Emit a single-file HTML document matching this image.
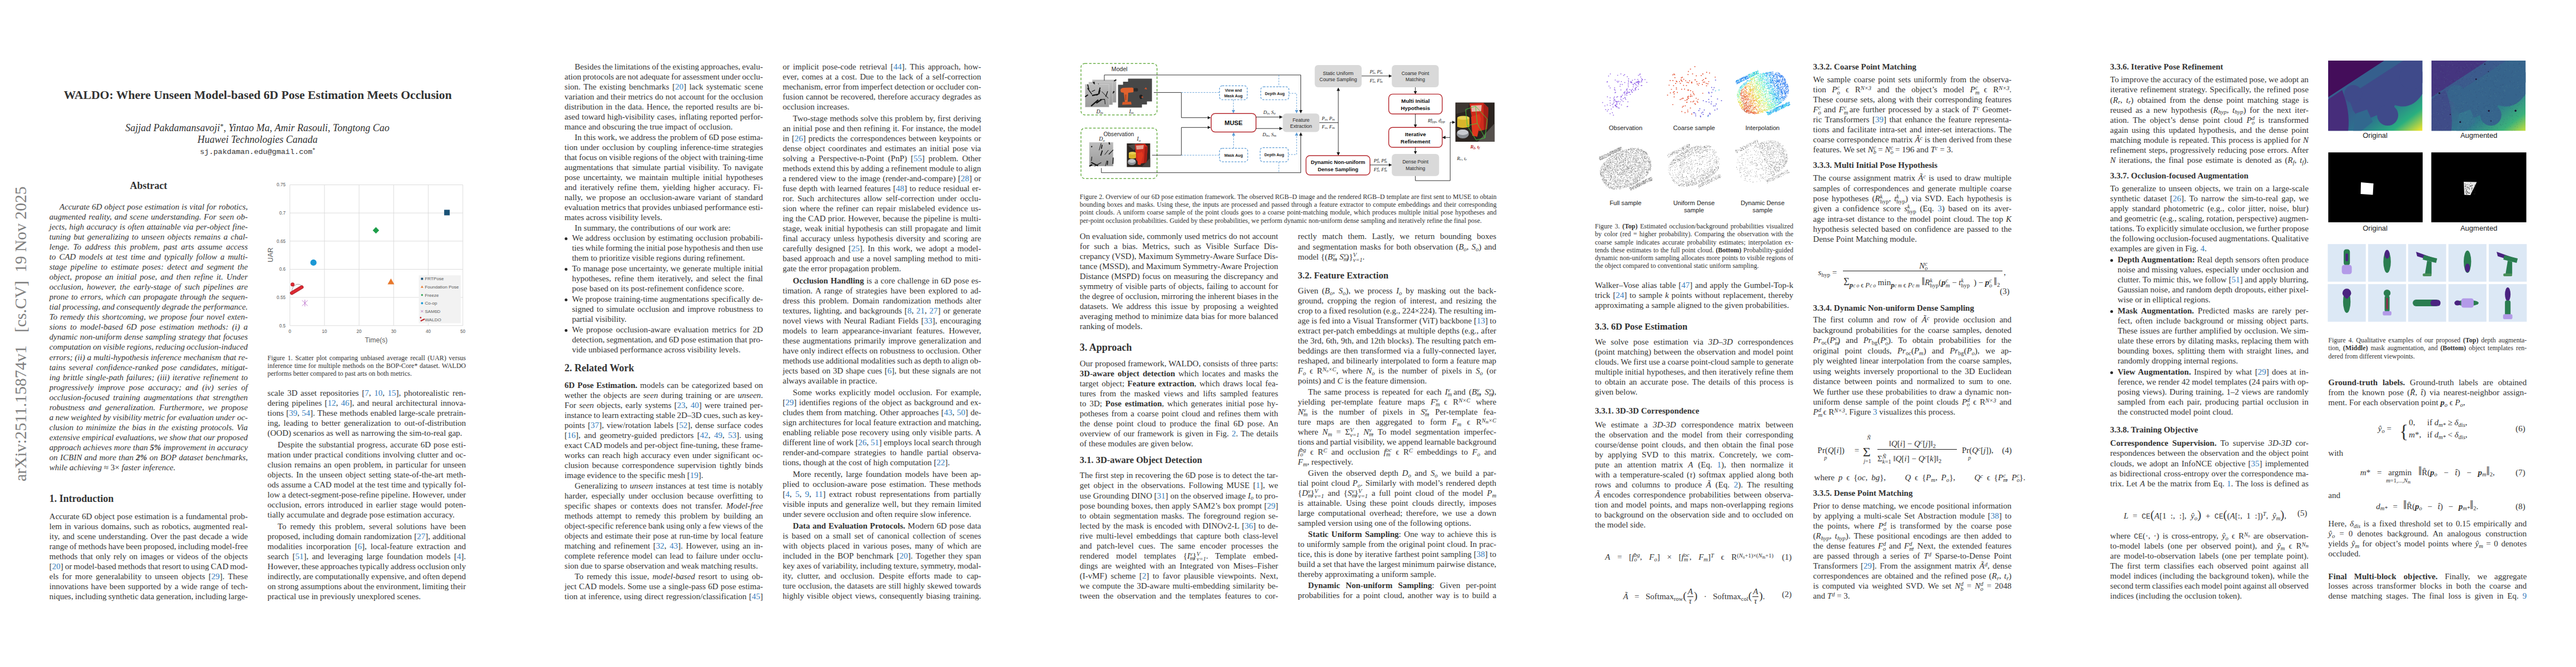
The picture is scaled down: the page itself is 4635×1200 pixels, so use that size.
<!DOCTYPE html><html><head><meta charset="utf-8"><style>
*{margin:0;padding:0}
html,body{width:4635px;height:1200px;overflow:hidden;background:#fff}
body{position:relative;font-family:"Liberation Serif",serif;color:#111}
.l{position:absolute;white-space:nowrap;line-height:1;color:#333;margin-top:1.5px}
.ct{color:#367dbd}
.m{font-style:italic}
.m r, r{font-style:normal}
.sb{font-size:70%;position:relative;top:0.28em;line-height:0}
.sp{font-size:70%;position:relative;top:-0.42em;line-height:0}
.st{position:relative;line-height:0;font-size:70%}
.st .su{position:relative;top:-0.48em}
.st .sl{position:absolute;left:0;top:0.41em;line-height:1}
.st .sua{position:absolute;left:0;top:-0.42em;line-height:1}
.st .slr{position:relative;top:0.357em}
.frac{display:inline-block;vertical-align:-0.52em;text-align:center;line-height:1.05;margin:-2em 1px}
.num{display:block;border-bottom:1px solid #1a1a1a;padding:0 1px}
.den{display:block}
.bul{position:absolute;width:5px;height:5px;border-radius:50%;background:#2a2a2a}
</style></head><body><div class="l " style="left:114.80px;top:159.63px;font-size:21.70px;"><b>WALDO: Where Unseen Model-based 6D Pose Estimation Meets Occlusion</b></div>
<div class="l " style="left:225.40px;top:219.93px;font-size:18.00px;"><i>Sajjad Pakdamansavoji</i><span class=sp>*</span>, <i>Yintao Ma</i>, <i>Amir Rasouli</i>, <i>Tongtong Cao</i></div>
<div class="l " style="left:355.20px;top:240.43px;font-size:18.00px;"><i>Huawei Technologies Canada</i></div>
<div class="l " style="left:359.70px;top:264.69px;font-size:13.50px;color:#333;"><span style="font-family:'Liberation Mono',monospace">sj.pakdaman.edu@gmail.com</span><span class=sp>*</span></div>
<div class="l " style="left:88.80px;width:357.00px;text-align:center;top:323.93px;font-size:18.00px;"><b>Abstract</b></div>
<div class="l " style="left:107.10px;top:363.44px;font-size:15.00px;word-spacing:0.380px;font-style:italic;">Accurate 6D object pose estimation is vital for robotics,</div>
<div class="l " style="left:88.80px;top:381.48px;font-size:15.00px;word-spacing:1.147px;font-style:italic;">augmented reality, and scene understanding. For seen ob-</div>
<div class="l " style="left:88.80px;top:399.51px;font-size:15.00px;word-spacing:0.768px;font-style:italic;">jects, high accuracy is often attainable via per-object fine-</div>
<div class="l " style="left:88.80px;top:417.55px;font-size:15.00px;word-spacing:1.574px;font-style:italic;">tuning but generalizing to unseen objects remains a chal-</div>
<div class="l " style="left:88.80px;top:435.59px;font-size:15.00px;word-spacing:2.957px;font-style:italic;">lenge. To address this problem, past arts assume access</div>
<div class="l " style="left:88.80px;top:453.63px;font-size:15.00px;word-spacing:2.203px;font-style:italic;">to CAD models at test time and typically follow a multi-</div>
<div class="l " style="left:88.80px;top:471.67px;font-size:15.00px;word-spacing:2.656px;font-style:italic;">stage pipeline to estimate poses: detect and segment the</div>
<div class="l " style="left:88.80px;top:489.71px;font-size:15.00px;word-spacing:2.201px;font-style:italic;">object, propose an initial pose, and then refine it. Under</div>
<div class="l " style="left:88.80px;top:507.75px;font-size:15.00px;word-spacing:2.578px;font-style:italic;">occlusion, however, the early-stage of such pipelines are</div>
<div class="l " style="left:88.80px;top:525.78px;font-size:15.00px;word-spacing:1.209px;font-style:italic;">prone to errors, which can propagate through the sequen-</div>
<div class="l " style="left:88.80px;top:543.82px;font-size:15.00px;word-spacing:-0.396px;font-style:italic;">tial processing, and consequently degrade the performance.</div>
<div class="l " style="left:88.80px;top:561.86px;font-size:15.00px;word-spacing:1.244px;font-style:italic;">To remedy this shortcoming, we propose four novel exten-</div>
<div class="l " style="left:88.80px;top:579.90px;font-size:15.00px;word-spacing:2.857px;font-style:italic;">sions to model-based 6D pose estimation methods: (i) a</div>
<div class="l " style="left:88.80px;top:597.94px;font-size:15.00px;word-spacing:0.617px;font-style:italic;">dynamic non-uniform dense sampling strategy that focuses</div>
<div class="l " style="left:88.80px;top:615.98px;font-size:15.00px;word-spacing:-0.366px;font-style:italic;">computation on visible regions, reducing occlusion-induced</div>
<div class="l " style="left:88.80px;top:634.01px;font-size:15.00px;word-spacing:0.116px;font-style:italic;">errors; (ii) a multi-hypothesis inference mechanism that re-</div>
<div class="l " style="left:88.80px;top:652.05px;font-size:15.00px;word-spacing:2.081px;font-style:italic;">tains several confidence-ranked pose candidates, mitigat-</div>
<div class="l " style="left:88.80px;top:670.09px;font-size:15.00px;word-spacing:1.346px;font-style:italic;">ing brittle single-path failures; (iii) iterative refinement to</div>
<div class="l " style="left:88.80px;top:688.13px;font-size:15.00px;word-spacing:3.571px;font-style:italic;">progressively improve pose accuracy; and (iv) series of</div>
<div class="l " style="left:88.80px;top:706.17px;font-size:15.00px;word-spacing:2.730px;font-style:italic;">occlusion-focused training augmentations that strengthen</div>
<div class="l " style="left:88.80px;top:724.21px;font-size:15.00px;word-spacing:3.319px;font-style:italic;">robustness and generalization. Furthermore, we propose</div>
<div class="l " style="left:88.80px;top:742.25px;font-size:15.00px;word-spacing:-0.188px;font-style:italic;">a new weighted by visibility metric for evaluation under oc-</div>
<div class="l " style="left:88.80px;top:760.28px;font-size:15.00px;word-spacing:1.615px;font-style:italic;">clusion to minimize the bias in the existing protocols. Via</div>
<div class="l " style="left:88.80px;top:778.32px;font-size:15.00px;word-spacing:-0.223px;font-style:italic;">extensive empirical evaluations, we show that our proposed</div>
<div class="l " style="left:88.80px;top:796.36px;font-size:15.00px;word-spacing:0.121px;font-style:italic;">approach achieves more than <b>5%</b> improvement in accuracy</div>
<div class="l " style="left:88.80px;top:814.40px;font-size:15.00px;word-spacing:0.688px;font-style:italic;">on ICBIN and more than <b>2%</b> on BOP dataset benchmarks,</div>
<div class="l " style="left:88.80px;top:832.44px;font-size:15.00px;font-style:italic;">while achieving <r>≈ 3×</r> faster inference.</div>
<div class="l " style="left:88.80px;top:886.52px;font-size:18.00px;"><b>1. Introduction</b></div>
<div class="l " style="left:88.80px;top:920.44px;font-size:15.00px;word-spacing:0.473px;">Accurate 6D object pose estimation is a fundamental prob-</div>
<div class="l " style="left:88.80px;top:938.44px;font-size:15.00px;word-spacing:1.094px;">lem in various domains, such as robotics, augmented real-</div>
<div class="l " style="left:88.80px;top:956.44px;font-size:15.00px;word-spacing:1.224px;">ity, and scene understanding. Over the past decade a wide</div>
<div class="l " style="left:88.80px;top:974.44px;font-size:15.00px;word-spacing:-0.531px;">range of methods have been proposed, including model-free</div>
<div class="l " style="left:88.80px;top:992.44px;font-size:15.00px;word-spacing:1.373px;">methods that only rely on images or videos of the objects</div>
<div class="l " style="left:88.80px;top:1010.44px;font-size:15.00px;word-spacing:-0.653px;">[<span class=ct>20</span>] or model-based methods that resort to using CAD mod-</div>
<div class="l " style="left:88.80px;top:1028.44px;font-size:15.00px;word-spacing:2.432px;">els for more generalability to unseen objects [<span class=ct>29</span>]. These</div>
<div class="l " style="left:88.80px;top:1046.44px;font-size:15.00px;word-spacing:1.207px;">innovations have been supported by a wide range of tech-</div>
<div class="l " style="left:88.80px;top:1064.44px;font-size:15.00px;word-spacing:-0.440px;">niques, including synthetic data generation, including large-</div>
<div class="l " style="left:481.30px;top:636.45px;font-size:12.00px;word-spacing:1.752px;">Figure 1. Scatter plot comparing unbiased average recall (UAR) versus</div>
<div class="l " style="left:481.30px;top:650.50px;font-size:12.00px;word-spacing:0.736px;">inference time for multiple methods on the BOP-Core* dataset. WALDO</div>
<div class="l " style="left:481.30px;top:664.55px;font-size:12.00px;">performs better compared to past arts on both metrics.</div>
<div class="l " style="left:481.30px;top:698.44px;font-size:15.00px;word-spacing:1.875px;">scale 3D asset repositories [<span class=ct>7</span>, <span class=ct>10</span>, <span class=ct>15</span>], photorealistic ren-</div>
<div class="l " style="left:481.30px;top:716.44px;font-size:15.00px;word-spacing:1.551px;">dering pipelines [<span class=ct>12</span>, <span class=ct>46</span>], and neural architectural innova-</div>
<div class="l " style="left:481.30px;top:734.44px;font-size:15.00px;word-spacing:0.679px;">tions [<span class=ct>39</span>, <span class=ct>54</span>]. These methods enabled large-scale pretrain-</div>
<div class="l " style="left:481.30px;top:752.44px;font-size:15.00px;word-spacing:2.362px;">ing, leading to better generalization to out-of-distribution</div>
<div class="l " style="left:481.30px;top:770.44px;font-size:15.00px;">(OOD) scenarios as well as narrowing the sim-to-real gap.</div>
<div class="l " style="left:499.60px;top:791.44px;font-size:15.00px;word-spacing:1.138px;">Despite the substantial progress, accurate 6D pose esti-</div>
<div class="l " style="left:481.30px;top:809.44px;font-size:15.00px;word-spacing:0.596px;">mation under practical conditions involving clutter and oc-</div>
<div class="l " style="left:481.30px;top:827.44px;font-size:15.00px;word-spacing:1.355px;">clusion remains an open problem, in particular for unseen</div>
<div class="l " style="left:481.30px;top:845.44px;font-size:15.00px;word-spacing:1.612px;">objects. In the unseen object setting state-of-the-art meth-</div>
<div class="l " style="left:481.30px;top:863.44px;font-size:15.00px;word-spacing:0.226px;">ods assume a CAD model at the test time and typically fol-</div>
<div class="l " style="left:481.30px;top:881.44px;font-size:15.00px;word-spacing:0.297px;">low a detect-segment-pose-refine pipeline. However, under</div>
<div class="l " style="left:481.30px;top:899.44px;font-size:15.00px;word-spacing:1.967px;">occlusion, errors introduced in earlier stage would poten-</div>
<div class="l " style="left:481.30px;top:917.44px;font-size:15.00px;">tially accumulate and degrade pose estimation accuracy.</div>
<div class="l " style="left:499.60px;top:938.44px;font-size:15.00px;word-spacing:3.308px;">To remedy this problem, several solutions have been</div>
<div class="l " style="left:481.30px;top:956.44px;font-size:15.00px;word-spacing:0.497px;">proposed, including domain randomization [<span class=ct>27</span>], additional</div>
<div class="l " style="left:481.30px;top:974.44px;font-size:15.00px;word-spacing:3.259px;">modalities incorporation [<span class=ct>6</span>], local-feature extraction and</div>
<div class="l " style="left:481.30px;top:992.44px;font-size:15.00px;word-spacing:2.779px;">search [<span class=ct>51</span>], and leveraging large foundation models [<span class=ct>4</span>].</div>
<div class="l " style="left:481.30px;top:1010.44px;font-size:15.00px;word-spacing:-0.591px;">However, these approaches typically address occlusion only</div>
<div class="l " style="left:481.30px;top:1028.44px;font-size:15.00px;word-spacing:-0.180px;">indirectly, are computationally expensive, and often depend</div>
<div class="l " style="left:481.30px;top:1046.44px;font-size:15.00px;word-spacing:-0.306px;">on strong assumptions about the environment, limiting their</div>
<div class="l " style="left:481.30px;top:1064.44px;font-size:15.00px;">practical use in previously unexplored scenes.</div>
<div style="position:absolute;left:48.4px;top:866.4px;transform-origin:0 0;transform:rotate(-90deg);white-space:nowrap;font-family:'Liberation Serif',serif;font-size:29.6px;line-height:1;color:#808080"><span style="position:relative;top:-24.79px">arXiv:2511.15874v1</span></div>
<div style="position:absolute;left:48.4px;top:597.6px;transform-origin:0 0;transform:rotate(-90deg);white-space:nowrap;font-family:'Liberation Serif',serif;font-size:29.6px;line-height:1;color:#808080"><span style="position:relative;top:-24.79px">[cs.CV]</span></div>
<div style="position:absolute;left:48.4px;top:489.5px;transform-origin:0 0;transform:rotate(-90deg);white-space:nowrap;font-family:'Liberation Serif',serif;font-size:29.6px;line-height:1;color:#808080"><span style="position:relative;top:-24.79px">19 Nov 2025</span></div>
<div class="l " style="left:1034.10px;top:111.44px;font-size:15.00px;word-spacing:-0.532px;">Besides the limitations of the existing approaches, evalu-</div>
<div class="l " style="left:1015.80px;top:129.44px;font-size:15.00px;word-spacing:-0.672px;">ation protocols are not adequate for assessment under occlu-</div>
<div class="l " style="left:1015.80px;top:147.44px;font-size:15.00px;word-spacing:1.766px;">sion. The existing benchmarks [<span class=ct>20</span>] lack systematic scene</div>
<div class="l " style="left:1015.80px;top:165.44px;font-size:15.00px;word-spacing:0.280px;">variation and their metrics do not account for the occlusion</div>
<div class="l " style="left:1015.80px;top:183.44px;font-size:15.00px;word-spacing:1.207px;">distribution in the data. Hence, the reported results are bi-</div>
<div class="l " style="left:1015.80px;top:201.44px;font-size:15.00px;word-spacing:0.609px;">ased toward high-visibility cases, inflating reported perfor-</div>
<div class="l " style="left:1015.80px;top:219.44px;font-size:15.00px;">mance and obscuring the true impact of occlusion.</div>
<div class="l " style="left:1034.10px;top:238.27px;font-size:15.00px;word-spacing:-0.082px;">In this work, we address the problem of 6D pose estima-</div>
<div class="l " style="left:1015.80px;top:256.27px;font-size:15.00px;word-spacing:1.323px;">tion under occlusion by coupling inference-time strategies</div>
<div class="l " style="left:1015.80px;top:274.27px;font-size:15.00px;word-spacing:-0.372px;">that focus on visible regions of the object with training-time</div>
<div class="l " style="left:1015.80px;top:292.27px;font-size:15.00px;word-spacing:2.185px;">augmentations that simulate partial visibility. To navigate</div>
<div class="l " style="left:1015.80px;top:310.27px;font-size:15.00px;word-spacing:2.521px;">pose uncertainty, we maintain multiple initial hypotheses</div>
<div class="l " style="left:1015.80px;top:328.27px;font-size:15.00px;word-spacing:2.645px;">and iteratively refine them, yielding higher accuracy. Fi-</div>
<div class="l " style="left:1015.80px;top:346.27px;font-size:15.00px;word-spacing:2.228px;">nally, we propose an occlusion-aware variant of standard</div>
<div class="l " style="left:1015.80px;top:364.27px;font-size:15.00px;word-spacing:-0.203px;">evaluation metrics that provides unbiased performance esti-</div>
<div class="l " style="left:1015.80px;top:382.27px;font-size:15.00px;">mates across visibility levels.</div>
<div class="l " style="left:1034.10px;top:401.10px;font-size:15.00px;">In summary, the contributions of our work are:</div>
<div class=bul style="left:1016.2px;top:427.0px"></div>
<div class="l " style="left:1029.20px;top:419.94px;font-size:15.00px;word-spacing:0.814px;">We address occlusion by estimating occlusion probabili-</div>
<div class="l " style="left:1029.20px;top:437.94px;font-size:15.00px;word-spacing:-0.567px;">ties while forming the initial pose hypothesis and then use</div>
<div class="l " style="left:1029.20px;top:455.94px;font-size:15.00px;">them to prioritize visible regions during refinement.</div>
<div class=bul style="left:1016.2px;top:481.8px"></div>
<div class="l " style="left:1029.20px;top:474.77px;font-size:15.00px;word-spacing:0.581px;">To manage pose uncertainty, we generate multiple initial</div>
<div class="l " style="left:1029.20px;top:492.77px;font-size:15.00px;word-spacing:2.396px;">hypotheses, refine them iteratively, and select the final</div>
<div class="l " style="left:1029.20px;top:510.77px;font-size:15.00px;">pose based on its post-refinement confidence score.</div>
<div class=bul style="left:1016.2px;top:536.7px"></div>
<div class="l " style="left:1029.20px;top:529.60px;font-size:15.00px;word-spacing:0.733px;">We propose training-time augmentations specifically de-</div>
<div class="l " style="left:1029.20px;top:547.60px;font-size:15.00px;word-spacing:1.650px;">signed to simulate occlusion and improve robustness to</div>
<div class="l " style="left:1029.20px;top:565.60px;font-size:15.00px;">partial visibility.</div>
<div class=bul style="left:1016.2px;top:591.5px"></div>
<div class="l " style="left:1029.20px;top:584.44px;font-size:15.00px;word-spacing:2.209px;">We propose occlusion-aware evaluation metrics for 2D</div>
<div class="l " style="left:1029.20px;top:602.44px;font-size:15.00px;word-spacing:-0.367px;">detection, segmentation, and 6D pose estimation that pro-</div>
<div class="l " style="left:1029.20px;top:620.44px;font-size:15.00px;">vide unbiased performance across visibility levels.</div>
<div class="l " style="left:1015.80px;top:651.72px;font-size:18.00px;"><b>2. Related Work</b></div>
<div class="l " style="left:1015.80px;top:684.24px;font-size:15.00px;word-spacing:1.146px;"><b>6D Pose Estimation.</b> models can be categorized based on</div>
<div class="l " style="left:1015.80px;top:702.24px;font-size:15.00px;word-spacing:1.625px;">wether the objects are <i>seen</i> during training or are <i>unseen</i>.</div>
<div class="l " style="left:1015.80px;top:720.24px;font-size:15.00px;word-spacing:1.516px;">For <i>seen</i> objects, early systems [<span class=ct>23</span>, <span class=ct>40</span>] were trained per-</div>
<div class="l " style="left:1015.80px;top:738.24px;font-size:15.00px;word-spacing:-0.413px;">instance to learn extracting stable 2D–3D cues, such as key-</div>
<div class="l " style="left:1015.80px;top:756.24px;font-size:15.00px;word-spacing:1.429px;">points [<span class=ct>37</span>], view/rotation labels [<span class=ct>52</span>], dense surface codes</div>
<div class="l " style="left:1015.80px;top:774.24px;font-size:15.00px;word-spacing:2.737px;">[<span class=ct>16</span>], and geometry-guided predictors [<span class=ct>42</span>, <span class=ct>49</span>, <span class=ct>53</span>]. using</div>
<div class="l " style="left:1015.80px;top:792.24px;font-size:15.00px;word-spacing:0.107px;">exact CAD models and per-object fine-tuning, these frame-</div>
<div class="l " style="left:1015.80px;top:810.24px;font-size:15.00px;word-spacing:1.520px;">works can reach high accuracy even under significant oc-</div>
<div class="l " style="left:1015.80px;top:828.24px;font-size:15.00px;word-spacing:2.497px;">clusion because correspondence supervision tightly binds</div>
<div class="l " style="left:1015.80px;top:846.24px;font-size:15.00px;">image evidence to the specific mesh [<span class=ct>19</span>].</div>
<div class="l " style="left:1034.10px;top:865.34px;font-size:15.00px;word-spacing:1.201px;">Generalizing to <i>unseen</i> instances at test time is notably</div>
<div class="l " style="left:1015.80px;top:883.34px;font-size:15.00px;word-spacing:3.161px;">harder, especially under occlusion because overfitting to</div>
<div class="l " style="left:1015.80px;top:901.34px;font-size:15.00px;word-spacing:2.877px;">specific shapes or contexts does not transfer. <i>Model-free</i></div>
<div class="l " style="left:1015.80px;top:919.34px;font-size:15.00px;word-spacing:2.965px;">methods attempt to remedy this problem by building an</div>
<div class="l " style="left:1015.80px;top:937.34px;font-size:15.00px;word-spacing:-0.457px;">object-specific reference bank using only a few views of the</div>
<div class="l " style="left:1015.80px;top:955.34px;font-size:15.00px;word-spacing:0.653px;">objects and estimate their pose at run-time by local feature</div>
<div class="l " style="left:1015.80px;top:973.34px;font-size:15.00px;word-spacing:1.951px;">matching and refinement [<span class=ct>32</span>, <span class=ct>43</span>]. However, using an in-</div>
<div class="l " style="left:1015.80px;top:991.34px;font-size:15.00px;word-spacing:1.314px;">complete reference model can lead to failure under occlu-</div>
<div class="l " style="left:1015.80px;top:1009.34px;font-size:15.00px;">sion due to sparse observation and weak matching results.</div>
<div class="l " style="left:1034.10px;top:1028.44px;font-size:15.00px;word-spacing:2.212px;">To remedy this issue, <i>model-based</i> resort to using ob-</div>
<div class="l " style="left:1015.80px;top:1046.44px;font-size:15.00px;word-spacing:0.599px;">ject CAD models. Some use a single-pass 6D pose estima-</div>
<div class="l " style="left:1015.80px;top:1064.44px;font-size:15.00px;word-spacing:0.698px;">tion at inference, using direct regression/classification [<span class=ct>45</span>]</div>
<div class="l " style="left:1408.30px;top:111.64px;font-size:15.00px;word-spacing:2.304px;">or implicit pose-code retrieval [<span class=ct>44</span>]. This approach, how-</div>
<div class="l " style="left:1408.30px;top:129.64px;font-size:15.00px;word-spacing:1.500px;">ever, comes at a cost. Due to the lack of a self-correction</div>
<div class="l " style="left:1408.30px;top:147.64px;font-size:15.00px;word-spacing:-0.406px;">mechanism, error from imperfect detection or occluder con-</div>
<div class="l " style="left:1408.30px;top:165.64px;font-size:15.00px;word-spacing:0.431px;">fusion cannot be recovered, therefore accuracy degrades as</div>
<div class="l " style="left:1408.30px;top:183.64px;font-size:15.00px;">occlusion increases.</div>
<div class="l " style="left:1426.60px;top:204.90px;font-size:15.00px;word-spacing:0.587px;">Two-stage methods solve this problem by, first deriving</div>
<div class="l " style="left:1408.30px;top:222.90px;font-size:15.00px;word-spacing:0.625px;">an initial pose and then refining it. For instance, the model</div>
<div class="l " style="left:1408.30px;top:240.90px;font-size:15.00px;word-spacing:1.074px;">in [<span class=ct>26</span>] predicts the correspondences between keypoints or</div>
<div class="l " style="left:1408.30px;top:258.90px;font-size:15.00px;word-spacing:1.824px;">dense object coordinates and estimates an initial pose via</div>
<div class="l " style="left:1408.30px;top:276.90px;font-size:15.00px;word-spacing:3.049px;">solving a Perspective-n-Point (PnP) [<span class=ct>55</span>] problem. Other</div>
<div class="l " style="left:1408.30px;top:294.90px;font-size:15.00px;word-spacing:-0.372px;">methods extend this by adding a refinement module to align</div>
<div class="l " style="left:1408.30px;top:312.90px;font-size:15.00px;word-spacing:0.412px;">a rendered view to the image (render-and-compare) [<span class=ct>28</span>] or</div>
<div class="l " style="left:1408.30px;top:330.90px;font-size:15.00px;word-spacing:0.688px;">fuse depth with learned features [<span class=ct>48</span>] to reduce residual er-</div>
<div class="l " style="left:1408.30px;top:348.90px;font-size:15.00px;word-spacing:2.508px;">ror. Such architectures allow self-correction under occlu-</div>
<div class="l " style="left:1408.30px;top:366.90px;font-size:15.00px;word-spacing:1.832px;">sion where the refiner can repair mislabeled evidence us-</div>
<div class="l " style="left:1408.30px;top:384.90px;font-size:15.00px;word-spacing:0.344px;">ing the CAD prior. However, because the pipeline is multi-</div>
<div class="l " style="left:1408.30px;top:402.90px;font-size:15.00px;word-spacing:1.145px;">stage, weak initial hypothesis can still propagate and limit</div>
<div class="l " style="left:1408.30px;top:420.90px;font-size:15.00px;word-spacing:1.670px;">final accuracy unless hypothesis diversity and scoring are</div>
<div class="l " style="left:1408.30px;top:438.90px;font-size:15.00px;word-spacing:2.130px;">carefully designed [<span class=ct>25</span>]. In this work, we adopt a model-</div>
<div class="l " style="left:1408.30px;top:456.90px;font-size:15.00px;word-spacing:1.295px;">based approach and use a novel sampling method to miti-</div>
<div class="l " style="left:1408.30px;top:474.90px;font-size:15.00px;">gate the error propagation problem.</div>
<div class="l " style="left:1426.60px;top:496.16px;font-size:15.00px;word-spacing:0.737px;"><b>Occlusion Handling</b> is a core challenge in 6D pose es-</div>
<div class="l " style="left:1408.30px;top:514.16px;font-size:15.00px;word-spacing:1.993px;">timation. A range of strategies have been explored to ad-</div>
<div class="l " style="left:1408.30px;top:532.16px;font-size:15.00px;word-spacing:2.635px;">dress this problem. Domain randomization methods alter</div>
<div class="l " style="left:1408.30px;top:550.16px;font-size:15.00px;word-spacing:1.092px;">textures, lighting, and backgrounds [<span class=ct>8</span>, <span class=ct>21</span>, <span class=ct>27</span>] or generate</div>
<div class="l " style="left:1408.30px;top:568.16px;font-size:15.00px;word-spacing:1.248px;">novel views with Neural Radiant Fields [<span class=ct>33</span>], encouraging</div>
<div class="l " style="left:1408.30px;top:586.16px;font-size:15.00px;word-spacing:3.634px;">models to learn appearance-invariant features. However,</div>
<div class="l " style="left:1408.30px;top:604.16px;font-size:15.00px;word-spacing:1.506px;">these augmentations primarily improve generalization and</div>
<div class="l " style="left:1408.30px;top:622.16px;font-size:15.00px;word-spacing:0.139px;">have only indirect effects on robustness to occlusion. Other</div>
<div class="l " style="left:1408.30px;top:640.16px;font-size:15.00px;word-spacing:-0.559px;">methods use additional modalities such as depth to align ob-</div>
<div class="l " style="left:1408.30px;top:658.16px;font-size:15.00px;word-spacing:0.871px;">jects based on 3D shape cues [<span class=ct>6</span>], but these signals are not</div>
<div class="l " style="left:1408.30px;top:676.16px;font-size:15.00px;">always available in practice.</div>
<div class="l " style="left:1426.60px;top:697.42px;font-size:15.00px;word-spacing:2.429px;">Some works explicitly model occlusion. For example,</div>
<div class="l " style="left:1408.30px;top:715.42px;font-size:15.00px;word-spacing:0.743px;">[<span class=ct>29</span>] identifies regions of the object as background and ex-</div>
<div class="l " style="left:1408.30px;top:733.42px;font-size:15.00px;word-spacing:0.680px;">cludes them from matching. Other approaches [<span class=ct>43</span>, <span class=ct>50</span>] de-</div>
<div class="l " style="left:1408.30px;top:751.42px;font-size:15.00px;word-spacing:-0.049px;">sign architectures for local feature extraction and matching,</div>
<div class="l " style="left:1408.30px;top:769.42px;font-size:15.00px;word-spacing:1.041px;">enabling reliable pose recovery using only visible parts. A</div>
<div class="l " style="left:1408.30px;top:787.42px;font-size:15.00px;word-spacing:-0.293px;">different line of work [<span class=ct>26</span>, <span class=ct>51</span>] employs local search through</div>
<div class="l " style="left:1408.30px;top:805.42px;font-size:15.00px;word-spacing:3.741px;">render-and-compare strategies to handle partial observa-</div>
<div class="l " style="left:1408.30px;top:823.42px;font-size:15.00px;">tions, though at the cost of high computation [<span class=ct>22</span>].</div>
<div class="l " style="left:1426.60px;top:844.68px;font-size:15.00px;word-spacing:2.151px;">More recently, large foundation models have been ap-</div>
<div class="l " style="left:1408.30px;top:862.68px;font-size:15.00px;word-spacing:2.406px;">plied to occlusion-aware pose estimation. These methods</div>
<div class="l " style="left:1408.30px;top:880.68px;font-size:15.00px;word-spacing:2.568px;">[<span class=ct>4</span>, <span class=ct>5</span>, <span class=ct>9</span>, <span class=ct>11</span>] extract robust representations from partially</div>
<div class="l " style="left:1408.30px;top:898.68px;font-size:15.00px;word-spacing:1.043px;">visible inputs and generalize well, but they remain limited</div>
<div class="l " style="left:1408.30px;top:916.68px;font-size:15.00px;">under severe occlusion and often require slow inference.</div>
<div class="l " style="left:1426.60px;top:937.94px;font-size:15.00px;word-spacing:0.805px;"><b>Data and Evaluation Protocols.</b> Modern 6D pose data</div>
<div class="l " style="left:1408.30px;top:955.94px;font-size:15.00px;word-spacing:2.377px;">is based on a small set of canonical collection of scenes</div>
<div class="l " style="left:1408.30px;top:973.94px;font-size:15.00px;word-spacing:2.361px;">with objects placed in various poses, many of which are</div>
<div class="l " style="left:1408.30px;top:991.94px;font-size:15.00px;word-spacing:1.900px;">included in the BOP benchmark [<span class=ct>20</span>]. Together they span</div>
<div class="l " style="left:1408.30px;top:1009.94px;font-size:15.00px;word-spacing:-0.257px;">key axes of variability, including texture, symmetry, modal-</div>
<div class="l " style="left:1408.30px;top:1027.94px;font-size:15.00px;word-spacing:3.670px;">ity, clutter, and occlusion. Despite efforts made to cap-</div>
<div class="l " style="left:1408.30px;top:1045.94px;font-size:15.00px;word-spacing:0.625px;">ture occlusion, the datasets are still highly skewed towards</div>
<div class="l " style="left:1408.30px;top:1063.94px;font-size:15.00px;word-spacing:1.315px;">highly visible object views, consequently biasing training.</div>
<div class="l " style="left:1942.80px;top:346.45px;font-size:12.00px;word-spacing:0.072px;">Figure 2. Overview of our 6D pose estimation framework. The observed RGB–D image and the rendered RGB–D template are first sent to MUSE to obtain</div>
<div class="l " style="left:1942.80px;top:360.72px;font-size:12.00px;word-spacing:0.786px;">bounding boxes and masks. Using these, the inputs are processed and passed through a feature extractor to compute embeddings and their corresponding</div>
<div class="l " style="left:1942.80px;top:374.98px;font-size:12.00px;word-spacing:0.946px;">point clouds. A uniform coarse sample of the point clouds goes to a coarse point-matching module, which produces multiple initial pose hypotheses and</div>
<div class="l " style="left:1942.80px;top:389.25px;font-size:12.00px;">per-point occlusion probabilities. Guided by these probabilities, we perform dynamic non-uniform dense sampling and iteratively refine the final pose.</div>
<div class="l " style="left:1942.80px;top:416.44px;font-size:15.00px;word-spacing:0.207px;">On evaluation side, commonly used metrics do not account</div>
<div class="l " style="left:1942.80px;top:434.44px;font-size:15.00px;word-spacing:4.481px;">for such a bias. Metrics, such as Visible Surface Dis-</div>
<div class="l " style="left:1942.80px;top:452.44px;font-size:15.00px;word-spacing:0.028px;">crepancy (VSD), Maximum Symmetry-Aware Surface Dis-</div>
<div class="l " style="left:1942.80px;top:470.44px;font-size:15.00px;word-spacing:0.022px;">tance (MSSD), and Maximum Symmetry-Aware Projection</div>
<div class="l " style="left:1942.80px;top:488.44px;font-size:15.00px;word-spacing:0.833px;">Distance (MSPD) focus on measuring the discrepancy and</div>
<div class="l " style="left:1942.80px;top:506.44px;font-size:15.00px;word-spacing:0.878px;">symmetry of visible parts of objects, failing to account for</div>
<div class="l " style="left:1942.80px;top:524.44px;font-size:15.00px;word-spacing:-0.043px;">the degree of occlusion, mirroring the inherent biases in the</div>
<div class="l " style="left:1942.80px;top:542.44px;font-size:15.00px;word-spacing:2.891px;">datasets. We address this issue by proposing a weighted</div>
<div class="l " style="left:1942.80px;top:560.44px;font-size:15.00px;word-spacing:0.475px;">averaging method to minimize data bias for more balanced</div>
<div class="l " style="left:1942.80px;top:578.44px;font-size:15.00px;">ranking of models.</div>
<div class="l " style="left:1942.80px;top:614.22px;font-size:18.00px;"><b>3. Approach</b></div>
<div class="l " style="left:1942.80px;top:645.54px;font-size:15.00px;word-spacing:0.277px;">Our proposed framework, WALDO, consists of three parts:</div>
<div class="l " style="left:1942.80px;top:663.58px;font-size:15.00px;word-spacing:2.183px;"><b>3D-aware object detection</b> which locates and masks the</div>
<div class="l " style="left:1942.80px;top:681.61px;font-size:15.00px;word-spacing:1.810px;">target object; <b>Feature extraction</b>, which draws local fea-</div>
<div class="l " style="left:1942.80px;top:699.65px;font-size:15.00px;word-spacing:3.387px;">tures from the masked views and lifts sampled features</div>
<div class="l " style="left:1942.80px;top:717.69px;font-size:15.00px;word-spacing:2.184px;">to 3D; <b>Pose estimation</b>, which generates initial pose hy-</div>
<div class="l " style="left:1942.80px;top:735.73px;font-size:15.00px;word-spacing:1.575px;">potheses from a coarse point cloud and refines them with</div>
<div class="l " style="left:1942.80px;top:753.76px;font-size:15.00px;word-spacing:2.998px;">the dense point cloud to produce the final 6D pose. An</div>
<div class="l " style="left:1942.80px;top:771.80px;font-size:15.00px;word-spacing:1.317px;">overview of our framework is given in Fig. <span class=ct>2</span>. The details</div>
<div class="l " style="left:1942.80px;top:789.84px;font-size:15.00px;">of these modules are given below.</div>
<div class="l " style="left:1942.80px;top:818.58px;font-size:16.50px;"><b>3.1. 3D-aware Object Detection</b></div>
<div class="l " style="left:1942.80px;top:846.84px;font-size:15.00px;word-spacing:0.340px;">The first step in recovering the 6D pose is to detect the tar-</div>
<div class="l " style="left:1942.80px;top:864.93px;font-size:15.00px;word-spacing:2.545px;">get object in the observations. Following MUSE [<span class=ct>1</span>], we</div>
<div class="l " style="left:1942.80px;top:883.02px;font-size:15.00px;word-spacing:0.097px;">use Grounding DINO [<span class=ct>31</span>] on the observed image <span class=m>I<span class=sb>o</span></span> to pro-</div>
<div class="l " style="left:1942.80px;top:901.11px;font-size:15.00px;word-spacing:0.512px;">pose bounding boxes, then apply SAM2’s box prompt [<span class=ct>29</span>]</div>
<div class="l " style="left:1942.80px;top:919.20px;font-size:15.00px;word-spacing:2.121px;">to obtain segmentation masks. The foreground region se-</div>
<div class="l " style="left:1942.80px;top:937.30px;font-size:15.00px;word-spacing:1.014px;">lected by the mask is encoded with DINOv2-L [<span class=ct>36</span>] to de-</div>
<div class="l " style="left:1942.80px;top:955.39px;font-size:15.00px;word-spacing:2.711px;">rive multi-level embeddings that capture both class-level</div>
<div class="l " style="left:1942.80px;top:973.48px;font-size:15.00px;word-spacing:4.987px;">and patch-level cues. The same encoder processes the</div>
<div class="l " style="left:1942.80px;top:991.57px;font-size:15.00px;word-spacing:9.134px;">rendered model templates <span class=m><r>{</r>I<span class=st><span class=su>v</span><span class=sl>m</span></span><r>}</r><span class=st><span class=sua>V</span><span class=slr>v=1</span></span></span><r>.</r> Template embed-</div>
<div class="l " style="left:1942.80px;top:1009.66px;font-size:15.00px;word-spacing:2.855px;">dings are weighted with an Integrated von Mises–Fisher</div>
<div class="l " style="left:1942.80px;top:1027.75px;font-size:15.00px;word-spacing:2.734px;">(I-vMF) scheme [<span class=ct>2</span>] to favor plausible viewpoints. Next,</div>
<div class="l " style="left:1942.80px;top:1045.85px;font-size:15.00px;word-spacing:1.323px;">we compute the 3D-aware multi-embedding similarity be-</div>
<div class="l " style="left:1942.80px;top:1063.94px;font-size:15.00px;word-spacing:2.803px;">tween the observation and the templates features to cor-</div>
<div class="l " style="left:2335.30px;top:416.94px;font-size:15.00px;word-spacing:5.853px;">rectly match them. Lastly, we return bounding boxes</div>
<div class="l " style="left:2335.30px;top:435.19px;font-size:15.00px;word-spacing:1.393px;">and segmentation masks for both observation (<span class=m>B<span class=sb>o</span><r>, </r>S<span class=sb>o</span></span>) and</div>
<div class="l " style="left:2335.30px;top:453.44px;font-size:15.00px;">model <span class=m><r>{(</r>B<span class=st><span class=su>v</span><span class=sl>m</span></span><r>, </r>S<span class=st><span class=su>v</span><span class=sl>m</span></span><r>)}</r><span class=st><span class=sua>V</span><span class=slr>v=1</span></span></span>.</div>
<div class="l " style="left:2335.30px;top:486.18px;font-size:16.50px;"><b>3.2. Feature Extraction</b></div>
<div class="l " style="left:2335.30px;top:514.44px;font-size:15.00px;word-spacing:2.880px;">Given (<span class=m>B<span class=sb>o</span><r>, </r>S<span class=sb>o</span></span>), we process <span class=m>I<span class=sb>o</span></span> by masking out the back-</div>
<div class="l " style="left:2335.30px;top:532.44px;font-size:15.00px;word-spacing:2.865px;">ground, cropping the region of interest, and resizing the</div>
<div class="l " style="left:2335.30px;top:550.44px;font-size:15.00px;word-spacing:-0.170px;">crop to a fixed resolution (e.g., 224×224). The resulting im-</div>
<div class="l " style="left:2335.30px;top:568.44px;font-size:15.00px;word-spacing:-0.002px;">age is fed into a Visual Transformer (ViT) backbone [<span class=ct>13</span>] to</div>
<div class="l " style="left:2335.30px;top:586.44px;font-size:15.00px;word-spacing:0.467px;">extract per-patch embeddings at multiple depths (e.g., after</div>
<div class="l " style="left:2335.30px;top:604.44px;font-size:15.00px;word-spacing:0.402px;">the 3rd, 6th, 9th, and 12th blocks). The resulting patch em-</div>
<div class="l " style="left:2335.30px;top:622.44px;font-size:15.00px;word-spacing:1.105px;">beddings are then transformed via a fully-connected layer,</div>
<div class="l " style="left:2335.30px;top:640.44px;font-size:15.00px;word-spacing:0.527px;">reshaped, and bilinearly interpolated to form a feature map</div>
<div class="l " style="left:2335.30px;top:658.44px;font-size:15.00px;word-spacing:3.052px;"><span class=m>F<span class=sb>o</span></span> <r>ϵ</r> <r>R</r><span class=m><span class=sp>N<span class=sb>o</span>×C</span></span>, where <span class=m>N<span class=sb>o</span></span> is the number of pixels in <span class=m>S<span class=sb>o</span></span> (or</div>
<div class="l " style="left:2335.30px;top:676.44px;font-size:15.00px;">points) and <span class=m>C</span> is the feature dimension.</div>
<div class="l " style="left:2353.60px;top:696.56px;font-size:15.00px;word-spacing:2.147px;">The same process is repeated for each <span class=m>I<span class=st><span class=su>v</span><span class=sl>m</span></span></span> and (<span class=m>B<span class=st><span class=su>v</span><span class=sl>m</span></span><r>, </r>S<span class=st><span class=su>v</span><span class=sl>m</span></span></span>),</div>
<div class="l " style="left:2335.30px;top:714.56px;font-size:15.00px;word-spacing:6.444px;">yielding per-template feature maps <span class=m>F<span class=st><span class=su>v</span><span class=sl>m</span></span></span> <r>ϵ</r> <r>R</r><span class=m><span class=sp>N×C</span></span> where</div>
<div class="l " style="left:2335.30px;top:732.56px;font-size:15.00px;word-spacing:6.538px;"><span class=m>N<span class=st><span class=su>v</span><span class=sl>m</span></span></span> is the number of pixels in <span class=m>S<span class=st><span class=su>v</span><span class=sl>m</span></span></span>. Per-template fea-</div>
<div class="l " style="left:2335.30px;top:750.56px;font-size:15.00px;word-spacing:6.469px;">ture maps are then aggregated to form <span class=m>F<span class=sb>m</span></span> <r>ϵ</r> <r>R</r><span class=m><span class=sp>N<span class=sb>m</span>×C</span></span></div>
<div class="l " style="left:2335.30px;top:768.56px;font-size:15.00px;word-spacing:3.621px;">where <span class=m>N<span class=sb>m</span></span> <r>=</r> <r>Σ</r><span class=m><span class=st><span class=sua>V</span><span class=slr>v=1</span></span></span> <span class=m>N<span class=st><span class=su>v</span><span class=sl>m</span></span></span>. To model segmentation imperfec-</div>
<div class="l " style="left:2335.30px;top:786.56px;font-size:15.00px;word-spacing:-0.156px;">tions and partial visibility, we append learnable background</div>
<div class="l " style="left:2335.30px;top:804.56px;font-size:15.00px;word-spacing:3.760px;"><span class=m>f<span class=st><span class=su>bg</span><span class=sl>o</span></span></span> <r>ϵ</r> <r>R</r><span class=m><span class=sp>C</span></span> and occlusion <span class=m>f<span class=st><span class=su>oc</span><span class=sl>m</span></span></span> <r>ϵ</r> <r>R</r><span class=m><span class=sp>C</span></span> embeddings to <span class=m>F<span class=sb>o</span></span> and</div>
<div class="l " style="left:2335.30px;top:822.56px;font-size:15.00px;"><span class=m>F<span class=sb>m</span></span>, respectively.</div>
<div class="l " style="left:2353.60px;top:842.69px;font-size:15.00px;word-spacing:2.937px;">Given the observed depth <span class=m>D<span class=sb>o</span></span> and <span class=m>S<span class=sb>o</span></span> we build a par-</div>
<div class="l " style="left:2335.30px;top:860.69px;font-size:15.00px;word-spacing:1.213px;">tial point cloud <span class=m>P<span class=sb>o</span></span>. Similarly with model’s rendered depth</div>
<div class="l " style="left:2335.30px;top:878.69px;font-size:15.00px;word-spacing:3.059px;"><r>{</r><span class=m>D<span class=st><span class=su>v</span><span class=sl>m</span></span></span><r>}</r><span class=m><span class=st><span class=sua>V</span><span class=slr>v=1</span></span></span> and <r>{</r><span class=m>S<span class=st><span class=su>v</span><span class=sl>m</span></span></span><r>}</r><span class=m><span class=st><span class=sua>V</span><span class=slr>v=1</span></span></span> a full point cloud of the model <span class=m>P<span class=sb>m</span></span></div>
<div class="l " style="left:2335.30px;top:896.69px;font-size:15.00px;word-spacing:3.469px;">is attainable. Using these point clouds directly, imposes</div>
<div class="l " style="left:2335.30px;top:914.69px;font-size:15.00px;word-spacing:2.962px;">large computational overhead; therefore, we use a down</div>
<div class="l " style="left:2335.30px;top:932.69px;font-size:15.00px;">sampled version using one of the following options.</div>
<div class="l " style="left:2353.60px;top:952.81px;font-size:15.00px;word-spacing:1.611px;"><b>Static Uniform Sampling</b>: One way to achieve this is</div>
<div class="l " style="left:2335.30px;top:970.81px;font-size:15.00px;word-spacing:0.417px;">to uniformly sample from the original point cloud. In prac-</div>
<div class="l " style="left:2335.30px;top:988.81px;font-size:15.00px;word-spacing:0.164px;">tice, this is done by iterative farthest point sampling [<span class=ct>38</span>] to</div>
<div class="l " style="left:2335.30px;top:1006.81px;font-size:15.00px;word-spacing:-0.201px;">build a set that have the largest minimum pairwise distance,</div>
<div class="l " style="left:2335.30px;top:1024.81px;font-size:15.00px;">thereby approximating a uniform sample.</div>
<div class="l " style="left:2353.60px;top:1044.94px;font-size:15.00px;word-spacing:6.413px;"><b>Dynamic Non-uniform Sampling</b>: Given per-point</div>
<div class="l " style="left:2335.30px;top:1062.94px;font-size:15.00px;word-spacing:2.331px;">probabilities for a point cloud, another way is to build a</div>
<div class="l " style="left:2869.80px;top:399.45px;font-size:12.00px;word-spacing:1.411px;">Figure 3. <b>(Top)</b> Estimated occlusion/background probabilities visualized</div>
<div class="l " style="left:2869.80px;top:413.73px;font-size:12.00px;word-spacing:1.331px;">by color (red = higher probability). Comparing the observation with the</div>
<div class="l " style="left:2869.80px;top:428.01px;font-size:12.00px;word-spacing:1.636px;">coarse sample indicates accurate probability estimates; interpolation ex-</div>
<div class="l " style="left:2869.80px;top:442.29px;font-size:12.00px;word-spacing:0.486px;">tends these estimates to the full point cloud. <b>(Bottom)</b> Probability-guided</div>
<div class="l " style="left:2869.80px;top:456.57px;font-size:12.00px;word-spacing:0.155px;">dynamic non-uniform sampling allocates more points to visible regions of</div>
<div class="l " style="left:2869.80px;top:470.85px;font-size:12.00px;">the object compared to conventional static uniform sampling.</div>
<div class="l " style="left:2869.80px;top:504.94px;font-size:15.00px;word-spacing:1.078px;">Walker–Vose alias table [<span class=ct>47</span>] and apply the Gumbel-Top-k</div>
<div class="l " style="left:2869.80px;top:522.94px;font-size:15.00px;word-spacing:1.145px;">trick [<span class=ct>24</span>] to sample <span class=m>k</span> points without replacement, thereby</div>
<div class="l " style="left:2869.80px;top:540.94px;font-size:15.00px;">approximating a sample aligned to the given probabilities.</div>
<div class="l " style="left:2869.80px;top:578.08px;font-size:16.50px;"><b>3.3. 6D Pose Estimation</b></div>
<div class="l " style="left:2869.80px;top:606.64px;font-size:15.00px;word-spacing:5.128px;">We solve pose estimation via <i>3D–3D</i> correspondences</div>
<div class="l " style="left:2869.80px;top:624.64px;font-size:15.00px;word-spacing:0.833px;">(point matching) between the observation and model point</div>
<div class="l " style="left:2869.80px;top:642.64px;font-size:15.00px;word-spacing:-0.248px;">clouds. We first use a coarse point-cloud sample to generate</div>
<div class="l " style="left:2869.80px;top:660.64px;font-size:15.00px;word-spacing:0.299px;">multiple initial hypotheses, and then iteratively refine them</div>
<div class="l " style="left:2869.80px;top:678.64px;font-size:15.00px;word-spacing:2.361px;">to obtain an accurate pose. The details of this process is</div>
<div class="l " style="left:2869.80px;top:696.64px;font-size:15.00px;">given below.</div>
<div class="l " style="left:2869.80px;top:730.34px;font-size:15.00px;"><b>3.3.1. 3D-3D Correspondence</b></div>
<div class="l " style="left:2869.80px;top:755.44px;font-size:15.00px;word-spacing:5.552px;">We estimate a <i>3D-3D</i> correspondence matrix between</div>
<div class="l " style="left:2869.80px;top:773.44px;font-size:15.00px;word-spacing:3.214px;">the observation and the model from their corresponding</div>
<div class="l " style="left:2869.80px;top:791.44px;font-size:15.00px;word-spacing:2.188px;">course/dense point clouds, and then obtain the final pose</div>
<div class="l " style="left:2869.80px;top:809.44px;font-size:15.00px;word-spacing:4.545px;">by applying SVD to this matrix. Concretely, we com-</div>
<div class="l " style="left:2869.80px;top:827.44px;font-size:15.00px;word-spacing:5.182px;">pute an attention matrix <span class=m>A</span> (Eq. <span class=ct>1</span>), then normalize it</div>
<div class="l " style="left:2869.80px;top:845.44px;font-size:15.00px;word-spacing:2.212px;">with a temperature-scaled (<span class=m>τ</span>) softmax applied along both</div>
<div class="l " style="left:2869.80px;top:863.44px;font-size:15.00px;word-spacing:3.913px;">rows and columns to produce <span class=m>Ã</span> (Eq. <span class=ct>2</span>). The resulting</div>
<div class="l " style="left:2869.80px;top:881.44px;font-size:15.00px;word-spacing:2.009px;"><span class=m>Ã</span> encodes correspondence probabilities between observa-</div>
<div class="l " style="left:2869.80px;top:899.44px;font-size:15.00px;word-spacing:1.603px;">tion and model points, and maps non-overlapping regions</div>
<div class="l " style="left:2869.80px;top:917.44px;font-size:15.00px;word-spacing:1.203px;">to background on the observation side and to occluded on</div>
<div class="l " style="left:2869.80px;top:935.44px;font-size:15.00px;">the model side.</div>
<div class="l " style="left:2888.00px;top:993.44px;font-size:15.00px;word-spacing:8.980px;"><span class=m>A</span> <r>= [</r><span class=m>f<span class=st><span class=su>bg</span><span class=sl>o</span></span></span><r>, </r><span class=m>F<span class=sb>o</span></span><r>] × [</r><span class=m>f<span class=st><span class=su>oc</span><span class=sl>m</span></span></span><r>, </r><span class=m>F<span class=sb>m</span></span><r>]</r><span class=m><span class=sp>T</span></span> <r>ϵ R</r><span class=sp>(<i>N</i><span class=sb>o</span>+1)×(<i>N</i><span class=sb>m</span>+1)</span></div>
<div class="l " style="left:3206.30px;top:993.44px;font-size:15.00px;">(1)</div>
<div class="l " style="left:2920.60px;top:1060.44px;font-size:15.00px;word-spacing:7.609px;"><span class=m>Ã</span> = Softmax<span class=sb>row</span><span style="font-size:130%">(</span><span class=frac><span class=num><i>A</i></span><span class=den><i>τ</i></span></span><span style="font-size:130%">)</span> · Softmax<span class=sb>col</span><span style="font-size:130%">(</span><span class=frac><span class=num><i>A</i></span><span class=den><i>τ</i></span></span><span style="font-size:130%">)</span>.</div>
<div class="l " style="left:3206.30px;top:1060.44px;font-size:15.00px;">(2)</div>
<div class="l " style="left:3262.30px;top:111.64px;font-size:15.00px;"><b>3.3.2. Coarse Point Matching</b></div>
<div class="l " style="left:3262.30px;top:134.94px;font-size:15.00px;word-spacing:1.766px;">We sample coarse point sets uniformly from the observa-</div>
<div class="l " style="left:3262.30px;top:152.87px;font-size:15.00px;word-spacing:6.973px;">tion <span class=m>P<span class=st><span class=su>c</span><span class=sl>o</span></span></span> <r>ϵ R</r><span class=m><span class=sp>N×3</span></span> and the object’s model <span class=m>P<span class=st><span class=su>c</span><span class=sl>m</span></span></span> <r>ϵ R</r><span class=m><span class=sp>N×3</span></span>.</div>
<div class="l " style="left:3262.30px;top:170.79px;font-size:15.00px;word-spacing:1.252px;">These course sets, along with their corresponding features</div>
<div class="l " style="left:3262.30px;top:188.72px;font-size:15.00px;word-spacing:1.604px;"><span class=m>F<span class=st><span class=su>c</span><span class=sl>o</span></span></span> and <span class=m>F<span class=st><span class=su>c</span><span class=sl>m</span></span></span> are further processed by a stack of <span class=m>T<span class=sp>c</span></span> Geomet-</div>
<div class="l " style="left:3262.30px;top:206.65px;font-size:15.00px;word-spacing:1.674px;">ric Transformers [<span class=ct>39</span>] that enhance the feature representa-</div>
<div class="l " style="left:3262.30px;top:224.58px;font-size:15.00px;word-spacing:1.576px;">tions and facilitate intra-set and inter-set interactions. The</div>
<div class="l " style="left:3262.30px;top:242.51px;font-size:15.00px;word-spacing:0.098px;">coarse correspondence matrix <span class=m>Ã<span class=sp>c</span></span> is then derived from these</div>
<div class="l " style="left:3262.30px;top:260.44px;font-size:15.00px;">features. We set <span class=m>N<span class=st><span class=su>c</span><span class=sl>b</span></span></span> <r>=</r> <span class=m>N<span class=st><span class=su>c</span><span class=sl>o</span></span></span> <r>= 196</r> and <span class=m>T<span class=sp>c</span></span> <r>= 3.</r></div>
<div class="l " style="left:3262.30px;top:288.54px;font-size:15.00px;"><b>3.3.3. Multi Initial Pose Hypothesis</b></div>
<div class="l " style="left:3262.30px;top:311.84px;font-size:15.00px;word-spacing:1.236px;">The course assignment matrix <span class=m>Ã<span class=sp>c</span></span> is used to draw multiple</div>
<div class="l " style="left:3262.30px;top:330.15px;font-size:15.00px;word-spacing:2.161px;">samples of correspondences and generate multiple coarse</div>
<div class="l " style="left:3262.30px;top:348.47px;font-size:15.00px;word-spacing:2.252px;">pose hypotheses (<span class=m>R<span class=st><span class=sua>k</span><span class=slr><r>hyp</r></span></span><r>, </r>t<span class=st><span class=sua>k</span><span class=slr><r>hyp</r></span></span></span>) via SVD. Each hypothesis is</div>
<div class="l " style="left:3262.30px;top:366.79px;font-size:15.00px;word-spacing:2.872px;">given a confidence score <span class=m>s<span class=st><span class=sua>k</span><span class=slr><r>hyp</r></span></span></span> (Eq. <span class=ct>3</span>) based on its aver-</div>
<div class="l " style="left:3262.30px;top:385.10px;font-size:15.00px;word-spacing:1.277px;">age intra-set distance to the model point cloud. The top <span class=m>K</span></div>
<div class="l " style="left:3262.30px;top:403.42px;font-size:15.00px;word-spacing:1.410px;">hypothesis selected based on confidence are passed to the</div>
<div class="l " style="left:3262.30px;top:421.74px;font-size:15.00px;">Dense Point Matching module.</div>
<div class="l " style="left:3262.30px;top:545.44px;font-size:15.00px;"><b>3.3.4. Dynamic Non-uniform Dense Sampling</b></div>
<div class="l " style="left:3262.30px;top:566.94px;font-size:15.00px;word-spacing:3.830px;">The first column and row of <span class=m>Ã<span class=sp>c</span></span> provide occlusion and</div>
<div class="l " style="left:3262.30px;top:585.38px;font-size:15.00px;word-spacing:2.503px;">background probabilities for the coarse samples, denoted</div>
<div class="l " style="left:3262.30px;top:603.83px;font-size:15.00px;word-spacing:6.225px;"><span class=m>Pr<span class=sb><r>oc</r></span></span><r>(</r><span class=m>P<span class=st><span class=su>c</span><span class=sl>m</span></span></span><r>)</r> and <span class=m>Pr<span class=sb><r>bg</r></span></span><r>(</r><span class=m>P<span class=st><span class=su>c</span><span class=sl>o</span></span></span><r>)</r>. To obtain probabilities for the</div>
<div class="l " style="left:3262.30px;top:622.27px;font-size:15.00px;word-spacing:6.665px;">original point clouds, <span class=m>Pr<span class=sb><r>oc</r></span></span><r>(</r><span class=m>P<span class=sb>m</span></span><r>)</r> and <span class=m>Pr<span class=sb><r>bg</r></span></span><r>(</r><span class=m>P<span class=sb>o</span></span><r>)</r>, we ap-</div>
<div class="l " style="left:3262.30px;top:640.72px;font-size:15.00px;word-spacing:1.134px;">ply weighted linear interpolation from the coarse samples,</div>
<div class="l " style="left:3262.30px;top:659.16px;font-size:15.00px;word-spacing:2.020px;">using weights inversely proportional to the 3D Euclidean</div>
<div class="l " style="left:3262.30px;top:677.60px;font-size:15.00px;word-spacing:3.541px;">distance between points and normalized to sum to one.</div>
<div class="l " style="left:3262.30px;top:696.05px;font-size:15.00px;word-spacing:1.062px;">We further use these probabilities to draw a dynamic non-</div>
<div class="l " style="left:3262.30px;top:714.49px;font-size:15.00px;word-spacing:2.219px;">uniform dense sample of the point clouds <span class=m>P<span class=st><span class=su>d</span><span class=sl>o</span></span></span> <r>ϵ R</r><span class=m><span class=sp>N×3</span></span> and</div>
<div class="l " style="left:3262.30px;top:732.94px;font-size:15.00px;"><span class=m>P<span class=st><span class=su>d</span><span class=sl>m</span></span></span> <r>ϵ R</r><span class=m><span class=sp>N×3</span></span>. Figure <span class=ct>3</span> visualizes this process.</div>
<div class="l " style="left:3262.30px;top:878.64px;font-size:15.00px;"><b>3.3.5. Dense Point Matching</b></div>
<div class="l " style="left:3262.30px;top:901.84px;font-size:15.00px;word-spacing:0.772px;">Prior to dense matching, we encode positional information</div>
<div class="l " style="left:3262.30px;top:919.85px;font-size:15.00px;word-spacing:2.027px;">by applying a multi-scale Set Abstraction module [<span class=ct>38</span>] to</div>
<div class="l " style="left:3262.30px;top:937.86px;font-size:15.00px;word-spacing:3.536px;">the points, where <span class=m>P<span class=st><span class=su>d</span><span class=sl>o</span></span></span> is transformed by the coarse pose</div>
<div class="l " style="left:3262.30px;top:955.87px;font-size:15.00px;word-spacing:2.332px;">(<span class=m>R<span class=sb>hyp</span><r>, </r>t<span class=sb>hyp</span></span>). These positional encodings are then added to</div>
<div class="l " style="left:3262.30px;top:973.88px;font-size:15.00px;word-spacing:1.799px;">the dense features <span class=m>F<span class=st><span class=su>d</span><span class=sl>o</span></span></span> and <span class=m>F<span class=st><span class=su>d</span><span class=sl>m</span></span></span>. Next, the extended features</div>
<div class="l " style="left:3262.30px;top:991.89px;font-size:15.00px;word-spacing:3.039px;">are passed through a series of <span class=m>T<span class=sp>d</span></span> Sparse-to-Dense Point</div>
<div class="l " style="left:3262.30px;top:1009.90px;font-size:15.00px;word-spacing:1.701px;">Transformers [<span class=ct>29</span>]. From the assignment matrix <span class=m>Ã<span class=sp>d</span></span>, dense</div>
<div class="l " style="left:3262.30px;top:1027.92px;font-size:15.00px;word-spacing:1.480px;">correspondences are obtained and the refined pose (<span class=m>R<span class=sb>r</span><r>, </r>t<span class=sb>r</span></span>)</div>
<div class="l " style="left:3262.30px;top:1045.93px;font-size:15.00px;word-spacing:2.368px;">is computed via weighted SVD. We set <span class=m>N<span class=st><span class=su>d</span><span class=sl>b</span></span></span> <r>=</r> <span class=m>N<span class=st><span class=su>d</span><span class=sl>o</span></span></span> <r>= 2048</r></div>
<div class="l " style="left:3262.30px;top:1063.94px;font-size:15.00px;">and <span class=m>T<span class=sp>d</span></span> <r>= 3.</r></div>
<div class="l" style="left:3271.3px;top:481.7px;font-size:15px"><span class=m>s</span><span class=sb>hyp</span> =</div>
<div class="l" style="left:3453.3px;top:469.4px;font-size:15px"><span class=m>N</span><span class=st><span class=su><i>c</i></span><span class=sl><i>o</i></span></span></div>
<div style="position:absolute;left:3316.3px;top:487.0px;width:287px;height:1px;background:#1a1a1a"></div>
<div class="l " style="left:3317.30px;top:494.84px;font-size:15.00px;word-spacing:-0.255px;"><span style="font-size:120%">Σ</span><span class=sb style="font-size:85%"><b><i>p</i></b><span style="font-size:75%"><i>c o</i></span> ϵ <i>P</i><span style="font-size:75%"><i>c o</i></span></span> min<span class=sb style="font-size:85%"><b><i>p</i></b><span style="font-size:75%"><i>c m</i></span> ϵ <i>P</i><span style="font-size:75%"><i>c m</i></span></span> <span style="font-size:140%">‖</span><i>R</i><span class=st><span class=sua><i>k</i></span><span class=slr>hyp</span></span>(<b><i>p</i></b><span class=st><span class=su><i>c</i></span><span class=sl><i>m</i></span></span>&nbsp; − <i>t</i><span class=st><span class=sua><i>k</i></span><span class=slr>hyp</span></span>&nbsp; ) − <b><i>p</i></b><span class=st><span class=su><i>c</i></span><span class=sl><i>o</i></span></span>&nbsp;<span style="font-size:140%">‖</span><span class=sb>2</span></div>
<div class="l" style="left:3605.3px;top:481.7px;font-size:15px">,</div>
<div class="l " style="left:3598.30px;top:515.44px;font-size:15.00px;">(3)</div>
<div class="l" style="left:3270.3px;top:801.7px;font-size:15px">Pr(<i>Q</i>[<i>i</i>])</div>
<div class="l" style="left:3282.3px;top:817.6px;font-size:10px"><i>p</i></div>
<div class="l" style="left:3336.8px;top:801.7px;font-size:15px">=</div>
<div class="l" style="left:3351.8px;top:799.9px;font-size:24px">Σ</div>
<div class="l" style="left:3359.3px;top:781.6px;font-size:10px"><i>Ñ</i></div>
<div class="l" style="left:3353.3px;top:823.6px;font-size:10px"><i>j</i>=1</div>
<div class="l" style="left:3398.7px;top:789.4px;font-size:15px">‖<i>Q</i>[<i>i</i>] − <i>Q</i><span class=sp><i>c</i></span>[<i>j</i>]‖<span class=sb>2</span></div>
<div style="position:absolute;left:3378.1px;top:807.5px;width:142.5px;height:1px;background:#1a1a1a"></div>
<div class="l" style="left:3378.1px;top:816.7px;font-size:15px">Σ<span class=st><span class=sua><i>Ñ</i></span><span class=slr><i>k</i>=1</span></span> ‖<i>Q</i>[<i>i</i>] − <i>Q</i><span class=sp><i>c</i></span>[<i>k</i>]‖<span class=sb>2</span></div>
<div class="l" style="left:3529.9px;top:801.7px;font-size:15px">Pr(<i>Q</i><span class=sp><i>c</i></span>[<i>j</i>]),</div>
<div class="l" style="left:3541.3px;top:817.6px;font-size:10px"><i>p</i></div>
<div class="l " style="left:3602.30px;top:801.74px;font-size:15.00px;">(4)</div>
<div class="l " style="left:3264.30px;top:850.44px;font-size:15.00px;word-spacing:3.124px;">where <span class=m>p</span> <r>ϵ {</r><span class=m>oc, bg</span><r>},</r>&nbsp;&nbsp;&nbsp;&nbsp; <span class=m>Q</span> <r>ϵ {</r><span class=m>P<span class=sb>m</span><r>, </r>P<span class=sb>o</span></span><r>},</r>&nbsp;&nbsp;&nbsp;&nbsp; <span class=m>Q<span class=sp>c</span></span> <r>ϵ {</r><span class=m>P<span class=st><span class=su>c</span><span class=sl>m</span></span><r>, </r>P<span class=st><span class=su>c</span><span class=sl>o</span></span></span><r>}.</r></div>
<div class="l " style="left:3796.80px;top:111.64px;font-size:15.00px;"><b>3.3.6. Iterative Pose Refinement</b></div>
<div class="l " style="left:3796.80px;top:134.94px;font-size:15.00px;word-spacing:-0.223px;">To improve the accuracy of the estimated pose, we adopt an</div>
<div class="l " style="left:3796.80px;top:152.97px;font-size:15.00px;word-spacing:1.237px;">iterative refinement strategy. Specifically, the refined pose</div>
<div class="l " style="left:3796.80px;top:171.01px;font-size:15.00px;word-spacing:3.023px;">(<span class=m>R<span class=sb>r</span><r>, </r>t<span class=sb>r</span></span>) obtained from the dense point matching stage is</div>
<div class="l " style="left:3796.80px;top:189.05px;font-size:15.00px;word-spacing:2.827px;">reused as a new hypothesis (<span class=m>R<span class=sb>hyp</span><r>, </r>t<span class=sb>hyp</span></span>) for the next iter-</div>
<div class="l " style="left:3796.80px;top:207.09px;font-size:15.00px;word-spacing:3.541px;">ation. The object’s dense point cloud <span class=m>P<span class=st><span class=su>d</span><span class=sl>o</span></span></span> is transformed</div>
<div class="l " style="left:3796.80px;top:225.12px;font-size:15.00px;word-spacing:2.496px;">again using this updated hypothesis, and the dense point</div>
<div class="l " style="left:3796.80px;top:243.16px;font-size:15.00px;word-spacing:0.538px;">matching module is repeated. This process is applied for <span class=m>N</span></div>
<div class="l " style="left:3796.80px;top:261.20px;font-size:15.00px;word-spacing:0.906px;">refinement steps, progressively reducing pose errors. After</div>
<div class="l " style="left:3796.80px;top:279.24px;font-size:15.00px;word-spacing:1.995px;"><span class=m>N</span> iterations, the final pose estimate is denoted as (<span class=m>R<span class=sb>f</span><r>, </r>t<span class=sb>f</span></span>).</div>
<div class="l " style="left:3796.80px;top:307.34px;font-size:15.00px;"><b>3.3.7. Occlusion-focused Augmentation</b></div>
<div class="l " style="left:3796.80px;top:330.64px;font-size:15.00px;word-spacing:1.682px;">To generalize to unseen objects, we train on a large-scale</div>
<div class="l " style="left:3796.80px;top:348.64px;font-size:15.00px;word-spacing:2.199px;">synthetic dataset [<span class=ct>26</span>]. To narrow the sim-to-real gap, we</div>
<div class="l " style="left:3796.80px;top:366.64px;font-size:15.00px;word-spacing:2.408px;">apply standard photometric (e.g., color jitter, noise, blur)</div>
<div class="l " style="left:3796.80px;top:384.64px;font-size:15.00px;word-spacing:0.008px;">and geometric (e.g., scaling, rotation, perspective) augmen-</div>
<div class="l " style="left:3796.80px;top:402.64px;font-size:15.00px;word-spacing:-0.408px;">tations. To explicitly simulate occlusion, we further propose</div>
<div class="l " style="left:3796.80px;top:420.64px;font-size:15.00px;word-spacing:-0.418px;">the following occlusion-focused augmentations. Qualitative</div>
<div class="l " style="left:3796.80px;top:438.64px;font-size:15.00px;">examples are given in Fig. <span class=ct>4</span>.</div>
<div class=bul style="left:3797.2px;top:465.8px"></div>
<div class="l " style="left:3810.20px;top:458.74px;font-size:15.00px;word-spacing:0.329px;"><b>Depth Augmentation:</b> Real depth sensors often produce</div>
<div class="l " style="left:3810.20px;top:476.74px;font-size:15.00px;word-spacing:0.287px;">noise and missing values, especially under occlusion and</div>
<div class="l " style="left:3810.20px;top:494.74px;font-size:15.00px;word-spacing:0.089px;">clutter. To mimic this, we follow [<span class=ct>51</span>] and apply blurring,</div>
<div class="l " style="left:3810.20px;top:512.74px;font-size:15.00px;word-spacing:0.108px;">Gaussian noise, and random depth dropouts, either pixel-</div>
<div class="l " style="left:3810.20px;top:530.74px;font-size:15.00px;">wise or in elliptical regions.</div>
<div class=bul style="left:3797.2px;top:557.9px"></div>
<div class="l " style="left:3810.20px;top:550.84px;font-size:15.00px;word-spacing:3.230px;"><b>Mask Augmentation.</b> Predicted masks are rarely per-</div>
<div class="l " style="left:3810.20px;top:568.84px;font-size:15.00px;word-spacing:2.371px;">fect, often include background or missing object parts.</div>
<div class="l " style="left:3810.20px;top:586.84px;font-size:15.00px;word-spacing:0.386px;">These issues are further amplified by occlusion. We sim-</div>
<div class="l " style="left:3810.20px;top:604.84px;font-size:15.00px;word-spacing:0.513px;">ulate these errors by dilating masks, replacing them with</div>
<div class="l " style="left:3810.20px;top:622.84px;font-size:15.00px;word-spacing:2.481px;">bounding boxes, splitting them with straight lines, and</div>
<div class="l " style="left:3810.20px;top:640.84px;font-size:15.00px;">randomly dropping internal regions.</div>
<div class=bul style="left:3797.2px;top:668.0px"></div>
<div class="l " style="left:3810.20px;top:660.94px;font-size:15.00px;word-spacing:1.721px;"><b>View Augmentation.</b> Inspired by what [<span class=ct>29</span>] does at in-</div>
<div class="l " style="left:3810.20px;top:678.94px;font-size:15.00px;word-spacing:0.042px;">ference, we render 42 model templates (24 pairs with op-</div>
<div class="l " style="left:3810.20px;top:696.94px;font-size:15.00px;word-spacing:1.057px;">posing views). During training, 1–2 views are randomly</div>
<div class="l " style="left:3810.20px;top:714.94px;font-size:15.00px;word-spacing:2.280px;">sampled from each pair, producing partial occlusion in</div>
<div class="l " style="left:3810.20px;top:732.94px;font-size:15.00px;">the constructed model point cloud.</div>
<div class="l " style="left:3796.80px;top:764.84px;font-size:15.00px;"><b>3.3.8. Training Objective</b></div>
<div class="l " style="left:3796.80px;top:788.64px;font-size:15.00px;word-spacing:3.278px;"><b>Correspondence Supervision.</b> To supervise <i>3D-3D</i> cor-</div>
<div class="l " style="left:3796.80px;top:806.91px;font-size:15.00px;word-spacing:0.598px;">respondences between the observation and the object point</div>
<div class="l " style="left:3796.80px;top:825.19px;font-size:15.00px;word-spacing:1.368px;">clouds, we adopt an InfoNCE objective [<span class=ct>35</span>] implemented</div>
<div class="l " style="left:3796.80px;top:843.46px;font-size:15.00px;word-spacing:0.357px;">as bidirectional cross-entropy over the correspondence ma-</div>
<div class="l " style="left:3796.80px;top:861.74px;font-size:15.00px;word-spacing:0.627px;">trix. Let <span class=m>A</span> be the matrix from Eq. <span class=ct>1</span>. The loss is defined as</div>
<div class="l " style="left:3821.30px;top:914.24px;font-size:15.00px;word-spacing:3.918px;"><span class=m>L</span> <r>= <span style="font-family:'Liberation Mono';font-size:88%">CE</span><span style="font-size:140%">(</span></r><span class=m>A</span><r>[1 :, :], </r><span class=m>ŷ<span class=sb>o</span></span><r><span style="font-size:140%">)</span> + <span style="font-family:'Liberation Mono';font-size:88%">CE</span><span style="font-size:140%">(</span>(</r><span class=m>A</span><r>[:, 1 :])</r><span class=m><span class=sp>T</span></span><r>, </r><span class=m>ŷ<span class=sb>m</span></span><r><span style="font-size:140%">)</span>,</r></div>
<div class="l " style="left:4133.80px;top:914.24px;font-size:15.00px;">(5)</div>
<div class="l " style="left:3796.80px;top:955.44px;font-size:15.00px;word-spacing:2.292px;">where <span style="font-family:'Liberation Mono';font-size:88%">CE</span>(·, ·) is cross-entropy, <span class=m>ŷ<span class=sb>o</span></span> <r>ϵ R</r><span class=m><span class=sp>N<span class=sb>o</span></span></span> are observation-</div>
<div class="l " style="left:3796.80px;top:973.52px;font-size:15.00px;word-spacing:3.359px;">to-model labels (one per observed point), and <span class=m>ŷ<span class=sb>m</span></span> <r>ϵ R</r><span class=m><span class=sp>N<span class=sb>m</span></span></span></div>
<div class="l " style="left:3796.80px;top:991.60px;font-size:15.00px;word-spacing:2.505px;">are model-to-observation labels (one per template point).</div>
<div class="l " style="left:3796.80px;top:1009.69px;font-size:15.00px;word-spacing:3.389px;">The first term classifies each observed point against all</div>
<div class="l " style="left:3796.80px;top:1027.77px;font-size:15.00px;word-spacing:0.893px;">model indices (including the background token), while the</div>
<div class="l " style="left:3796.80px;top:1045.85px;font-size:15.00px;word-spacing:-0.570px;">second term classifies each model point against all observed</div>
<div class="l " style="left:3796.80px;top:1063.94px;font-size:15.00px;">indices (including the occlusion token).</div>
<div class="l " style="left:4189.30px;top:604.25px;font-size:12.00px;word-spacing:1.795px;">Figure 4. Qualitative examples of our proposed <b>(Top)</b> depth augmenta-</div>
<div class="l " style="left:4189.30px;top:618.90px;font-size:12.00px;word-spacing:1.883px;">tion, <b>(Middle)</b> mask augmentation, and <b>(Bottom)</b> object templates ren-</div>
<div class="l " style="left:4189.30px;top:633.55px;font-size:12.00px;">dered from different viewpoints.</div>
<div class="l " style="left:4189.30px;top:679.14px;font-size:15.00px;word-spacing:4.959px;"><b>Ground-truth labels.</b> Ground-truth labels are obtained</div>
<div class="l " style="left:4189.30px;top:697.29px;font-size:15.00px;word-spacing:2.811px;">from the known pose (<span class=m>R̂<r>, </r>t̂</span>) via nearest-neighbor assign-</div>
<div class="l " style="left:4189.30px;top:715.44px;font-size:15.00px;">ment. For each observation point <b><i>p</i></b><span class=m><span class=sb>o</span></span> <r>ϵ</r> <span class=m>P<span class=sb>o</span></span>,</div>
<div class="l " style="left:4278.80px;top:762.44px;font-size:15.00px;"><span class=m>ŷ<span class=sb>o</span></span> <r>=</r></div>
<div class="l " style="left:4317.30px;top:773.44px;font-size:15.00px;"><span style="font-size:220%;line-height:0">{</span></div>
<div class="l " style="left:4334.30px;top:751.14px;font-size:15.00px;"><r>0,</r></div>
<div class="l " style="left:4367.30px;top:751.14px;font-size:15.00px;">if <span class=m>d<span class=sb>m*</span></span> <r>≥</r> <span class=m>δ<span class=sb>dis</span></span><r>,</r></div>
<div class="l " style="left:4334.30px;top:773.44px;font-size:15.00px;"><span class=m>m</span><r>*,</r></div>
<div class="l " style="left:4367.30px;top:773.44px;font-size:15.00px;">if <span class=m>d<span class=sb>m*</span></span> <r>&lt;</r> <span class=m>δ<span class=sb>dis</span></span><r>,</r></div>
<div class="l " style="left:4526.30px;top:762.44px;font-size:15.00px;">(6)</div>
<div class="l " style="left:4189.30px;top:806.44px;font-size:15.00px;">with</div>
<div class="l " style="left:4246.80px;top:841.04px;font-size:15.00px;word-spacing:8.016px;"><span class=m>m</span><r>* = </r><span style="display:inline-block;position:relative"><r>argmin</r><span style="position:absolute;left:-4px;top:17px;font-size:70%;white-space:nowrap"><i>m</i>=1,...,<i>N</i><span class=sb><i>m</i></span></span></span> <span style="font-size:150%;line-height:0">‖</span><r>R̂(</r><b><i>p</i></b><span class=m><span class=sb>o</span></span> <r>−</r> <span class=m>t̂</span><r>) −</r> <b><i>p</i></b><span class=m><span class=sb>m</span></span><span style="font-size:150%;line-height:0">‖</span><span class=sb>2</span><r>,</r></div>
<div class="l " style="left:4526.30px;top:841.04px;font-size:15.00px;">(7)</div>
<div class="l " style="left:4189.30px;top:882.24px;font-size:15.00px;">and</div>
<div class="l " style="left:4275.30px;top:902.04px;font-size:15.00px;word-spacing:6.138px;"><span class=m>d<span class=sb>m*</span></span> <r>=</r> <span style="font-size:150%;line-height:0">‖</span><r>R̂(</r><b><i>p</i></b><span class=m><span class=sb>o</span></span> <r>−</r> <span class=m>t̂</span><r>) −</r> <b><i>p</i></b><span class=m><span class=sb>m*</span></span><span style="font-size:150%;line-height:0">‖</span><span class=sb>2</span><r>.</r></div>
<div class="l " style="left:4526.30px;top:902.04px;font-size:15.00px;">(8)</div>
<div class="l " style="left:4189.30px;top:933.44px;font-size:15.00px;word-spacing:1.948px;">Here, <span class=m>δ<span class=sb>dis</span></span> is a fixed threshold set to 0.15 empirically and</div>
<div class="l " style="left:4189.30px;top:951.57px;font-size:15.00px;word-spacing:4.286px;"><span class=m>ŷ<span class=sb>o</span></span> <r>= 0</r> denotes background. An analogous construction</div>
<div class="l " style="left:4189.30px;top:969.70px;font-size:15.00px;word-spacing:1.836px;">yields <span class=m>ŷ<span class=sb>m</span></span> for object’s model points where <span class=m>ŷ<span class=sb>m</span></span> <r>= 0</r> denotes</div>
<div class="l " style="left:4189.30px;top:987.84px;font-size:15.00px;">occluded.</div>
<div class="l " style="left:4189.30px;top:1028.14px;font-size:15.00px;word-spacing:9.356px;"><b>Final Multi-block objective.</b> Finally, we aggregate</div>
<div class="l " style="left:4189.30px;top:1045.94px;font-size:15.00px;word-spacing:3.490px;">losses across transformer blocks in both the coarse and</div>
<div class="l " style="left:4189.30px;top:1063.74px;font-size:15.00px;word-spacing:3.233px;">dense matching stages. The final loss is given in Eq. <span class=ct>9</span></div>
<div style="position:absolute;left:0px;top:0;width:927px;height:700px"><svg style="position:absolute;left:0;top:0" width="927" height="700" viewBox="0 0 927 700" font-family="Liberation Sans, sans-serif"><line x1="521.6" y1="332.5" x2="521.6" y2="585.8" stroke="#d9d9d9" stroke-width="0.9"/><line x1="583.8" y1="332.5" x2="583.8" y2="585.8" stroke="#d9d9d9" stroke-width="0.9"/><line x1="646.1" y1="332.5" x2="646.1" y2="585.8" stroke="#d9d9d9" stroke-width="0.9"/><line x1="708.3" y1="332.5" x2="708.3" y2="585.8" stroke="#d9d9d9" stroke-width="0.9"/><line x1="770.6" y1="332.5" x2="770.6" y2="585.8" stroke="#d9d9d9" stroke-width="0.9"/><line x1="832.8" y1="332.5" x2="832.8" y2="585.8" stroke="#d9d9d9" stroke-width="0.9"/><line x1="521.6" y1="585.8" x2="832.8" y2="585.8" stroke="#d9d9d9" stroke-width="0.9"/><text x="513.8" y="588.7" font-size="8.2" fill="#595959" text-anchor="end">0.5</text><line x1="521.6" y1="535.1" x2="832.8" y2="535.1" stroke="#d9d9d9" stroke-width="0.9"/><text x="513.8" y="538.0" font-size="8.2" fill="#595959" text-anchor="end">0.55</text><line x1="521.6" y1="484.5" x2="832.8" y2="484.5" stroke="#d9d9d9" stroke-width="0.9"/><text x="513.8" y="487.4" font-size="8.2" fill="#595959" text-anchor="end">0.6</text><line x1="521.6" y1="433.8" x2="832.8" y2="433.8" stroke="#d9d9d9" stroke-width="0.9"/><text x="513.8" y="436.7" font-size="8.2" fill="#595959" text-anchor="end">0.65</text><line x1="521.6" y1="383.2" x2="832.8" y2="383.2" stroke="#d9d9d9" stroke-width="0.9"/><text x="513.8" y="386.1" font-size="8.2" fill="#595959" text-anchor="end">0.7</text><line x1="521.6" y1="332.5" x2="832.8" y2="332.5" stroke="#d9d9d9" stroke-width="0.9"/><text x="513.8" y="335.4" font-size="8.2" fill="#595959" text-anchor="end">0.75</text><text x="521.6" y="598.9" font-size="8.2" fill="#595959" text-anchor="middle">0</text><text x="583.8" y="598.9" font-size="8.2" fill="#595959" text-anchor="middle">10</text><text x="646.1" y="598.9" font-size="8.2" fill="#595959" text-anchor="middle">20</text><text x="708.3" y="598.9" font-size="8.2" fill="#595959" text-anchor="middle">30</text><text x="770.6" y="598.9" font-size="8.2" fill="#595959" text-anchor="middle">40</text><text x="832.8" y="598.9" font-size="8.2" fill="#595959" text-anchor="middle">50</text><text x="677" y="616" font-size="12.2" fill="#595959" text-anchor="middle">Time(s)</text><text transform="translate(491.3,458.6) rotate(-90)" font-size="12.6" fill="#595959" text-anchor="middle">UAR</text><rect x="799.2" y="377.4" width="10" height="10" fill="#1a5276"/><path d="M676.4 408.6 L682.2 414.4 L676.4 420.2 L670.6 414.4 Z" fill="#1e9e4a"/><circle cx="564" cy="472.4" r="5.6" fill="#1b98d5"/><path d="M703.4 501 L709.4 511.5 L697.4 511.5 Z" fill="#e8782c"/><g stroke="#b35cc4" stroke-width="0.8"><line x1="543.6" y1="540.3" x2="553.6" y2="550.3"/><line x1="543.6" y1="550.3" x2="553.6" y2="540.3"/><line x1="548.6" y1="539.3" x2="548.6" y2="551.3"/></g><path d="M524.8 525.5 Q525.5 514.5 534 511.6 Q540.5 510.5 543.2 515.2 Z" fill="#fff" stroke="#666" stroke-width="0.6"/><line x1="525" y1="527.2" x2="543" y2="516.6" stroke="#9c1b22" stroke-width="6.4" stroke-linecap="round"/><line x1="525" y1="527.2" x2="543" y2="516.6" stroke="#dc2a33" stroke-width="4.9" stroke-linecap="round"/><circle cx="526.4" cy="511.9" r="3.3" fill="#dc2a33" stroke="#9c1b22" stroke-width="0.5"/><rect x="753.6" y="495.3" width="75.5" height="86.3" fill="#f2f2f2"/><text x="764.4" y="504.3" font-size="8.1" fill="#595959">FRTPose</text><text x="764.4" y="519.0" font-size="8.1" fill="#595959">Foundation Pose</text><text x="764.4" y="533.6" font-size="8.1" fill="#595959">Freeze</text><text x="764.4" y="548.3" font-size="8.1" fill="#595959">Co-op</text><text x="764.4" y="563.0" font-size="8.1" fill="#595959">SAM6D</text><text x="764.4" y="577.5" font-size="8.1" fill="#595959">WALDO</text><rect x="757.5" y="499.7" width="3.8" height="3.8" fill="#1a5276"/><path d="M759.4 513.8 l2.4 4 l-4.8 0 Z" fill="#e8782c"/><path d="M759.4 528.7 l2 2 l-2 2 l-2 -2 Z" fill="#1e9e4a"/><circle cx="759.4" cy="545.5" r="1.9" fill="#1b98d5"/><g stroke="#a349a4" stroke-width="0.7"><line x1="757.4" y1="558.0" x2="761.4" y2="562.0"/><line x1="757.4" y1="562.0" x2="761.4" y2="558.0"/></g><path d="M756.4 576.5 l7 -3.5 l1 2 l-7 3.5 Z" fill="#c0282d"/><circle cx="756.9" cy="571.5" r="1.4" fill="#c0282d"/></svg></div>
<div style="position:absolute;left:1854px;top:0;width:927px;height:340px"><svg style="position:absolute;left:0;top:0" width="927" height="340" viewBox="0 0 927 340" font-family="Liberation Sans, sans-serif"><defs><marker id="ah" markerWidth="6" markerHeight="6" refX="5" refY="3" orient="auto" markerUnits="userSpaceOnUse"><path d="M0 0 L6 3 L0 6 Z" fill="#1a1a1a"/></marker><marker id="ahb" markerWidth="6" markerHeight="6" refX="5" refY="3" orient="auto" markerUnits="userSpaceOnUse"><path d="M0 0 L6 3 L0 6 Z" fill="#5b9bd5"/></marker><linearGradient id="dg" x1="0" y1="0" x2="0" y2="1"><stop offset="0" stop-color="#bdbdbd"/><stop offset="1" stop-color="#9a9a9a"/></linearGradient></defs><rect x="91.0" y="114.2" width="136.8" height="92.6" rx="7.0" fill="none" stroke="#6cb04a" stroke-width="1.5" stroke-dasharray="4.5 3"/><text x="160.3" y="127.5" font-size="10.6" font-weight="normal" fill="#262626" text-anchor="middle" font-style="normal">Model</text><rect x="111.5" y="143.4" width="43.0" height="41.0" fill="url(#dg)" stroke="#ddd" stroke-width="0.5"/><path d="M131.9 170.4 L136.2 161.6" stroke="#111" stroke-width="0.8"/><path d="M127.6 154.6 L135.6 159.3" stroke="#111" stroke-width="1.8"/><path d="M135.5 170.5 L126.4 169.0" stroke="#111" stroke-width="1.1"/><path d="M150.5 145.8 L154.5 143.4" stroke="#111" stroke-width="1.9"/><path d="M126.0 160.0 L134.8 148.1" stroke="#111" stroke-width="0.9"/><path d="M150.8 164.3 L140.3 176.2" stroke="#111" stroke-width="2.3"/><path d="M116.3 160.8 L111.5 156.1" stroke="#111" stroke-width="1.8"/><path d="M118.5 172.0 L111.5 163.9" stroke="#111" stroke-width="2.1"/><path d="M128.7 160.6 L131.2 160.0" stroke="#111" stroke-width="1.4"/><path d="M112.8 173.2 L124.9 184.4" stroke="#111" stroke-width="1.9"/><path d="M126.8 158.3 L131.7 162.6" stroke="#111" stroke-width="1.0"/><path d="M121.6 158.3 L121.9 165.9" stroke="#111" stroke-width="1.6"/><path d="M112.7 177.1 L111.5 177.6" stroke="#111" stroke-width="1.2"/><path d="M129.9 159.3 L136.9 149.5" stroke="#111" stroke-width="1.7"/><rect x="105.0" y="147.6" width="43.0" height="41.0" fill="url(#dg)" stroke="#ddd" stroke-width="0.5"/><path d="M124.5 170.6 L135.4 169.7" stroke="#111" stroke-width="1.6"/><path d="M130.3 155.2 L130.6 158.4" stroke="#111" stroke-width="2.1"/><path d="M109.0 160.0 L105.0 167.7" stroke="#111" stroke-width="1.9"/><path d="M106.8 187.9 L118.8 188.6" stroke="#111" stroke-width="1.8"/><path d="M111.8 148.2 L112.5 147.6" stroke="#111" stroke-width="1.1"/><path d="M115.4 148.8 L114.5 147.6" stroke="#111" stroke-width="2.1"/><path d="M127.3 173.9 L127.3 177.8" stroke="#111" stroke-width="1.5"/><path d="M117.0 188.5 L129.7 188.6" stroke="#111" stroke-width="1.9"/><path d="M118.6 157.0 L113.1 147.6" stroke="#111" stroke-width="2.0"/><path d="M122.2 182.3 L119.3 188.6" stroke="#111" stroke-width="2.2"/><path d="M105.0 156.2 L115.6 155.5" stroke="#111" stroke-width="2.4"/><path d="M122.1 150.6 L125.4 157.4" stroke="#111" stroke-width="1.2"/><path d="M108.7 161.2 L120.7 167.6" stroke="#111" stroke-width="1.0"/><path d="M115.6 151.7 L105.0 159.0" stroke="#111" stroke-width="1.1"/><rect x="98.5" y="151.8" width="43.0" height="41.0" fill="url(#dg)" stroke="#ddd" stroke-width="0.5"/><path d="M123.1 169.4 L125.1 162.2" stroke="#111" stroke-width="2.1"/><path d="M133.9 178.6 L125.1 179.1" stroke="#111" stroke-width="1.3"/><path d="M109.2 190.9 L122.1 179.7" stroke="#111" stroke-width="2.2"/><path d="M124.4 167.4 L118.9 171.7" stroke="#111" stroke-width="1.5"/><path d="M128.0 178.9 L118.5 185.5" stroke="#111" stroke-width="2.4"/><path d="M140.2 176.9 L128.4 164.7" stroke="#111" stroke-width="1.0"/><path d="M139.0 164.2 L135.5 174.0" stroke="#111" stroke-width="1.3"/><path d="M122.1 169.7 L110.9 171.8" stroke="#111" stroke-width="2.2"/><path d="M105.2 161.0 L103.0 151.8" stroke="#111" stroke-width="1.6"/><path d="M133.7 178.8 L134.5 187.5" stroke="#111" stroke-width="1.0"/><path d="M122.9 167.1 L125.5 157.6" stroke="#111" stroke-width="2.0"/><path d="M102.7 158.6 L110.6 169.6" stroke="#111" stroke-width="1.5"/><path d="M116.3 161.9 L110.5 164.7" stroke="#111" stroke-width="1.1"/><path d="M103.6 170.5 L98.5 174.1" stroke="#111" stroke-width="2.1"/><rect x="175.7" y="141.5" width="43.0" height="41.0" fill="#474747"/><rect x="166.7" y="147.0" width="43.0" height="41.0" fill="#474747"/><rect x="157.7" y="152.5" width="43.0" height="41.0" fill="#474747"/><path d="M162 162 Q163 158 168 158 L183 157.5 Q186 158 186 162 L185 166 L176 167 L175 183 L170 184 L168 167 L163 166 Z" fill="#e0622e"/><rect x="185.5" y="158.5" width="8" height="6" rx="2" fill="#2a2a2a"/><path d="M166 183.5 L181 183 L182 188 L165 188.5 Z" fill="#d95a28"/><rect x="170" y="170" width="3" height="10" fill="#b94a22"/><path d="M205 160 l3 -3 l2 4 z" fill="#d9552a"/><path d="M196 172 q4 -4 6 1 l-2 5 q-4 1 -4 -6 z" fill="#1e1e1e"/><path d="M199 175 l3 -2 l1 3 z" fill="#d9552a"/><text x="124.7" y="203.5" font-size="10.0" font-weight="normal" fill="#222" text-anchor="middle" font-style="italic" font-family="Liberation Serif">D<tspan font-size="7" dy="1.5">m</tspan></text><text x="181.7" y="203.5" font-size="10.0" font-weight="normal" fill="#222" text-anchor="middle" font-style="italic" font-family="Liberation Serif">I<tspan font-size="7" dy="1.5">m</tspan></text><rect x="91.0" y="230.5" width="136.8" height="90.7" rx="7.0" fill="none" stroke="#6cb04a" stroke-width="1.5" stroke-dasharray="4.5 3"/><text x="159.0" y="244.6" font-size="10.2" font-weight="normal" fill="#262626" text-anchor="middle" font-style="normal">Observation</text><rect x="106.0" y="256.0" width="43.0" height="43.0" fill="url(#dg)" stroke="#ddd" stroke-width="0.5"/><path d="M140.4 270.0 L133.7 278.3" stroke="#111" stroke-width="1.0"/><path d="M126.5 280.0 L129.4 270.8" stroke="#111" stroke-width="1.8"/><path d="M127.5 292.6 L115.4 299.0" stroke="#111" stroke-width="1.1"/><path d="M141.0 277.8 L149.0 269.6" stroke="#111" stroke-width="1.3"/><path d="M109.7 289.5 L110.6 281.9" stroke="#111" stroke-width="1.1"/><path d="M109.5 264.6 L111.0 263.0" stroke="#111" stroke-width="1.9"/><path d="M109.3 292.1 L121.7 298.3" stroke="#111" stroke-width="2.0"/><path d="M142.5 260.1 L141.5 256.0" stroke="#111" stroke-width="2.1"/><path d="M129.1 260.6 L127.7 267.7" stroke="#111" stroke-width="1.7"/><path d="M111.2 296.3 L106.0 299.0" stroke="#111" stroke-width="2.4"/><path d="M138.3 296.7 L139.1 289.4" stroke="#111" stroke-width="1.6"/><path d="M137.7 289.0 L134.8 299.0" stroke="#111" stroke-width="0.9"/><path d="M127.3 257.7 L123.7 270.3" stroke="#111" stroke-width="1.0"/><path d="M148.4 294.9 L149.0 283.5" stroke="#111" stroke-width="1.6"/><rect x="173.5" y="258" width="42" height="42.5" fill="#2d2622"/><path d="M200 300.5 L215.5 284 L215.5 300.5 Z" fill="#4a4542"/><path d="M176 262 L190 258 L196 262 L186 270 Z" fill="#4d4945"/><path d="M188 259.5 L206 258.5 L211 264 L209 292 L197 295 L190 287 Z" fill="#cf2c1e"/><path d="M190 262 L204 261 L203 268 L191 269 Z" fill="#e9d7c8" opacity="0.7"/><path d="M206 264 L211 264 L209 292 L204 294 Z" fill="#9e1f17"/><path d="M177 276 Q183 272 190 275 L190 284 Q183 287 177 284 Z" fill="#d8b42a"/><ellipse cx="183.5" cy="275.5" rx="6.5" ry="2.4" fill="#e8cf52"/><ellipse cx="182.5" cy="291.5" rx="7.5" ry="5.5" fill="#8f9297"/><ellipse cx="182.5" cy="289.5" rx="6.5" ry="3.5" fill="#c4c6cb"/><path d="M192 276 L201 273 L203 279 L198 297 L193 296 Z" fill="#e2371f"/><text x="128.5" y="253.3" font-size="10.0" font-weight="normal" fill="#222" text-anchor="middle" font-style="italic" font-family="Liberation Serif">D<tspan font-size="7" dy="1.5">o</tspan></text><text x="195.0" y="253.3" font-size="10.0" font-weight="normal" fill="#222" text-anchor="middle" font-style="italic" font-family="Liberation Serif">I<tspan font-size="7" dy="1.5">o</tspan></text><path d="M133 145 L133 134.9 L486.5 134.9 L486.5 203" fill="none" stroke="#1a1a1a" stroke-width="0.9" marker-end="url(#ah)"/><path d="M127.7 302.4 L127.7 310.7 L486.5 310.7 L486.5 239" fill="none" stroke="#1a1a1a" stroke-width="0.9" marker-end="url(#ah)"/><path d="M222 166.4 L271.7 166.4 L271.7 211.7 L323.5 211.7" fill="none" stroke="#1a1a1a" stroke-width="0.9" marker-end="url(#ah)"/><path d="M219 279.2 L271.7 279.2 L271.7 229.3 L323.5 229.3" fill="none" stroke="#1a1a1a" stroke-width="0.9" marker-end="url(#ah)"/><path d="M271.7 166.4 L340.3 166.4" fill="none" stroke="#5b9bd5" stroke-width="0.9" stroke-dasharray="3 2"/><path d="M271.7 279.2 L340.3 279.2" fill="none" stroke="#5b9bd5" stroke-width="0.9" stroke-dasharray="3 2"/><rect x="340.3" y="154.4" width="49.9" height="25.1" rx="5.0" fill="#fff" stroke="#5b9bd5" stroke-width="1.2" stroke-dasharray="3.5 2.2"/><text x="365.3" y="165.0" font-size="7.1" font-weight="bold" fill="#222" text-anchor="middle" font-style="normal">View and</text><text x="365.3" y="174.6" font-size="7.1" font-weight="bold" fill="#222" text-anchor="middle" font-style="normal">Mask Aug</text><rect x="414.5" y="156.2" width="50.6" height="23.3" rx="5.0" fill="#fff" stroke="#5b9bd5" stroke-width="1.2" stroke-dasharray="3.5 2.2"/><text x="439.8" y="170.6" font-size="7.1" font-weight="bold" fill="#222" text-anchor="middle" font-style="normal">Depth Aug</text><rect x="340.3" y="266.8" width="50.7" height="24.4" rx="5.0" fill="#fff" stroke="#5b9bd5" stroke-width="1.2" stroke-dasharray="3.5 2.2"/><text x="365.6" y="281.6" font-size="7.1" font-weight="bold" fill="#222" text-anchor="middle" font-style="normal">Mask Aug</text><rect x="413.4" y="265.7" width="50.6" height="25.5" rx="5.0" fill="#fff" stroke="#5b9bd5" stroke-width="1.2" stroke-dasharray="3.5 2.2"/><text x="438.7" y="281.0" font-size="7.1" font-weight="bold" fill="#222" text-anchor="middle" font-style="normal">Depth Aug</text><path d="M365.3 179.5 L365.3 203" fill="none" stroke="#5b9bd5" stroke-width="0.9" stroke-dasharray="3 2" marker-end="url(#ahb)"/><path d="M365.6 266.8 L365.6 239" fill="none" stroke="#5b9bd5" stroke-width="0.9" stroke-dasharray="3 2" marker-end="url(#ahb)"/><path d="M447 134.9 L447 156.2" fill="none" stroke="#5b9bd5" stroke-width="0.9" stroke-dasharray="3 2"/><path d="M465.1 168 L479 168 L479 203" fill="none" stroke="#5b9bd5" stroke-width="0.9" stroke-dasharray="3 2" marker-end="url(#ahb)"/><path d="M447 291.2 L447 310.7" fill="none" stroke="#5b9bd5" stroke-width="0.9" stroke-dasharray="3 2"/><path d="M464 278 L479 278 L479 239" fill="none" stroke="#5b9bd5" stroke-width="0.9" stroke-dasharray="3 2" marker-end="url(#ahb)"/><rect x="325.3" y="204.2" width="80.6" height="33.4" rx="7.0" fill="#fff" stroke="#b5272d" stroke-width="1.5"/><text x="365.6" y="225.3" font-size="11.3" font-weight="bold" fill="#111" text-anchor="middle" font-style="normal">MUSE</text><path d="M405.9 210.6 L453 210.6" fill="none" stroke="#1a1a1a" stroke-width="0.9" marker-end="url(#ah)"/><path d="M405.9 231.2 L453 231.2" fill="none" stroke="#1a1a1a" stroke-width="0.9" marker-end="url(#ah)"/><text x="430.0" y="204.5" font-size="9.0" font-weight="normal" fill="#222" text-anchor="middle" font-style="italic" font-family="Liberation Serif">D<tspan font-size="6.5" dy="1">o</tspan><tspan dy="-1">, S</tspan><tspan font-size="6.5" dy="1">o</tspan></text><text x="430.0" y="244.5" font-size="9.0" font-weight="normal" fill="#222" text-anchor="middle" font-style="italic" font-family="Liberation Serif">D<tspan font-size="6.5" dy="1">m</tspan><tspan dy="-1">, S</tspan><tspan font-size="6.5" dy="1">m</tspan></text><rect x="454.2" y="204.2" width="65.7" height="33.4" rx="6.0" fill="#d9d9d9" stroke="none" stroke-width="0.0"/><text x="487.0" y="219.0" font-size="8.9" font-weight="normal" fill="#262626" text-anchor="middle" font-style="normal">Feature</text><text x="487.0" y="230.2" font-size="8.9" font-weight="normal" fill="#262626" text-anchor="middle" font-style="normal">Extraction</text><path d="M519.9 220.7 L554 220.7" fill="none" stroke="#1a1a1a" stroke-width="0.9"/><text x="536.0" y="215.5" font-size="9.0" font-weight="normal" fill="#222" text-anchor="middle" font-style="italic" font-family="Liberation Serif">P<tspan font-size="6.5" dy="1">o</tspan><tspan dy="-1">, P</tspan><tspan font-size="6.5" dy="1">m</tspan></text><text x="536.0" y="230.5" font-size="9.0" font-weight="normal" fill="#222" text-anchor="middle" font-style="italic" font-family="Liberation Serif">F<tspan font-size="6.5" dy="1">o</tspan><tspan dy="-1">, F</tspan><tspan font-size="6.5" dy="1">m</tspan></text><path d="M554 220.7 L554 158.5" fill="none" stroke="#1a1a1a" stroke-width="0.9" marker-end="url(#ah)"/><path d="M554 220.7 L554 279" fill="none" stroke="#1a1a1a" stroke-width="0.9" marker-end="url(#ah)"/><rect x="511.6" y="116.9" width="84.4" height="40.1" rx="6.0" fill="#d9d9d9" stroke="none" stroke-width="0.0"/><text x="553.8" y="134.6" font-size="8.8" font-weight="normal" fill="#262626" text-anchor="middle" font-style="normal">Static Uniform</text><text x="553.8" y="146.2" font-size="8.8" font-weight="normal" fill="#262626" text-anchor="middle" font-style="normal">Course Sampling</text><path d="M596 136.7 L649.5 136.7" fill="none" stroke="#1a1a1a" stroke-width="0.9" marker-end="url(#ah)"/><text x="622.0" y="131.5" font-size="9.0" font-weight="normal" fill="#222" text-anchor="middle" font-style="italic" font-family="Liberation Serif">P<tspan font-size="6.5" dy="-3">c</tspan><tspan font-size="6.5" dx="-3" dy="4">o</tspan><tspan dy="-1">, P</tspan><tspan font-size="6.5" dy="-3">c</tspan><tspan font-size="6.5" dx="-3" dy="4">m</tspan></text><text x="622.0" y="147.5" font-size="9.0" font-weight="normal" fill="#222" text-anchor="middle" font-style="italic" font-family="Liberation Serif">F<tspan font-size="6.5" dy="-3">c</tspan><tspan font-size="6.5" dx="-3" dy="4">o</tspan><tspan dy="-1">, F</tspan><tspan font-size="6.5" dy="-3">c</tspan><tspan font-size="6.5" dx="-3" dy="4">m</tspan></text><rect x="650.3" y="116.9" width="84.4" height="40.1" rx="6.0" fill="#d9d9d9" stroke="none" stroke-width="0.0"/><text x="692.5" y="134.6" font-size="8.6" font-weight="normal" fill="#262626" text-anchor="middle" font-style="normal">Coarse Point</text><text x="692.5" y="146.2" font-size="8.6" font-weight="normal" fill="#262626" text-anchor="middle" font-style="normal">Matching</text><path d="M692.7 157 L692.7 168.8" fill="none" stroke="#1a1a1a" stroke-width="0.9" marker-end="url(#ah)"/><rect x="644.7" y="169.4" width="96.3" height="35.6" rx="7.0" fill="#fff" stroke="#b5272d" stroke-width="1.4"/><text x="692.8" y="184.8" font-size="9.8" font-weight="bold" fill="#111" text-anchor="middle" font-style="normal">Multi Initial</text><text x="692.8" y="198.0" font-size="9.8" font-weight="bold" fill="#111" text-anchor="middle" font-style="normal">Hypothesis</text><path d="M692.7 205 L692.7 228.7" fill="none" stroke="#1a1a1a" stroke-width="0.9" marker-end="url(#ah)"/><text x="715.0" y="219.5" font-size="9.0" font-weight="normal" fill="#222" text-anchor="start" font-style="italic" font-family="Liberation Serif">R<tspan font-size="6.5" dy="-3">k</tspan><tspan font-size="6.5" dx="-3" dy="4">hyp</tspan><tspan dy="-1">, t</tspan><tspan font-size="6.5" dy="-3">k</tspan><tspan font-size="6.5" dx="-3" dy="4">hyp</tspan></text><rect x="644.7" y="229.3" width="96.3" height="35.7" rx="7.0" fill="#fff" stroke="#b5272d" stroke-width="1.4"/><text x="692.8" y="244.8" font-size="9.8" font-weight="bold" fill="#111" text-anchor="middle" font-style="normal">Iterative</text><text x="692.8" y="258.0" font-size="9.8" font-weight="bold" fill="#111" text-anchor="middle" font-style="normal">Refinement</text><path d="M692.7 265 L692.7 276.5" fill="none" stroke="#1a1a1a" stroke-width="0.9" marker-end="url(#ah)"/><rect x="650.3" y="277.0" width="85.1" height="39.7" rx="6.0" fill="#d9d9d9" stroke="none" stroke-width="0.0"/><text x="692.8" y="294.4" font-size="8.6" font-weight="normal" fill="#262626" text-anchor="middle" font-style="normal">Dense Point</text><text x="692.8" y="306.0" font-size="8.6" font-weight="normal" fill="#262626" text-anchor="middle" font-style="normal">Matching</text><rect x="495.9" y="280.0" width="115.1" height="34.8" rx="7.0" fill="#fff" stroke="#b5272d" stroke-width="1.4"/><text x="553.5" y="295.3" font-size="9.4" font-weight="bold" fill="#111" text-anchor="middle" font-style="normal">Dynamic Non-uniform</text><text x="553.5" y="308.4" font-size="9.4" font-weight="bold" fill="#111" text-anchor="middle" font-style="normal">Dense Sampling</text><path d="M611 296.8 L649.5 296.8" fill="none" stroke="#1a1a1a" stroke-width="0.9" marker-end="url(#ah)"/><text x="629.7" y="291.5" font-size="9.0" font-weight="normal" fill="#222" text-anchor="middle" font-style="italic" font-family="Liberation Serif">P<tspan font-size="6.5" dy="-3">d</tspan><tspan font-size="6.5" dx="-3" dy="4">o</tspan><tspan dy="-1">, P</tspan><tspan font-size="6.5" dy="-3">d</tspan><tspan font-size="6.5" dx="-3" dy="4">m</tspan></text><text x="629.7" y="307.5" font-size="9.0" font-weight="normal" fill="#222" text-anchor="middle" font-style="italic" font-family="Liberation Serif">F<tspan font-size="6.5" dy="-3">d</tspan><tspan font-size="6.5" dx="-3" dy="4">o</tspan><tspan dy="-1">, F</tspan><tspan font-size="6.5" dy="-3">d</tspan><tspan font-size="6.5" dx="-3" dy="4">m</tspan></text><path d="M692.7 316.7 L692.7 325 L755.3 325 L755.3 220 L763.5 220" fill="none" stroke="#1a1a1a" stroke-width="0.9" marker-end="url(#ah)"/><path d="M755.3 247.3 L741.8 247.3" fill="none" stroke="#1a1a1a" stroke-width="0.9" marker-end="url(#ah)"/><text x="767.6" y="288.0" font-size="9.0" font-weight="normal" fill="#222" text-anchor="start" font-style="italic" font-family="Liberation Serif">R<tspan font-size="6.5" dy="1">r</tspan><tspan dy="-1">, t</tspan><tspan font-size="6.5" dy="1">r</tspan></text><rect x="764.7" y="184.5" width="70.5" height="70.5" fill="#2b2420"/><path d="M805 255 L835.2 222 L835.2 255 Z" fill="#55504c"/><path d="M766 186 L790 185 L786 200 L766 205 Z" fill="#3c3631"/><path d="M790 186 L815 185 L824 194 L822 232 L808 236 L796 224 Z" fill="#cf2a1c"/><path d="M793 190 L812 189 L811 200 L794 201 Z" fill="#efe3d6" opacity="0.75"/><path d="M815 185 L824 194 L822 232 L816 234 Z" fill="#a01f17"/><path d="M768 213 Q777 208 790 212 L790 228 Q777 232 768 228 Z" fill="#d9b52b"/><ellipse cx="779" cy="212" rx="11" ry="3.5" fill="#ead255"/><ellipse cx="778" cy="241" rx="11" ry="8" fill="#8d9095"/><ellipse cx="778" cy="238" rx="10" ry="5" fill="#c9cbd0"/><path d="M793 210 L808 205 L811 214 L804 246 L795 244 Z" fill="#e0361e"/><path d="M783 197 L801 191 L822 214 L818 248 L802 252 L786 226 Z M801 191 L804 222 L786 226 M804 222 L818 248" fill="none" stroke="#3ed23e" stroke-width="0.9"/><text x="800.0" y="266.5" font-size="9.0" font-weight="bold" fill="#b5272d" text-anchor="middle" font-style="italic" font-family="Liberation Serif">R<tspan font-size="6" dy="1.5">f</tspan><tspan dy="-1.5">, t</tspan><tspan font-size="6" dy="1.5">f</tspan></text></svg></div>
<div style="position:absolute;left:2781px;top:0;width:927px;height:400px"><svg style="position:absolute;left:0;top:0" width="927" height="400" viewBox="0 0 927 400" font-family="Liberation Sans, sans-serif"><path d="M141.4 308.4h0.8v0.8h-0.8zM141.1 304.9h0.8v0.8h-0.8zM117.4 316.6h0.8v0.8h-0.8zM157.3 267.6h0.8v0.8h-0.8zM117.8 337.6h0.8v0.8h-0.8zM187.4 292.9h0.8v0.8h-0.8zM139.1 301.0h0.8v0.8h-0.8zM149.3 310.3h0.8v0.8h-0.8zM178.4 301.1h0.8v0.8h-0.8zM163.6 286.4h0.8v0.8h-0.8zM146.9 334.0h0.8v0.8h-0.8zM177.7 284.5h0.8v0.8h-0.8zM123.2 282.6h0.8v0.8h-0.8zM142.5 336.6h0.8v0.8h-0.8zM114.8 338.1h0.8v0.8h-0.8zM153.2 272.3h0.8v0.8h-0.8zM164.0 279.3h0.8v0.8h-0.8zM116.4 308.7h0.8v0.8h-0.8zM144.7 274.2h0.8v0.8h-0.8zM112.8 300.8h0.8v0.8h-0.8zM148.8 291.5h0.8v0.8h-0.8zM182.2 283.3h0.8v0.8h-0.8zM166.0 269.7h0.8v0.8h-0.8zM187.2 304.6h0.8v0.8h-0.8zM124.2 329.5h0.8v0.8h-0.8zM179.0 293.3h0.8v0.8h-0.8zM154.4 280.6h0.8v0.8h-0.8zM150.4 269.1h0.8v0.8h-0.8zM158.6 320.9h0.8v0.8h-0.8zM143.0 331.2h0.8v0.8h-0.8zM162.4 307.6h0.8v0.8h-0.8zM173.7 321.5h0.8v0.8h-0.8zM154.8 296.4h0.8v0.8h-0.8zM109.1 323.0h0.8v0.8h-0.8zM184.3 300.3h0.8v0.8h-0.8zM180.2 314.9h0.8v0.8h-0.8zM170.6 318.5h0.8v0.8h-0.8zM144.9 323.1h0.8v0.8h-0.8zM153.4 307.2h0.8v0.8h-0.8zM182.3 300.6h0.8v0.8h-0.8zM165.9 298.1h0.8v0.8h-0.8zM160.5 294.7h0.8v0.8h-0.8zM172.6 271.7h0.8v0.8h-0.8zM127.1 339.9h0.8v0.8h-0.8zM149.8 327.9h0.8v0.8h-0.8zM149.4 278.8h0.8v0.8h-0.8zM181.2 314.4h0.8v0.8h-0.8zM136.3 312.5h0.8v0.8h-0.8zM112.9 317.7h0.8v0.8h-0.8zM179.2 300.9h0.8v0.8h-0.8zM115.7 293.1h0.8v0.8h-0.8zM116.8 295.7h0.8v0.8h-0.8zM154.3 297.5h0.8v0.8h-0.8zM163.4 298.5h0.8v0.8h-0.8zM109.0 329.0h0.8v0.8h-0.8zM159.1 306.6h0.8v0.8h-0.8zM187.7 294.9h0.8v0.8h-0.8zM120.2 303.4h0.8v0.8h-0.8zM148.7 308.8h0.8v0.8h-0.8zM142.9 324.2h0.8v0.8h-0.8zM152.3 272.6h0.8v0.8h-0.8zM165.8 321.5h0.8v0.8h-0.8zM160.2 322.0h0.8v0.8h-0.8zM180.4 282.7h0.8v0.8h-0.8zM125.0 327.9h0.8v0.8h-0.8zM185.2 285.6h0.8v0.8h-0.8zM140.0 334.0h0.8v0.8h-0.8zM119.4 285.1h0.8v0.8h-0.8zM155.5 316.4h0.8v0.8h-0.8zM115.2 338.1h0.8v0.8h-0.8zM114.5 318.3h0.8v0.8h-0.8zM177.8 300.0h0.8v0.8h-0.8zM155.7 329.2h0.8v0.8h-0.8zM167.0 301.6h0.8v0.8h-0.8zM174.6 292.4h0.8v0.8h-0.8zM143.4 327.8h0.8v0.8h-0.8zM128.9 335.1h0.8v0.8h-0.8zM146.9 301.7h0.8v0.8h-0.8zM142.4 296.6h0.8v0.8h-0.8zM148.9 299.9h0.8v0.8h-0.8zM108.1 323.0h0.8v0.8h-0.8zM147.0 323.9h0.8v0.8h-0.8zM110.3 299.8h0.8v0.8h-0.8zM124.7 301.9h0.8v0.8h-0.8zM144.6 298.1h0.8v0.8h-0.8zM122.4 322.7h0.8v0.8h-0.8zM156.1 322.0h0.8v0.8h-0.8zM166.6 273.0h0.8v0.8h-0.8zM181.3 313.5h0.8v0.8h-0.8zM105.6 302.9h0.8v0.8h-0.8zM112.2 289.6h0.8v0.8h-0.8zM123.6 325.7h0.8v0.8h-0.8zM151.5 317.6h0.8v0.8h-0.8zM148.6 301.7h0.8v0.8h-0.8zM148.0 319.8h0.8v0.8h-0.8zM141.4 305.2h0.8v0.8h-0.8zM138.8 270.8h0.8v0.8h-0.8zM164.1 270.6h0.8v0.8h-0.8zM185.5 304.3h0.8v0.8h-0.8zM177.9 295.7h0.8v0.8h-0.8zM152.4 299.2h0.8v0.8h-0.8zM162.9 276.6h0.8v0.8h-0.8zM172.2 309.0h0.8v0.8h-0.8zM146.9 329.7h0.8v0.8h-0.8zM167.7 310.4h0.8v0.8h-0.8zM135.4 316.9h0.8v0.8h-0.8zM133.5 339.6h0.8v0.8h-0.8zM134.5 318.8h0.8v0.8h-0.8zM143.5 295.3h0.8v0.8h-0.8zM161.4 308.8h0.8v0.8h-0.8zM123.0 281.1h0.8v0.8h-0.8zM179.5 289.3h0.8v0.8h-0.8zM185.2 287.8h0.8v0.8h-0.8zM132.2 285.1h0.8v0.8h-0.8zM140.9 273.0h0.8v0.8h-0.8zM137.8 307.8h0.8v0.8h-0.8zM126.5 296.1h0.8v0.8h-0.8zM142.9 288.0h0.8v0.8h-0.8zM121.8 331.7h0.8v0.8h-0.8zM137.2 304.6h0.8v0.8h-0.8zM122.8 314.8h0.8v0.8h-0.8zM161.8 292.1h0.8v0.8h-0.8zM106.7 322.9h0.8v0.8h-0.8zM143.6 315.0h0.8v0.8h-0.8zM126.0 317.5h0.8v0.8h-0.8zM168.2 293.4h0.8v0.8h-0.8zM188.6 298.0h0.8v0.8h-0.8zM171.3 298.6h0.8v0.8h-0.8zM129.6 323.0h0.8v0.8h-0.8zM155.3 306.9h0.8v0.8h-0.8zM110.6 301.2h0.8v0.8h-0.8zM122.3 308.1h0.8v0.8h-0.8zM113.7 330.1h0.8v0.8h-0.8zM151.4 290.3h0.8v0.8h-0.8zM115.0 305.8h0.8v0.8h-0.8zM120.2 336.4h0.8v0.8h-0.8zM158.6 275.5h0.8v0.8h-0.8zM131.9 330.7h0.8v0.8h-0.8zM130.4 312.9h0.8v0.8h-0.8zM177.4 281.6h0.8v0.8h-0.8zM148.8 299.5h0.8v0.8h-0.8zM133.5 324.0h0.8v0.8h-0.8zM115.5 291.3h0.8v0.8h-0.8zM163.4 298.4h0.8v0.8h-0.8zM147.0 323.0h0.8v0.8h-0.8zM125.6 304.7h0.8v0.8h-0.8zM170.2 272.4h0.8v0.8h-0.8zM128.6 300.6h0.8v0.8h-0.8zM125.8 290.0h0.8v0.8h-0.8zM170.1 293.2h0.8v0.8h-0.8zM140.1 281.8h0.8v0.8h-0.8zM146.4 304.9h0.8v0.8h-0.8zM187.5 292.6h0.8v0.8h-0.8zM108.2 323.5h0.8v0.8h-0.8zM145.2 277.0h0.8v0.8h-0.8zM166.9 293.4h0.8v0.8h-0.8zM130.3 298.0h0.8v0.8h-0.8zM158.2 295.6h0.8v0.8h-0.8zM168.3 306.0h0.8v0.8h-0.8zM145.3 325.5h0.8v0.8h-0.8zM182.2 306.2h0.8v0.8h-0.8zM156.3 298.6h0.8v0.8h-0.8zM167.2 286.1h0.8v0.8h-0.8zM120.6 331.4h0.8v0.8h-0.8zM131.7 294.1h0.8v0.8h-0.8zM101.2 310.0h0.8v0.8h-0.8zM105.6 318.5h0.8v0.8h-0.8zM101.9 300.8h0.8v0.8h-0.8zM127.5 326.3h0.8v0.8h-0.8zM123.2 331.2h0.8v0.8h-0.8zM156.7 319.3h0.8v0.8h-0.8zM134.3 335.1h0.8v0.8h-0.8zM131.8 312.2h0.8v0.8h-0.8zM134.8 309.3h0.8v0.8h-0.8zM137.9 296.7h0.8v0.8h-0.8zM175.5 288.8h0.8v0.8h-0.8zM137.0 281.5h0.8v0.8h-0.8zM141.2 302.0h0.8v0.8h-0.8zM161.1 320.1h0.8v0.8h-0.8zM166.0 286.4h0.8v0.8h-0.8zM118.3 338.5h0.8v0.8h-0.8zM166.7 278.6h0.8v0.8h-0.8zM102.5 309.1h0.8v0.8h-0.8zM158.1 286.1h0.8v0.8h-0.8zM107.5 313.0h0.8v0.8h-0.8zM127.0 303.4h0.8v0.8h-0.8zM114.8 295.7h0.8v0.8h-0.8zM141.7 335.6h0.8v0.8h-0.8zM158.1 284.1h0.8v0.8h-0.8zM114.4 329.8h0.8v0.8h-0.8zM114.0 310.5h0.8v0.8h-0.8zM104.3 295.4h0.8v0.8h-0.8zM137.9 306.7h0.8v0.8h-0.8zM175.3 310.6h0.8v0.8h-0.8zM141.0 318.6h0.8v0.8h-0.8zM172.8 300.4h0.8v0.8h-0.8zM98.3 312.9h0.8v0.8h-0.8zM145.6 274.1h0.8v0.8h-0.8zM152.6 319.2h0.8v0.8h-0.8zM143.7 278.8h0.8v0.8h-0.8zM179.3 289.3h0.8v0.8h-0.8zM133.9 282.3h0.8v0.8h-0.8zM185.4 284.0h0.8v0.8h-0.8zM163.8 271.8h0.8v0.8h-0.8zM124.3 317.9h0.8v0.8h-0.8zM141.3 334.7h0.8v0.8h-0.8zM130.2 282.8h0.8v0.8h-0.8zM149.2 304.7h0.8v0.8h-0.8zM135.3 336.2h0.8v0.8h-0.8zM165.4 277.5h0.8v0.8h-0.8zM123.9 317.8h0.8v0.8h-0.8zM151.9 285.4h0.8v0.8h-0.8zM160.6 286.5h0.8v0.8h-0.8zM138.9 288.6h0.8v0.8h-0.8zM148.4 275.5h0.8v0.8h-0.8zM151.4 297.2h0.8v0.8h-0.8zM159.5 308.8h0.8v0.8h-0.8zM164.7 291.9h0.8v0.8h-0.8zM182.3 309.6h0.8v0.8h-0.8zM140.0 309.5h0.8v0.8h-0.8zM146.7 303.4h0.8v0.8h-0.8zM174.0 316.8h0.8v0.8h-0.8zM159.1 313.5h0.8v0.8h-0.8zM139.4 305.3h0.8v0.8h-0.8zM111.3 332.6h0.8v0.8h-0.8zM116.3 302.5h0.8v0.8h-0.8zM109.4 288.9h0.8v0.8h-0.8zM187.9 293.5h0.8v0.8h-0.8zM166.5 296.8h0.8v0.8h-0.8zM118.0 336.3h0.8v0.8h-0.8zM159.5 327.5h0.8v0.8h-0.8zM116.5 301.9h0.8v0.8h-0.8zM167.6 284.2h0.8v0.8h-0.8zM138.4 273.3h0.8v0.8h-0.8zM172.2 275.6h0.8v0.8h-0.8zM127.4 334.9h0.8v0.8h-0.8zM132.3 285.2h0.8v0.8h-0.8zM146.4 279.8h0.8v0.8h-0.8zM157.7 283.0h0.8v0.8h-0.8zM172.6 320.2h0.8v0.8h-0.8zM100.5 304.3h0.8v0.8h-0.8zM126.0 323.3h0.8v0.8h-0.8zM137.5 317.5h0.8v0.8h-0.8zM143.9 283.7h0.8v0.8h-0.8zM144.2 273.7h0.8v0.8h-0.8zM139.5 307.1h0.8v0.8h-0.8zM108.1 327.3h0.8v0.8h-0.8zM103.3 319.9h0.8v0.8h-0.8zM146.0 332.5h0.8v0.8h-0.8zM118.3 319.3h0.8v0.8h-0.8zM136.3 317.9h0.8v0.8h-0.8zM145.4 302.6h0.8v0.8h-0.8zM160.0 296.6h0.8v0.8h-0.8zM145.6 283.3h0.8v0.8h-0.8zM174.9 308.4h0.8v0.8h-0.8zM158.0 311.4h0.8v0.8h-0.8zM166.5 269.3h0.8v0.8h-0.8zM102.9 322.5h0.8v0.8h-0.8zM132.3 291.7h0.8v0.8h-0.8zM150.8 302.7h0.8v0.8h-0.8zM111.8 293.3h0.8v0.8h-0.8zM99.9 311.0h0.8v0.8h-0.8zM139.4 288.4h0.8v0.8h-0.8zM117.9 338.3h0.8v0.8h-0.8zM113.6 293.4h0.8v0.8h-0.8zM150.2 318.5h0.8v0.8h-0.8zM112.5 315.0h0.8v0.8h-0.8zM97.6 306.9h0.8v0.8h-0.8zM141.0 286.0h0.8v0.8h-0.8zM176.6 277.5h0.8v0.8h-0.8zM187.6 289.7h0.8v0.8h-0.8zM135.9 320.6h0.8v0.8h-0.8zM162.2 321.6h0.8v0.8h-0.8zM144.3 327.1h0.8v0.8h-0.8zM159.7 275.1h0.8v0.8h-0.8zM110.8 298.7h0.8v0.8h-0.8zM126.1 307.8h0.8v0.8h-0.8zM122.0 283.2h0.8v0.8h-0.8zM110.3 302.3h0.8v0.8h-0.8zM185.6 298.1h0.8v0.8h-0.8zM122.4 288.7h0.8v0.8h-0.8zM139.3 324.0h0.8v0.8h-0.8zM171.3 277.3h0.8v0.8h-0.8zM133.0 276.6h0.8v0.8h-0.8zM125.8 306.3h0.8v0.8h-0.8zM112.7 302.4h0.8v0.8h-0.8zM132.6 300.3h0.8v0.8h-0.8zM114.8 302.2h0.8v0.8h-0.8zM107.2 330.0h0.8v0.8h-0.8zM131.5 321.1h0.8v0.8h-0.8zM125.0 325.5h0.8v0.8h-0.8zM129.1 297.9h0.8v0.8h-0.8zM115.7 292.3h0.8v0.8h-0.8zM132.4 284.8h0.8v0.8h-0.8zM110.4 290.2h0.8v0.8h-0.8zM127.5 286.1h0.8v0.8h-0.8zM162.3 297.8h0.8v0.8h-0.8zM100.4 316.2h0.8v0.8h-0.8zM145.8 308.1h0.8v0.8h-0.8zM141.8 331.8h0.8v0.8h-0.8zM144.4 310.9h0.8v0.8h-0.8zM134.3 313.0h0.8v0.8h-0.8zM170.3 299.2h0.8v0.8h-0.8zM182.3 311.4h0.8v0.8h-0.8zM113.2 318.3h0.8v0.8h-0.8zM145.3 336.2h0.8v0.8h-0.8zM110.2 299.9h0.8v0.8h-0.8zM147.4 311.9h0.8v0.8h-0.8zM156.0 301.4h0.8v0.8h-0.8zM178.8 274.2h0.8v0.8h-0.8zM171.3 276.4h0.8v0.8h-0.8zM165.5 305.8h0.8v0.8h-0.8zM161.8 270.1h0.8v0.8h-0.8zM144.8 307.1h0.8v0.8h-0.8zM132.6 326.1h0.8v0.8h-0.8zM114.6 299.3h0.8v0.8h-0.8zM147.3 320.7h0.8v0.8h-0.8zM125.4 337.9h0.8v0.8h-0.8zM99.2 307.1h0.8v0.8h-0.8zM165.9 284.7h0.8v0.8h-0.8zM128.8 325.6h0.8v0.8h-0.8zM137.0 324.7h0.8v0.8h-0.8zM173.5 293.5h0.8v0.8h-0.8zM164.7 301.6h0.8v0.8h-0.8zM158.9 269.1h0.8v0.8h-0.8zM105.0 327.8h0.8v0.8h-0.8zM157.4 290.7h0.8v0.8h-0.8zM147.1 332.2h0.8v0.8h-0.8zM111.5 333.7h0.8v0.8h-0.8zM99.1 309.4h0.8v0.8h-0.8zM116.2 282.7h0.8v0.8h-0.8zM138.8 296.4h0.8v0.8h-0.8zM137.9 314.2h0.8v0.8h-0.8zM181.4 277.0h0.8v0.8h-0.8zM105.4 293.6h0.8v0.8h-0.8zM115.5 282.5h0.8v0.8h-0.8zM120.2 313.1h0.8v0.8h-0.8zM111.0 287.0h0.8v0.8h-0.8zM116.5 315.0h0.8v0.8h-0.8zM128.8 336.3h0.8v0.8h-0.8zM145.1 324.2h0.8v0.8h-0.8zM107.8 324.0h0.8v0.8h-0.8zM148.0 285.1h0.8v0.8h-0.8zM148.3 324.6h0.8v0.8h-0.8zM105.2 294.6h0.8v0.8h-0.8zM138.9 323.4h0.8v0.8h-0.8zM131.4 274.2h0.8v0.8h-0.8zM154.7 319.8h0.8v0.8h-0.8zM160.9 287.6h0.8v0.8h-0.8zM179.0 305.0h0.8v0.8h-0.8zM142.7 284.1h0.8v0.8h-0.8zM137.1 317.4h0.8v0.8h-0.8zM136.2 316.5h0.8v0.8h-0.8zM136.4 335.4h0.8v0.8h-0.8zM104.8 310.1h0.8v0.8h-0.8zM126.1 328.8h0.8v0.8h-0.8zM109.4 309.0h0.8v0.8h-0.8zM102.3 323.2h0.8v0.8h-0.8zM129.7 312.4h0.8v0.8h-0.8zM129.4 337.0h0.8v0.8h-0.8zM154.4 270.0h0.8v0.8h-0.8zM150.8 332.5h0.8v0.8h-0.8zM129.6 322.5h0.8v0.8h-0.8zM119.9 292.0h0.8v0.8h-0.8zM151.8 290.5h0.8v0.8h-0.8zM122.7 321.5h0.8v0.8h-0.8zM177.5 295.8h0.8v0.8h-0.8zM138.8 278.0h0.8v0.8h-0.8zM158.6 292.5h0.8v0.8h-0.8zM154.3 303.1h0.8v0.8h-0.8zM107.7 329.5h0.8v0.8h-0.8zM154.3 304.6h0.8v0.8h-0.8zM113.5 315.4h0.8v0.8h-0.8zM158.7 282.5h0.8v0.8h-0.8zM182.5 277.3h0.8v0.8h-0.8zM135.6 288.0h0.8v0.8h-0.8zM168.6 322.1h0.8v0.8h-0.8zM169.3 291.5h0.8v0.8h-0.8zM154.8 280.0h0.8v0.8h-0.8zM140.9 307.0h0.8v0.8h-0.8zM111.9 302.7h0.8v0.8h-0.8zM109.2 323.6h0.8v0.8h-0.8zM135.8 288.5h0.8v0.8h-0.8zM181.4 304.1h0.8v0.8h-0.8zM186.4 303.5h0.8v0.8h-0.8zM140.9 330.3h0.8v0.8h-0.8zM102.6 300.3h0.8v0.8h-0.8zM176.6 295.5h0.8v0.8h-0.8zM122.6 322.4h0.8v0.8h-0.8zM154.6 276.2h0.8v0.8h-0.8zM124.4 277.9h0.8v0.8h-0.8zM117.7 329.4h0.8v0.8h-0.8zM101.7 296.0h0.8v0.8h-0.8zM159.9 285.3h0.8v0.8h-0.8zM126.2 286.4h0.8v0.8h-0.8zM146.3 324.5h0.8v0.8h-0.8zM140.3 305.1h0.8v0.8h-0.8zM144.5 287.4h0.8v0.8h-0.8zM135.6 332.2h0.8v0.8h-0.8zM152.1 329.8h0.8v0.8h-0.8zM167.2 298.9h0.8v0.8h-0.8zM151.5 331.6h0.8v0.8h-0.8zM126.1 285.4h0.8v0.8h-0.8zM120.6 308.6h0.8v0.8h-0.8zM180.7 310.1h0.8v0.8h-0.8zM136.5 278.0h0.8v0.8h-0.8zM105.2 312.0h0.8v0.8h-0.8zM167.4 303.6h0.8v0.8h-0.8zM107.1 330.2h0.8v0.8h-0.8zM131.1 306.6h0.8v0.8h-0.8zM161.2 302.1h0.8v0.8h-0.8zM144.1 326.2h0.8v0.8h-0.8zM106.1 318.5h0.8v0.8h-0.8zM149.2 280.4h0.8v0.8h-0.8zM119.7 325.2h0.8v0.8h-0.8zM157.4 278.9h0.8v0.8h-0.8zM127.7 276.4h0.8v0.8h-0.8zM99.4 313.9h0.8v0.8h-0.8zM135.8 279.2h0.8v0.8h-0.8zM139.1 290.6h0.8v0.8h-0.8zM118.6 311.8h0.8v0.8h-0.8zM163.8 268.8h0.8v0.8h-0.8zM143.3 296.6h0.8v0.8h-0.8zM122.8 278.3h0.8v0.8h-0.8zM177.3 303.5h0.8v0.8h-0.8zM105.3 307.5h0.8v0.8h-0.8zM129.0 309.4h0.8v0.8h-0.8zM149.6 300.3h0.8v0.8h-0.8zM129.3 295.8h0.8v0.8h-0.8zM119.7 305.3h0.8v0.8h-0.8zM137.9 295.8h0.8v0.8h-0.8zM127.1 279.1h0.8v0.8h-0.8zM107.5 322.5h0.8v0.8h-0.8zM127.8 297.5h0.8v0.8h-0.8zM127.9 328.4h0.8v0.8h-0.8zM99.6 317.7h0.8v0.8h-0.8zM104.7 328.5h0.8v0.8h-0.8zM135.2 314.1h0.8v0.8h-0.8zM130.0 317.4h0.8v0.8h-0.8zM128.1 310.4h0.8v0.8h-0.8zM152.8 266.9h0.8v0.8h-0.8zM116.4 299.9h0.8v0.8h-0.8zM147.5 326.8h0.8v0.8h-0.8zM124.2 299.5h0.8v0.8h-0.8zM153.5 266.2h0.8v0.8h-0.8zM160.1 325.5h0.8v0.8h-0.8zM161.6 288.6h0.8v0.8h-0.8zM115.7 336.6h0.8v0.8h-0.8zM161.7 285.7h0.8v0.8h-0.8zM127.8 283.6h0.8v0.8h-0.8zM151.7 268.7h0.8v0.8h-0.8zM176.7 298.9h0.8v0.8h-0.8zM140.4 336.9h0.8v0.8h-0.8zM171.5 269.1h0.8v0.8h-0.8zM134.6 298.7h0.8v0.8h-0.8zM179.9 285.1h0.8v0.8h-0.8zM155.0 273.9h0.8v0.8h-0.8zM133.6 314.4h0.8v0.8h-0.8zM136.4 311.8h0.8v0.8h-0.8zM134.1 313.6h0.8v0.8h-0.8zM179.7 273.4h0.8v0.8h-0.8zM114.6 300.1h0.8v0.8h-0.8zM167.9 282.7h0.8v0.8h-0.8zM141.4 312.5h0.8v0.8h-0.8zM154.2 269.7h0.8v0.8h-0.8zM162.5 298.8h0.8v0.8h-0.8zM120.0 289.7h0.8v0.8h-0.8zM168.5 296.9h0.8v0.8h-0.8zM185.0 296.6h0.8v0.8h-0.8zM188.1 297.2h0.8v0.8h-0.8zM112.6 291.9h0.8v0.8h-0.8zM184.1 308.7h0.8v0.8h-0.8zM154.0 314.7h0.8v0.8h-0.8zM169.0 320.6h0.8v0.8h-0.8zM111.1 287.1h0.8v0.8h-0.8zM136.2 297.5h0.8v0.8h-0.8zM181.5 285.2h0.8v0.8h-0.8zM123.5 293.8h0.8v0.8h-0.8zM145.2 271.9h0.8v0.8h-0.8zM163.2 327.9h0.8v0.8h-0.8zM181.8 304.9h0.8v0.8h-0.8zM142.0 293.5h0.8v0.8h-0.8zM123.9 327.2h0.8v0.8h-0.8zM130.9 279.3h0.8v0.8h-0.8zM161.8 327.9h0.8v0.8h-0.8zM107.3 306.4h0.8v0.8h-0.8zM173.1 320.0h0.8v0.8h-0.8zM102.9 322.0h0.8v0.8h-0.8zM162.7 301.9h0.8v0.8h-0.8zM158.2 328.7h0.8v0.8h-0.8zM160.3 296.4h0.8v0.8h-0.8zM115.4 337.6h0.8v0.8h-0.8zM169.4 284.0h0.8v0.8h-0.8zM117.3 281.3h0.8v0.8h-0.8zM126.1 317.7h0.8v0.8h-0.8zM134.7 319.8h0.8v0.8h-0.8zM107.3 303.1h0.8v0.8h-0.8zM150.2 282.9h0.8v0.8h-0.8zM115.6 302.5h0.8v0.8h-0.8zM167.8 303.8h0.8v0.8h-0.8zM135.5 277.1h0.8v0.8h-0.8zM114.3 297.2h0.8v0.8h-0.8zM181.7 275.5h0.8v0.8h-0.8zM124.1 286.6h0.8v0.8h-0.8zM163.2 282.1h0.8v0.8h-0.8zM127.7 295.7h0.8v0.8h-0.8zM163.6 291.7h0.8v0.8h-0.8zM102.6 322.8h0.8v0.8h-0.8zM105.4 300.6h0.8v0.8h-0.8zM174.4 319.9h0.8v0.8h-0.8zM117.9 328.2h0.8v0.8h-0.8zM175.5 319.6h0.8v0.8h-0.8zM147.2 304.2h0.8v0.8h-0.8zM166.7 293.8h0.8v0.8h-0.8zM100.7 304.1h0.8v0.8h-0.8zM134.9 325.8h0.8v0.8h-0.8zM134.7 283.3h0.8v0.8h-0.8zM143.9 288.4h0.8v0.8h-0.8zM182.7 281.4h0.8v0.8h-0.8zM122.9 281.2h0.8v0.8h-0.8zM169.1 290.7h0.8v0.8h-0.8zM114.5 284.6h0.8v0.8h-0.8zM150.2 290.6h0.8v0.8h-0.8zM149.2 287.4h0.8v0.8h-0.8zM178.5 292.0h0.8v0.8h-0.8zM146.1 299.1h0.8v0.8h-0.8zM171.4 270.7h0.8v0.8h-0.8zM184.3 310.6h0.8v0.8h-0.8zM158.0 330.6h0.8v0.8h-0.8zM141.3 279.8h0.8v0.8h-0.8zM114.3 288.6h0.8v0.8h-0.8zM132.5 312.7h0.8v0.8h-0.8zM180.0 286.5h0.8v0.8h-0.8zM101.5 323.2h0.8v0.8h-0.8zM153.8 307.6h0.8v0.8h-0.8zM109.0 319.6h0.8v0.8h-0.8zM168.8 324.3h0.8v0.8h-0.8zM127.4 281.4h0.8v0.8h-0.8zM130.5 332.8h0.8v0.8h-0.8zM134.2 336.2h0.8v0.8h-0.8zM139.1 309.2h0.8v0.8h-0.8zM172.8 289.2h0.8v0.8h-0.8zM110.2 299.0h0.8v0.8h-0.8zM184.3 296.6h0.8v0.8h-0.8zM170.3 312.2h0.8v0.8h-0.8zM125.2 334.4h0.8v0.8h-0.8zM133.8 337.6h0.8v0.8h-0.8zM140.4 293.5h0.8v0.8h-0.8zM164.6 322.2h0.8v0.8h-0.8zM143.9 272.0h0.8v0.8h-0.8zM167.4 309.9h0.8v0.8h-0.8zM143.8 276.4h0.8v0.8h-0.8zM174.5 308.5h0.8v0.8h-0.8zM162.0 325.7h0.8v0.8h-0.8zM139.9 296.7h0.8v0.8h-0.8zM161.3 275.3h0.8v0.8h-0.8zM172.5 303.0h0.8v0.8h-0.8zM161.5 307.7h0.8v0.8h-0.8zM141.4 334.5h0.8v0.8h-0.8zM138.7 337.6h0.8v0.8h-0.8zM123.5 297.1h0.8v0.8h-0.8zM129.8 276.7h0.8v0.8h-0.8zM146.1 300.0h0.8v0.8h-0.8zM114.2 295.9h0.8v0.8h-0.8zM101.9 313.0h0.8v0.8h-0.8zM185.7 292.7h0.8v0.8h-0.8zM128.5 291.6h0.8v0.8h-0.8zM143.3 316.4h0.8v0.8h-0.8zM152.4 308.9h0.8v0.8h-0.8zM170.9 272.2h0.8v0.8h-0.8zM186.7 284.3h0.8v0.8h-0.8zM154.0 266.6h0.8v0.8h-0.8zM141.8 287.8h0.8v0.8h-0.8zM158.0 283.3h0.8v0.8h-0.8zM162.0 308.8h0.8v0.8h-0.8zM127.1 283.1h0.8v0.8h-0.8zM129.7 323.6h0.8v0.8h-0.8zM110.2 313.9h0.8v0.8h-0.8zM161.8 287.4h0.8v0.8h-0.8zM128.1 276.2h0.8v0.8h-0.8zM145.1 308.6h0.8v0.8h-0.8zM119.5 294.9h0.8v0.8h-0.8zM142.1 297.5h0.8v0.8h-0.8zM169.8 273.2h0.8v0.8h-0.8zM160.0 291.5h0.8v0.8h-0.8zM137.1 302.9h0.8v0.8h-0.8zM151.8 292.8h0.8v0.8h-0.8zM165.6 289.3h0.8v0.8h-0.8zM174.7 284.9h0.8v0.8h-0.8zM165.2 285.6h0.8v0.8h-0.8zM158.5 281.4h0.8v0.8h-0.8zM186.2 293.6h0.8v0.8h-0.8zM167.8 294.2h0.8v0.8h-0.8zM145.6 282.3h0.8v0.8h-0.8zM159.8 318.1h0.8v0.8h-0.8zM137.1 312.7h0.8v0.8h-0.8zM172.8 306.5h0.8v0.8h-0.8zM128.5 325.0h0.8v0.8h-0.8zM161.1 329.3h0.8v0.8h-0.8zM162.7 281.4h0.8v0.8h-0.8zM175.6 271.6h0.8v0.8h-0.8zM165.4 320.5h0.8v0.8h-0.8zM134.5 329.3h0.8v0.8h-0.8zM116.7 323.6h0.8v0.8h-0.8zM160.0 330.1h0.8v0.8h-0.8zM178.1 276.0h0.8v0.8h-0.8zM102.3 308.9h0.8v0.8h-0.8zM169.0 314.1h0.8v0.8h-0.8zM120.7 304.1h0.8v0.8h-0.8zM100.0 315.2h0.8v0.8h-0.8zM108.8 306.5h0.8v0.8h-0.8zM173.5 270.9h0.8v0.8h-0.8zM166.6 306.2h0.8v0.8h-0.8zM168.0 271.3h0.8v0.8h-0.8zM126.4 307.3h0.8v0.8h-0.8zM152.8 306.4h0.8v0.8h-0.8zM112.7 298.3h0.8v0.8h-0.8zM128.7 306.0h0.8v0.8h-0.8zM183.1 313.5h0.8v0.8h-0.8zM112.0 308.1h0.8v0.8h-0.8zM130.4 336.7h0.8v0.8h-0.8zM149.7 268.0h0.8v0.8h-0.8zM101.1 313.2h0.8v0.8h-0.8zM163.4 307.4h0.8v0.8h-0.8zM135.2 292.2h0.8v0.8h-0.8zM120.7 338.8h0.8v0.8h-0.8zM139.6 291.7h0.8v0.8h-0.8zM168.7 299.7h0.8v0.8h-0.8zM160.1 295.2h0.8v0.8h-0.8zM134.6 307.7h0.8v0.8h-0.8zM147.2 303.7h0.8v0.8h-0.8zM113.9 284.2h0.8v0.8h-0.8zM184.4 307.3h0.8v0.8h-0.8zM166.8 309.3h0.8v0.8h-0.8zM136.6 310.2h0.8v0.8h-0.8zM147.9 302.1h0.8v0.8h-0.8zM174.9 289.2h0.8v0.8h-0.8zM161.3 325.8h0.8v0.8h-0.8zM168.6 297.6h0.8v0.8h-0.8zM115.1 314.3h0.8v0.8h-0.8zM150.7 279.6h0.8v0.8h-0.8zM142.9 291.8h0.8v0.8h-0.8zM141.5 269.8h0.8v0.8h-0.8zM161.3 282.7h0.8v0.8h-0.8zM137.7 277.6h0.8v0.8h-0.8zM132.4 330.8h0.8v0.8h-0.8zM153.3 266.9h0.8v0.8h-0.8zM154.3 330.5h0.8v0.8h-0.8zM158.4 304.1h0.8v0.8h-0.8zM106.9 325.3h0.8v0.8h-0.8zM164.3 275.5h0.8v0.8h-0.8zM117.0 315.6h0.8v0.8h-0.8zM115.6 300.9h0.8v0.8h-0.8zM146.5 270.9h0.8v0.8h-0.8zM115.7 301.6h0.8v0.8h-0.8zM161.7 303.4h0.8v0.8h-0.8zM139.9 296.6h0.8v0.8h-0.8zM181.1 275.8h0.8v0.8h-0.8zM116.6 322.7h0.8v0.8h-0.8zM116.8 316.1h0.8v0.8h-0.8zM116.6 313.8h0.8v0.8h-0.8zM160.8 312.3h0.8v0.8h-0.8zM150.1 268.1h0.8v0.8h-0.8zM104.6 297.9h0.8v0.8h-0.8zM175.9 294.7h0.8v0.8h-0.8zM116.7 318.6h0.8v0.8h-0.8zM116.0 321.3h0.8v0.8h-0.8zM145.0 280.6h0.8v0.8h-0.8zM148.2 293.2h0.8v0.8h-0.8zM139.7 319.8h0.8v0.8h-0.8zM119.8 299.9h0.8v0.8h-0.8zM173.4 302.9h0.8v0.8h-0.8zM114.2 309.7h0.8v0.8h-0.8zM155.5 269.8h0.8v0.8h-0.8zM174.3 314.3h0.8v0.8h-0.8zM165.5 325.1h0.8v0.8h-0.8zM161.2 322.3h0.8v0.8h-0.8zM176.9 298.1h0.8v0.8h-0.8zM111.0 312.0h0.8v0.8h-0.8zM148.6 285.0h0.8v0.8h-0.8zM144.3 280.9h0.8v0.8h-0.8zM120.0 305.0h0.8v0.8h-0.8zM123.0 297.1h0.8v0.8h-0.8zM143.3 272.3h0.8v0.8h-0.8zM120.6 312.9h0.8v0.8h-0.8zM132.0 295.7h0.8v0.8h-0.8zM134.7 324.6h0.8v0.8h-0.8zM149.8 275.4h0.8v0.8h-0.8zM127.7 288.3h0.8v0.8h-0.8zM154.8 310.1h0.8v0.8h-0.8zM103.4 319.6h0.8v0.8h-0.8zM160.7 298.2h0.8v0.8h-0.8zM122.2 285.9h0.8v0.8h-0.8zM161.6 317.5h0.8v0.8h-0.8zM116.4 328.4h0.8v0.8h-0.8zM177.8 290.4h0.8v0.8h-0.8zM179.5 298.4h0.8v0.8h-0.8zM133.4 327.5h0.8v0.8h-0.8zM127.5 276.1h0.8v0.8h-0.8zM126.6 318.5h0.8v0.8h-0.8zM157.9 309.1h0.8v0.8h-0.8zM162.7 278.9h0.8v0.8h-0.8zM152.7 320.3h0.8v0.8h-0.8zM179.0 284.9h0.8v0.8h-0.8zM138.1 295.6h0.8v0.8h-0.8zM102.6 315.8h0.8v0.8h-0.8zM140.2 312.0h0.8v0.8h-0.8zM133.4 293.5h0.8v0.8h-0.8zM168.7 270.6h0.8v0.8h-0.8zM123.9 340.4h0.8v0.8h-0.8zM111.8 330.9h0.8v0.8h-0.8zM176.1 275.7h0.8v0.8h-0.8zM155.8 295.1h0.8v0.8h-0.8zM151.7 297.1h0.8v0.8h-0.8zM171.0 269.2h0.8v0.8h-0.8zM185.1 291.5h0.8v0.8h-0.8zM174.0 317.1h0.8v0.8h-0.8zM105.0 322.0h0.8v0.8h-0.8zM160.3 327.0h0.8v0.8h-0.8zM124.0 316.3h0.8v0.8h-0.8zM122.5 330.6h0.8v0.8h-0.8zM127.8 305.1h0.8v0.8h-0.8zM100.4 300.5h0.8v0.8h-0.8zM147.5 311.5h0.8v0.8h-0.8zM123.7 289.7h0.8v0.8h-0.8zM142.4 277.3h0.8v0.8h-0.8zM155.2 305.5h0.8v0.8h-0.8zM163.5 320.3h0.8v0.8h-0.8zM140.0 315.4h0.8v0.8h-0.8zM132.5 298.9h0.8v0.8h-0.8zM127.2 300.5h0.8v0.8h-0.8zM174.1 300.9h0.8v0.8h-0.8zM117.1 287.5h0.8v0.8h-0.8zM174.0 274.4h0.8v0.8h-0.8zM101.4 298.0h0.8v0.8h-0.8zM171.7 279.1h0.8v0.8h-0.8zM112.7 303.1h0.8v0.8h-0.8zM164.0 314.8h0.8v0.8h-0.8zM107.1 293.7h0.8v0.8h-0.8zM142.6 310.6h0.8v0.8h-0.8zM102.2 317.5h0.8v0.8h-0.8zM179.9 275.6h0.8v0.8h-0.8zM158.4 266.8h0.8v0.8h-0.8zM126.7 286.9h0.8v0.8h-0.8zM161.5 322.7h0.8v0.8h-0.8zM169.7 300.9h0.8v0.8h-0.8zM143.9 296.8h0.8v0.8h-0.8zM167.1 305.2h0.8v0.8h-0.8zM126.0 307.3h0.8v0.8h-0.8zM143.1 287.7h0.8v0.8h-0.8zM139.2 329.8h0.8v0.8h-0.8zM102.9 326.1h0.8v0.8h-0.8zM131.6 328.0h0.8v0.8h-0.8zM155.5 291.2h0.8v0.8h-0.8zM119.1 317.3h0.8v0.8h-0.8zM123.7 330.9h0.8v0.8h-0.8zM172.7 268.3h0.8v0.8h-0.8zM107.9 301.2h0.8v0.8h-0.8zM124.1 294.1h0.8v0.8h-0.8zM170.1 309.9h0.8v0.8h-0.8zM139.3 302.9h0.8v0.8h-0.8zM145.2 315.5h0.8v0.8h-0.8zM102.2 315.1h0.8v0.8h-0.8zM149.8 331.5h0.8v0.8h-0.8zM98.9 311.6h0.8v0.8h-0.8zM117.7 289.8h0.8v0.8h-0.8zM158.8 276.6h0.8v0.8h-0.8zM156.8 267.1h0.8v0.8h-0.8zM135.7 326.0h0.8v0.8h-0.8zM125.8 308.3h0.8v0.8h-0.8zM181.8 314.5h0.8v0.8h-0.8zM125.5 307.7h0.8v0.8h-0.8zM150.9 278.5h0.8v0.8h-0.8zM119.9 299.8h0.8v0.8h-0.8zM183.9 290.4h0.8v0.8h-0.8zM100.4 305.9h0.8v0.8h-0.8zM103.3 316.3h0.8v0.8h-0.8zM107.8 332.8h0.8v0.8h-0.8zM100.2 309.6h0.8v0.8h-0.8zM128.8 276.1h0.8v0.8h-0.8zM130.4 305.5h0.8v0.8h-0.8zM169.5 294.6h0.8v0.8h-0.8zM137.6 323.9h0.8v0.8h-0.8zM177.9 310.4h0.8v0.8h-0.8zM167.8 303.8h0.8v0.8h-0.8zM148.8 306.2h0.8v0.8h-0.8zM168.4 299.4h0.8v0.8h-0.8zM138.2 296.8h0.8v0.8h-0.8zM165.0 292.0h0.8v0.8h-0.8zM127.0 327.7h0.8v0.8h-0.8zM147.5 273.5h0.8v0.8h-0.8zM135.5 305.1h0.8v0.8h-0.8zM164.2 324.4h0.8v0.8h-0.8zM187.4 305.3h0.8v0.8h-0.8zM121.0 311.1h0.8v0.8h-0.8zM148.6 290.0h0.8v0.8h-0.8zM101.1 303.0h0.8v0.8h-0.8zM114.4 298.9h0.8v0.8h-0.8zM161.4 292.6h0.8v0.8h-0.8zM150.4 311.3h0.8v0.8h-0.8zM145.8 276.9h0.8v0.8h-0.8zM111.8 299.0h0.8v0.8h-0.8zM182.4 309.1h0.8v0.8h-0.8zM137.6 275.7h0.8v0.8h-0.8zM113.1 334.2h0.8v0.8h-0.8zM144.2 315.3h0.8v0.8h-0.8zM156.5 287.5h0.8v0.8h-0.8zM171.1 311.3h0.8v0.8h-0.8zM117.5 312.2h0.8v0.8h-0.8zM117.9 309.5h0.8v0.8h-0.8zM177.9 294.2h0.8v0.8h-0.8zM149.4 290.0h0.8v0.8h-0.8zM170.6 319.3h0.8v0.8h-0.8zM161.4 316.4h0.8v0.8h-0.8zM126.9 276.7h0.8v0.8h-0.8zM165.6 318.3h0.8v0.8h-0.8zM175.3 296.7h0.8v0.8h-0.8zM161.5 319.5h0.8v0.8h-0.8zM184.3 280.8h0.8v0.8h-0.8zM121.5 279.1h0.8v0.8h-0.8zM128.6 294.3h0.8v0.8h-0.8zM104.3 308.3h0.8v0.8h-0.8zM114.7 324.0h0.8v0.8h-0.8zM164.9 281.4h0.8v0.8h-0.8zM171.5 274.8h0.8v0.8h-0.8zM139.3 288.5h0.8v0.8h-0.8zM178.0 305.7h0.8v0.8h-0.8zM162.0 320.2h0.8v0.8h-0.8zM174.2 312.5h0.8v0.8h-0.8zM157.6 272.0h0.8v0.8h-0.8zM183.7 284.4h0.8v0.8h-0.8zM181.3 276.7h0.8v0.8h-0.8zM130.1 317.2h0.8v0.8h-0.8zM169.0 319.6h0.8v0.8h-0.8zM185.4 305.5h0.8v0.8h-0.8zM126.1 278.0h0.8v0.8h-0.8zM105.5 323.3h0.8v0.8h-0.8zM148.2 273.6h0.8v0.8h-0.8zM156.1 284.9h0.8v0.8h-0.8zM148.1 294.8h0.8v0.8h-0.8zM118.9 299.9h0.8v0.8h-0.8zM138.6 324.8h0.8v0.8h-0.8zM190.0 298.6h0.8v0.8h-0.8zM108.8 327.9h0.8v0.8h-0.8zM176.7 272.6h0.8v0.8h-0.8zM141.0 298.6h0.8v0.8h-0.8zM176.8 273.8h0.8v0.8h-0.8zM153.5 279.3h0.8v0.8h-0.8zM134.8 275.5h0.8v0.8h-0.8zM113.7 285.0h0.8v0.8h-0.8zM119.8 284.9h0.8v0.8h-0.8zM116.9 311.3h0.8v0.8h-0.8zM145.9 273.3h0.8v0.8h-0.8zM104.6 317.8h0.8v0.8h-0.8zM149.4 302.9h0.8v0.8h-0.8zM187.1 295.9h0.8v0.8h-0.8zM136.9 277.2h0.8v0.8h-0.8zM124.2 280.5h0.8v0.8h-0.8zM173.0 281.1h0.8v0.8h-0.8zM122.2 329.5h0.8v0.8h-0.8zM172.4 296.7h0.8v0.8h-0.8zM115.4 323.4h0.8v0.8h-0.8zM117.3 290.5h0.8v0.8h-0.8zM167.8 313.3h0.8v0.8h-0.8zM188.0 305.4h0.8v0.8h-0.8zM161.8 274.1h0.8v0.8h-0.8zM113.6 336.4h0.8v0.8h-0.8zM148.2 326.9h0.8v0.8h-0.8zM176.2 314.5h0.8v0.8h-0.8zM171.3 321.9h0.8v0.8h-0.8zM128.9 280.4h0.8v0.8h-0.8zM177.4 303.8h0.8v0.8h-0.8zM170.2 295.2h0.8v0.8h-0.8zM127.3 285.2h0.8v0.8h-0.8zM163.3 319.6h0.8v0.8h-0.8zM108.8 304.0h0.8v0.8h-0.8zM155.1 308.0h0.8v0.8h-0.8zM147.6 325.6h0.8v0.8h-0.8zM146.2 295.4h0.8v0.8h-0.8zM165.6 267.9h0.8v0.8h-0.8zM143.2 285.3h0.8v0.8h-0.8zM185.5 300.4h0.8v0.8h-0.8zM147.0 286.5h0.8v0.8h-0.8zM133.6 334.2h0.8v0.8h-0.8zM172.7 278.1h0.8v0.8h-0.8zM144.0 285.6h0.8v0.8h-0.8zM157.3 271.1h0.8v0.8h-0.8zM120.8 304.4h0.8v0.8h-0.8zM180.9 308.8h0.8v0.8h-0.8zM164.7 323.8h0.8v0.8h-0.8zM145.9 289.5h0.8v0.8h-0.8zM142.7 285.6h0.8v0.8h-0.8zM100.1 314.6h0.8v0.8h-0.8zM174.4 291.5h0.8v0.8h-0.8zM154.2 301.7h0.8v0.8h-0.8zM110.3 314.9h0.8v0.8h-0.8zM175.9 272.8h0.8v0.8h-0.8zM156.7 267.3h0.8v0.8h-0.8zM158.7 302.9h0.8v0.8h-0.8zM165.9 298.4h0.8v0.8h-0.8zM155.0 301.1h0.8v0.8h-0.8zM122.3 304.3h0.8v0.8h-0.8zM157.2 331.7h0.8v0.8h-0.8zM157.6 311.9h0.8v0.8h-0.8zM166.0 287.8h0.8v0.8h-0.8zM156.3 306.5h0.8v0.8h-0.8zM164.3 307.6h0.8v0.8h-0.8zM183.0 282.7h0.8v0.8h-0.8zM167.7 268.5h0.8v0.8h-0.8zM116.4 317.5h0.8v0.8h-0.8zM176.9 283.3h0.8v0.8h-0.8zM131.0 285.3h0.8v0.8h-0.8zM146.3 299.8h0.8v0.8h-0.8zM171.3 296.8h0.8v0.8h-0.8zM185.0 290.1h0.8v0.8h-0.8zM107.5 301.5h0.8v0.8h-0.8zM153.2 296.6h0.8v0.8h-0.8zM162.3 275.4h0.8v0.8h-0.8zM160.1 290.7h0.8v0.8h-0.8zM173.4 284.3h0.8v0.8h-0.8zM151.0 301.1h0.8v0.8h-0.8zM161.5 326.5h0.8v0.8h-0.8zM116.2 316.0h0.8v0.8h-0.8zM127.9 310.0h0.8v0.8h-0.8zM166.2 317.4h0.8v0.8h-0.8zM117.5 316.1h0.8v0.8h-0.8zM126.0 325.0h0.8v0.8h-0.8zM152.6 294.8h0.8v0.8h-0.8zM170.4 314.2h0.8v0.8h-0.8zM143.0 288.0h0.8v0.8h-0.8zM146.9 323.9h0.8v0.8h-0.8zM147.3 320.4h0.8v0.8h-0.8zM124.8 285.5h0.8v0.8h-0.8zM184.7 296.6h0.8v0.8h-0.8zM141.9 293.7h0.8v0.8h-0.8zM156.6 279.3h0.8v0.8h-0.8zM125.2 318.9h0.8v0.8h-0.8zM157.3 291.2h0.8v0.8h-0.8zM137.1 278.1h0.8v0.8h-0.8zM117.3 301.5h0.8v0.8h-0.8zM119.1 280.3h0.8v0.8h-0.8zM144.9 270.1h0.8v0.8h-0.8zM99.8 305.3h0.8v0.8h-0.8zM159.0 276.8h0.8v0.8h-0.8zM172.1 296.7h0.8v0.8h-0.8zM118.1 317.2h0.8v0.8h-0.8zM144.2 312.5h0.8v0.8h-0.8zM153.6 291.9h0.8v0.8h-0.8zM157.1 323.6h0.8v0.8h-0.8zM179.1 305.3h0.8v0.8h-0.8zM150.4 281.9h0.8v0.8h-0.8zM151.0 307.2h0.8v0.8h-0.8zM116.3 302.3h0.8v0.8h-0.8zM171.4 276.8h0.8v0.8h-0.8zM137.4 301.1h0.8v0.8h-0.8zM172.9 308.0h0.8v0.8h-0.8zM138.0 302.0h0.8v0.8h-0.8zM137.2 329.6h0.8v0.8h-0.8zM149.2 301.8h0.8v0.8h-0.8zM154.3 330.0h0.8v0.8h-0.8zM138.9 336.5h0.8v0.8h-0.8zM132.9 279.4h0.8v0.8h-0.8zM108.7 325.7h0.8v0.8h-0.8zM159.6 289.7h0.8v0.8h-0.8zM164.5 297.8h0.8v0.8h-0.8zM110.9 304.1h0.8v0.8h-0.8zM164.9 325.2h0.8v0.8h-0.8zM132.8 287.4h0.8v0.8h-0.8zM164.5 318.2h0.8v0.8h-0.8zM122.3 311.3h0.8v0.8h-0.8zM152.6 315.7h0.8v0.8h-0.8zM180.9 292.8h0.8v0.8h-0.8zM136.8 334.7h0.8v0.8h-0.8zM165.9 274.1h0.8v0.8h-0.8zM150.3 277.0h0.8v0.8h-0.8zM111.5 310.5h0.8v0.8h-0.8zM124.0 283.7h0.8v0.8h-0.8zM137.3 321.2h0.8v0.8h-0.8zM170.7 314.2h0.8v0.8h-0.8zM177.8 280.4h0.8v0.8h-0.8zM103.6 312.8h0.8v0.8h-0.8zM153.5 268.1h0.8v0.8h-0.8zM152.0 323.3h0.8v0.8h-0.8zM151.3 293.2h0.8v0.8h-0.8zM133.1 291.9h0.8v0.8h-0.8zM178.3 275.6h0.8v0.8h-0.8zM151.5 311.4h0.8v0.8h-0.8zM103.5 310.4h0.8v0.8h-0.8zM148.7 314.2h0.8v0.8h-0.8zM168.1 291.7h0.8v0.8h-0.8zM120.0 280.9h0.8v0.8h-0.8zM154.0 314.6h0.8v0.8h-0.8zM132.8 285.0h0.8v0.8h-0.8zM115.6 289.1h0.8v0.8h-0.8zM136.1 291.5h0.8v0.8h-0.8zM139.7 290.1h0.8v0.8h-0.8zM177.1 290.1h0.8v0.8h-0.8zM141.5 312.0h0.8v0.8h-0.8zM152.4 287.7h0.8v0.8h-0.8zM118.8 314.3h0.8v0.8h-0.8zM152.8 274.9h0.8v0.8h-0.8zM188.7 289.1h0.8v0.8h-0.8zM131.4 301.6h0.8v0.8h-0.8zM102.8 320.6h0.8v0.8h-0.8zM155.1 314.1h0.8v0.8h-0.8zM169.3 321.2h0.8v0.8h-0.8zM143.3 304.0h0.8v0.8h-0.8zM108.2 298.7h0.8v0.8h-0.8zM132.3 275.8h0.8v0.8h-0.8zM109.0 330.1h0.8v0.8h-0.8zM135.4 339.2h0.8v0.8h-0.8zM152.0 329.4h0.8v0.8h-0.8zM147.8 318.6h0.8v0.8h-0.8zM115.6 286.0h0.8v0.8h-0.8zM155.4 274.3h0.8v0.8h-0.8zM102.3 316.9h0.8v0.8h-0.8zM181.9 309.0h0.8v0.8h-0.8zM111.1 306.0h0.8v0.8h-0.8zM137.8 276.4h0.8v0.8h-0.8zM165.7 316.0h0.8v0.8h-0.8zM157.3 330.4h0.8v0.8h-0.8zM143.1 313.1h0.8v0.8h-0.8zM117.7 282.1h0.8v0.8h-0.8zM166.7 324.6h0.8v0.8h-0.8zM120.9 304.3h0.8v0.8h-0.8zM175.2 305.9h0.8v0.8h-0.8zM155.9 266.1h0.8v0.8h-0.8zM135.0 292.8h0.8v0.8h-0.8zM127.2 279.1h0.8v0.8h-0.8zM155.7 304.7h0.8v0.8h-0.8zM109.1 324.1h0.8v0.8h-0.8zM138.7 296.0h0.8v0.8h-0.8zM152.3 283.0h0.8v0.8h-0.8zM158.4 312.8h0.8v0.8h-0.8zM157.9 325.5h0.8v0.8h-0.8zM113.7 328.3h0.8v0.8h-0.8zM188.0 303.4h0.8v0.8h-0.8zM181.1 276.5h0.8v0.8h-0.8zM152.9 331.9h0.8v0.8h-0.8zM174.6 276.6h0.8v0.8h-0.8zM116.8 336.5h0.8v0.8h-0.8zM167.5 292.1h0.8v0.8h-0.8zM132.2 293.6h0.8v0.8h-0.8zM112.8 336.4h0.8v0.8h-0.8zM122.7 319.9h0.8v0.8h-0.8zM156.8 287.6h0.8v0.8h-0.8zM133.2 297.7h0.8v0.8h-0.8zM145.6 280.6h0.8v0.8h-0.8zM103.1 323.7h0.8v0.8h-0.8zM113.4 318.3h0.8v0.8h-0.8zM121.8 319.5h0.8v0.8h-0.8zM148.5 268.9h0.8v0.8h-0.8zM143.4 274.4h0.8v0.8h-0.8zM152.9 331.4h0.8v0.8h-0.8zM117.9 318.9h0.8v0.8h-0.8zM105.8 301.4h0.8v0.8h-0.8zM170.5 316.3h0.8v0.8h-0.8zM165.9 271.9h0.8v0.8h-0.8zM155.5 305.6h0.8v0.8h-0.8zM139.2 275.8h0.8v0.8h-0.8zM186.7 291.1h0.8v0.8h-0.8zM130.1 299.8h0.8v0.8h-0.8zM100.0 305.9h0.8v0.8h-0.8zM152.2 320.4h0.8v0.8h-0.8zM172.9 308.7h0.8v0.8h-0.8zM126.2 284.0h0.8v0.8h-0.8zM122.7 313.0h0.8v0.8h-0.8zM163.5 322.5h0.8v0.8h-0.8zM166.8 309.0h0.8v0.8h-0.8zM181.9 291.3h0.8v0.8h-0.8zM149.0 302.9h0.8v0.8h-0.8zM118.3 293.3h0.8v0.8h-0.8zM133.8 323.0h0.8v0.8h-0.8zM151.0 292.1h0.8v0.8h-0.8zM130.4 281.9h0.8v0.8h-0.8zM156.8 304.8h0.8v0.8h-0.8zM144.4 303.2h0.8v0.8h-0.8zM173.5 284.0h0.8v0.8h-0.8zM166.5 313.7h0.8v0.8h-0.8zM99.5 303.9h0.8v0.8h-0.8zM120.2 313.4h0.8v0.8h-0.8zM165.0 298.9h0.8v0.8h-0.8zM177.4 271.9h0.8v0.8h-0.8zM159.5 280.8h0.8v0.8h-0.8zM186.2 303.2h0.8v0.8h-0.8zM112.9 326.9h0.8v0.8h-0.8zM188.7 297.3h0.8v0.8h-0.8zM100.9 300.5h0.8v0.8h-0.8zM114.0 330.6h0.8v0.8h-0.8zM112.3 319.2h0.8v0.8h-0.8zM133.0 310.7h0.8v0.8h-0.8zM173.6 305.4h0.8v0.8h-0.8zM112.3 328.2h0.8v0.8h-0.8zM105.4 299.4h0.8v0.8h-0.8zM170.0 294.9h0.8v0.8h-0.8zM104.0 309.0h0.8v0.8h-0.8zM168.7 323.2h0.8v0.8h-0.8zM149.8 290.5h0.8v0.8h-0.8zM155.3 305.5h0.8v0.8h-0.8zM127.0 281.7h0.8v0.8h-0.8zM126.0 325.7h0.8v0.8h-0.8zM105.7 304.9h0.8v0.8h-0.8zM113.9 336.8h0.8v0.8h-0.8zM140.8 307.6h0.8v0.8h-0.8zM175.4 276.0h0.8v0.8h-0.8zM125.8 328.6h0.8v0.8h-0.8zM110.8 297.0h0.8v0.8h-0.8zM170.5 285.7h0.8v0.8h-0.8zM121.7 292.2h0.8v0.8h-0.8zM97.6 306.7h0.8v0.8h-0.8zM126.1 335.3h0.8v0.8h-0.8zM166.4 266.0h0.8v0.8h-0.8zM128.2 311.1h0.8v0.8h-0.8zM182.1 310.1h0.8v0.8h-0.8zM99.2 312.9h0.8v0.8h-0.8zM122.7 339.8h0.8v0.8h-0.8zM119.4 291.7h0.8v0.8h-0.8zM168.5 307.9h0.8v0.8h-0.8zM147.2 300.4h0.8v0.8h-0.8zM140.5 271.8h0.8v0.8h-0.8zM175.1 273.5h0.8v0.8h-0.8zM146.8 300.7h0.8v0.8h-0.8zM135.0 311.3h0.8v0.8h-0.8zM149.6 335.1h0.8v0.8h-0.8zM153.3 268.5h0.8v0.8h-0.8zM138.5 282.3h0.8v0.8h-0.8zM165.9 266.0h0.8v0.8h-0.8zM178.6 275.9h0.8v0.8h-0.8zM164.3 297.8h0.8v0.8h-0.8zM136.8 328.9h0.8v0.8h-0.8zM173.5 303.8h0.8v0.8h-0.8zM168.4 305.8h0.8v0.8h-0.8zM185.8 292.1h0.8v0.8h-0.8zM150.7 317.7h0.8v0.8h-0.8zM152.5 269.7h0.8v0.8h-0.8zM131.9 280.7h0.8v0.8h-0.8zM142.4 292.1h0.8v0.8h-0.8zM110.9 332.3h0.8v0.8h-0.8zM143.5 303.6h0.8v0.8h-0.8zM129.2 330.9h0.8v0.8h-0.8zM154.5 269.1h0.8v0.8h-0.8zM157.6 285.2h0.8v0.8h-0.8zM130.0 314.0h0.8v0.8h-0.8zM127.9 277.8h0.8v0.8h-0.8zM111.2 327.6h0.8v0.8h-0.8zM169.3 297.1h0.8v0.8h-0.8zM166.8 275.4h0.8v0.8h-0.8zM159.3 304.7h0.8v0.8h-0.8zM159.3 306.6h0.8v0.8h-0.8zM107.8 292.0h0.8v0.8h-0.8zM177.9 284.2h0.8v0.8h-0.8zM112.9 307.6h0.8v0.8h-0.8zM132.7 324.7h0.8v0.8h-0.8zM143.9 269.5h0.8v0.8h-0.8zM181.3 276.0h0.8v0.8h-0.8zM160.0 294.0h0.8v0.8h-0.8zM111.6 319.1h0.8v0.8h-0.8zM172.3 301.2h0.8v0.8h-0.8zM132.5 275.2h0.8v0.8h-0.8zM107.4 309.6h0.8v0.8h-0.8zM108.2 290.2h0.8v0.8h-0.8zM118.2 325.9h0.8v0.8h-0.8zM134.9 323.9h0.8v0.8h-0.8zM174.0 308.8h0.8v0.8h-0.8zM139.3 310.4h0.8v0.8h-0.8zM136.7 272.7h0.8v0.8h-0.8zM181.0 299.9h0.8v0.8h-0.8zM187.7 300.0h0.8v0.8h-0.8zM178.9 281.2h0.8v0.8h-0.8zM119.3 294.7h0.8v0.8h-0.8zM173.0 299.5h0.8v0.8h-0.8zM105.2 306.5h0.8v0.8h-0.8zM175.2 304.8h0.8v0.8h-0.8zM176.2 289.5h0.8v0.8h-0.8zM171.3 291.2h0.8v0.8h-0.8zM183.0 307.7h0.8v0.8h-0.8zM109.8 334.2h0.8v0.8h-0.8zM127.3 335.9h0.8v0.8h-0.8zM105.8 296.8h0.8v0.8h-0.8zM144.7 278.4h0.8v0.8h-0.8zM129.0 333.8h0.8v0.8h-0.8zM117.3 330.1h0.8v0.8h-0.8zM177.4 282.8h0.8v0.8h-0.8zM130.9 333.9h0.8v0.8h-0.8zM175.2 319.8h0.8v0.8h-0.8zM172.3 288.8h0.8v0.8h-0.8zM100.0 315.5h0.8v0.8h-0.8zM183.1 309.5h0.8v0.8h-0.8zM160.3 284.9h0.8v0.8h-0.8zM145.3 271.7h0.8v0.8h-0.8zM136.2 303.8h0.8v0.8h-0.8zM157.2 289.6h0.8v0.8h-0.8zM106.8 304.6h0.8v0.8h-0.8zM144.8 329.5h0.8v0.8h-0.8zM157.0 287.3h0.8v0.8h-0.8zM156.6 329.0h0.8v0.8h-0.8zM160.5 308.1h0.8v0.8h-0.8zM118.5 320.1h0.8v0.8h-0.8zM126.0 294.3h0.8v0.8h-0.8zM141.6 300.5h0.8v0.8h-0.8zM177.7 312.1h0.8v0.8h-0.8zM134.0 304.3h0.8v0.8h-0.8zM185.2 285.3h0.8v0.8h-0.8zM121.6 326.5h0.8v0.8h-0.8zM136.0 306.3h0.8v0.8h-0.8zM136.5 288.8h0.8v0.8h-0.8zM147.9 319.5h0.8v0.8h-0.8zM167.6 299.9h0.8v0.8h-0.8zM175.8 290.8h0.8v0.8h-0.8zM102.4 320.5h0.8v0.8h-0.8zM154.3 308.5h0.8v0.8h-0.8zM179.4 281.6h0.8v0.8h-0.8zM171.8 270.0h0.8v0.8h-0.8zM158.4 325.1h0.8v0.8h-0.8zM173.7 296.4h0.8v0.8h-0.8zM116.8 292.2h0.8v0.8h-0.8zM173.5 292.5h0.8v0.8h-0.8zM170.4 293.2h0.8v0.8h-0.8zM148.2 329.8h0.8v0.8h-0.8zM127.8 339.3h0.8v0.8h-0.8zM138.8 322.8h0.8v0.8h-0.8zM160.3 295.3h0.8v0.8h-0.8zM139.0 297.3h0.8v0.8h-0.8zM146.7 272.8h0.8v0.8h-0.8zM159.5 321.3h0.8v0.8h-0.8zM163.5 312.1h0.8v0.8h-0.8zM177.0 316.9h0.8v0.8h-0.8zM110.1 293.0h0.8v0.8h-0.8zM121.9 290.8h0.8v0.8h-0.8zM147.9 303.6h0.8v0.8h-0.8zM161.4 314.2h0.8v0.8h-0.8zM170.3 313.5h0.8v0.8h-0.8zM176.8 272.1h0.8v0.8h-0.8zM154.2 331.4h0.8v0.8h-0.8zM126.5 320.9h0.8v0.8h-0.8zM120.3 288.2h0.8v0.8h-0.8zM148.4 269.9h0.8v0.8h-0.8zM141.5 336.1h0.8v0.8h-0.8zM119.9 281.7h0.8v0.8h-0.8zM132.9 310.2h0.8v0.8h-0.8zM126.6 309.5h0.8v0.8h-0.8zM117.5 317.0h0.8v0.8h-0.8zM156.7 313.8h0.8v0.8h-0.8zM106.0 307.3h0.8v0.8h-0.8zM128.4 289.9h0.8v0.8h-0.8zM128.4 313.8h0.8v0.8h-0.8zM153.8 314.5h0.8v0.8h-0.8zM144.9 314.3h0.8v0.8h-0.8zM181.3 284.5h0.8v0.8h-0.8zM104.1 314.3h0.8v0.8h-0.8zM172.2 288.9h0.8v0.8h-0.8zM163.4 287.4h0.8v0.8h-0.8zM134.4 280.0h0.8v0.8h-0.8zM183.9 311.5h0.8v0.8h-0.8zM138.3 291.6h0.8v0.8h-0.8zM135.3 310.7h0.8v0.8h-0.8zM111.0 300.2h0.8v0.8h-0.8zM137.6 306.3h0.8v0.8h-0.8zM142.4 270.8h0.8v0.8h-0.8zM147.9 292.7h0.8v0.8h-0.8zM103.3 304.1h0.8v0.8h-0.8zM160.0 284.8h0.8v0.8h-0.8zM107.7 301.1h0.8v0.8h-0.8zM154.7 318.4h0.8v0.8h-0.8zM181.5 294.2h0.8v0.8h-0.8zM142.1 283.3h0.8v0.8h-0.8zM105.9 328.5h0.8v0.8h-0.8zM148.2 301.3h0.8v0.8h-0.8zM160.9 324.0h0.8v0.8h-0.8zM163.7 291.0h0.8v0.8h-0.8zM166.8 292.5h0.8v0.8h-0.8zM143.7 272.6h0.8v0.8h-0.8zM177.6 285.5h0.8v0.8h-0.8zM134.3 335.2h0.8v0.8h-0.8zM145.8 297.4h0.8v0.8h-0.8zM150.1 302.4h0.8v0.8h-0.8zM133.8 291.5h0.8v0.8h-0.8zM112.0 288.3h0.8v0.8h-0.8zM108.4 331.8h0.8v0.8h-0.8zM142.2 289.0h0.8v0.8h-0.8zM153.2 281.7h0.8v0.8h-0.8zM151.3 309.9h0.8v0.8h-0.8zM125.1 317.0h0.8v0.8h-0.8zM174.9 286.6h0.8v0.8h-0.8zM177.2 280.3h0.8v0.8h-0.8zM185.7 288.4h0.8v0.8h-0.8zM170.2 297.7h0.8v0.8h-0.8zM150.5 282.8h0.8v0.8h-0.8zM177.8 303.4h0.8v0.8h-0.8zM154.5 269.9h0.8v0.8h-0.8zM125.7 328.2h0.8v0.8h-0.8zM104.8 323.9h0.8v0.8h-0.8zM121.3 279.1h0.8v0.8h-0.8zM174.3 271.5h0.8v0.8h-0.8zM145.4 333.0h0.8v0.8h-0.8zM118.6 325.9h0.8v0.8h-0.8zM164.6 283.4h0.8v0.8h-0.8zM162.4 271.1h0.8v0.8h-0.8zM128.7 283.5h0.8v0.8h-0.8zM149.1 274.2h0.8v0.8h-0.8zM123.9 337.1h0.8v0.8h-0.8zM171.3 306.7h0.8v0.8h-0.8zM142.5 289.6h0.8v0.8h-0.8zM134.0 299.1h0.8v0.8h-0.8zM118.7 338.6h0.8v0.8h-0.8zM125.4 319.8h0.8v0.8h-0.8zM165.1 308.3h0.8v0.8h-0.8zM130.4 328.6h0.8v0.8h-0.8zM139.0 289.6h0.8v0.8h-0.8zM171.9 271.8h0.8v0.8h-0.8zM177.0 283.5h0.8v0.8h-0.8zM142.5 292.9h0.8v0.8h-0.8zM153.4 289.9h0.8v0.8h-0.8zM168.3 306.1h0.8v0.8h-0.8zM152.2 266.5h0.8v0.8h-0.8zM172.2 282.7h0.8v0.8h-0.8zM160.4 295.1h0.8v0.8h-0.8zM131.9 281.8h0.8v0.8h-0.8zM155.9 273.3h0.8v0.8h-0.8zM170.4 279.6h0.8v0.8h-0.8zM112.5 312.5h0.8v0.8h-0.8zM165.6 305.8h0.8v0.8h-0.8zM105.2 296.4h0.8v0.8h-0.8zM103.8 324.0h0.8v0.8h-0.8zM106.2 319.2h0.8v0.8h-0.8zM108.5 297.2h0.8v0.8h-0.8zM172.4 282.4h0.8v0.8h-0.8zM143.3 330.4h0.8v0.8h-0.8zM148.4 273.6h0.8v0.8h-0.8zM122.3 330.4h0.8v0.8h-0.8zM109.0 331.1h0.8v0.8h-0.8zM167.7 268.7h0.8v0.8h-0.8zM125.8 279.5h0.8v0.8h-0.8zM135.3 326.6h0.8v0.8h-0.8zM115.8 307.5h0.8v0.8h-0.8zM136.7 280.3h0.8v0.8h-0.8zM125.1 309.3h0.8v0.8h-0.8zM161.8 289.3h0.8v0.8h-0.8zM114.3 295.1h0.8v0.8h-0.8zM172.9 304.9h0.8v0.8h-0.8zM158.0 284.3h0.8v0.8h-0.8zM172.5 310.5h0.8v0.8h-0.8zM178.3 284.1h0.8v0.8h-0.8zM151.6 331.3h0.8v0.8h-0.8zM146.9 305.8h0.8v0.8h-0.8zM182.5 309.0h0.8v0.8h-0.8zM161.9 296.1h0.8v0.8h-0.8zM138.2 276.0h0.8v0.8h-0.8zM117.8 286.2h0.8v0.8h-0.8zM141.0 285.4h0.8v0.8h-0.8zM176.5 318.0h0.8v0.8h-0.8zM147.6 302.8h0.8v0.8h-0.8zM120.8 284.0h0.8v0.8h-0.8zM136.4 283.6h0.8v0.8h-0.8zM124.2 320.6h0.8v0.8h-0.8zM103.3 299.5h0.8v0.8h-0.8zM124.0 337.5h0.8v0.8h-0.8zM131.1 276.5h0.8v0.8h-0.8zM181.9 289.3h0.8v0.8h-0.8zM155.1 297.7h0.8v0.8h-0.8zM161.2 309.6h0.8v0.8h-0.8zM175.2 300.8h0.8v0.8h-0.8zM109.5 298.1h0.8v0.8h-0.8zM125.0 278.0h0.8v0.8h-0.8zM106.5 304.8h0.8v0.8h-0.8zM165.4 284.1h0.8v0.8h-0.8zM157.7 271.6h0.8v0.8h-0.8zM145.4 336.3h0.8v0.8h-0.8zM130.9 276.0h0.8v0.8h-0.8zM106.5 295.6h0.8v0.8h-0.8zM150.9 284.8h0.8v0.8h-0.8zM126.2 314.9h0.8v0.8h-0.8zM103.1 298.0h0.8v0.8h-0.8zM186.3 285.7h0.8v0.8h-0.8zM168.5 314.9h0.8v0.8h-0.8zM188.8 303.6h0.8v0.8h-0.8zM131.1 276.8h0.8v0.8h-0.8zM124.3 325.3h0.8v0.8h-0.8zM180.8 289.4h0.8v0.8h-0.8zM167.6 295.9h0.8v0.8h-0.8zM124.5 333.6h0.8v0.8h-0.8zM154.3 332.6h0.8v0.8h-0.8zM154.9 273.7h0.8v0.8h-0.8zM148.2 283.7h0.8v0.8h-0.8zM189.4 291.3h0.8v0.8h-0.8zM132.0 328.0h0.8v0.8h-0.8zM142.2 308.4h0.8v0.8h-0.8zM109.9 287.1h0.8v0.8h-0.8zM149.8 309.8h0.8v0.8h-0.8zM114.9 293.3h0.8v0.8h-0.8zM108.6 302.9h0.8v0.8h-0.8zM159.2 300.2h0.8v0.8h-0.8zM185.8 291.8h0.8v0.8h-0.8zM113.2 331.4h0.8v0.8h-0.8zM117.2 296.7h0.8v0.8h-0.8zM187.3 297.5h0.8v0.8h-0.8zM114.5 305.9h0.8v0.8h-0.8zM113.1 311.9h0.8v0.8h-0.8zM107.1 325.2h0.8v0.8h-0.8zM123.6 300.1h0.8v0.8h-0.8zM133.0 294.0h0.8v0.8h-0.8zM117.5 291.7h0.8v0.8h-0.8zM120.3 298.0h0.8v0.8h-0.8zM184.9 286.7h0.8v0.8h-0.8zM135.2 331.0h0.8v0.8h-0.8zM110.5 296.4h0.8v0.8h-0.8zM124.2 324.2h0.8v0.8h-0.8zM115.9 328.4h0.8v0.8h-0.8zM124.5 303.4h0.8v0.8h-0.8zM144.4 277.8h0.8v0.8h-0.8zM171.2 300.4h0.8v0.8h-0.8zM107.8 327.1h0.8v0.8h-0.8zM111.3 308.9h0.8v0.8h-0.8zM134.8 334.3h0.8v0.8h-0.8zM151.1 275.6h0.8v0.8h-0.8zM138.7 292.3h0.8v0.8h-0.8zM128.5 331.9h0.8v0.8h-0.8zM126.4 323.2h0.8v0.8h-0.8zM164.9 266.9h0.8v0.8h-0.8zM112.2 332.0h0.8v0.8h-0.8zM151.2 275.6h0.8v0.8h-0.8zM122.8 308.7h0.8v0.8h-0.8zM183.5 311.5h0.8v0.8h-0.8zM165.4 303.1h0.8v0.8h-0.8zM139.7 295.6h0.8v0.8h-0.8zM135.6 336.3h0.8v0.8h-0.8zM145.3 326.1h0.8v0.8h-0.8zM121.5 325.1h0.8v0.8h-0.8zM137.0 310.4h0.8v0.8h-0.8zM159.4 287.7h0.8v0.8h-0.8zM120.0 323.5h0.8v0.8h-0.8zM156.3 272.8h0.8v0.8h-0.8zM111.2 298.0h0.8v0.8h-0.8zM103.9 326.5h0.8v0.8h-0.8zM157.7 320.5h0.8v0.8h-0.8zM176.9 282.7h0.8v0.8h-0.8zM99.3 309.5h0.8v0.8h-0.8zM145.7 316.6h0.8v0.8h-0.8zM148.8 269.8h0.8v0.8h-0.8zM124.2 311.2h0.8v0.8h-0.8zM169.2 323.7h0.8v0.8h-0.8zM121.3 321.8h0.8v0.8h-0.8zM114.7 284.7h0.8v0.8h-0.8zM179.0 284.5h0.8v0.8h-0.8zM136.4 289.9h0.8v0.8h-0.8zM139.2 291.6h0.8v0.8h-0.8zM100.5 315.9h0.8v0.8h-0.8zM142.8 305.6h0.8v0.8h-0.8zM133.4 293.4h0.8v0.8h-0.8zM177.1 304.3h0.8v0.8h-0.8zM126.6 335.2h0.8v0.8h-0.8zM146.0 297.9h0.8v0.8h-0.8zM153.9 329.8h0.8v0.8h-0.8zM133.7 310.7h0.8v0.8h-0.8zM187.6 307.0h0.8v0.8h-0.8zM127.5 297.9h0.8v0.8h-0.8zM161.1 303.2h0.8v0.8h-0.8zM147.4 315.0h0.8v0.8h-0.8zM162.8 274.3h0.8v0.8h-0.8zM186.9 290.8h0.8v0.8h-0.8zM157.6 324.3h0.8v0.8h-0.8zM185.9 282.6h0.8v0.8h-0.8zM184.1 291.4h0.8v0.8h-0.8zM155.2 323.4h0.8v0.8h-0.8zM116.2 302.4h0.8v0.8h-0.8zM174.9 271.8h0.8v0.8h-0.8zM176.4 318.4h0.8v0.8h-0.8zM129.7 331.5h0.8v0.8h-0.8zM153.6 309.4h0.8v0.8h-0.8zM107.0 301.8h0.8v0.8h-0.8zM168.1 291.4h0.8v0.8h-0.8zM132.1 287.5h0.8v0.8h-0.8zM131.1 315.0h0.8v0.8h-0.8zM124.4 304.9h0.8v0.8h-0.8zM178.4 290.3h0.8v0.8h-0.8zM124.4 322.9h0.8v0.8h-0.8zM158.8 330.1h0.8v0.8h-0.8zM181.6 276.2h0.8v0.8h-0.8zM125.8 281.3h0.8v0.8h-0.8zM139.6 289.9h0.8v0.8h-0.8zM148.5 292.9h0.8v0.8h-0.8zM151.8 329.2h0.8v0.8h-0.8zM150.7 275.7h0.8v0.8h-0.8zM99.2 309.2h0.8v0.8h-0.8zM168.5 318.5h0.8v0.8h-0.8zM158.8 298.7h0.8v0.8h-0.8zM169.7 306.0h0.8v0.8h-0.8zM187.1 291.8h0.8v0.8h-0.8zM140.0 300.6h0.8v0.8h-0.8zM138.4 326.8h0.8v0.8h-0.8zM138.7 306.5h0.8v0.8h-0.8zM181.0 307.4h0.8v0.8h-0.8zM132.6 278.3h0.8v0.8h-0.8zM163.8 289.1h0.8v0.8h-0.8zM108.1 305.3h0.8v0.8h-0.8zM158.9 316.8h0.8v0.8h-0.8zM150.3 281.9h0.8v0.8h-0.8zM187.5 292.4h0.8v0.8h-0.8zM136.1 292.6h0.8v0.8h-0.8zM123.8 283.2h0.8v0.8h-0.8zM120.4 291.1h0.8v0.8h-0.8zM115.4 324.2h0.8v0.8h-0.8zM147.8 269.5h0.8v0.8h-0.8zM165.1 315.7h0.8v0.8h-0.8zM154.6 309.6h0.8v0.8h-0.8zM120.8 280.4h0.8v0.8h-0.8zM101.9 308.3h0.8v0.8h-0.8zM152.5 278.7h0.8v0.8h-0.8zM106.1 325.9h0.8v0.8h-0.8zM169.8 268.7h0.8v0.8h-0.8zM126.7 294.1h0.8v0.8h-0.8zM139.7 312.7h0.8v0.8h-0.8zM173.7 319.3h0.8v0.8h-0.8zM164.4 293.1h0.8v0.8h-0.8zM136.0 304.7h0.8v0.8h-0.8zM187.6 301.1h0.8v0.8h-0.8zM144.5 319.4h0.8v0.8h-0.8zM145.9 316.4h0.8v0.8h-0.8zM127.5 333.3h0.8v0.8h-0.8zM116.6 288.2h0.8v0.8h-0.8zM168.6 301.1h0.8v0.8h-0.8zM139.0 271.9h0.8v0.8h-0.8zM165.9 268.7h0.8v0.8h-0.8zM184.5 306.3h0.8v0.8h-0.8zM187.4 304.2h0.8v0.8h-0.8zM139.0 325.9h0.8v0.8h-0.8zM132.9 302.1h0.8v0.8h-0.8zM167.4 299.0h0.8v0.8h-0.8zM151.5 310.8h0.8v0.8h-0.8zM187.9 292.2h0.8v0.8h-0.8zM171.8 283.4h0.8v0.8h-0.8zM158.4 295.4h0.8v0.8h-0.8zM115.3 327.4h0.8v0.8h-0.8zM117.0 321.8h0.8v0.8h-0.8zM142.5 273.2h0.8v0.8h-0.8zM108.7 319.0h0.8v0.8h-0.8zM162.1 279.8h0.8v0.8h-0.8zM147.2 301.0h0.8v0.8h-0.8zM135.7 298.3h0.8v0.8h-0.8zM169.5 324.4h0.8v0.8h-0.8zM158.4 268.2h0.8v0.8h-0.8zM151.6 319.8h0.8v0.8h-0.8zM132.9 315.4h0.8v0.8h-0.8zM137.8 315.6h0.8v0.8h-0.8zM174.0 278.8h0.8v0.8h-0.8zM153.2 333.0h0.8v0.8h-0.8zM110.9 318.7h0.8v0.8h-0.8zM110.3 324.8h0.8v0.8h-0.8zM132.0 311.5h0.8v0.8h-0.8zM107.6 303.1h0.8v0.8h-0.8zM156.5 299.8h0.8v0.8h-0.8zM179.4 304.0h0.8v0.8h-0.8zM142.8 328.5h0.8v0.8h-0.8zM112.7 314.3h0.8v0.8h-0.8zM179.6 313.9h0.8v0.8h-0.8zM104.5 319.6h0.8v0.8h-0.8zM154.1 277.2h0.8v0.8h-0.8zM124.3 282.7h0.8v0.8h-0.8zM144.4 332.0h0.8v0.8h-0.8zM163.1 269.5h0.8v0.8h-0.8zM119.1 335.4h0.8v0.8h-0.8zM114.9 310.4h0.8v0.8h-0.8zM162.3 291.2h0.8v0.8h-0.8zM135.5 338.8h0.8v0.8h-0.8zM165.9 283.0h0.8v0.8h-0.8zM162.5 296.3h0.8v0.8h-0.8zM132.4 328.7h0.8v0.8h-0.8zM135.2 281.8h0.8v0.8h-0.8zM118.6 318.2h0.8v0.8h-0.8zM164.8 306.1h0.8v0.8h-0.8zM142.8 278.8h0.8v0.8h-0.8zM157.6 330.1h0.8v0.8h-0.8zM161.5 329.1h0.8v0.8h-0.8zM137.9 334.6h0.8v0.8h-0.8zM150.0 297.7h0.8v0.8h-0.8zM180.7 273.7h0.8v0.8h-0.8zM147.7 287.7h0.8v0.8h-0.8zM182.1 304.9h0.8v0.8h-0.8zM127.6 281.8h0.8v0.8h-0.8zM148.3 269.5h0.8v0.8h-0.8zM166.9 269.0h0.8v0.8h-0.8zM115.7 334.8h0.8v0.8h-0.8zM140.4 304.3h0.8v0.8h-0.8zM174.5 282.8h0.8v0.8h-0.8zM179.8 292.3h0.8v0.8h-0.8zM112.1 297.8h0.8v0.8h-0.8zM125.8 296.2h0.8v0.8h-0.8zM101.0 313.3h0.8v0.8h-0.8zM127.4 299.0h0.8v0.8h-0.8zM128.1 328.9h0.8v0.8h-0.8zM175.7 308.2h0.8v0.8h-0.8zM139.5 277.1h0.8v0.8h-0.8zM150.2 298.9h0.8v0.8h-0.8zM113.5 308.8h0.8v0.8h-0.8zM169.9 273.5h0.8v0.8h-0.8zM144.5 333.3h0.8v0.8h-0.8zM156.6 326.4h0.8v0.8h-0.8zM104.8 328.3h0.8v0.8h-0.8zM177.9 291.0h0.8v0.8h-0.8zM163.1 321.9h0.8v0.8h-0.8zM146.6 297.9h0.8v0.8h-0.8zM187.6 292.3h0.8v0.8h-0.8zM133.4 287.5h0.8v0.8h-0.8zM112.5 298.5h0.8v0.8h-0.8zM104.7 304.2h0.8v0.8h-0.8zM119.7 339.2h0.8v0.8h-0.8zM127.0 330.5h0.8v0.8h-0.8zM141.5 299.5h0.8v0.8h-0.8zM178.1 295.7h0.8v0.8h-0.8zM168.7 276.1h0.8v0.8h-0.8zM124.4 313.4h0.8v0.8h-0.8zM146.3 299.5h0.8v0.8h-0.8zM121.0 309.4h0.8v0.8h-0.8zM170.0 272.9h0.8v0.8h-0.8zM134.8 290.8h0.8v0.8h-0.8zM173.6 269.6h0.8v0.8h-0.8zM176.4 286.5h0.8v0.8h-0.8zM112.8 321.5h0.8v0.8h-0.8zM127.0 293.7h0.8v0.8h-0.8zM116.6 320.7h0.8v0.8h-0.8zM138.9 290.7h0.8v0.8h-0.8zM134.7 319.4h0.8v0.8h-0.8zM129.0 322.1h0.8v0.8h-0.8zM138.6 325.0h0.8v0.8h-0.8zM148.3 323.8h0.8v0.8h-0.8zM168.9 323.3h0.8v0.8h-0.8zM152.1 305.5h0.8v0.8h-0.8zM139.0 281.5h0.8v0.8h-0.8zM123.5 324.8h0.8v0.8h-0.8zM173.6 276.4h0.8v0.8h-0.8zM150.3 335.0h0.8v0.8h-0.8zM114.3 308.1h0.8v0.8h-0.8zM143.8 309.5h0.8v0.8h-0.8zM118.3 325.9h0.8v0.8h-0.8zM132.2 322.0h0.8v0.8h-0.8zM137.7 280.9h0.8v0.8h-0.8zM114.9 291.6h0.8v0.8h-0.8zM161.0 298.4h0.8v0.8h-0.8zM106.0 305.1h0.8v0.8h-0.8zM158.2 296.2h0.8v0.8h-0.8zM137.3 271.8h0.8v0.8h-0.8zM122.2 335.1h0.8v0.8h-0.8zM106.7 308.7h0.8v0.8h-0.8zM156.5 274.2h0.8v0.8h-0.8zM139.6 300.3h0.8v0.8h-0.8zM169.6 284.2h0.8v0.8h-0.8zM176.3 271.5h0.8v0.8h-0.8zM176.9 273.1h0.8v0.8h-0.8zM180.7 277.8h0.8v0.8h-0.8zM162.2 280.8h0.8v0.8h-0.8zM171.2 309.4h0.8v0.8h-0.8zM132.5 314.4h0.8v0.8h-0.8zM143.3 307.9h0.8v0.8h-0.8zM137.2 285.3h0.8v0.8h-0.8zM117.5 312.0h0.8v0.8h-0.8zM113.7 287.7h0.8v0.8h-0.8zM156.9 285.9h0.8v0.8h-0.8zM109.1 305.8h0.8v0.8h-0.8zM151.2 317.1h0.8v0.8h-0.8zM188.2 290.2h0.8v0.8h-0.8zM142.4 306.1h0.8v0.8h-0.8zM174.4 278.3h0.8v0.8h-0.8zM162.0 280.2h0.8v0.8h-0.8zM122.7 300.2h0.8v0.8h-0.8zM127.5 302.6h0.8v0.8h-0.8zM99.1 314.9h0.8v0.8h-0.8zM148.5 288.9h0.8v0.8h-0.8zM128.0 285.8h0.8v0.8h-0.8zM124.7 326.7h0.8v0.8h-0.8zM123.0 331.3h0.8v0.8h-0.8zM158.7 329.8h0.8v0.8h-0.8zM172.9 282.0h0.8v0.8h-0.8zM148.4 315.7h0.8v0.8h-0.8zM164.9 313.7h0.8v0.8h-0.8zM187.8 292.3h0.8v0.8h-0.8zM147.2 288.0h0.8v0.8h-0.8zM178.0 311.9h0.8v0.8h-0.8zM158.3 298.7h0.8v0.8h-0.8zM163.0 271.6h0.8v0.8h-0.8zM113.1 305.2h0.8v0.8h-0.8zM173.3 303.7h0.8v0.8h-0.8zM109.8 308.8h0.8v0.8h-0.8zM109.5 296.1h0.8v0.8h-0.8zM108.3 291.8h0.8v0.8h-0.8zM111.9 335.4h0.8v0.8h-0.8zM131.1 283.3h0.8v0.8h-0.8zM189.6 295.4h0.8v0.8h-0.8zM108.7 296.2h0.8v0.8h-0.8zM115.9 335.2h0.8v0.8h-0.8zM170.0 285.1h0.8v0.8h-0.8zM135.5 317.9h0.8v0.8h-0.8zM159.5 291.0h0.8v0.8h-0.8zM145.8 285.7h0.8v0.8h-0.8zM132.7 337.9h0.8v0.8h-0.8zM133.5 303.0h0.8v0.8h-0.8zM183.1 297.2h0.8v0.8h-0.8zM153.0 302.0h0.8v0.8h-0.8zM159.2 316.4h0.8v0.8h-0.8zM139.4 281.1h0.8v0.8h-0.8zM162.0 285.4h0.8v0.8h-0.8zM139.2 287.4h0.8v0.8h-0.8zM151.6 329.8h0.8v0.8h-0.8zM147.3 324.9h0.8v0.8h-0.8zM177.3 306.4h0.8v0.8h-0.8zM188.5 302.3h0.8v0.8h-0.8zM157.0 304.9h0.8v0.8h-0.8zM98.5 311.4h0.8v0.8h-0.8zM187.4 303.7h0.8v0.8h-0.8zM146.6 315.0h0.8v0.8h-0.8zM134.6 282.1h0.8v0.8h-0.8zM160.7 306.5h0.8v0.8h-0.8zM150.8 329.2h0.8v0.8h-0.8zM188.7 302.3h0.8v0.8h-0.8zM129.8 288.9h0.8v0.8h-0.8zM133.2 305.3h0.8v0.8h-0.8zM118.9 321.4h0.8v0.8h-0.8zM120.7 287.8h0.8v0.8h-0.8zM155.6 300.8h0.8v0.8h-0.8zM188.5 300.1h0.8v0.8h-0.8zM182.7 288.7h0.8v0.8h-0.8zM114.0 304.8h0.8v0.8h-0.8zM111.8 322.4h0.8v0.8h-0.8zM175.7 303.6h0.8v0.8h-0.8zM166.0 266.9h0.8v0.8h-0.8zM130.8 314.3h0.8v0.8h-0.8zM140.9 314.0h0.8v0.8h-0.8zM104.7 316.2h0.8v0.8h-0.8zM159.9 323.3h0.8v0.8h-0.8zM148.8 292.3h0.8v0.8h-0.8zM182.9 282.3h0.8v0.8h-0.8zM139.6 287.6h0.8v0.8h-0.8zM105.6 315.8h0.8v0.8h-0.8zM139.9 322.5h0.8v0.8h-0.8zM166.5 324.0h0.8v0.8h-0.8zM128.9 318.8h0.8v0.8h-0.8zM171.2 315.2h0.8v0.8h-0.8zM107.2 330.5h0.8v0.8h-0.8zM167.1 312.2h0.8v0.8h-0.8zM177.3 301.4h0.8v0.8h-0.8zM154.5 314.6h0.8v0.8h-0.8zM166.8 291.5h0.8v0.8h-0.8zM145.8 327.6h0.8v0.8h-0.8zM101.3 297.9h0.8v0.8h-0.8zM172.5 312.5h0.8v0.8h-0.8zM135.1 324.2h0.8v0.8h-0.8zM152.1 307.7h0.8v0.8h-0.8zM140.6 299.1h0.8v0.8h-0.8zM166.9 296.9h0.8v0.8h-0.8zM133.6 279.0h0.8v0.8h-0.8zM120.2 339.8h0.8v0.8h-0.8zM120.6 285.6h0.8v0.8h-0.8zM112.3 330.2h0.8v0.8h-0.8zM128.9 320.8h0.8v0.8h-0.8zM183.9 304.8h0.8v0.8h-0.8zM120.2 288.0h0.8v0.8h-0.8zM173.6 310.5h0.8v0.8h-0.8zM166.7 318.3h0.8v0.8h-0.8zM170.2 295.2h0.8v0.8h-0.8zM163.4 268.5h0.8v0.8h-0.8zM183.4 277.4h0.8v0.8h-0.8zM116.6 317.9h0.8v0.8h-0.8zM185.7 300.6h0.8v0.8h-0.8zM144.2 315.8h0.8v0.8h-0.8zM132.1 278.8h0.8v0.8h-0.8zM118.6 307.3h0.8v0.8h-0.8zM177.9 277.1h0.8v0.8h-0.8zM181.2 308.3h0.8v0.8h-0.8zM143.2 334.5h0.8v0.8h-0.8zM134.3 297.9h0.8v0.8h-0.8zM186.2 290.1h0.8v0.8h-0.8zM143.9 282.1h0.8v0.8h-0.8zM135.6 336.1h0.8v0.8h-0.8zM114.3 327.9h0.8v0.8h-0.8zM156.9 271.5h0.8v0.8h-0.8zM108.7 314.7h0.8v0.8h-0.8zM129.0 303.6h0.8v0.8h-0.8zM147.9 268.1h0.8v0.8h-0.8zM188.1 299.0h0.8v0.8h-0.8zM139.1 285.8h0.8v0.8h-0.8zM134.5 323.0h0.8v0.8h-0.8zM161.2 283.0h0.8v0.8h-0.8zM163.0 288.4h0.8v0.8h-0.8zM176.9 307.2h0.8v0.8h-0.8zM164.2 288.2h0.8v0.8h-0.8zM118.1 280.9h0.8v0.8h-0.8zM175.7 287.4h0.8v0.8h-0.8zM140.6 336.8h0.8v0.8h-0.8zM129.7 291.0h0.8v0.8h-0.8zM122.1 318.3h0.8v0.8h-0.8zM184.8 305.4h0.8v0.8h-0.8zM151.3 319.8h0.8v0.8h-0.8zM166.0 312.2h0.8v0.8h-0.8zM103.5 315.7h0.8v0.8h-0.8zM149.5 268.2h0.8v0.8h-0.8zM172.0 269.2h0.8v0.8h-0.8zM188.0 300.6h0.8v0.8h-0.8zM168.5 292.5h0.8v0.8h-0.8zM117.6 331.2h0.8v0.8h-0.8zM147.3 335.1h0.8v0.8h-0.8zM122.8 313.9h0.8v0.8h-0.8zM150.6 323.6h0.8v0.8h-0.8zM153.2 299.3h0.8v0.8h-0.8zM163.9 323.9h0.8v0.8h-0.8zM109.7 298.7h0.8v0.8h-0.8zM105.3 306.7h0.8v0.8h-0.8zM112.4 332.6h0.8v0.8h-0.8zM132.8 340.0h0.8v0.8h-0.8zM109.2 293.5h0.8v0.8h-0.8zM161.1 295.6h0.8v0.8h-0.8zM134.4 296.7h0.8v0.8h-0.8zM103.0 294.5h0.8v0.8h-0.8zM119.3 337.6h0.8v0.8h-0.8zM124.2 290.8h0.8v0.8h-0.8zM134.6 303.4h0.8v0.8h-0.8zM133.2 337.7h0.8v0.8h-0.8zM157.9 322.6h0.8v0.8h-0.8zM161.8 267.2h0.8v0.8h-0.8zM169.3 270.0h0.8v0.8h-0.8zM130.7 296.4h0.8v0.8h-0.8zM151.4 320.4h0.8v0.8h-0.8zM181.6 308.5h0.8v0.8h-0.8zM121.9 317.2h0.8v0.8h-0.8zM131.1 335.3h0.8v0.8h-0.8zM167.5 282.8h0.8v0.8h-0.8zM176.7 281.3h0.8v0.8h-0.8zM127.0 327.6h0.8v0.8h-0.8zM114.9 291.2h0.8v0.8h-0.8zM145.5 323.9h0.8v0.8h-0.8zM154.5 313.4h0.8v0.8h-0.8zM104.5 294.4h0.8v0.8h-0.8zM122.7 334.2h0.8v0.8h-0.8zM155.3 303.5h0.8v0.8h-0.8zM138.1 302.3h0.8v0.8h-0.8zM140.9 298.4h0.8v0.8h-0.8zM147.7 334.4h0.8v0.8h-0.8zM159.3 267.3h0.8v0.8h-0.8zM152.7 319.4h0.8v0.8h-0.8zM162.5 276.2h0.8v0.8h-0.8zM154.9 315.4h0.8v0.8h-0.8zM181.0 305.0h0.8v0.8h-0.8zM172.0 315.8h0.8v0.8h-0.8zM108.4 300.6h0.8v0.8h-0.8zM177.9 273.3h0.8v0.8h-0.8zM132.2 323.4h0.8v0.8h-0.8zM187.2 287.1h0.8v0.8h-0.8zM122.2 339.1h0.8v0.8h-0.8zM131.9 286.8h0.8v0.8h-0.8zM169.7 316.4h0.8v0.8h-0.8zM105.8 328.1h0.8v0.8h-0.8zM180.1 304.2h0.8v0.8h-0.8zM142.9 285.0h0.8v0.8h-0.8zM151.1 282.2h0.8v0.8h-0.8zM112.2 330.6h0.8v0.8h-0.8zM125.8 326.6h0.8v0.8h-0.8zM163.5 325.6h0.8v0.8h-0.8zM172.4 296.7h0.8v0.8h-0.8zM99.7 316.9h0.8v0.8h-0.8zM164.4 299.8h0.8v0.8h-0.8zM118.1 315.6h0.8v0.8h-0.8zM161.6 290.2h0.8v0.8h-0.8zM163.9 272.2h0.8v0.8h-0.8zM155.6 311.0h0.8v0.8h-0.8zM141.9 329.9h0.8v0.8h-0.8zM188.7 295.1h0.8v0.8h-0.8zM124.3 286.2h0.8v0.8h-0.8zM126.6 336.3h0.8v0.8h-0.8zM176.6 292.3h0.8v0.8h-0.8zM97.8 309.6h0.8v0.8h-0.8zM120.7 330.7h0.8v0.8h-0.8zM179.9 272.9h0.8v0.8h-0.8zM136.7 279.9h0.8v0.8h-0.8zM149.5 306.3h0.8v0.8h-0.8zM149.4 268.4h0.8v0.8h-0.8zM117.9 294.6h0.8v0.8h-0.8zM152.8 271.7h0.8v0.8h-0.8zM136.2 284.6h0.8v0.8h-0.8zM119.4 280.0h0.8v0.8h-0.8zM184.8 289.8h0.8v0.8h-0.8zM147.4 291.4h0.8v0.8h-0.8zM128.1 311.3h0.8v0.8h-0.8zM164.8 327.5h0.8v0.8h-0.8zM120.4 291.5h0.8v0.8h-0.8zM161.5 287.9h0.8v0.8h-0.8zM183.1 311.0h0.8v0.8h-0.8zM166.0 275.5h0.8v0.8h-0.8zM146.4 334.4h0.8v0.8h-0.8zM106.0 297.7h0.8v0.8h-0.8zM135.9 271.9h0.8v0.8h-0.8zM105.4 292.1h0.8v0.8h-0.8zM160.3 266.6h0.8v0.8h-0.8zM187.8 305.9h0.8v0.8h-0.8zM141.1 319.3h0.8v0.8h-0.8zM173.6 295.5h0.8v0.8h-0.8zM177.4 316.8h0.8v0.8h-0.8zM166.6 269.6h0.8v0.8h-0.8zM129.5 274.6h0.8v0.8h-0.8zM159.0 326.4h0.8v0.8h-0.8zM165.8 314.9h0.8v0.8h-0.8zM131.3 332.6h0.8v0.8h-0.8zM124.9 284.7h0.8v0.8h-0.8zM129.3 319.2h0.8v0.8h-0.8zM127.2 298.7h0.8v0.8h-0.8zM179.4 299.6h0.8v0.8h-0.8zM181.0 315.9h0.8v0.8h-0.8zM163.8 318.7h0.8v0.8h-0.8zM104.9 292.3h0.8v0.8h-0.8zM132.8 335.1h0.8v0.8h-0.8zM134.3 280.8h0.8v0.8h-0.8zM187.5 290.1h0.8v0.8h-0.8zM128.4 330.6h0.8v0.8h-0.8zM136.6 273.9h0.8v0.8h-0.8zM106.7 323.6h0.8v0.8h-0.8zM148.6 268.7h0.8v0.8h-0.8zM136.3 288.4h0.8v0.8h-0.8zM128.9 307.1h0.8v0.8h-0.8zM138.1 286.8h0.8v0.8h-0.8zM115.9 286.1h0.8v0.8h-0.8zM115.2 287.0h0.8v0.8h-0.8zM162.5 284.8h0.8v0.8h-0.8zM185.7 295.0h0.8v0.8h-0.8zM139.8 275.4h0.8v0.8h-0.8zM131.7 330.8h0.8v0.8h-0.8zM154.6 309.1h0.8v0.8h-0.8zM98.9 303.1h0.8v0.8h-0.8zM151.9 295.5h0.8v0.8h-0.8zM103.8 304.0h0.8v0.8h-0.8zM113.2 336.6h0.8v0.8h-0.8zM180.1 315.2h0.8v0.8h-0.8zM133.4 292.5h0.8v0.8h-0.8zM181.7 302.1h0.8v0.8h-0.8zM105.8 320.3h0.8v0.8h-0.8zM154.9 300.1h0.8v0.8h-0.8zM168.6 288.8h0.8v0.8h-0.8zM177.3 288.0h0.8v0.8h-0.8zM166.5 317.0h0.8v0.8h-0.8zM144.5 278.8h0.8v0.8h-0.8zM158.4 311.8h0.8v0.8h-0.8zM97.9 307.7h0.8v0.8h-0.8zM109.8 307.0h0.8v0.8h-0.8zM107.5 305.0h0.8v0.8h-0.8zM148.2 291.7h0.8v0.8h-0.8zM131.6 297.6h0.8v0.8h-0.8zM180.9 290.0h0.8v0.8h-0.8zM162.0 266.4h0.8v0.8h-0.8zM140.6 313.2h0.8v0.8h-0.8zM103.5 316.0h0.8v0.8h-0.8zM146.2 299.1h0.8v0.8h-0.8zM152.8 284.0h0.8v0.8h-0.8zM172.5 313.3h0.8v0.8h-0.8zM149.0 310.3h0.8v0.8h-0.8zM136.0 279.2h0.8v0.8h-0.8zM136.5 284.9h0.8v0.8h-0.8zM157.9 303.3h0.8v0.8h-0.8zM134.2 317.3h0.8v0.8h-0.8zM121.6 326.6h0.8v0.8h-0.8zM109.9 287.4h0.8v0.8h-0.8zM147.8 309.0h0.8v0.8h-0.8zM138.2 327.5h0.8v0.8h-0.8zM114.7 298.0h0.8v0.8h-0.8zM184.5 310.0h0.8v0.8h-0.8zM146.1 301.5h0.8v0.8h-0.8zM109.2 334.5h0.8v0.8h-0.8zM157.4 328.5h0.8v0.8h-0.8zM147.4 285.4h0.8v0.8h-0.8zM129.3 306.1h0.8v0.8h-0.8zM132.4 291.9h0.8v0.8h-0.8zM117.9 317.3h0.8v0.8h-0.8zM164.9 272.4h0.8v0.8h-0.8zM134.9 286.5h0.8v0.8h-0.8zM111.5 306.8h0.8v0.8h-0.8zM162.6 328.2h0.8v0.8h-0.8zM152.3 330.8h0.8v0.8h-0.8zM152.9 279.6h0.8v0.8h-0.8zM117.8 311.2h0.8v0.8h-0.8zM104.7 323.4h0.8v0.8h-0.8zM161.9 314.8h0.8v0.8h-0.8zM116.7 291.0h0.8v0.8h-0.8zM117.2 333.6h0.8v0.8h-0.8zM177.5 282.0h0.8v0.8h-0.8zM151.1 319.9h0.8v0.8h-0.8zM127.0 282.6h0.8v0.8h-0.8zM128.1 300.2h0.8v0.8h-0.8zM102.4 310.4h0.8v0.8h-0.8zM132.2 325.5h0.8v0.8h-0.8zM101.2 322.0h0.8v0.8h-0.8zM144.9 268.6h0.8v0.8h-0.8zM153.6 328.6h0.8v0.8h-0.8zM176.6 301.3h0.8v0.8h-0.8zM149.4 294.9h0.8v0.8h-0.8zM188.5 292.7h0.8v0.8h-0.8zM149.0 302.7h0.8v0.8h-0.8zM125.8 304.4h0.8v0.8h-0.8zM152.5 298.4h0.8v0.8h-0.8zM109.4 290.4h0.8v0.8h-0.8zM152.7 315.0h0.8v0.8h-0.8zM142.6 336.2h0.8v0.8h-0.8zM129.1 335.3h0.8v0.8h-0.8zM158.1 326.8h0.8v0.8h-0.8zM101.9 315.5h0.8v0.8h-0.8zM153.2 277.5h0.8v0.8h-0.8zM172.1 294.1h0.8v0.8h-0.8zM144.4 312.9h0.8v0.8h-0.8zM109.1 309.6h0.8v0.8h-0.8zM104.0 294.4h0.8v0.8h-0.8zM123.8 301.1h0.8v0.8h-0.8zM119.5 332.4h0.8v0.8h-0.8zM148.1 277.1h0.8v0.8h-0.8zM119.6 307.1h0.8v0.8h-0.8zM102.1 323.6h0.8v0.8h-0.8zM188.9 297.8h0.8v0.8h-0.8zM144.8 304.2h0.8v0.8h-0.8zM174.3 285.7h0.8v0.8h-0.8zM125.1 294.3h0.8v0.8h-0.8zM172.0 286.5h0.8v0.8h-0.8zM158.2 281.7h0.8v0.8h-0.8zM159.1 312.2h0.8v0.8h-0.8zM160.3 279.6h0.8v0.8h-0.8zM145.4 271.0h0.8v0.8h-0.8zM105.2 325.7h0.8v0.8h-0.8zM176.9 319.7h0.8v0.8h-0.8zM168.1 319.3h0.8v0.8h-0.8zM149.1 326.3h0.8v0.8h-0.8zM133.6 290.5h0.8v0.8h-0.8zM117.7 302.5h0.8v0.8h-0.8zM185.0 302.6h0.8v0.8h-0.8zM117.0 304.9h0.8v0.8h-0.8zM111.4 332.8h0.8v0.8h-0.8zM140.9 269.7h0.8v0.8h-0.8zM165.7 269.1h0.8v0.8h-0.8zM141.6 309.8h0.8v0.8h-0.8zM170.2 292.5h0.8v0.8h-0.8zM129.9 335.5h0.8v0.8h-0.8zM98.9 312.6h0.8v0.8h-0.8zM115.6 289.6h0.8v0.8h-0.8zM139.8 310.2h0.8v0.8h-0.8zM118.5 302.6h0.8v0.8h-0.8zM148.8 315.7h0.8v0.8h-0.8zM133.6 336.8h0.8v0.8h-0.8zM153.2 273.6h0.8v0.8h-0.8zM157.1 323.1h0.8v0.8h-0.8zM117.4 337.0h0.8v0.8h-0.8zM148.1 278.5h0.8v0.8h-0.8zM124.7 296.9h0.8v0.8h-0.8zM166.8 310.8h0.8v0.8h-0.8zM162.5 316.9h0.8v0.8h-0.8zM99.1 301.3h0.8v0.8h-0.8zM103.9 305.2h0.8v0.8h-0.8zM163.0 290.1h0.8v0.8h-0.8zM160.9 307.8h0.8v0.8h-0.8zM132.8 309.8h0.8v0.8h-0.8zM111.9 315.5h0.8v0.8h-0.8zM159.9 280.0h0.8v0.8h-0.8zM166.1 300.9h0.8v0.8h-0.8zM111.5 307.3h0.8v0.8h-0.8zM124.2 305.6h0.8v0.8h-0.8zM124.5 297.3h0.8v0.8h-0.8zM165.1 319.4h0.8v0.8h-0.8zM182.4 313.8h0.8v0.8h-0.8zM174.9 274.2h0.8v0.8h-0.8zM176.6 310.8h0.8v0.8h-0.8zM180.8 296.5h0.8v0.8h-0.8zM179.1 279.6h0.8v0.8h-0.8zM175.2 278.7h0.8v0.8h-0.8zM184.4 303.4h0.8v0.8h-0.8zM129.2 310.6h0.8v0.8h-0.8zM164.7 279.7h0.8v0.8h-0.8zM156.3 269.5h0.8v0.8h-0.8zM153.3 311.1h0.8v0.8h-0.8zM132.9 335.9h0.8v0.8h-0.8zM98.6 310.0h0.8v0.8h-0.8zM102.3 303.0h0.8v0.8h-0.8zM147.2 292.5h0.8v0.8h-0.8zM112.4 297.0h0.8v0.8h-0.8zM124.5 298.7h0.8v0.8h-0.8zM144.9 330.9h0.8v0.8h-0.8zM174.4 283.4h0.8v0.8h-0.8zM113.2 330.7h0.8v0.8h-0.8zM137.8 279.2h0.8v0.8h-0.8zM140.9 334.4h0.8v0.8h-0.8zM138.5 333.3h0.8v0.8h-0.8zM154.5 308.9h0.8v0.8h-0.8zM147.0 320.5h0.8v0.8h-0.8zM131.3 284.3h0.8v0.8h-0.8zM141.6 308.1h0.8v0.8h-0.8zM109.3 317.8h0.8v0.8h-0.8zM180.7 274.6h0.8v0.8h-0.8zM111.8 291.8h0.8v0.8h-0.8zM140.7 286.7h0.8v0.8h-0.8zM176.5 310.7h0.8v0.8h-0.8zM144.5 303.8h0.8v0.8h-0.8zM113.3 301.1h0.8v0.8h-0.8zM141.0 298.7h0.8v0.8h-0.8zM171.8 310.8h0.8v0.8h-0.8zM120.5 296.1h0.8v0.8h-0.8zM157.6 279.9h0.8v0.8h-0.8zM104.3 303.1h0.8v0.8h-0.8zM106.2 295.0h0.8v0.8h-0.8zM105.0 328.9h0.8v0.8h-0.8zM120.3 331.5h0.8v0.8h-0.8zM158.5 323.2h0.8v0.8h-0.8zM135.1 295.5h0.8v0.8h-0.8zM117.2 288.0h0.8v0.8h-0.8zM137.5 271.3h0.8v0.8h-0.8zM115.1 319.4h0.8v0.8h-0.8zM183.5 288.6h0.8v0.8h-0.8zM115.8 334.5h0.8v0.8h-0.8zM129.1 313.1h0.8v0.8h-0.8zM139.1 270.6h0.8v0.8h-0.8zM167.8 317.7h0.8v0.8h-0.8zM150.8 283.3h0.8v0.8h-0.8zM175.3 274.6h0.8v0.8h-0.8zM122.3 310.3h0.8v0.8h-0.8zM124.6 286.1h0.8v0.8h-0.8zM126.8 338.6h0.8v0.8h-0.8zM105.7 296.1h0.8v0.8h-0.8zM169.7 276.4h0.8v0.8h-0.8zM145.3 275.8h0.8v0.8h-0.8zM116.8 292.6h0.8v0.8h-0.8zM165.5 327.2h0.8v0.8h-0.8zM168.5 313.7h0.8v0.8h-0.8zM101.5 311.4h0.8v0.8h-0.8zM181.8 276.4h0.8v0.8h-0.8zM140.1 295.1h0.8v0.8h-0.8zM161.8 324.8h0.8v0.8h-0.8zM174.4 293.5h0.8v0.8h-0.8zM120.7 323.3h0.8v0.8h-0.8zM121.4 336.6h0.8v0.8h-0.8zM179.3 273.6h0.8v0.8h-0.8zM171.2 277.8h0.8v0.8h-0.8zM141.0 307.3h0.8v0.8h-0.8zM163.1 285.1h0.8v0.8h-0.8zM175.9 288.2h0.8v0.8h-0.8zM131.9 286.2h0.8v0.8h-0.8zM120.2 305.4h0.8v0.8h-0.8zM121.3 302.0h0.8v0.8h-0.8zM142.3 322.8h0.8v0.8h-0.8zM176.5 302.7h0.8v0.8h-0.8zM118.2 298.4h0.8v0.8h-0.8zM132.1 313.5h0.8v0.8h-0.8zM173.0 315.7h0.8v0.8h-0.8zM169.0 269.4h0.8v0.8h-0.8zM153.4 269.5h0.8v0.8h-0.8zM125.2 280.1h0.8v0.8h-0.8zM116.7 330.3h0.8v0.8h-0.8zM138.5 309.7h0.8v0.8h-0.8zM165.2 326.0h0.8v0.8h-0.8zM138.4 271.0h0.8v0.8h-0.8zM104.2 317.0h0.8v0.8h-0.8zM154.9 320.1h0.8v0.8h-0.8zM129.4 291.8h0.8v0.8h-0.8zM121.9 340.1h0.8v0.8h-0.8zM146.1 308.5h0.8v0.8h-0.8zM156.9 276.3h0.8v0.8h-0.8zM151.7 308.5h0.8v0.8h-0.8zM112.1 296.7h0.8v0.8h-0.8zM150.7 333.4h0.8v0.8h-0.8zM184.7 304.2h0.8v0.8h-0.8zM127.4 300.2h0.8v0.8h-0.8zM116.1 313.3h0.8v0.8h-0.8zM103.9 320.8h0.8v0.8h-0.8zM98.4 313.5h0.8v0.8h-0.8zM154.4 332.4h0.8v0.8h-0.8zM130.1 281.5h0.8v0.8h-0.8zM144.5 336.2h0.8v0.8h-0.8zM138.3 313.4h0.8v0.8h-0.8zM125.4 306.0h0.8v0.8h-0.8zM159.0 268.1h0.8v0.8h-0.8zM155.0 290.5h0.8v0.8h-0.8zM114.0 314.2h0.8v0.8h-0.8zM165.6 285.4h0.8v0.8h-0.8zM128.8 323.9h0.8v0.8h-0.8zM134.0 272.6h0.8v0.8h-0.8zM129.2 299.1h0.8v0.8h-0.8zM116.1 322.1h0.8v0.8h-0.8zM130.8 323.9h0.8v0.8h-0.8zM129.1 335.9h0.8v0.8h-0.8zM138.3 333.2h0.8v0.8h-0.8zM130.7 276.1h0.8v0.8h-0.8zM153.9 332.6h0.8v0.8h-0.8zM119.9 337.4h0.8v0.8h-0.8zM172.6 282.8h0.8v0.8h-0.8zM157.1 287.7h0.8v0.8h-0.8zM168.3 279.8h0.8v0.8h-0.8zM123.8 292.5h0.8v0.8h-0.8zM161.2 274.7h0.8v0.8h-0.8zM143.7 332.3h0.8v0.8h-0.8zM118.2 312.1h0.8v0.8h-0.8zM181.8 279.1h0.8v0.8h-0.8zM112.5 333.4h0.8v0.8h-0.8zM164.4 325.6h0.8v0.8h-0.8zM114.1 311.0h0.8v0.8h-0.8zM178.9 290.7h0.8v0.8h-0.8zM160.1 315.3h0.8v0.8h-0.8zM166.8 273.4h0.8v0.8h-0.8zM171.6 315.6h0.8v0.8h-0.8zM124.1 304.3h0.8v0.8h-0.8zM137.3 307.0h0.8v0.8h-0.8zM156.6 291.9h0.8v0.8h-0.8zM129.6 313.9h0.8v0.8h-0.8zM154.8 323.5h0.8v0.8h-0.8zM165.2 274.0h0.8v0.8h-0.8zM117.3 307.1h0.8v0.8h-0.8zM129.8 294.4h0.8v0.8h-0.8zM168.4 324.6h0.8v0.8h-0.8zM103.9 309.3h0.8v0.8h-0.8zM135.7 290.8h0.8v0.8h-0.8zM100.6 299.6h0.8v0.8h-0.8zM155.5 332.8h0.8v0.8h-0.8zM178.2 308.9h0.8v0.8h-0.8zM174.5 281.0h0.8v0.8h-0.8zM174.5 306.6h0.8v0.8h-0.8zM120.7 290.5h0.8v0.8h-0.8zM156.1 331.5h0.8v0.8h-0.8zM159.1 303.2h0.8v0.8h-0.8zM156.6 296.4h0.8v0.8h-0.8zM178.6 277.8h0.8v0.8h-0.8zM176.4 272.6h0.8v0.8h-0.8zM179.9 290.4h0.8v0.8h-0.8zM177.2 272.4h0.8v0.8h-0.8zM162.5 278.5h0.8v0.8h-0.8zM134.9 274.8h0.8v0.8h-0.8zM179.9 274.8h0.8v0.8h-0.8zM165.6 269.3h0.8v0.8h-0.8zM126.9 294.4h0.8v0.8h-0.8zM116.9 297.5h0.8v0.8h-0.8zM106.5 328.0h0.8v0.8h-0.8zM182.5 308.9h0.8v0.8h-0.8zM165.2 324.3h0.8v0.8h-0.8zM123.4 331.5h0.8v0.8h-0.8zM136.6 313.3h0.8v0.8h-0.8zM138.2 311.3h0.8v0.8h-0.8zM171.5 274.8h0.8v0.8h-0.8zM120.6 301.7h0.8v0.8h-0.8zM187.3 303.1h0.8v0.8h-0.8zM145.6 320.0h0.8v0.8h-0.8zM139.9 272.8h0.8v0.8h-0.8zM126.6 308.7h0.8v0.8h-0.8zM140.8 319.9h0.8v0.8h-0.8zM152.9 289.0h0.8v0.8h-0.8zM108.2 314.0h0.8v0.8h-0.8zM107.2 328.6h0.8v0.8h-0.8zM143.1 292.0h0.8v0.8h-0.8zM133.1 288.4h0.8v0.8h-0.8zM145.8 309.9h0.8v0.8h-0.8zM103.4 311.5h0.8v0.8h-0.8zM113.6 285.0h0.8v0.8h-0.8zM184.3 309.7h0.8v0.8h-0.8zM108.9 326.3h0.8v0.8h-0.8zM103.2 319.4h0.8v0.8h-0.8zM176.2 308.4h0.8v0.8h-0.8zM171.2 314.8h0.8v0.8h-0.8zM143.3 289.1h0.8v0.8h-0.8zM152.8 323.7h0.8v0.8h-0.8zM116.3 329.8h0.8v0.8h-0.8zM178.7 272.7h0.8v0.8h-0.8zM179.3 284.2h0.8v0.8h-0.8zM108.3 331.7h0.8v0.8h-0.8zM147.0 294.6h0.8v0.8h-0.8zM166.5 302.7h0.8v0.8h-0.8zM144.8 335.3h0.8v0.8h-0.8zM111.5 301.4h0.8v0.8h-0.8zM154.8 282.4h0.8v0.8h-0.8zM165.3 304.5h0.8v0.8h-0.8zM148.1 331.6h0.8v0.8h-0.8zM163.1 326.9h0.8v0.8h-0.8zM132.9 276.2h0.8v0.8h-0.8zM177.3 288.0h0.8v0.8h-0.8zM106.0 297.4h0.8v0.8h-0.8zM160.4 319.2h0.8v0.8h-0.8zM147.1 281.9h0.8v0.8h-0.8zM105.0 324.4h0.8v0.8h-0.8zM179.1 295.8h0.8v0.8h-0.8zM127.5 277.9h0.8v0.8h-0.8zM112.4 291.0h0.8v0.8h-0.8zM136.1 292.7h0.8v0.8h-0.8zM126.9 292.3h0.8v0.8h-0.8zM138.9 320.8h0.8v0.8h-0.8zM142.9 323.3h0.8v0.8h-0.8zM134.4 273.1h0.8v0.8h-0.8zM172.9 294.9h0.8v0.8h-0.8zM117.1 299.2h0.8v0.8h-0.8zM121.1 280.8h0.8v0.8h-0.8zM146.9 330.3h0.8v0.8h-0.8zM151.6 298.2h0.8v0.8h-0.8zM112.0 296.9h0.8v0.8h-0.8zM121.9 292.0h0.8v0.8h-0.8zM143.0 287.3h0.8v0.8h-0.8zM137.5 313.2h0.8v0.8h-0.8zM172.8 271.1h0.8v0.8h-0.8zM118.9 318.9h0.8v0.8h-0.8zM97.9 311.5h0.8v0.8h-0.8zM128.6 288.4h0.8v0.8h-0.8zM168.4 311.8h0.8v0.8h-0.8zM164.0 322.0h0.8v0.8h-0.8zM175.8 272.6h0.8v0.8h-0.8zM145.3 318.0h0.8v0.8h-0.8zM100.3 315.3h0.8v0.8h-0.8zM152.2 266.6h0.8v0.8h-0.8zM125.0 310.9h0.8v0.8h-0.8zM123.7 339.2h0.8v0.8h-0.8zM122.9 306.2h0.8v0.8h-0.8zM179.9 304.2h0.8v0.8h-0.8zM158.7 284.8h0.8v0.8h-0.8zM160.9 278.2h0.8v0.8h-0.8zM142.4 334.1h0.8v0.8h-0.8zM137.5 273.5h0.8v0.8h-0.8zM107.3 304.2h0.8v0.8h-0.8zM172.8 279.4h0.8v0.8h-0.8zM126.9 283.5h0.8v0.8h-0.8zM129.1 335.6h0.8v0.8h-0.8zM139.1 296.5h0.8v0.8h-0.8zM128.2 285.8h0.8v0.8h-0.8zM181.3 282.1h0.8v0.8h-0.8zM98.3 312.1h0.8v0.8h-0.8zM166.7 324.8h0.8v0.8h-0.8zM166.0 268.5h0.8v0.8h-0.8zM143.6 299.6h0.8v0.8h-0.8zM184.1 290.3h0.8v0.8h-0.8zM122.1 302.3h0.8v0.8h-0.8zM101.4 308.7h0.8v0.8h-0.8zM129.6 305.0h0.8v0.8h-0.8zM123.7 283.3h0.8v0.8h-0.8zM139.5 325.6h0.8v0.8h-0.8zM113.7 287.3h0.8v0.8h-0.8zM127.6 305.2h0.8v0.8h-0.8zM118.0 283.0h0.8v0.8h-0.8zM117.9 312.2h0.8v0.8h-0.8zM108.5 291.8h0.8v0.8h-0.8zM163.9 291.8h0.8v0.8h-0.8zM112.0 310.5h0.8v0.8h-0.8zM102.1 317.5h0.8v0.8h-0.8zM172.0 320.5h0.8v0.8h-0.8zM108.9 325.1h0.8v0.8h-0.8zM138.4 310.1h0.8v0.8h-0.8zM117.8 305.8h0.8v0.8h-0.8zM112.3 331.5h0.8v0.8h-0.8zM134.0 329.5h0.8v0.8h-0.8zM154.5 302.2h0.8v0.8h-0.8zM104.0 306.1h0.8v0.8h-0.8zM170.0 315.8h0.8v0.8h-0.8zM181.3 310.2h0.8v0.8h-0.8zM142.5 322.3h0.8v0.8h-0.8zM148.3 275.3h0.8v0.8h-0.8zM113.3 284.6h0.8v0.8h-0.8zM173.6 319.0h0.8v0.8h-0.8zM115.2 295.4h0.8v0.8h-0.8zM133.9 297.2h0.8v0.8h-0.8zM144.9 305.1h0.8v0.8h-0.8zM119.7 306.1h0.8v0.8h-0.8zM164.7 327.7h0.8v0.8h-0.8zM123.9 316.5h0.8v0.8h-0.8zM143.2 326.2h0.8v0.8h-0.8zM141.5 328.8h0.8v0.8h-0.8zM111.1 293.1h0.8v0.8h-0.8zM155.4 289.0h0.8v0.8h-0.8zM149.7 267.8h0.8v0.8h-0.8zM151.9 286.8h0.8v0.8h-0.8zM160.7 328.5h0.8v0.8h-0.8zM113.0 289.7h0.8v0.8h-0.8zM182.1 285.7h0.8v0.8h-0.8zM131.4 338.4h0.8v0.8h-0.8zM134.2 302.5h0.8v0.8h-0.8zM150.6 303.3h0.8v0.8h-0.8zM144.6 268.8h0.8v0.8h-0.8zM177.3 284.2h0.8v0.8h-0.8zM147.4 306.3h0.8v0.8h-0.8zM112.6 292.6h0.8v0.8h-0.8zM136.2 277.7h0.8v0.8h-0.8zM166.6 273.3h0.8v0.8h-0.8zM127.5 285.0h0.8v0.8h-0.8zM188.1 296.2h0.8v0.8h-0.8zM149.6 325.9h0.8v0.8h-0.8zM148.1 332.4h0.8v0.8h-0.8zM108.5 326.5h0.8v0.8h-0.8zM153.0 302.6h0.8v0.8h-0.8zM156.3 268.7h0.8v0.8h-0.8zM130.8 304.8h0.8v0.8h-0.8zM187.5 297.2h0.8v0.8h-0.8zM128.9 290.1h0.8v0.8h-0.8zM161.9 312.7h0.8v0.8h-0.8zM99.0 314.1h0.8v0.8h-0.8zM128.9 297.3h0.8v0.8h-0.8zM163.9 310.7h0.8v0.8h-0.8zM154.8 283.5h0.8v0.8h-0.8zM159.1 267.6h0.8v0.8h-0.8zM158.4 299.1h0.8v0.8h-0.8zM184.5 305.7h0.8v0.8h-0.8zM134.3 330.5h0.8v0.8h-0.8zM123.8 301.1h0.8v0.8h-0.8zM123.3 338.8h0.8v0.8h-0.8zM170.3 300.1h0.8v0.8h-0.8zM105.0 322.7h0.8v0.8h-0.8zM128.2 286.5h0.8v0.8h-0.8zM159.7 271.5h0.8v0.8h-0.8zM150.4 326.1h0.8v0.8h-0.8zM158.7 282.4h0.8v0.8h-0.8zM170.6 303.5h0.8v0.8h-0.8zM107.4 305.6h0.8v0.8h-0.8zM160.7 301.0h0.8v0.8h-0.8zM145.6 300.2h0.8v0.8h-0.8zM102.4 284.8h0.8v0.8h-0.8zM116.1 277.9h0.8v0.8h-0.8zM130.8 266.6h0.8v0.8h-0.8zM99.5 286.2h0.8v0.8h-0.8zM97.0 285.6h0.8v0.8h-0.8zM101.7 282.1h0.8v0.8h-0.8zM123.9 274.7h0.8v0.8h-0.8zM126.2 270.2h0.8v0.8h-0.8zM131.3 269.5h0.8v0.8h-0.8zM128.9 270.5h0.8v0.8h-0.8zM98.0 287.2h0.8v0.8h-0.8zM116.4 276.0h0.8v0.8h-0.8zM127.9 273.4h0.8v0.8h-0.8zM114.5 276.8h0.8v0.8h-0.8zM118.4 273.8h0.8v0.8h-0.8zM101.6 285.2h0.8v0.8h-0.8zM103.0 279.4h0.8v0.8h-0.8zM98.4 286.2h0.8v0.8h-0.8zM115.9 277.4h0.8v0.8h-0.8zM120.3 275.1h0.8v0.8h-0.8zM127.4 266.9h0.8v0.8h-0.8zM106.6 278.8h0.8v0.8h-0.8zM110.6 275.4h0.8v0.8h-0.8zM132.0 266.9h0.8v0.8h-0.8zM120.3 270.9h0.8v0.8h-0.8zM120.6 274.8h0.8v0.8h-0.8zM96.6 282.4h0.8v0.8h-0.8zM114.1 278.6h0.8v0.8h-0.8zM102.1 282.7h0.8v0.8h-0.8zM97.0 285.3h0.8v0.8h-0.8zM133.4 265.1h0.8v0.8h-0.8zM116.6 275.1h0.8v0.8h-0.8zM98.7 281.6h0.8v0.8h-0.8zM121.1 272.5h0.8v0.8h-0.8zM119.2 272.6h0.8v0.8h-0.8zM109.0 277.0h0.8v0.8h-0.8zM127.0 273.5h0.8v0.8h-0.8zM132.1 266.7h0.8v0.8h-0.8zM102.3 285.9h0.8v0.8h-0.8zM134.7 266.1h0.8v0.8h-0.8zM126.3 272.0h0.8v0.8h-0.8zM134.9 268.1h0.8v0.8h-0.8zM98.4 284.0h0.8v0.8h-0.8zM97.8 287.1h0.8v0.8h-0.8zM125.4 268.6h0.8v0.8h-0.8zM115.5 278.2h0.8v0.8h-0.8zM110.4 278.9h0.8v0.8h-0.8zM97.8 285.0h0.8v0.8h-0.8zM98.5 287.5h0.8v0.8h-0.8zM131.6 268.0h0.8v0.8h-0.8zM135.0 264.7h0.8v0.8h-0.8zM136.6 267.0h0.8v0.8h-0.8zM115.0 279.5h0.8v0.8h-0.8zM131.9 270.0h0.8v0.8h-0.8zM105.7 277.9h0.8v0.8h-0.8zM131.0 268.9h0.8v0.8h-0.8zM119.4 273.4h0.8v0.8h-0.8zM121.2 271.7h0.8v0.8h-0.8zM127.6 271.2h0.8v0.8h-0.8zM128.6 269.2h0.8v0.8h-0.8zM121.3 272.0h0.8v0.8h-0.8zM96.9 283.5h0.8v0.8h-0.8zM111.7 275.9h0.8v0.8h-0.8zM114.7 276.1h0.8v0.8h-0.8zM96.9 281.7h0.8v0.8h-0.8zM114.9 277.2h0.8v0.8h-0.8zM99.3 281.9h0.8v0.8h-0.8zM109.0 279.1h0.8v0.8h-0.8zM101.1 286.0h0.8v0.8h-0.8zM106.0 282.7h0.8v0.8h-0.8zM124.6 274.1h0.8v0.8h-0.8zM120.3 273.5h0.8v0.8h-0.8zM116.7 273.4h0.8v0.8h-0.8zM130.2 266.1h0.8v0.8h-0.8zM118.0 274.6h0.8v0.8h-0.8zM129.0 269.2h0.8v0.8h-0.8zM118.7 276.0h0.8v0.8h-0.8zM108.3 283.1h0.8v0.8h-0.8zM128.1 267.8h0.8v0.8h-0.8zM122.4 270.9h0.8v0.8h-0.8zM105.4 284.1h0.8v0.8h-0.8zM129.8 267.3h0.8v0.8h-0.8zM107.1 283.6h0.8v0.8h-0.8zM120.1 273.7h0.8v0.8h-0.8zM119.9 271.9h0.8v0.8h-0.8zM120.2 277.2h0.8v0.8h-0.8zM108.1 278.2h0.8v0.8h-0.8zM122.1 274.3h0.8v0.8h-0.8zM125.0 272.4h0.8v0.8h-0.8zM117.2 277.8h0.8v0.8h-0.8zM129.5 266.8h0.8v0.8h-0.8zM101.1 281.0h0.8v0.8h-0.8zM133.8 265.7h0.8v0.8h-0.8zM130.3 267.2h0.8v0.8h-0.8zM104.4 280.2h0.8v0.8h-0.8zM98.5 286.4h0.8v0.8h-0.8zM120.9 271.7h0.8v0.8h-0.8zM112.9 278.3h0.8v0.8h-0.8zM133.3 268.6h0.8v0.8h-0.8zM117.3 272.5h0.8v0.8h-0.8zM121.6 275.7h0.8v0.8h-0.8zM130.0 267.7h0.8v0.8h-0.8zM99.1 282.0h0.8v0.8h-0.8zM134.1 268.5h0.8v0.8h-0.8zM135.0 267.9h0.8v0.8h-0.8zM106.4 281.0h0.8v0.8h-0.8zM123.7 272.5h0.8v0.8h-0.8zM132.9 265.9h0.8v0.8h-0.8zM113.0 280.1h0.8v0.8h-0.8zM110.7 277.9h0.8v0.8h-0.8zM125.0 269.9h0.8v0.8h-0.8zM127.1 271.3h0.8v0.8h-0.8zM132.2 269.3h0.8v0.8h-0.8zM107.4 283.2h0.8v0.8h-0.8zM115.1 273.0h0.8v0.8h-0.8zM111.9 280.6h0.8v0.8h-0.8zM99.9 280.5h0.8v0.8h-0.8zM118.5 276.0h0.8v0.8h-0.8zM122.9 269.7h0.8v0.8h-0.8zM125.6 274.3h0.8v0.8h-0.8zM110.5 281.7h0.8v0.8h-0.8zM103.3 280.9h0.8v0.8h-0.8zM112.0 279.9h0.8v0.8h-0.8zM119.2 272.1h0.8v0.8h-0.8zM130.5 265.5h0.8v0.8h-0.8zM129.8 269.5h0.8v0.8h-0.8zM126.8 270.7h0.8v0.8h-0.8zM134.0 270.6h0.8v0.8h-0.8zM101.7 285.0h0.8v0.8h-0.8zM118.7 271.4h0.8v0.8h-0.8zM107.3 277.4h0.8v0.8h-0.8zM99.8 281.8h0.8v0.8h-0.8zM98.2 283.0h0.8v0.8h-0.8zM112.3 277.3h0.8v0.8h-0.8zM123.1 272.6h0.8v0.8h-0.8zM131.6 265.4h0.8v0.8h-0.8zM115.8 279.4h0.8v0.8h-0.8zM105.2 278.2h0.8v0.8h-0.8zM117.6 275.7h0.8v0.8h-0.8zM116.2 273.6h0.8v0.8h-0.8zM132.3 269.1h0.8v0.8h-0.8zM120.2 271.4h0.8v0.8h-0.8zM128.3 271.6h0.8v0.8h-0.8zM131.0 267.4h0.8v0.8h-0.8zM101.6 285.1h0.8v0.8h-0.8zM122.4 270.9h0.8v0.8h-0.8zM122.1 271.5h0.8v0.8h-0.8zM104.4 284.3h0.8v0.8h-0.8zM120.5 275.1h0.8v0.8h-0.8zM101.6 279.5h0.8v0.8h-0.8zM128.6 270.5h0.8v0.8h-0.8zM133.2 266.2h0.8v0.8h-0.8zM133.3 265.3h0.8v0.8h-0.8zM113.4 279.0h0.8v0.8h-0.8zM123.0 270.3h0.8v0.8h-0.8zM118.6 275.8h0.8v0.8h-0.8zM102.0 284.6h0.8v0.8h-0.8zM131.5 267.2h0.8v0.8h-0.8zM101.5 279.6h0.8v0.8h-0.8zM119.0 272.5h0.8v0.8h-0.8zM127.3 269.5h0.8v0.8h-0.8zM124.7 271.6h0.8v0.8h-0.8zM120.0 272.5h0.8v0.8h-0.8zM101.7 280.7h0.8v0.8h-0.8zM114.6 274.7h0.8v0.8h-0.8zM131.4 271.8h0.8v0.8h-0.8zM126.1 272.2h0.8v0.8h-0.8zM98.7 284.7h0.8v0.8h-0.8zM99.1 281.6h0.8v0.8h-0.8zM113.4 279.8h0.8v0.8h-0.8zM118.4 271.6h0.8v0.8h-0.8zM116.5 276.9h0.8v0.8h-0.8zM122.3 275.9h0.8v0.8h-0.8zM136.9 268.9h0.8v0.8h-0.8zM101.1 286.5h0.8v0.8h-0.8zM131.2 271.7h0.8v0.8h-0.8zM97.2 286.7h0.8v0.8h-0.8zM109.2 282.1h0.8v0.8h-0.8zM101.2 283.2h0.8v0.8h-0.8zM118.0 274.7h0.8v0.8h-0.8zM134.7 264.7h0.8v0.8h-0.8zM116.7 278.1h0.8v0.8h-0.8zM123.7 269.0h0.8v0.8h-0.8zM128.8 267.4h0.8v0.8h-0.8zM131.7 271.2h0.8v0.8h-0.8zM111.8 276.9h0.8v0.8h-0.8zM103.7 284.2h0.8v0.8h-0.8zM131.4 269.9h0.8v0.8h-0.8zM133.5 266.5h0.8v0.8h-0.8zM100.8 285.1h0.8v0.8h-0.8zM117.9 273.9h0.8v0.8h-0.8zM127.3 270.6h0.8v0.8h-0.8zM118.5 276.3h0.8v0.8h-0.8zM103.8 283.3h0.8v0.8h-0.8zM97.6 282.1h0.8v0.8h-0.8zM108.6 280.5h0.8v0.8h-0.8zM114.4 277.9h0.8v0.8h-0.8zM102.9 284.3h0.8v0.8h-0.8zM122.0 273.5h0.8v0.8h-0.8zM108.7 278.2h0.8v0.8h-0.8zM134.7 264.0h0.8v0.8h-0.8zM135.7 265.3h0.8v0.8h-0.8zM107.7 281.8h0.8v0.8h-0.8zM110.9 275.6h0.8v0.8h-0.8zM112.0 276.6h0.8v0.8h-0.8zM110.4 277.6h0.8v0.8h-0.8zM116.0 272.6h0.8v0.8h-0.8zM99.2 287.2h0.8v0.8h-0.8zM133.8 266.7h0.8v0.8h-0.8zM108.3 278.3h0.8v0.8h-0.8zM98.7 283.3h0.8v0.8h-0.8zM130.7 272.0h0.8v0.8h-0.8zM105.7 280.7h0.8v0.8h-0.8zM103.2 282.7h0.8v0.8h-0.8zM112.9 277.0h0.8v0.8h-0.8zM124.1 274.0h0.8v0.8h-0.8zM99.6 286.2h0.8v0.8h-0.8zM134.5 268.8h0.8v0.8h-0.8zM124.8 269.6h0.8v0.8h-0.8zM134.0 267.9h0.8v0.8h-0.8zM119.2 272.4h0.8v0.8h-0.8zM121.5 271.7h0.8v0.8h-0.8zM134.0 270.0h0.8v0.8h-0.8zM123.2 274.0h0.8v0.8h-0.8zM132.7 269.0h0.8v0.8h-0.8zM103.8 283.4h0.8v0.8h-0.8zM105.8 283.2h0.8v0.8h-0.8zM109.0 282.6h0.8v0.8h-0.8zM130.6 270.7h0.8v0.8h-0.8zM132.2 266.2h0.8v0.8h-0.8zM132.8 270.3h0.8v0.8h-0.8zM130.8 270.9h0.8v0.8h-0.8zM129.2 271.7h0.8v0.8h-0.8zM116.5 279.0h0.8v0.8h-0.8zM112.2 279.6h0.8v0.8h-0.8zM126.4 268.6h0.8v0.8h-0.8zM104.1 284.5h0.8v0.8h-0.8zM122.2 271.4h0.8v0.8h-0.8zM126.6 270.8h0.8v0.8h-0.8zM123.9 271.8h0.8v0.8h-0.8zM133.3 270.0h0.8v0.8h-0.8zM101.3 285.0h0.8v0.8h-0.8zM116.9 272.3h0.8v0.8h-0.8zM110.7 280.8h0.8v0.8h-0.8zM113.0 275.0h0.8v0.8h-0.8zM115.1 273.6h0.8v0.8h-0.8zM99.9 282.0h0.8v0.8h-0.8zM96.2 285.1h0.8v0.8h-0.8zM129.3 271.3h0.8v0.8h-0.8zM125.9 273.5h0.8v0.8h-0.8zM135.9 265.1h0.8v0.8h-0.8zM119.6 275.3h0.8v0.8h-0.8zM105.1 282.4h0.8v0.8h-0.8zM111.7 275.8h0.8v0.8h-0.8zM110.7 281.8h0.8v0.8h-0.8zM113.0 278.4h0.8v0.8h-0.8zM124.6 270.2h0.8v0.8h-0.8zM103.9 284.9h0.8v0.8h-0.8zM96.3 284.6h0.8v0.8h-0.8zM133.0 267.8h0.8v0.8h-0.8zM124.3 272.1h0.8v0.8h-0.8zM119.2 271.8h0.8v0.8h-0.8zM127.1 268.9h0.8v0.8h-0.8zM126.4 274.3h0.8v0.8h-0.8zM100.3 285.6h0.8v0.8h-0.8zM97.1 282.4h0.8v0.8h-0.8zM122.2 275.1h0.8v0.8h-0.8zM121.4 271.2h0.8v0.8h-0.8zM129.2 267.7h0.8v0.8h-0.8zM115.7 279.3h0.8v0.8h-0.8zM111.5 276.2h0.8v0.8h-0.8zM107.1 278.3h0.8v0.8h-0.8zM131.5 267.0h0.8v0.8h-0.8zM96.4 282.1h0.8v0.8h-0.8zM126.7 271.4h0.8v0.8h-0.8zM115.7 274.0h0.8v0.8h-0.8zM126.4 273.7h0.8v0.8h-0.8zM135.6 264.7h0.8v0.8h-0.8zM124.0 271.2h0.8v0.8h-0.8zM115.7 274.4h0.8v0.8h-0.8zM101.6 285.0h0.8v0.8h-0.8zM104.7 277.9h0.8v0.8h-0.8zM104.0 280.1h0.8v0.8h-0.8zM100.8 284.0h0.8v0.8h-0.8zM106.3 279.9h0.8v0.8h-0.8zM120.8 276.6h0.8v0.8h-0.8zM102.5 281.3h0.8v0.8h-0.8zM110.8 278.6h0.8v0.8h-0.8zM173.9 325.7h0.8v0.8h-0.8zM179.0 323.7h0.8v0.8h-0.8zM188.7 321.5h0.8v0.8h-0.8zM166.0 332.2h0.8v0.8h-0.8zM171.6 330.0h0.8v0.8h-0.8zM171.8 328.5h0.8v0.8h-0.8zM173.8 330.7h0.8v0.8h-0.8zM171.3 332.2h0.8v0.8h-0.8zM182.0 324.4h0.8v0.8h-0.8zM175.5 330.1h0.8v0.8h-0.8zM165.6 334.9h0.8v0.8h-0.8zM186.0 322.5h0.8v0.8h-0.8zM152.8 337.5h0.8v0.8h-0.8zM178.3 329.6h0.8v0.8h-0.8zM178.6 328.1h0.8v0.8h-0.8zM175.2 327.6h0.8v0.8h-0.8zM183.3 326.8h0.8v0.8h-0.8zM190.7 323.4h0.8v0.8h-0.8zM176.0 328.7h0.8v0.8h-0.8zM166.7 333.8h0.8v0.8h-0.8zM180.4 329.2h0.8v0.8h-0.8zM167.5 331.2h0.8v0.8h-0.8zM171.9 330.0h0.8v0.8h-0.8zM155.3 339.3h0.8v0.8h-0.8zM168.2 332.7h0.8v0.8h-0.8zM179.7 323.2h0.8v0.8h-0.8zM190.1 323.9h0.8v0.8h-0.8zM186.9 321.1h0.8v0.8h-0.8zM178.9 328.3h0.8v0.8h-0.8zM153.0 336.4h0.8v0.8h-0.8zM189.2 323.9h0.8v0.8h-0.8zM189.2 322.4h0.8v0.8h-0.8zM170.5 331.3h0.8v0.8h-0.8zM188.7 320.7h0.8v0.8h-0.8zM158.4 339.2h0.8v0.8h-0.8zM152.6 340.7h0.8v0.8h-0.8zM165.2 335.5h0.8v0.8h-0.8zM184.0 321.4h0.8v0.8h-0.8zM169.0 331.8h0.8v0.8h-0.8zM153.9 341.0h0.8v0.8h-0.8zM169.8 330.1h0.8v0.8h-0.8zM165.2 330.7h0.8v0.8h-0.8zM187.8 325.5h0.8v0.8h-0.8zM184.1 321.3h0.8v0.8h-0.8zM184.3 321.1h0.8v0.8h-0.8zM166.0 334.7h0.8v0.8h-0.8zM176.3 325.3h0.8v0.8h-0.8zM155.3 338.5h0.8v0.8h-0.8zM187.6 322.7h0.8v0.8h-0.8zM163.4 332.3h0.8v0.8h-0.8zM177.9 327.4h0.8v0.8h-0.8zM175.0 328.5h0.8v0.8h-0.8zM174.6 330.3h0.8v0.8h-0.8zM164.6 332.7h0.8v0.8h-0.8zM172.5 329.3h0.8v0.8h-0.8zM177.8 326.4h0.8v0.8h-0.8zM172.0 329.8h0.8v0.8h-0.8zM190.2 318.8h0.8v0.8h-0.8zM168.0 333.9h0.8v0.8h-0.8zM181.5 321.8h0.8v0.8h-0.8zM173.7 330.5h0.8v0.8h-0.8zM153.0 341.3h0.8v0.8h-0.8zM162.6 337.0h0.8v0.8h-0.8zM189.8 321.5h0.8v0.8h-0.8zM176.8 328.4h0.8v0.8h-0.8zM178.9 324.6h0.8v0.8h-0.8zM185.0 323.0h0.8v0.8h-0.8zM186.2 324.6h0.8v0.8h-0.8zM168.5 334.2h0.8v0.8h-0.8zM169.9 330.3h0.8v0.8h-0.8zM151.5 337.3h0.8v0.8h-0.8zM154.7 338.9h0.8v0.8h-0.8zM180.1 322.4h0.8v0.8h-0.8zM191.5 321.1h0.8v0.8h-0.8zM155.4 337.8h0.8v0.8h-0.8zM166.3 331.1h0.8v0.8h-0.8zM190.7 324.4h0.8v0.8h-0.8zM185.1 326.5h0.8v0.8h-0.8zM176.8 325.0h0.8v0.8h-0.8zM152.0 336.9h0.8v0.8h-0.8zM177.0 329.7h0.8v0.8h-0.8zM179.5 324.3h0.8v0.8h-0.8zM167.4 328.8h0.8v0.8h-0.8zM161.8 335.7h0.8v0.8h-0.8zM155.4 335.0h0.8v0.8h-0.8zM165.3 334.6h0.8v0.8h-0.8zM151.9 339.4h0.8v0.8h-0.8zM163.0 331.4h0.8v0.8h-0.8zM156.2 338.7h0.8v0.8h-0.8zM165.2 332.7h0.8v0.8h-0.8zM180.5 323.8h0.8v0.8h-0.8zM163.3 332.6h0.8v0.8h-0.8zM191.1 323.0h0.8v0.8h-0.8zM169.2 328.6h0.8v0.8h-0.8zM179.7 327.0h0.8v0.8h-0.8zM187.6 323.9h0.8v0.8h-0.8zM169.4 328.0h0.8v0.8h-0.8zM162.5 332.7h0.8v0.8h-0.8zM177.7 329.1h0.8v0.8h-0.8zM187.2 319.3h0.8v0.8h-0.8zM168.1 332.5h0.8v0.8h-0.8zM182.9 326.4h0.8v0.8h-0.8zM157.6 334.3h0.8v0.8h-0.8zM185.9 322.5h0.8v0.8h-0.8zM173.6 325.8h0.8v0.8h-0.8zM184.5 322.7h0.8v0.8h-0.8zM178.2 323.9h0.8v0.8h-0.8zM179.6 324.7h0.8v0.8h-0.8zM158.6 335.6h0.8v0.8h-0.8zM191.1 321.3h0.8v0.8h-0.8zM150.3 337.3h0.8v0.8h-0.8zM183.4 324.3h0.8v0.8h-0.8zM168.1 334.7h0.8v0.8h-0.8zM190.9 324.1h0.8v0.8h-0.8zM152.6 338.2h0.8v0.8h-0.8zM187.7 324.1h0.8v0.8h-0.8zM161.7 337.5h0.8v0.8h-0.8zM189.7 324.6h0.8v0.8h-0.8zM181.0 322.3h0.8v0.8h-0.8zM154.9 341.0h0.8v0.8h-0.8zM167.2 331.1h0.8v0.8h-0.8zM181.0 326.2h0.8v0.8h-0.8zM164.2 332.9h0.8v0.8h-0.8zM168.6 334.8h0.8v0.8h-0.8zM156.7 337.0h0.8v0.8h-0.8zM170.5 333.2h0.8v0.8h-0.8zM178.9 328.6h0.8v0.8h-0.8zM168.6 330.1h0.8v0.8h-0.8zM162.6 337.7h0.8v0.8h-0.8zM157.8 339.0h0.8v0.8h-0.8zM152.5 337.5h0.8v0.8h-0.8zM162.3 337.9h0.8v0.8h-0.8zM179.6 326.3h0.8v0.8h-0.8zM189.5 318.7h0.8v0.8h-0.8zM181.8 325.7h0.8v0.8h-0.8zM171.9 328.4h0.8v0.8h-0.8zM166.0 330.1h0.8v0.8h-0.8zM153.3 340.1h0.8v0.8h-0.8zM185.9 320.7h0.8v0.8h-0.8zM170.2 331.7h0.8v0.8h-0.8zM180.7 323.7h0.8v0.8h-0.8zM166.2 332.2h0.8v0.8h-0.8zM189.4 319.1h0.8v0.8h-0.8zM185.2 325.5h0.8v0.8h-0.8zM162.0 335.5h0.8v0.8h-0.8zM166.1 329.8h0.8v0.8h-0.8zM164.1 330.8h0.8v0.8h-0.8zM178.3 328.9h0.8v0.8h-0.8zM154.0 337.9h0.8v0.8h-0.8zM186.7 323.5h0.8v0.8h-0.8zM186.0 319.9h0.8v0.8h-0.8zM176.3 331.1h0.8v0.8h-0.8zM160.2 337.5h0.8v0.8h-0.8zM163.9 335.7h0.8v0.8h-0.8zM168.1 331.9h0.8v0.8h-0.8zM179.6 326.3h0.8v0.8h-0.8zM186.9 322.3h0.8v0.8h-0.8zM157.8 336.0h0.8v0.8h-0.8zM176.1 327.1h0.8v0.8h-0.8zM174.6 325.2h0.8v0.8h-0.8zM154.3 340.8h0.8v0.8h-0.8zM169.1 329.1h0.8v0.8h-0.8zM173.4 325.8h0.8v0.8h-0.8zM154.3 338.0h0.8v0.8h-0.8zM163.2 332.7h0.8v0.8h-0.8zM154.4 338.2h0.8v0.8h-0.8zM164.2 335.2h0.8v0.8h-0.8zM188.9 323.7h0.8v0.8h-0.8zM155.7 337.7h0.8v0.8h-0.8zM156.7 336.0h0.8v0.8h-0.8zM175.4 325.1h0.8v0.8h-0.8zM157.4 340.5h0.8v0.8h-0.8zM166.1 336.0h0.8v0.8h-0.8zM151.1 338.2h0.8v0.8h-0.8zM158.1 338.3h0.8v0.8h-0.8zM158.4 333.7h0.8v0.8h-0.8zM188.5 323.8h0.8v0.8h-0.8zM169.7 332.3h0.8v0.8h-0.8zM190.5 322.5h0.8v0.8h-0.8zM185.4 321.1h0.8v0.8h-0.8zM179.1 323.0h0.8v0.8h-0.8zM188.6 325.3h0.8v0.8h-0.8zM179.0 327.6h0.8v0.8h-0.8zM161.3 337.8h0.8v0.8h-0.8zM178.7 330.2h0.8v0.8h-0.8zM189.3 319.3h0.8v0.8h-0.8zM167.0 328.8h0.8v0.8h-0.8zM180.0 322.9h0.8v0.8h-0.8zM168.9 328.4h0.8v0.8h-0.8zM174.7 326.6h0.8v0.8h-0.8zM155.9 336.7h0.8v0.8h-0.8zM157.1 338.3h0.8v0.8h-0.8zM161.1 337.5h0.8v0.8h-0.8zM152.8 336.7h0.8v0.8h-0.8zM169.4 334.3h0.8v0.8h-0.8zM188.4 319.1h0.8v0.8h-0.8zM173.1 330.9h0.8v0.8h-0.8zM171.8 329.3h0.8v0.8h-0.8zM188.0 318.9h0.8v0.8h-0.8zM175.3 324.9h0.8v0.8h-0.8zM189.8 324.3h0.8v0.8h-0.8zM185.0 323.1h0.8v0.8h-0.8zM163.0 334.3h0.8v0.8h-0.8zM171.5 329.4h0.8v0.8h-0.8zM166.4 334.8h0.8v0.8h-0.8zM157.9 335.2h0.8v0.8h-0.8zM161.6 334.4h0.8v0.8h-0.8zM169.0 332.2h0.8v0.8h-0.8zM169.2 334.5h0.8v0.8h-0.8zM174.9 326.7h0.8v0.8h-0.8zM191.5 321.2h0.8v0.8h-0.8zM186.1 321.3h0.8v0.8h-0.8zM163.7 333.5h0.8v0.8h-0.8zM175.2 326.9h0.8v0.8h-0.8zM187.3 320.4h0.8v0.8h-0.8zM172.7 330.9h0.8v0.8h-0.8zM189.6 323.6h0.8v0.8h-0.8zM168.8 333.5h0.8v0.8h-0.8zM176.1 326.1h0.8v0.8h-0.8zM152.7 342.0h0.8v0.8h-0.8zM168.3 332.0h0.8v0.8h-0.8zM163.5 337.4h0.8v0.8h-0.8zM185.9 320.5h0.8v0.8h-0.8zM171.6 327.3h0.8v0.8h-0.8zM165.9 332.2h0.8v0.8h-0.8zM187.9 325.6h0.8v0.8h-0.8zM160.4 333.0h0.8v0.8h-0.8zM161.1 334.6h0.8v0.8h-0.8zM151.6 339.0h0.8v0.8h-0.8zM164.8 333.4h0.8v0.8h-0.8zM175.8 327.0h0.8v0.8h-0.8zM165.4 329.8h0.8v0.8h-0.8zM173.3 326.9h0.8v0.8h-0.8zM160.0 335.5h0.8v0.8h-0.8zM177.1 327.3h0.8v0.8h-0.8zM172.9 330.2h0.8v0.8h-0.8zM158.5 334.1h0.8v0.8h-0.8zM179.5 326.9h0.8v0.8h-0.8zM167.7 333.5h0.8v0.8h-0.8zM156.5 336.8h0.8v0.8h-0.8zM151.3 338.9h0.8v0.8h-0.8zM178.6 326.7h0.8v0.8h-0.8zM181.2 322.2h0.8v0.8h-0.8zM174.7 329.0h0.8v0.8h-0.8zM169.3 332.1h0.8v0.8h-0.8zM160.9 335.9h0.8v0.8h-0.8zM182.0 321.7h0.8v0.8h-0.8zM153.0 337.5h0.8v0.8h-0.8zM172.5 332.4h0.8v0.8h-0.8zM177.2 329.9h0.8v0.8h-0.8zM166.7 334.0h0.8v0.8h-0.8zM190.7 323.0h0.8v0.8h-0.8zM157.0 336.3h0.8v0.8h-0.8zM161.2 337.6h0.8v0.8h-0.8zM178.6 324.3h0.8v0.8h-0.8zM175.7 329.7h0.8v0.8h-0.8zM182.1 327.5h0.8v0.8h-0.8zM185.9 325.8h0.8v0.8h-0.8zM174.4 329.9h0.8v0.8h-0.8zM175.1 326.1h0.8v0.8h-0.8zM163.3 336.2h0.8v0.8h-0.8zM164.4 332.1h0.8v0.8h-0.8zM165.8 335.2h0.8v0.8h-0.8zM164.6 330.2h0.8v0.8h-0.8zM175.9 329.3h0.8v0.8h-0.8zM181.6 326.1h0.8v0.8h-0.8zM153.1 336.2h0.8v0.8h-0.8zM172.3 333.2h0.8v0.8h-0.8zM186.5 323.4h0.8v0.8h-0.8zM160.6 337.2h0.8v0.8h-0.8zM176.2 324.4h0.8v0.8h-0.8zM153.2 340.6h0.8v0.8h-0.8zM188.3 323.9h0.8v0.8h-0.8zM162.0 332.1h0.8v0.8h-0.8zM157.6 336.5h0.8v0.8h-0.8zM188.9 320.7h0.8v0.8h-0.8zM175.3 325.5h0.8v0.8h-0.8zM156.5 337.1h0.8v0.8h-0.8zM167.2 330.8h0.8v0.8h-0.8zM177.4 325.2h0.8v0.8h-0.8zM160.3 334.7h0.8v0.8h-0.8zM178.6 325.8h0.8v0.8h-0.8zM158.4 339.9h0.8v0.8h-0.8zM173.7 328.0h0.8v0.8h-0.8zM164.1 330.2h0.8v0.8h-0.8zM173.8 325.9h0.8v0.8h-0.8zM183.3 325.6h0.8v0.8h-0.8zM164.8 335.0h0.8v0.8h-0.8z" fill="#7a7a7a"/><path d="M249.1 305.1h0.8v0.8h-0.8zM240.4 286.6h0.8v0.8h-0.8zM291.1 268.2h0.8v0.8h-0.8zM277.1 304.6h0.8v0.8h-0.8zM238.5 327.6h0.8v0.8h-0.8zM229.3 286.9h0.8v0.8h-0.8zM287.0 309.7h0.8v0.8h-0.8zM236.3 284.3h0.8v0.8h-0.8zM264.1 272.0h0.8v0.8h-0.8zM281.2 324.9h0.8v0.8h-0.8zM309.9 290.1h0.8v0.8h-0.8zM251.9 332.5h0.8v0.8h-0.8zM308.4 290.3h0.8v0.8h-0.8zM301.6 310.6h0.8v0.8h-0.8zM271.5 273.6h0.8v0.8h-0.8zM287.0 320.3h0.8v0.8h-0.8zM296.0 287.4h0.8v0.8h-0.8zM229.8 288.3h0.8v0.8h-0.8zM309.5 300.4h0.8v0.8h-0.8zM306.7 284.4h0.8v0.8h-0.8zM285.8 307.0h0.8v0.8h-0.8zM294.6 290.1h0.8v0.8h-0.8zM298.6 304.8h0.8v0.8h-0.8zM277.4 323.6h0.8v0.8h-0.8zM267.2 321.1h0.8v0.8h-0.8zM247.3 320.3h0.8v0.8h-0.8zM232.2 288.1h0.8v0.8h-0.8zM299.4 313.8h0.8v0.8h-0.8zM297.6 287.3h0.8v0.8h-0.8zM255.9 302.6h0.8v0.8h-0.8zM264.6 287.9h0.8v0.8h-0.8zM269.8 320.6h0.8v0.8h-0.8zM264.6 327.6h0.8v0.8h-0.8zM261.3 272.5h0.8v0.8h-0.8zM232.5 328.9h0.8v0.8h-0.8zM227.3 319.1h0.8v0.8h-0.8zM272.5 279.4h0.8v0.8h-0.8zM289.8 292.9h0.8v0.8h-0.8zM232.1 306.3h0.8v0.8h-0.8zM243.9 275.1h0.8v0.8h-0.8zM286.4 263.4h0.8v0.8h-0.8zM229.9 287.6h0.8v0.8h-0.8zM242.7 285.9h0.8v0.8h-0.8zM261.5 314.9h0.8v0.8h-0.8zM297.9 302.7h0.8v0.8h-0.8zM258.9 273.1h0.8v0.8h-0.8zM247.5 296.0h0.8v0.8h-0.8zM298.8 304.2h0.8v0.8h-0.8zM265.4 291.2h0.8v0.8h-0.8zM271.1 275.7h0.8v0.8h-0.8zM237.0 303.5h0.8v0.8h-0.8zM252.9 293.9h0.8v0.8h-0.8zM299.1 314.5h0.8v0.8h-0.8zM245.7 294.5h0.8v0.8h-0.8zM246.8 284.2h0.8v0.8h-0.8zM276.6 275.6h0.8v0.8h-0.8zM233.4 326.1h0.8v0.8h-0.8zM304.3 305.3h0.8v0.8h-0.8zM284.2 281.0h0.8v0.8h-0.8zM308.8 305.1h0.8v0.8h-0.8zM305.8 282.5h0.8v0.8h-0.8zM284.1 313.6h0.8v0.8h-0.8zM272.7 268.3h0.8v0.8h-0.8zM306.1 290.6h0.8v0.8h-0.8zM244.9 324.1h0.8v0.8h-0.8zM231.5 323.9h0.8v0.8h-0.8zM223.8 296.1h0.8v0.8h-0.8zM288.4 269.1h0.8v0.8h-0.8zM284.6 310.9h0.8v0.8h-0.8zM271.3 328.7h0.8v0.8h-0.8zM259.9 330.6h0.8v0.8h-0.8zM302.8 312.3h0.8v0.8h-0.8zM271.0 318.9h0.8v0.8h-0.8zM300.0 303.7h0.8v0.8h-0.8zM306.8 282.4h0.8v0.8h-0.8zM246.9 274.9h0.8v0.8h-0.8zM276.8 264.0h0.8v0.8h-0.8zM260.9 290.9h0.8v0.8h-0.8zM254.2 326.2h0.8v0.8h-0.8zM277.4 283.9h0.8v0.8h-0.8zM280.7 307.3h0.8v0.8h-0.8zM290.6 264.4h0.8v0.8h-0.8zM230.1 297.4h0.8v0.8h-0.8zM254.3 334.6h0.8v0.8h-0.8zM310.5 301.5h0.8v0.8h-0.8zM242.9 286.5h0.8v0.8h-0.8zM236.6 281.3h0.8v0.8h-0.8zM246.9 274.3h0.8v0.8h-0.8zM282.5 325.5h0.8v0.8h-0.8zM256.6 270.7h0.8v0.8h-0.8zM303.7 310.4h0.8v0.8h-0.8zM256.7 278.7h0.8v0.8h-0.8zM275.4 286.3h0.8v0.8h-0.8zM309.6 299.6h0.8v0.8h-0.8zM255.8 331.0h0.8v0.8h-0.8zM280.3 319.3h0.8v0.8h-0.8zM272.2 329.7h0.8v0.8h-0.8zM301.0 310.1h0.8v0.8h-0.8zM297.2 309.4h0.8v0.8h-0.8zM226.6 319.0h0.8v0.8h-0.8zM299.9 307.9h0.8v0.8h-0.8zM287.3 320.2h0.8v0.8h-0.8zM264.0 296.2h0.8v0.8h-0.8zM241.9 319.0h0.8v0.8h-0.8zM240.1 281.4h0.8v0.8h-0.8zM296.3 294.2h0.8v0.8h-0.8zM229.0 314.3h0.8v0.8h-0.8zM223.0 311.9h0.8v0.8h-0.8zM290.5 279.1h0.8v0.8h-0.8zM283.2 306.0h0.8v0.8h-0.8zM289.6 263.5h0.8v0.8h-0.8zM241.4 310.6h0.8v0.8h-0.8zM236.7 318.8h0.8v0.8h-0.8zM281.2 325.0h0.8v0.8h-0.8zM273.7 271.4h0.8v0.8h-0.8zM222.6 313.5h0.8v0.8h-0.8zM267.8 296.3h0.8v0.8h-0.8zM227.8 306.6h0.8v0.8h-0.8zM244.4 275.7h0.8v0.8h-0.8zM223.6 306.6h0.8v0.8h-0.8zM256.5 277.1h0.8v0.8h-0.8zM287.5 282.8h0.8v0.8h-0.8zM223.7 294.4h0.8v0.8h-0.8zM243.0 292.2h0.8v0.8h-0.8zM245.7 309.0h0.8v0.8h-0.8zM228.2 299.5h0.8v0.8h-0.8zM277.5 285.3h0.8v0.8h-0.8zM238.5 333.1h0.8v0.8h-0.8zM233.2 292.8h0.8v0.8h-0.8zM241.3 314.4h0.8v0.8h-0.8zM258.0 285.1h0.8v0.8h-0.8zM257.1 333.1h0.8v0.8h-0.8zM275.8 272.0h0.8v0.8h-0.8zM286.9 270.6h0.8v0.8h-0.8zM277.1 270.2h0.8v0.8h-0.8zM246.3 314.0h0.8v0.8h-0.8zM228.7 288.9h0.8v0.8h-0.8zM285.2 299.2h0.8v0.8h-0.8zM269.1 287.4h0.8v0.8h-0.8zM287.8 319.9h0.8v0.8h-0.8zM260.3 306.1h0.8v0.8h-0.8zM286.3 323.2h0.8v0.8h-0.8zM234.1 281.7h0.8v0.8h-0.8zM270.9 331.1h0.8v0.8h-0.8zM244.1 279.6h0.8v0.8h-0.8zM245.3 316.6h0.8v0.8h-0.8zM249.4 280.8h0.8v0.8h-0.8zM279.8 315.5h0.8v0.8h-0.8zM273.5 272.2h0.8v0.8h-0.8zM296.8 263.2h0.8v0.8h-0.8zM269.3 294.3h0.8v0.8h-0.8zM301.3 271.4h0.8v0.8h-0.8zM275.9 316.5h0.8v0.8h-0.8zM271.0 279.8h0.8v0.8h-0.8zM268.4 270.1h0.8v0.8h-0.8zM227.7 321.0h0.8v0.8h-0.8zM246.1 317.0h0.8v0.8h-0.8zM244.6 298.9h0.8v0.8h-0.8zM252.6 300.2h0.8v0.8h-0.8zM221.7 310.0h0.8v0.8h-0.8zM254.9 298.7h0.8v0.8h-0.8zM250.1 281.0h0.8v0.8h-0.8zM246.6 289.9h0.8v0.8h-0.8zM282.1 274.1h0.8v0.8h-0.8zM228.4 292.5h0.8v0.8h-0.8zM295.6 303.4h0.8v0.8h-0.8zM253.7 272.5h0.8v0.8h-0.8zM281.5 269.5h0.8v0.8h-0.8zM292.2 303.1h0.8v0.8h-0.8zM276.4 326.6h0.8v0.8h-0.8zM252.8 318.0h0.8v0.8h-0.8zM289.2 317.6h0.8v0.8h-0.8zM268.3 331.8h0.8v0.8h-0.8zM225.6 298.7h0.8v0.8h-0.8zM288.6 264.9h0.8v0.8h-0.8zM253.1 291.4h0.8v0.8h-0.8zM242.0 294.0h0.8v0.8h-0.8zM245.0 317.4h0.8v0.8h-0.8zM230.1 288.3h0.8v0.8h-0.8zM291.0 320.9h0.8v0.8h-0.8zM255.0 270.4h0.8v0.8h-0.8zM260.1 277.9h0.8v0.8h-0.8zM230.5 326.2h0.8v0.8h-0.8zM243.0 282.8h0.8v0.8h-0.8zM308.1 292.1h0.8v0.8h-0.8zM249.9 278.8h0.8v0.8h-0.8zM262.8 326.8h0.8v0.8h-0.8zM278.1 315.8h0.8v0.8h-0.8zM273.1 267.0h0.8v0.8h-0.8zM290.9 268.7h0.8v0.8h-0.8zM282.0 274.6h0.8v0.8h-0.8zM277.3 314.7h0.8v0.8h-0.8zM300.0 310.8h0.8v0.8h-0.8zM294.6 277.0h0.8v0.8h-0.8zM260.3 305.4h0.8v0.8h-0.8zM307.4 296.4h0.8v0.8h-0.8zM239.7 307.4h0.8v0.8h-0.8zM263.1 318.2h0.8v0.8h-0.8zM247.1 281.0h0.8v0.8h-0.8zM281.3 313.6h0.8v0.8h-0.8zM267.2 267.7h0.8v0.8h-0.8zM310.5 291.8h0.8v0.8h-0.8zM242.0 278.6h0.8v0.8h-0.8zM244.2 304.3h0.8v0.8h-0.8zM231.4 290.9h0.8v0.8h-0.8zM277.7 295.5h0.8v0.8h-0.8zM233.8 283.4h0.8v0.8h-0.8zM297.3 308.5h0.8v0.8h-0.8zM282.4 281.8h0.8v0.8h-0.8zM262.3 326.2h0.8v0.8h-0.8zM254.8 281.5h0.8v0.8h-0.8zM273.6 320.3h0.8v0.8h-0.8zM239.8 285.5h0.8v0.8h-0.8zM271.7 312.9h0.8v0.8h-0.8zM289.2 277.8h0.8v0.8h-0.8zM286.9 270.8h0.8v0.8h-0.8zM238.6 315.6h0.8v0.8h-0.8zM261.8 326.6h0.8v0.8h-0.8zM296.9 307.0h0.8v0.8h-0.8zM288.5 316.9h0.8v0.8h-0.8zM306.2 301.9h0.8v0.8h-0.8zM255.7 311.3h0.8v0.8h-0.8zM245.2 324.4h0.8v0.8h-0.8zM307.2 287.4h0.8v0.8h-0.8zM228.5 297.3h0.8v0.8h-0.8zM300.2 304.2h0.8v0.8h-0.8zM266.2 328.2h0.8v0.8h-0.8zM284.7 285.5h0.8v0.8h-0.8zM280.2 296.3h0.8v0.8h-0.8zM284.1 324.3h0.8v0.8h-0.8zM295.2 265.4h0.8v0.8h-0.8zM289.7 296.8h0.8v0.8h-0.8zM261.0 277.1h0.8v0.8h-0.8zM257.4 332.3h0.8v0.8h-0.8zM225.9 294.9h0.8v0.8h-0.8zM241.2 309.5h0.8v0.8h-0.8zM304.1 298.5h0.8v0.8h-0.8zM294.7 294.3h0.8v0.8h-0.8zM247.2 284.9h0.8v0.8h-0.8zM224.9 295.4h0.8v0.8h-0.8zM247.9 277.9h0.8v0.8h-0.8zM295.7 311.4h0.8v0.8h-0.8zM240.6 287.5h0.8v0.8h-0.8zM248.8 305.4h0.8v0.8h-0.8zM228.2 323.9h0.8v0.8h-0.8zM285.0 263.6h0.8v0.8h-0.8zM302.8 310.4h0.8v0.8h-0.8zM272.9 319.4h0.8v0.8h-0.8zM289.3 321.2h0.8v0.8h-0.8zM224.7 300.7h0.8v0.8h-0.8zM255.7 278.4h0.8v0.8h-0.8zM232.7 287.6h0.8v0.8h-0.8zM288.7 261.0h0.8v0.8h-0.8zM283.3 271.4h0.8v0.8h-0.8zM231.5 286.9h0.8v0.8h-0.8zM270.2 288.1h0.8v0.8h-0.8zM236.3 326.9h0.8v0.8h-0.8zM296.3 304.9h0.8v0.8h-0.8zM263.0 333.1h0.8v0.8h-0.8zM236.4 286.8h0.8v0.8h-0.8zM249.2 292.2h0.8v0.8h-0.8zM278.6 261.5h0.8v0.8h-0.8zM230.5 285.8h0.8v0.8h-0.8zM262.4 301.4h0.8v0.8h-0.8zM279.7 269.8h0.8v0.8h-0.8zM254.1 282.5h0.8v0.8h-0.8zM272.0 273.3h0.8v0.8h-0.8zM230.8 293.2h0.8v0.8h-0.8zM252.4 285.0h0.8v0.8h-0.8zM239.2 313.8h0.8v0.8h-0.8zM295.5 307.5h0.8v0.8h-0.8zM275.8 308.5h0.8v0.8h-0.8zM263.1 294.0h0.8v0.8h-0.8zM249.5 331.0h0.8v0.8h-0.8zM293.7 308.9h0.8v0.8h-0.8zM252.0 270.3h0.8v0.8h-0.8zM258.7 308.4h0.8v0.8h-0.8zM223.6 302.4h0.8v0.8h-0.8zM242.1 297.1h0.8v0.8h-0.8zM267.7 288.2h0.8v0.8h-0.8zM273.5 297.2h0.8v0.8h-0.8zM295.4 282.4h0.8v0.8h-0.8zM304.1 306.1h0.8v0.8h-0.8zM278.7 325.7h0.8v0.8h-0.8zM277.3 264.1h0.8v0.8h-0.8zM257.0 293.9h0.8v0.8h-0.8zM232.6 304.6h0.8v0.8h-0.8zM261.4 267.3h0.8v0.8h-0.8zM250.8 283.2h0.8v0.8h-0.8zM288.4 318.9h0.8v0.8h-0.8zM237.7 280.1h0.8v0.8h-0.8zM259.9 268.9h0.8v0.8h-0.8zM254.8 310.8h0.8v0.8h-0.8zM236.0 330.0h0.8v0.8h-0.8zM278.5 268.3h0.8v0.8h-0.8zM249.8 276.1h0.8v0.8h-0.8zM254.8 319.5h0.8v0.8h-0.8zM305.5 309.6h0.8v0.8h-0.8zM226.5 292.6h0.8v0.8h-0.8zM254.4 331.1h0.8v0.8h-0.8zM275.8 325.0h0.8v0.8h-0.8zM246.2 314.6h0.8v0.8h-0.8zM234.7 299.4h0.8v0.8h-0.8zM295.5 317.9h0.8v0.8h-0.8zM288.1 321.6h0.8v0.8h-0.8zM226.7 292.2h0.8v0.8h-0.8zM241.4 278.0h0.8v0.8h-0.8zM284.8 265.3h0.8v0.8h-0.8zM310.5 284.3h0.8v0.8h-0.8zM257.3 272.9h0.8v0.8h-0.8zM277.1 320.3h0.8v0.8h-0.8zM290.1 273.2h0.8v0.8h-0.8zM289.0 265.6h0.8v0.8h-0.8zM240.4 333.8h0.8v0.8h-0.8zM293.3 282.5h0.8v0.8h-0.8zM279.8 267.5h0.8v0.8h-0.8zM246.5 279.6h0.8v0.8h-0.8zM295.3 313.0h0.8v0.8h-0.8zM307.4 289.3h0.8v0.8h-0.8zM266.2 264.0h0.8v0.8h-0.8zM307.8 306.3h0.8v0.8h-0.8zM241.1 281.9h0.8v0.8h-0.8zM291.4 307.6h0.8v0.8h-0.8zM256.0 328.6h0.8v0.8h-0.8zM261.7 290.6h0.8v0.8h-0.8zM300.3 311.1h0.8v0.8h-0.8zM241.8 325.8h0.8v0.8h-0.8zM266.0 274.9h0.8v0.8h-0.8zM297.4 277.8h0.8v0.8h-0.8zM276.9 310.4h0.8v0.8h-0.8zM247.2 319.0h0.8v0.8h-0.8zM244.6 294.3h0.8v0.8h-0.8zM249.9 295.0h0.8v0.8h-0.8zM301.3 307.6h0.8v0.8h-0.8zM252.7 301.5h0.8v0.8h-0.8zM252.8 292.7h0.8v0.8h-0.8zM241.7 288.5h0.8v0.8h-0.8zM262.9 278.4h0.8v0.8h-0.8zM229.2 323.1h0.8v0.8h-0.8zM283.0 322.8h0.8v0.8h-0.8zM250.8 282.1h0.8v0.8h-0.8zM269.2 330.8h0.8v0.8h-0.8zM245.5 333.0h0.8v0.8h-0.8zM256.8 325.7h0.8v0.8h-0.8zM273.1 316.9h0.8v0.8h-0.8zM257.5 272.7h0.8v0.8h-0.8zM239.9 287.9h0.8v0.8h-0.8zM248.2 296.0h0.8v0.8h-0.8zM286.3 265.9h0.8v0.8h-0.8zM295.5 287.4h0.8v0.8h-0.8zM251.4 323.4h0.8v0.8h-0.8zM255.0 268.7h0.8v0.8h-0.8zM231.7 321.8h0.8v0.8h-0.8zM274.0 274.3h0.8v0.8h-0.8zM283.0 281.3h0.8v0.8h-0.8zM282.9 263.9h0.8v0.8h-0.8zM239.9 326.4h0.8v0.8h-0.8zM234.7 280.5h0.8v0.8h-0.8zM275.0 282.5h0.8v0.8h-0.8zM282.5 291.1h0.8v0.8h-0.8zM239.1 287.5h0.8v0.8h-0.8zM266.9 329.9h0.8v0.8h-0.8zM276.9 305.9h0.8v0.8h-0.8zM255.0 278.6h0.8v0.8h-0.8zM227.7 311.2h0.8v0.8h-0.8zM263.9 264.7h0.8v0.8h-0.8zM238.4 278.5h0.8v0.8h-0.8zM288.7 265.3h0.8v0.8h-0.8zM253.9 292.1h0.8v0.8h-0.8zM276.2 327.8h0.8v0.8h-0.8zM233.3 301.0h0.8v0.8h-0.8zM253.7 333.6h0.8v0.8h-0.8zM244.2 325.7h0.8v0.8h-0.8zM263.0 314.6h0.8v0.8h-0.8zM284.3 270.6h0.8v0.8h-0.8zM266.3 278.7h0.8v0.8h-0.8zM278.7 268.3h0.8v0.8h-0.8zM287.6 315.2h0.8v0.8h-0.8zM247.5 327.5h0.8v0.8h-0.8zM286.1 262.6h0.8v0.8h-0.8zM224.3 312.9h0.8v0.8h-0.8zM262.3 272.6h0.8v0.8h-0.8zM300.9 273.3h0.8v0.8h-0.8zM230.0 292.8h0.8v0.8h-0.8zM269.0 325.2h0.8v0.8h-0.8zM227.5 294.5h0.8v0.8h-0.8zM267.3 306.4h0.8v0.8h-0.8zM245.2 320.6h0.8v0.8h-0.8zM282.2 316.1h0.8v0.8h-0.8zM270.8 263.0h0.8v0.8h-0.8zM285.1 269.8h0.8v0.8h-0.8zM245.0 274.5h0.8v0.8h-0.8zM258.9 326.2h0.8v0.8h-0.8zM269.1 263.4h0.8v0.8h-0.8zM273.1 266.2h0.8v0.8h-0.8zM264.6 300.9h0.8v0.8h-0.8zM246.7 332.2h0.8v0.8h-0.8zM304.9 294.2h0.8v0.8h-0.8zM252.8 274.0h0.8v0.8h-0.8zM308.0 294.1h0.8v0.8h-0.8zM254.6 322.6h0.8v0.8h-0.8zM305.7 308.1h0.8v0.8h-0.8zM224.8 315.3h0.8v0.8h-0.8zM261.0 295.4h0.8v0.8h-0.8zM290.5 313.3h0.8v0.8h-0.8zM255.9 332.9h0.8v0.8h-0.8zM249.2 283.1h0.8v0.8h-0.8zM248.3 294.3h0.8v0.8h-0.8zM297.1 304.9h0.8v0.8h-0.8zM246.5 330.2h0.8v0.8h-0.8zM250.1 292.7h0.8v0.8h-0.8zM228.2 294.9h0.8v0.8h-0.8zM288.7 265.8h0.8v0.8h-0.8zM264.2 269.4h0.8v0.8h-0.8zM274.4 263.5h0.8v0.8h-0.8zM269.8 270.4h0.8v0.8h-0.8zM270.9 321.9h0.8v0.8h-0.8zM302.4 275.0h0.8v0.8h-0.8zM251.3 329.4h0.8v0.8h-0.8zM307.8 306.2h0.8v0.8h-0.8zM260.8 325.8h0.8v0.8h-0.8zM271.8 262.2h0.8v0.8h-0.8zM263.4 266.6h0.8v0.8h-0.8zM253.5 334.4h0.8v0.8h-0.8zM248.5 331.1h0.8v0.8h-0.8zM245.6 296.4h0.8v0.8h-0.8zM266.8 320.8h0.8v0.8h-0.8zM285.8 264.5h0.8v0.8h-0.8zM236.6 290.5h0.8v0.8h-0.8zM230.8 294.8h0.8v0.8h-0.8zM251.5 273.7h0.8v0.8h-0.8zM249.2 280.1h0.8v0.8h-0.8zM261.4 317.7h0.8v0.8h-0.8zM295.2 268.7h0.8v0.8h-0.8zM248.8 325.4h0.8v0.8h-0.8zM258.4 328.1h0.8v0.8h-0.8zM262.3 324.7h0.8v0.8h-0.8zM241.2 332.5h0.8v0.8h-0.8zM255.4 333.8h0.8v0.8h-0.8zM251.3 327.0h0.8v0.8h-0.8zM238.9 285.6h0.8v0.8h-0.8zM300.5 284.1h0.8v0.8h-0.8zM295.8 280.7h0.8v0.8h-0.8zM277.2 274.6h0.8v0.8h-0.8zM293.7 288.9h0.8v0.8h-0.8zM250.4 274.9h0.8v0.8h-0.8zM255.0 312.3h0.8v0.8h-0.8zM275.0 310.4h0.8v0.8h-0.8zM284.4 315.1h0.8v0.8h-0.8zM263.5 269.1h0.8v0.8h-0.8zM271.0 309.9h0.8v0.8h-0.8zM265.5 318.8h0.8v0.8h-0.8zM242.3 289.3h0.8v0.8h-0.8zM238.7 319.6h0.8v0.8h-0.8zM262.9 328.0h0.8v0.8h-0.8zM294.9 263.4h0.8v0.8h-0.8zM302.1 307.8h0.8v0.8h-0.8zM233.8 315.5h0.8v0.8h-0.8zM294.2 265.5h0.8v0.8h-0.8zM299.3 313.2h0.8v0.8h-0.8zM291.3 318.8h0.8v0.8h-0.8zM272.7 263.8h0.8v0.8h-0.8zM282.1 320.6h0.8v0.8h-0.8zM268.4 271.7h0.8v0.8h-0.8zM310.7 302.4h0.8v0.8h-0.8zM240.4 278.6h0.8v0.8h-0.8zM236.9 287.7h0.8v0.8h-0.8zM296.4 289.6h0.8v0.8h-0.8zM226.6 299.8h0.8v0.8h-0.8zM282.4 316.2h0.8v0.8h-0.8zM242.9 284.5h0.8v0.8h-0.8zM260.1 266.9h0.8v0.8h-0.8zM233.7 297.3h0.8v0.8h-0.8zM260.5 318.0h0.8v0.8h-0.8zM282.5 318.5h0.8v0.8h-0.8zM259.0 278.5h0.8v0.8h-0.8zM285.3 322.4h0.8v0.8h-0.8zM240.0 298.0h0.8v0.8h-0.8zM287.8 311.8h0.8v0.8h-0.8zM254.6 328.4h0.8v0.8h-0.8zM280.5 312.9h0.8v0.8h-0.8zM238.6 312.0h0.8v0.8h-0.8zM274.3 302.4h0.8v0.8h-0.8zM306.6 301.2h0.8v0.8h-0.8zM265.7 313.9h0.8v0.8h-0.8zM280.0 324.5h0.8v0.8h-0.8zM276.3 269.1h0.8v0.8h-0.8zM266.1 328.1h0.8v0.8h-0.8zM276.0 290.3h0.8v0.8h-0.8zM267.7 278.7h0.8v0.8h-0.8zM303.8 278.2h0.8v0.8h-0.8zM237.6 280.0h0.8v0.8h-0.8zM254.2 305.0h0.8v0.8h-0.8zM236.5 286.1h0.8v0.8h-0.8zM269.9 269.5h0.8v0.8h-0.8zM254.0 330.5h0.8v0.8h-0.8zM239.7 333.3h0.8v0.8h-0.8zM299.3 300.9h0.8v0.8h-0.8zM229.8 287.8h0.8v0.8h-0.8zM245.3 291.1h0.8v0.8h-0.8zM240.3 286.8h0.8v0.8h-0.8zM279.5 267.4h0.8v0.8h-0.8zM220.6 305.5h0.8v0.8h-0.8zM268.4 321.6h0.8v0.8h-0.8zM295.2 309.0h0.8v0.8h-0.8zM295.9 313.8h0.8v0.8h-0.8zM271.3 268.0h0.8v0.8h-0.8zM231.4 327.2h0.8v0.8h-0.8zM295.4 290.5h0.8v0.8h-0.8zM231.5 292.9h0.8v0.8h-0.8zM308.0 281.6h0.8v0.8h-0.8zM280.1 295.1h0.8v0.8h-0.8zM236.5 283.4h0.8v0.8h-0.8zM264.8 274.2h0.8v0.8h-0.8zM261.3 322.4h0.8v0.8h-0.8zM285.8 311.4h0.8v0.8h-0.8zM247.1 306.0h0.8v0.8h-0.8zM258.5 326.5h0.8v0.8h-0.8zM240.7 297.9h0.8v0.8h-0.8zM311.9 285.6h0.8v0.8h-0.8zM248.5 319.2h0.8v0.8h-0.8zM302.8 306.7h0.8v0.8h-0.8zM301.9 289.0h0.8v0.8h-0.8zM241.7 310.7h0.8v0.8h-0.8zM241.8 309.0h0.8v0.8h-0.8zM231.1 318.7h0.8v0.8h-0.8zM284.0 320.1h0.8v0.8h-0.8zM295.4 295.1h0.8v0.8h-0.8zM281.7 314.3h0.8v0.8h-0.8zM243.2 307.2h0.8v0.8h-0.8zM290.6 308.0h0.8v0.8h-0.8zM262.1 288.3h0.8v0.8h-0.8zM285.8 323.7h0.8v0.8h-0.8zM226.7 292.9h0.8v0.8h-0.8zM294.4 263.2h0.8v0.8h-0.8zM250.3 319.0h0.8v0.8h-0.8zM244.0 329.5h0.8v0.8h-0.8zM297.6 314.6h0.8v0.8h-0.8zM256.7 332.8h0.8v0.8h-0.8zM233.4 288.5h0.8v0.8h-0.8zM243.2 331.2h0.8v0.8h-0.8zM300.5 269.0h0.8v0.8h-0.8zM257.8 323.9h0.8v0.8h-0.8zM263.3 266.1h0.8v0.8h-0.8zM239.1 280.9h0.8v0.8h-0.8zM285.4 277.7h0.8v0.8h-0.8zM236.9 289.9h0.8v0.8h-0.8zM302.7 305.2h0.8v0.8h-0.8zM263.8 333.2h0.8v0.8h-0.8zM286.7 313.9h0.8v0.8h-0.8zM228.9 315.9h0.8v0.8h-0.8zM245.2 297.2h0.8v0.8h-0.8zM303.1 304.4h0.8v0.8h-0.8zM294.9 315.0h0.8v0.8h-0.8zM266.7 265.3h0.8v0.8h-0.8zM282.6 321.7h0.8v0.8h-0.8zM283.9 315.4h0.8v0.8h-0.8zM268.1 299.3h0.8v0.8h-0.8zM277.9 268.9h0.8v0.8h-0.8zM261.5 287.2h0.8v0.8h-0.8zM265.6 329.1h0.8v0.8h-0.8zM272.1 304.1h0.8v0.8h-0.8zM273.0 319.2h0.8v0.8h-0.8zM268.6 329.2h0.8v0.8h-0.8zM289.9 318.2h0.8v0.8h-0.8zM294.0 309.3h0.8v0.8h-0.8zM310.8 301.0h0.8v0.8h-0.8zM264.7 331.2h0.8v0.8h-0.8zM289.3 311.0h0.8v0.8h-0.8zM245.1 302.1h0.8v0.8h-0.8zM261.7 294.6h0.8v0.8h-0.8zM271.3 318.7h0.8v0.8h-0.8zM300.7 310.4h0.8v0.8h-0.8zM252.4 272.8h0.8v0.8h-0.8zM223.6 295.4h0.8v0.8h-0.8zM299.9 280.6h0.8v0.8h-0.8zM249.3 272.0h0.8v0.8h-0.8zM267.5 280.4h0.8v0.8h-0.8zM256.0 271.8h0.8v0.8h-0.8zM281.1 315.3h0.8v0.8h-0.8zM251.4 278.2h0.8v0.8h-0.8zM238.5 280.5h0.8v0.8h-0.8zM302.7 311.2h0.8v0.8h-0.8zM290.9 275.9h0.8v0.8h-0.8zM296.0 263.4h0.8v0.8h-0.8zM286.1 280.4h0.8v0.8h-0.8zM292.7 263.5h0.8v0.8h-0.8zM228.9 288.1h0.8v0.8h-0.8zM281.4 319.8h0.8v0.8h-0.8zM273.4 302.2h0.8v0.8h-0.8zM260.0 331.7h0.8v0.8h-0.8zM256.6 293.7h0.8v0.8h-0.8zM284.3 266.5h0.8v0.8h-0.8zM275.3 262.7h0.8v0.8h-0.8zM262.0 329.2h0.8v0.8h-0.8zM259.3 311.4h0.8v0.8h-0.8zM234.3 286.2h0.8v0.8h-0.8zM255.2 299.8h0.8v0.8h-0.8zM304.4 303.9h0.8v0.8h-0.8zM261.7 317.5h0.8v0.8h-0.8zM245.5 280.0h0.8v0.8h-0.8zM259.9 267.5h0.8v0.8h-0.8zM257.9 300.9h0.8v0.8h-0.8zM290.3 283.5h0.8v0.8h-0.8zM305.8 272.9h0.8v0.8h-0.8zM235.1 328.8h0.8v0.8h-0.8zM309.7 287.3h0.8v0.8h-0.8zM286.0 315.8h0.8v0.8h-0.8zM299.2 307.0h0.8v0.8h-0.8zM302.2 277.5h0.8v0.8h-0.8zM274.4 329.3h0.8v0.8h-0.8zM242.5 321.8h0.8v0.8h-0.8zM247.3 281.8h0.8v0.8h-0.8zM303.5 288.9h0.8v0.8h-0.8zM290.0 320.8h0.8v0.8h-0.8zM253.9 269.5h0.8v0.8h-0.8zM279.9 264.2h0.8v0.8h-0.8zM269.9 268.3h0.8v0.8h-0.8zM262.7 274.0h0.8v0.8h-0.8zM301.4 271.7h0.8v0.8h-0.8zM248.2 288.9h0.8v0.8h-0.8zM247.5 323.2h0.8v0.8h-0.8zM274.6 329.2h0.8v0.8h-0.8zM303.3 287.5h0.8v0.8h-0.8zM271.5 315.8h0.8v0.8h-0.8zM256.3 276.7h0.8v0.8h-0.8zM276.3 327.7h0.8v0.8h-0.8zM292.4 306.0h0.8v0.8h-0.8zM265.2 274.3h0.8v0.8h-0.8zM296.8 299.6h0.8v0.8h-0.8zM289.5 317.7h0.8v0.8h-0.8zM261.9 265.4h0.8v0.8h-0.8zM282.4 265.8h0.8v0.8h-0.8zM260.0 328.9h0.8v0.8h-0.8zM242.7 317.5h0.8v0.8h-0.8zM239.1 324.0h0.8v0.8h-0.8zM268.7 331.3h0.8v0.8h-0.8zM280.5 304.0h0.8v0.8h-0.8zM261.4 313.9h0.8v0.8h-0.8zM304.4 286.3h0.8v0.8h-0.8zM243.1 284.8h0.8v0.8h-0.8zM271.3 329.5h0.8v0.8h-0.8zM304.0 275.1h0.8v0.8h-0.8zM238.3 286.9h0.8v0.8h-0.8zM290.0 272.3h0.8v0.8h-0.8zM221.7 298.3h0.8v0.8h-0.8zM240.7 334.1h0.8v0.8h-0.8zM276.0 294.9h0.8v0.8h-0.8zM269.6 264.1h0.8v0.8h-0.8zM290.5 262.5h0.8v0.8h-0.8zM250.6 273.1h0.8v0.8h-0.8zM269.7 274.6h0.8v0.8h-0.8zM238.6 321.4h0.8v0.8h-0.8zM262.3 301.7h0.8v0.8h-0.8zM282.3 293.0h0.8v0.8h-0.8zM306.3 273.6h0.8v0.8h-0.8zM285.3 303.8h0.8v0.8h-0.8zM270.9 328.1h0.8v0.8h-0.8zM258.5 268.3h0.8v0.8h-0.8zM271.1 309.3h0.8v0.8h-0.8zM279.7 266.4h0.8v0.8h-0.8zM238.9 290.6h0.8v0.8h-0.8zM231.8 309.8h0.8v0.8h-0.8zM291.2 316.9h0.8v0.8h-0.8zM256.8 327.9h0.8v0.8h-0.8zM272.5 292.7h0.8v0.8h-0.8zM288.0 271.3h0.8v0.8h-0.8zM293.4 269.0h0.8v0.8h-0.8zM248.4 275.0h0.8v0.8h-0.8zM294.4 274.1h0.8v0.8h-0.8zM235.2 295.0h0.8v0.8h-0.8zM267.7 325.1h0.8v0.8h-0.8zM262.2 276.5h0.8v0.8h-0.8zM234.5 288.0h0.8v0.8h-0.8zM256.9 303.7h0.8v0.8h-0.8zM290.9 296.9h0.8v0.8h-0.8zM247.0 334.5h0.8v0.8h-0.8zM241.0 313.2h0.8v0.8h-0.8zM304.6 304.5h0.8v0.8h-0.8zM304.0 279.6h0.8v0.8h-0.8zM248.4 332.8h0.8v0.8h-0.8zM263.3 326.1h0.8v0.8h-0.8zM274.8 273.1h0.8v0.8h-0.8zM275.9 279.6h0.8v0.8h-0.8zM280.0 273.0h0.8v0.8h-0.8zM277.7 279.8h0.8v0.8h-0.8zM310.4 302.8h0.8v0.8h-0.8zM257.2 281.1h0.8v0.8h-0.8zM310.4 299.3h0.8v0.8h-0.8zM259.8 316.9h0.8v0.8h-0.8zM263.1 303.1h0.8v0.8h-0.8zM274.9 324.2h0.8v0.8h-0.8zM281.1 281.8h0.8v0.8h-0.8zM294.5 318.0h0.8v0.8h-0.8zM266.3 318.2h0.8v0.8h-0.8zM277.2 327.2h0.8v0.8h-0.8zM261.8 309.0h0.8v0.8h-0.8zM259.5 293.2h0.8v0.8h-0.8zM270.4 271.7h0.8v0.8h-0.8zM279.0 325.7h0.8v0.8h-0.8zM282.9 288.7h0.8v0.8h-0.8zM257.6 298.9h0.8v0.8h-0.8zM243.6 330.7h0.8v0.8h-0.8zM294.4 284.5h0.8v0.8h-0.8zM279.7 326.1h0.8v0.8h-0.8zM282.7 319.9h0.8v0.8h-0.8zM268.1 324.0h0.8v0.8h-0.8zM242.1 300.5h0.8v0.8h-0.8zM280.7 325.3h0.8v0.8h-0.8zM257.5 270.5h0.8v0.8h-0.8zM287.7 268.1h0.8v0.8h-0.8zM245.9 287.4h0.8v0.8h-0.8zM300.5 298.5h0.8v0.8h-0.8zM290.3 269.2h0.8v0.8h-0.8zM309.5 302.8h0.8v0.8h-0.8zM254.5 269.5h0.8v0.8h-0.8zM279.0 319.4h0.8v0.8h-0.8zM244.2 280.3h0.8v0.8h-0.8zM270.1 265.4h0.8v0.8h-0.8zM240.5 334.2h0.8v0.8h-0.8zM259.7 278.4h0.8v0.8h-0.8zM277.1 293.4h0.8v0.8h-0.8zM253.2 329.2h0.8v0.8h-0.8zM246.9 276.2h0.8v0.8h-0.8zM233.0 288.1h0.8v0.8h-0.8zM263.0 270.4h0.8v0.8h-0.8zM257.5 331.2h0.8v0.8h-0.8zM260.2 295.9h0.8v0.8h-0.8zM290.4 271.4h0.8v0.8h-0.8zM252.2 328.2h0.8v0.8h-0.8zM277.9 283.1h0.8v0.8h-0.8zM300.2 273.4h0.8v0.8h-0.8zM278.4 315.5h0.8v0.8h-0.8zM268.1 328.6h0.8v0.8h-0.8zM268.2 267.6h0.8v0.8h-0.8zM253.0 316.5h0.8v0.8h-0.8zM254.8 295.9h0.8v0.8h-0.8zM269.5 273.5h0.8v0.8h-0.8zM269.2 269.9h0.8v0.8h-0.8zM246.7 273.9h0.8v0.8h-0.8zM252.4 329.2h0.8v0.8h-0.8zM244.7 334.3h0.8v0.8h-0.8zM241.0 288.4h0.8v0.8h-0.8zM250.2 286.4h0.8v0.8h-0.8zM268.8 323.3h0.8v0.8h-0.8zM245.0 286.5h0.8v0.8h-0.8zM296.3 317.2h0.8v0.8h-0.8zM261.0 331.6h0.8v0.8h-0.8zM244.6 330.5h0.8v0.8h-0.8zM280.6 264.5h0.8v0.8h-0.8zM239.8 288.2h0.8v0.8h-0.8zM234.6 321.2h0.8v0.8h-0.8zM266.5 308.3h0.8v0.8h-0.8zM277.6 294.5h0.8v0.8h-0.8zM301.5 292.5h0.8v0.8h-0.8zM246.1 293.5h0.8v0.8h-0.8zM283.9 321.8h0.8v0.8h-0.8zM277.3 296.3h0.8v0.8h-0.8zM292.3 289.9h0.8v0.8h-0.8zM257.3 279.8h0.8v0.8h-0.8zM299.6 313.2h0.8v0.8h-0.8zM294.3 296.9h0.8v0.8h-0.8zM282.0 280.2h0.8v0.8h-0.8zM229.1 287.0h0.8v0.8h-0.8zM272.7 280.1h0.8v0.8h-0.8zM310.1 300.2h0.8v0.8h-0.8zM264.9 331.1h0.8v0.8h-0.8zM253.1 332.8h0.8v0.8h-0.8zM295.1 315.0h0.8v0.8h-0.8zM233.9 319.1h0.8v0.8h-0.8zM252.6 321.8h0.8v0.8h-0.8zM298.7 304.8h0.8v0.8h-0.8zM236.4 304.4h0.8v0.8h-0.8zM284.5 309.7h0.8v0.8h-0.8zM249.1 308.8h0.8v0.8h-0.8zM300.1 307.2h0.8v0.8h-0.8zM256.5 287.4h0.8v0.8h-0.8zM257.9 269.5h0.8v0.8h-0.8zM257.6 283.9h0.8v0.8h-0.8zM241.1 288.2h0.8v0.8h-0.8zM285.1 324.7h0.8v0.8h-0.8zM247.0 284.3h0.8v0.8h-0.8zM291.5 262.3h0.8v0.8h-0.8zM295.8 269.8h0.8v0.8h-0.8zM224.5 291.8h0.8v0.8h-0.8zM246.4 325.8h0.8v0.8h-0.8zM237.8 287.8h0.8v0.8h-0.8zM276.5 265.9h0.8v0.8h-0.8zM228.8 290.5h0.8v0.8h-0.8zM241.0 277.1h0.8v0.8h-0.8zM230.5 325.8h0.8v0.8h-0.8zM293.8 314.8h0.8v0.8h-0.8zM251.1 280.8h0.8v0.8h-0.8zM301.3 308.5h0.8v0.8h-0.8zM255.1 269.7h0.8v0.8h-0.8zM244.7 282.0h0.8v0.8h-0.8zM297.1 309.6h0.8v0.8h-0.8zM224.1 301.2h0.8v0.8h-0.8zM275.4 326.1h0.8v0.8h-0.8zM290.3 283.1h0.8v0.8h-0.8zM263.0 303.7h0.8v0.8h-0.8zM261.0 269.6h0.8v0.8h-0.8zM249.1 288.4h0.8v0.8h-0.8zM238.3 319.0h0.8v0.8h-0.8zM248.5 292.0h0.8v0.8h-0.8zM261.7 265.8h0.8v0.8h-0.8zM288.7 302.9h0.8v0.8h-0.8zM255.3 307.0h0.8v0.8h-0.8zM258.3 302.2h0.8v0.8h-0.8zM273.2 294.1h0.8v0.8h-0.8zM285.5 263.1h0.8v0.8h-0.8zM250.5 276.9h0.8v0.8h-0.8zM286.1 265.5h0.8v0.8h-0.8zM281.0 280.9h0.8v0.8h-0.8zM249.2 335.2h0.8v0.8h-0.8zM251.2 305.4h0.8v0.8h-0.8zM273.9 263.3h0.8v0.8h-0.8zM259.9 277.9h0.8v0.8h-0.8zM288.7 286.9h0.8v0.8h-0.8zM263.7 330.7h0.8v0.8h-0.8zM245.2 314.3h0.8v0.8h-0.8zM291.6 304.6h0.8v0.8h-0.8zM269.5 327.6h0.8v0.8h-0.8zM238.2 310.4h0.8v0.8h-0.8zM236.0 298.3h0.8v0.8h-0.8zM257.9 289.6h0.8v0.8h-0.8zM275.3 317.2h0.8v0.8h-0.8zM233.3 313.0h0.8v0.8h-0.8zM272.3 269.1h0.8v0.8h-0.8zM241.2 332.5h0.8v0.8h-0.8zM279.5 323.6h0.8v0.8h-0.8zM285.9 270.1h0.8v0.8h-0.8zM272.8 264.9h0.8v0.8h-0.8zM253.1 296.5h0.8v0.8h-0.8zM270.8 326.0h0.8v0.8h-0.8zM242.7 297.0h0.8v0.8h-0.8zM290.8 270.9h0.8v0.8h-0.8zM247.6 276.0h0.8v0.8h-0.8zM282.6 318.6h0.8v0.8h-0.8zM279.5 273.6h0.8v0.8h-0.8zM273.7 266.1h0.8v0.8h-0.8zM258.2 273.9h0.8v0.8h-0.8zM256.9 312.2h0.8v0.8h-0.8zM302.3 295.6h0.8v0.8h-0.8zM292.5 314.1h0.8v0.8h-0.8zM244.4 278.5h0.8v0.8h-0.8zM275.3 272.6h0.8v0.8h-0.8zM301.1 310.1h0.8v0.8h-0.8zM277.9 275.4h0.8v0.8h-0.8zM287.5 312.3h0.8v0.8h-0.8zM248.7 331.9h0.8v0.8h-0.8zM264.5 273.9h0.8v0.8h-0.8zM265.6 317.3h0.8v0.8h-0.8zM244.2 280.2h0.8v0.8h-0.8zM250.3 283.0h0.8v0.8h-0.8zM271.4 294.1h0.8v0.8h-0.8zM292.2 312.1h0.8v0.8h-0.8zM253.1 317.1h0.8v0.8h-0.8zM251.5 325.9h0.8v0.8h-0.8zM303.2 273.7h0.8v0.8h-0.8zM262.4 324.2h0.8v0.8h-0.8zM307.2 302.6h0.8v0.8h-0.8zM294.8 315.4h0.8v0.8h-0.8zM232.2 284.9h0.8v0.8h-0.8zM262.2 275.9h0.8v0.8h-0.8zM268.6 321.7h0.8v0.8h-0.8zM257.9 274.9h0.8v0.8h-0.8zM263.1 323.8h0.8v0.8h-0.8zM278.4 268.7h0.8v0.8h-0.8zM297.5 315.2h0.8v0.8h-0.8zM230.6 287.3h0.8v0.8h-0.8zM289.0 270.7h0.8v0.8h-0.8zM264.6 329.2h0.8v0.8h-0.8zM285.0 281.0h0.8v0.8h-0.8zM254.7 272.9h0.8v0.8h-0.8zM290.1 310.9h0.8v0.8h-0.8zM242.2 332.6h0.8v0.8h-0.8zM252.8 326.9h0.8v0.8h-0.8zM254.0 273.0h0.8v0.8h-0.8zM246.9 277.1h0.8v0.8h-0.8zM244.3 334.4h0.8v0.8h-0.8zM299.1 285.2h0.8v0.8h-0.8zM276.3 287.4h0.8v0.8h-0.8zM262.6 265.5h0.8v0.8h-0.8zM250.8 302.0h0.8v0.8h-0.8zM296.7 264.0h0.8v0.8h-0.8zM252.7 272.1h0.8v0.8h-0.8zM242.8 295.6h0.8v0.8h-0.8zM252.9 270.6h0.8v0.8h-0.8zM288.8 318.5h0.8v0.8h-0.8zM285.1 308.1h0.8v0.8h-0.8zM237.7 286.6h0.8v0.8h-0.8zM278.1 265.6h0.8v0.8h-0.8zM278.2 263.4h0.8v0.8h-0.8zM278.1 321.1h0.8v0.8h-0.8zM286.3 295.7h0.8v0.8h-0.8zM292.1 319.4h0.8v0.8h-0.8zM247.1 324.6h0.8v0.8h-0.8zM247.3 333.7h0.8v0.8h-0.8zM300.4 300.1h0.8v0.8h-0.8zM306.3 300.0h0.8v0.8h-0.8zM246.3 274.6h0.8v0.8h-0.8zM262.7 331.9h0.8v0.8h-0.8zM243.3 279.4h0.8v0.8h-0.8zM303.5 271.3h0.8v0.8h-0.8zM291.8 317.8h0.8v0.8h-0.8zM273.0 266.7h0.8v0.8h-0.8zM243.9 279.9h0.8v0.8h-0.8zM277.8 323.5h0.8v0.8h-0.8zM246.0 331.0h0.8v0.8h-0.8zM281.4 289.6h0.8v0.8h-0.8zM265.7 329.0h0.8v0.8h-0.8zM302.0 313.1h0.8v0.8h-0.8zM248.4 308.6h0.8v0.8h-0.8zM247.2 319.1h0.8v0.8h-0.8zM283.7 314.4h0.8v0.8h-0.8zM304.0 291.1h0.8v0.8h-0.8zM257.3 267.3h0.8v0.8h-0.8zM284.9 318.8h0.8v0.8h-0.8zM293.3 316.0h0.8v0.8h-0.8zM269.2 294.1h0.8v0.8h-0.8zM235.8 313.8h0.8v0.8h-0.8zM283.5 315.4h0.8v0.8h-0.8zM285.1 263.5h0.8v0.8h-0.8zM253.1 308.5h0.8v0.8h-0.8zM243.5 332.2h0.8v0.8h-0.8zM305.8 300.8h0.8v0.8h-0.8zM299.3 268.9h0.8v0.8h-0.8zM231.5 300.2h0.8v0.8h-0.8zM242.0 276.8h0.8v0.8h-0.8zM288.3 264.9h0.8v0.8h-0.8zM298.2 306.3h0.8v0.8h-0.8zM292.5 319.6h0.8v0.8h-0.8zM250.8 274.6h0.8v0.8h-0.8zM272.1 308.1h0.8v0.8h-0.8zM262.5 324.3h0.8v0.8h-0.8zM230.5 293.3h0.8v0.8h-0.8zM255.5 321.6h0.8v0.8h-0.8zM244.8 312.2h0.8v0.8h-0.8zM311.0 301.0h0.8v0.8h-0.8zM283.3 307.1h0.8v0.8h-0.8zM239.3 333.0h0.8v0.8h-0.8zM260.8 272.5h0.8v0.8h-0.8zM265.3 312.3h0.8v0.8h-0.8zM272.2 306.9h0.8v0.8h-0.8zM290.9 262.8h0.8v0.8h-0.8zM242.2 291.6h0.8v0.8h-0.8zM293.0 262.0h0.8v0.8h-0.8zM226.6 291.2h0.8v0.8h-0.8zM264.7 275.9h0.8v0.8h-0.8zM244.5 275.2h0.8v0.8h-0.8zM283.3 271.9h0.8v0.8h-0.8zM284.4 262.9h0.8v0.8h-0.8zM307.2 293.2h0.8v0.8h-0.8zM286.3 314.2h0.8v0.8h-0.8zM264.8 331.1h0.8v0.8h-0.8zM241.5 296.8h0.8v0.8h-0.8zM279.8 285.0h0.8v0.8h-0.8zM264.2 269.2h0.8v0.8h-0.8zM249.2 280.7h0.8v0.8h-0.8zM245.8 299.4h0.8v0.8h-0.8zM234.4 284.0h0.8v0.8h-0.8zM241.0 301.5h0.8v0.8h-0.8zM253.1 281.3h0.8v0.8h-0.8zM271.0 328.7h0.8v0.8h-0.8zM277.5 264.1h0.8v0.8h-0.8zM278.7 276.2h0.8v0.8h-0.8zM255.6 271.4h0.8v0.8h-0.8zM274.2 264.5h0.8v0.8h-0.8zM304.1 305.5h0.8v0.8h-0.8zM243.2 275.0h0.8v0.8h-0.8zM241.2 285.2h0.8v0.8h-0.8zM253.6 318.9h0.8v0.8h-0.8zM241.2 323.0h0.8v0.8h-0.8zM267.4 315.6h0.8v0.8h-0.8zM276.7 308.1h0.8v0.8h-0.8zM287.2 265.1h0.8v0.8h-0.8zM282.1 272.5h0.8v0.8h-0.8zM280.8 282.6h0.8v0.8h-0.8zM268.4 330.9h0.8v0.8h-0.8zM262.8 331.8h0.8v0.8h-0.8zM226.5 295.7h0.8v0.8h-0.8zM292.5 310.2h0.8v0.8h-0.8zM249.8 331.2h0.8v0.8h-0.8zM286.6 263.7h0.8v0.8h-0.8zM235.3 316.9h0.8v0.8h-0.8zM256.8 325.7h0.8v0.8h-0.8zM296.5 268.3h0.8v0.8h-0.8zM306.0 286.9h0.8v0.8h-0.8zM277.0 323.4h0.8v0.8h-0.8zM279.9 303.1h0.8v0.8h-0.8zM239.9 288.2h0.8v0.8h-0.8zM264.6 313.9h0.8v0.8h-0.8zM289.4 318.0h0.8v0.8h-0.8zM297.2 301.3h0.8v0.8h-0.8zM248.4 298.5h0.8v0.8h-0.8zM264.6 320.5h0.8v0.8h-0.8zM257.3 280.1h0.8v0.8h-0.8zM281.7 325.8h0.8v0.8h-0.8zM267.8 322.1h0.8v0.8h-0.8zM230.6 324.6h0.8v0.8h-0.8zM231.9 292.7h0.8v0.8h-0.8zM304.5 304.9h0.8v0.8h-0.8zM255.6 326.8h0.8v0.8h-0.8zM307.8 305.8h0.8v0.8h-0.8zM268.4 265.0h0.8v0.8h-0.8zM271.1 279.5h0.8v0.8h-0.8zM231.9 291.9h0.8v0.8h-0.8zM306.9 291.5h0.8v0.8h-0.8zM272.5 313.8h0.8v0.8h-0.8zM235.2 327.9h0.8v0.8h-0.8zM244.5 284.8h0.8v0.8h-0.8zM273.0 302.3h0.8v0.8h-0.8zM248.5 306.9h0.8v0.8h-0.8zM274.2 316.4h0.8v0.8h-0.8zM237.1 318.1h0.8v0.8h-0.8zM264.1 330.9h0.8v0.8h-0.8zM250.4 284.1h0.8v0.8h-0.8zM312.2 294.8h0.8v0.8h-0.8zM303.2 271.3h0.8v0.8h-0.8zM279.2 321.7h0.8v0.8h-0.8zM288.1 305.6h0.8v0.8h-0.8zM284.9 309.4h0.8v0.8h-0.8zM252.9 274.3h0.8v0.8h-0.8zM291.5 304.1h0.8v0.8h-0.8zM248.2 326.3h0.8v0.8h-0.8zM268.6 270.2h0.8v0.8h-0.8zM309.5 299.7h0.8v0.8h-0.8zM294.5 300.4h0.8v0.8h-0.8zM258.2 304.8h0.8v0.8h-0.8zM257.6 333.9h0.8v0.8h-0.8zM267.8 265.8h0.8v0.8h-0.8zM259.3 303.2h0.8v0.8h-0.8zM288.3 319.5h0.8v0.8h-0.8zM274.7 267.8h0.8v0.8h-0.8zM239.6 332.0h0.8v0.8h-0.8zM279.2 317.5h0.8v0.8h-0.8zM253.0 331.4h0.8v0.8h-0.8zM310.1 303.1h0.8v0.8h-0.8zM287.8 280.2h0.8v0.8h-0.8zM265.2 265.9h0.8v0.8h-0.8zM256.7 330.6h0.8v0.8h-0.8zM302.9 268.8h0.8v0.8h-0.8zM241.3 332.3h0.8v0.8h-0.8zM294.4 301.1h0.8v0.8h-0.8zM294.0 262.2h0.8v0.8h-0.8zM259.0 332.8h0.8v0.8h-0.8zM224.2 304.6h0.8v0.8h-0.8zM261.3 290.3h0.8v0.8h-0.8zM221.7 301.6h0.8v0.8h-0.8zM290.5 308.8h0.8v0.8h-0.8zM302.9 292.4h0.8v0.8h-0.8zM299.2 310.1h0.8v0.8h-0.8zM299.2 297.8h0.8v0.8h-0.8zM268.1 263.9h0.8v0.8h-0.8zM260.1 282.6h0.8v0.8h-0.8zM264.3 324.6h0.8v0.8h-0.8zM267.8 265.3h0.8v0.8h-0.8zM242.6 297.9h0.8v0.8h-0.8zM273.1 303.7h0.8v0.8h-0.8zM225.4 294.9h0.8v0.8h-0.8zM256.8 332.5h0.8v0.8h-0.8zM237.0 280.2h0.8v0.8h-0.8zM290.0 292.0h0.8v0.8h-0.8zM277.6 295.4h0.8v0.8h-0.8zM233.6 292.0h0.8v0.8h-0.8zM229.9 323.0h0.8v0.8h-0.8zM306.9 289.6h0.8v0.8h-0.8zM243.2 301.6h0.8v0.8h-0.8zM292.6 315.2h0.8v0.8h-0.8zM263.1 298.7h0.8v0.8h-0.8zM290.0 318.8h0.8v0.8h-0.8zM273.8 263.1h0.8v0.8h-0.8zM300.2 279.2h0.8v0.8h-0.8zM227.0 289.5h0.8v0.8h-0.8zM251.5 273.3h0.8v0.8h-0.8zM248.2 309.6h0.8v0.8h-0.8zM306.4 292.1h0.8v0.8h-0.8zM282.6 268.9h0.8v0.8h-0.8zM228.7 325.2h0.8v0.8h-0.8zM301.0 276.8h0.8v0.8h-0.8zM244.5 319.2h0.8v0.8h-0.8zM248.7 302.1h0.8v0.8h-0.8zM288.7 265.8h0.8v0.8h-0.8zM257.5 300.5h0.8v0.8h-0.8zM293.1 317.2h0.8v0.8h-0.8zM277.1 305.0h0.8v0.8h-0.8zM297.0 307.8h0.8v0.8h-0.8zM255.4 271.9h0.8v0.8h-0.8zM255.2 292.9h0.8v0.8h-0.8zM292.4 291.7h0.8v0.8h-0.8zM290.9 312.6h0.8v0.8h-0.8zM265.9 332.6h0.8v0.8h-0.8zM263.0 320.6h0.8v0.8h-0.8zM265.8 320.5h0.8v0.8h-0.8zM234.2 291.5h0.8v0.8h-0.8zM274.4 325.0h0.8v0.8h-0.8zM261.8 265.8h0.8v0.8h-0.8zM237.9 330.1h0.8v0.8h-0.8zM243.1 331.2h0.8v0.8h-0.8zM226.5 275.8h0.8v0.8h-0.8zM218.9 279.2h0.8v0.8h-0.8zM226.7 276.4h0.8v0.8h-0.8zM226.9 277.6h0.8v0.8h-0.8zM236.9 274.6h0.8v0.8h-0.8zM253.0 262.2h0.8v0.8h-0.8zM237.8 273.6h0.8v0.8h-0.8zM230.7 271.9h0.8v0.8h-0.8zM234.4 272.3h0.8v0.8h-0.8zM257.3 261.3h0.8v0.8h-0.8zM258.3 259.5h0.8v0.8h-0.8zM223.7 276.5h0.8v0.8h-0.8zM258.0 264.5h0.8v0.8h-0.8zM257.5 265.1h0.8v0.8h-0.8zM244.9 266.6h0.8v0.8h-0.8zM227.5 276.9h0.8v0.8h-0.8zM255.6 263.9h0.8v0.8h-0.8zM228.5 274.9h0.8v0.8h-0.8zM219.2 278.9h0.8v0.8h-0.8zM258.3 261.2h0.8v0.8h-0.8zM247.1 268.0h0.8v0.8h-0.8zM258.9 261.3h0.8v0.8h-0.8zM246.8 267.3h0.8v0.8h-0.8zM225.5 277.9h0.8v0.8h-0.8zM226.9 277.4h0.8v0.8h-0.8zM241.3 266.7h0.8v0.8h-0.8zM234.6 271.4h0.8v0.8h-0.8zM235.4 274.2h0.8v0.8h-0.8zM221.5 276.6h0.8v0.8h-0.8zM258.6 262.8h0.8v0.8h-0.8zM219.9 281.5h0.8v0.8h-0.8zM229.5 274.1h0.8v0.8h-0.8zM238.3 269.3h0.8v0.8h-0.8zM224.8 280.8h0.8v0.8h-0.8zM239.4 269.9h0.8v0.8h-0.8zM258.7 261.3h0.8v0.8h-0.8zM235.8 273.5h0.8v0.8h-0.8zM237.3 271.2h0.8v0.8h-0.8zM252.4 268.1h0.8v0.8h-0.8zM233.7 274.7h0.8v0.8h-0.8zM225.1 278.0h0.8v0.8h-0.8zM255.7 260.0h0.8v0.8h-0.8zM258.3 261.0h0.8v0.8h-0.8zM225.6 274.0h0.8v0.8h-0.8zM247.3 267.7h0.8v0.8h-0.8zM228.4 275.5h0.8v0.8h-0.8zM232.0 276.7h0.8v0.8h-0.8zM249.3 267.7h0.8v0.8h-0.8zM247.5 269.9h0.8v0.8h-0.8zM222.0 281.8h0.8v0.8h-0.8zM253.6 263.3h0.8v0.8h-0.8zM258.7 259.4h0.8v0.8h-0.8zM248.8 265.7h0.8v0.8h-0.8zM247.4 264.4h0.8v0.8h-0.8zM255.4 264.8h0.8v0.8h-0.8zM231.3 273.4h0.8v0.8h-0.8zM256.9 259.4h0.8v0.8h-0.8zM222.6 281.1h0.8v0.8h-0.8zM247.9 269.4h0.8v0.8h-0.8zM239.0 270.6h0.8v0.8h-0.8zM251.3 266.3h0.8v0.8h-0.8zM258.2 259.1h0.8v0.8h-0.8zM244.0 268.9h0.8v0.8h-0.8zM227.7 275.8h0.8v0.8h-0.8zM258.6 264.6h0.8v0.8h-0.8zM244.3 266.4h0.8v0.8h-0.8zM254.4 264.2h0.8v0.8h-0.8zM234.5 270.5h0.8v0.8h-0.8zM250.9 262.6h0.8v0.8h-0.8zM223.9 278.3h0.8v0.8h-0.8zM254.3 262.7h0.8v0.8h-0.8zM232.4 274.3h0.8v0.8h-0.8zM250.9 266.7h0.8v0.8h-0.8zM243.7 271.1h0.8v0.8h-0.8zM253.3 264.2h0.8v0.8h-0.8zM247.8 266.3h0.8v0.8h-0.8zM241.5 266.4h0.8v0.8h-0.8zM246.8 270.5h0.8v0.8h-0.8zM258.3 260.3h0.8v0.8h-0.8zM249.2 269.1h0.8v0.8h-0.8zM220.8 282.8h0.8v0.8h-0.8zM229.8 274.7h0.8v0.8h-0.8zM236.1 271.3h0.8v0.8h-0.8zM246.3 264.7h0.8v0.8h-0.8zM254.0 261.3h0.8v0.8h-0.8zM257.2 265.1h0.8v0.8h-0.8zM243.7 271.3h0.8v0.8h-0.8zM228.9 273.1h0.8v0.8h-0.8zM245.9 265.1h0.8v0.8h-0.8zM245.5 264.7h0.8v0.8h-0.8zM239.5 274.0h0.8v0.8h-0.8zM231.5 275.1h0.8v0.8h-0.8zM232.0 274.2h0.8v0.8h-0.8zM237.3 275.2h0.8v0.8h-0.8zM253.5 263.4h0.8v0.8h-0.8zM228.1 273.3h0.8v0.8h-0.8zM242.1 270.1h0.8v0.8h-0.8zM225.0 277.1h0.8v0.8h-0.8zM255.4 259.9h0.8v0.8h-0.8zM234.7 274.0h0.8v0.8h-0.8zM249.3 262.5h0.8v0.8h-0.8zM227.7 279.4h0.8v0.8h-0.8zM230.5 272.8h0.8v0.8h-0.8zM227.8 274.5h0.8v0.8h-0.8zM254.2 260.3h0.8v0.8h-0.8zM234.9 275.2h0.8v0.8h-0.8zM254.7 265.3h0.8v0.8h-0.8zM239.7 271.1h0.8v0.8h-0.8zM247.8 263.3h0.8v0.8h-0.8zM247.2 267.1h0.8v0.8h-0.8zM246.5 268.2h0.8v0.8h-0.8zM247.5 265.4h0.8v0.8h-0.8zM237.6 271.7h0.8v0.8h-0.8zM220.6 277.9h0.8v0.8h-0.8zM246.9 265.9h0.8v0.8h-0.8zM232.2 271.4h0.8v0.8h-0.8zM245.6 267.7h0.8v0.8h-0.8zM230.8 271.7h0.8v0.8h-0.8zM241.1 270.3h0.8v0.8h-0.8zM247.6 269.6h0.8v0.8h-0.8zM248.4 266.5h0.8v0.8h-0.8zM246.5 267.4h0.8v0.8h-0.8zM220.7 277.9h0.8v0.8h-0.8zM251.8 265.4h0.8v0.8h-0.8zM255.6 263.7h0.8v0.8h-0.8zM255.8 262.3h0.8v0.8h-0.8zM236.2 275.7h0.8v0.8h-0.8zM228.8 277.0h0.8v0.8h-0.8zM255.1 262.9h0.8v0.8h-0.8zM244.2 271.6h0.8v0.8h-0.8zM223.7 279.3h0.8v0.8h-0.8zM256.6 263.5h0.8v0.8h-0.8zM297.7 320.8h0.8v0.8h-0.8zM288.5 325.6h0.8v0.8h-0.8zM302.4 318.1h0.8v0.8h-0.8zM283.1 328.9h0.8v0.8h-0.8zM280.0 329.6h0.8v0.8h-0.8zM311.9 318.0h0.8v0.8h-0.8zM289.8 325.6h0.8v0.8h-0.8zM275.7 337.6h0.8v0.8h-0.8zM279.5 335.2h0.8v0.8h-0.8zM277.0 335.0h0.8v0.8h-0.8zM308.0 320.8h0.8v0.8h-0.8zM280.8 332.0h0.8v0.8h-0.8zM310.5 319.2h0.8v0.8h-0.8zM280.3 330.9h0.8v0.8h-0.8zM304.3 319.0h0.8v0.8h-0.8zM312.4 314.0h0.8v0.8h-0.8zM291.1 327.3h0.8v0.8h-0.8zM295.2 327.2h0.8v0.8h-0.8zM294.3 323.0h0.8v0.8h-0.8zM289.1 328.3h0.8v0.8h-0.8zM302.6 320.8h0.8v0.8h-0.8zM307.6 317.9h0.8v0.8h-0.8zM281.0 334.2h0.8v0.8h-0.8zM296.5 325.9h0.8v0.8h-0.8zM289.2 331.3h0.8v0.8h-0.8zM277.4 332.0h0.8v0.8h-0.8zM298.9 325.9h0.8v0.8h-0.8zM287.5 329.2h0.8v0.8h-0.8zM314.0 319.1h0.8v0.8h-0.8zM294.2 325.2h0.8v0.8h-0.8zM296.1 324.0h0.8v0.8h-0.8zM295.8 325.2h0.8v0.8h-0.8zM277.7 332.8h0.8v0.8h-0.8zM280.8 329.1h0.8v0.8h-0.8zM291.8 329.3h0.8v0.8h-0.8zM291.1 329.7h0.8v0.8h-0.8zM306.2 316.0h0.8v0.8h-0.8zM311.4 316.6h0.8v0.8h-0.8zM298.8 320.1h0.8v0.8h-0.8zM282.4 331.6h0.8v0.8h-0.8zM291.9 323.4h0.8v0.8h-0.8zM283.3 328.2h0.8v0.8h-0.8zM311.2 313.7h0.8v0.8h-0.8zM276.1 332.8h0.8v0.8h-0.8zM282.2 333.2h0.8v0.8h-0.8zM294.1 328.9h0.8v0.8h-0.8zM275.0 333.8h0.8v0.8h-0.8zM292.4 322.8h0.8v0.8h-0.8zM284.0 328.2h0.8v0.8h-0.8zM284.7 328.4h0.8v0.8h-0.8zM287.4 327.8h0.8v0.8h-0.8zM281.4 328.5h0.8v0.8h-0.8zM298.5 323.1h0.8v0.8h-0.8zM292.2 325.4h0.8v0.8h-0.8zM281.4 334.2h0.8v0.8h-0.8zM289.0 331.4h0.8v0.8h-0.8zM309.8 318.4h0.8v0.8h-0.8zM291.3 323.8h0.8v0.8h-0.8zM298.3 324.1h0.8v0.8h-0.8zM301.2 318.9h0.8v0.8h-0.8zM312.2 318.8h0.8v0.8h-0.8zM309.9 318.2h0.8v0.8h-0.8zM294.2 328.5h0.8v0.8h-0.8zM292.9 324.4h0.8v0.8h-0.8zM276.7 336.4h0.8v0.8h-0.8zM306.5 321.6h0.8v0.8h-0.8zM275.3 332.0h0.8v0.8h-0.8zM305.2 320.9h0.8v0.8h-0.8zM283.2 333.1h0.8v0.8h-0.8zM278.6 335.3h0.8v0.8h-0.8zM291.4 325.8h0.8v0.8h-0.8zM301.7 323.8h0.8v0.8h-0.8zM287.5 326.2h0.8v0.8h-0.8zM298.9 321.6h0.8v0.8h-0.8zM278.1 331.8h0.8v0.8h-0.8zM281.6 328.9h0.8v0.8h-0.8zM314.9 317.4h0.8v0.8h-0.8zM312.8 316.5h0.8v0.8h-0.8zM290.7 325.3h0.8v0.8h-0.8zM285.0 331.6h0.8v0.8h-0.8zM300.7 319.5h0.8v0.8h-0.8zM283.3 330.5h0.8v0.8h-0.8zM304.3 319.9h0.8v0.8h-0.8zM288.5 325.4h0.8v0.8h-0.8zM285.0 331.4h0.8v0.8h-0.8zM307.4 321.8h0.8v0.8h-0.8zM305.8 316.6h0.8v0.8h-0.8zM283.2 330.4h0.8v0.8h-0.8zM291.2 324.1h0.8v0.8h-0.8zM281.3 328.4h0.8v0.8h-0.8zM305.9 319.1h0.8v0.8h-0.8zM284.0 330.7h0.8v0.8h-0.8zM312.7 319.7h0.8v0.8h-0.8zM309.5 320.2h0.8v0.8h-0.8zM297.3 322.8h0.8v0.8h-0.8zM284.5 327.9h0.8v0.8h-0.8zM280.2 332.8h0.8v0.8h-0.8zM282.2 331.2h0.8v0.8h-0.8zM284.2 330.9h0.8v0.8h-0.8zM275.2 334.4h0.8v0.8h-0.8zM285.7 326.9h0.8v0.8h-0.8zM299.7 324.9h0.8v0.8h-0.8zM304.9 320.7h0.8v0.8h-0.8zM307.1 322.3h0.8v0.8h-0.8zM287.3 329.1h0.8v0.8h-0.8zM290.9 328.9h0.8v0.8h-0.8zM298.1 326.0h0.8v0.8h-0.8zM291.7 325.9h0.8v0.8h-0.8zM297.4 326.4h0.8v0.8h-0.8zM292.7 328.3h0.8v0.8h-0.8zM312.8 317.2h0.8v0.8h-0.8zM294.1 323.7h0.8v0.8h-0.8zM312.8 318.3h0.8v0.8h-0.8zM277.9 334.9h0.8v0.8h-0.8zM313.9 314.6h0.8v0.8h-0.8zM309.2 315.8h0.8v0.8h-0.8zM312.1 319.1h0.8v0.8h-0.8zM311.5 315.2h0.8v0.8h-0.8zM294.4 321.9h0.8v0.8h-0.8zM298.3 322.5h0.8v0.8h-0.8zM310.3 316.6h0.8v0.8h-0.8zM275.0 334.9h0.8v0.8h-0.8zM287.9 330.9h0.8v0.8h-0.8zM304.5 322.3h0.8v0.8h-0.8zM274.7 334.9h0.8v0.8h-0.8zM293.3 328.2h0.8v0.8h-0.8zM290.1 325.6h0.8v0.8h-0.8zM310.2 320.0h0.8v0.8h-0.8zM281.9 328.2h0.8v0.8h-0.8zM299.4 323.5h0.8v0.8h-0.8zM303.3 324.5h0.8v0.8h-0.8zM278.2 333.7h0.8v0.8h-0.8z" fill="#6e6e6e"/><path d="M375.2 264.8h0.8v0.8h-0.8zM350.8 301.2h0.8v0.8h-0.8zM422.0 261.7h0.8v0.8h-0.8zM434.3 288.8h0.8v0.8h-0.8zM390.5 257.3h0.8v0.8h-0.8zM350.6 281.1h0.8v0.8h-0.8zM353.0 289.2h0.8v0.8h-0.8zM416.2 264.5h0.8v0.8h-0.8zM415.4 300.7h0.8v0.8h-0.8zM382.1 286.3h0.8v0.8h-0.8zM412.0 303.3h0.8v0.8h-0.8zM362.4 303.3h0.8v0.8h-0.8zM390.8 265.6h0.8v0.8h-0.8zM349.0 301.9h0.8v0.8h-0.8zM393.4 263.0h0.8v0.8h-0.8zM421.3 274.7h0.8v0.8h-0.8zM422.8 305.9h0.8v0.8h-0.8zM415.6 295.5h0.8v0.8h-0.8zM360.1 302.4h0.8v0.8h-0.8zM359.7 324.3h0.8v0.8h-0.8zM393.0 286.1h0.8v0.8h-0.8zM413.2 299.3h0.8v0.8h-0.8zM431.6 271.3h0.8v0.8h-0.8zM393.2 259.6h0.8v0.8h-0.8zM416.8 260.7h0.8v0.8h-0.8zM364.4 269.3h0.8v0.8h-0.8zM404.5 307.6h0.8v0.8h-0.8zM394.3 286.0h0.8v0.8h-0.8zM352.6 284.3h0.8v0.8h-0.8zM375.9 287.9h0.8v0.8h-0.8zM394.1 285.1h0.8v0.8h-0.8zM411.0 293.2h0.8v0.8h-0.8zM428.4 270.1h0.8v0.8h-0.8zM361.5 315.8h0.8v0.8h-0.8zM425.1 277.6h0.8v0.8h-0.8zM407.4 296.9h0.8v0.8h-0.8zM419.8 261.6h0.8v0.8h-0.8zM426.7 266.4h0.8v0.8h-0.8zM389.4 297.3h0.8v0.8h-0.8zM429.0 277.6h0.8v0.8h-0.8zM406.7 303.9h0.8v0.8h-0.8zM385.7 265.7h0.8v0.8h-0.8zM379.7 296.6h0.8v0.8h-0.8zM383.8 258.4h0.8v0.8h-0.8zM426.8 287.8h0.8v0.8h-0.8zM418.8 300.1h0.8v0.8h-0.8zM404.2 310.6h0.8v0.8h-0.8zM401.0 285.5h0.8v0.8h-0.8zM421.3 303.5h0.8v0.8h-0.8zM399.2 294.8h0.8v0.8h-0.8zM394.6 290.8h0.8v0.8h-0.8zM415.9 264.1h0.8v0.8h-0.8zM406.3 290.2h0.8v0.8h-0.8zM359.0 292.5h0.8v0.8h-0.8zM425.8 287.6h0.8v0.8h-0.8zM429.0 271.2h0.8v0.8h-0.8zM391.4 270.0h0.8v0.8h-0.8zM432.7 291.1h0.8v0.8h-0.8zM420.8 300.5h0.8v0.8h-0.8zM390.2 257.3h0.8v0.8h-0.8zM360.0 274.2h0.8v0.8h-0.8zM431.4 292.4h0.8v0.8h-0.8zM408.8 292.4h0.8v0.8h-0.8zM368.3 290.9h0.8v0.8h-0.8zM424.3 273.6h0.8v0.8h-0.8zM406.3 312.1h0.8v0.8h-0.8zM401.9 268.0h0.8v0.8h-0.8zM406.8 274.4h0.8v0.8h-0.8zM383.6 291.6h0.8v0.8h-0.8zM364.5 272.9h0.8v0.8h-0.8zM397.5 272.4h0.8v0.8h-0.8zM412.8 259.7h0.8v0.8h-0.8zM405.4 281.7h0.8v0.8h-0.8zM408.2 308.2h0.8v0.8h-0.8zM400.2 257.5h0.8v0.8h-0.8zM432.3 292.9h0.8v0.8h-0.8zM431.6 285.4h0.8v0.8h-0.8zM407.3 296.6h0.8v0.8h-0.8zM416.0 304.0h0.8v0.8h-0.8zM388.6 292.3h0.8v0.8h-0.8zM348.3 297.5h0.8v0.8h-0.8zM394.3 261.0h0.8v0.8h-0.8zM392.9 281.3h0.8v0.8h-0.8zM404.6 265.9h0.8v0.8h-0.8zM360.8 315.7h0.8v0.8h-0.8zM384.5 284.1h0.8v0.8h-0.8zM411.8 300.1h0.8v0.8h-0.8zM386.1 272.4h0.8v0.8h-0.8zM425.4 273.8h0.8v0.8h-0.8zM400.7 277.3h0.8v0.8h-0.8zM429.5 296.0h0.8v0.8h-0.8zM386.0 289.9h0.8v0.8h-0.8zM364.9 289.3h0.8v0.8h-0.8zM388.4 265.4h0.8v0.8h-0.8zM404.5 313.2h0.8v0.8h-0.8zM386.8 294.9h0.8v0.8h-0.8zM361.1 272.8h0.8v0.8h-0.8zM353.5 278.0h0.8v0.8h-0.8zM423.9 266.6h0.8v0.8h-0.8zM389.1 256.3h0.8v0.8h-0.8zM415.6 291.0h0.8v0.8h-0.8zM399.3 263.4h0.8v0.8h-0.8zM410.3 260.1h0.8v0.8h-0.8zM412.4 262.5h0.8v0.8h-0.8zM391.5 280.6h0.8v0.8h-0.8zM388.7 258.9h0.8v0.8h-0.8zM407.4 277.9h0.8v0.8h-0.8zM402.0 255.5h0.8v0.8h-0.8zM412.7 255.0h0.8v0.8h-0.8zM366.4 323.1h0.8v0.8h-0.8zM390.2 288.3h0.8v0.8h-0.8zM426.7 267.3h0.8v0.8h-0.8zM363.7 310.1h0.8v0.8h-0.8zM407.8 253.1h0.8v0.8h-0.8zM388.7 273.7h0.8v0.8h-0.8zM402.7 313.5h0.8v0.8h-0.8zM426.9 291.5h0.8v0.8h-0.8zM433.6 276.4h0.8v0.8h-0.8zM372.4 327.4h0.8v0.8h-0.8zM408.5 262.2h0.8v0.8h-0.8zM428.2 277.2h0.8v0.8h-0.8zM420.9 295.2h0.8v0.8h-0.8zM386.6 314.8h0.8v0.8h-0.8zM434.6 278.3h0.8v0.8h-0.8zM396.0 301.2h0.8v0.8h-0.8zM405.8 255.6h0.8v0.8h-0.8zM410.7 283.0h0.8v0.8h-0.8zM390.8 257.7h0.8v0.8h-0.8zM390.2 266.6h0.8v0.8h-0.8zM347.6 291.6h0.8v0.8h-0.8zM344.7 304.2h0.8v0.8h-0.8zM371.4 305.0h0.8v0.8h-0.8zM423.8 281.6h0.8v0.8h-0.8zM420.4 263.9h0.8v0.8h-0.8zM410.9 302.4h0.8v0.8h-0.8zM384.4 264.5h0.8v0.8h-0.8zM380.1 296.9h0.8v0.8h-0.8zM382.6 258.7h0.8v0.8h-0.8zM414.7 301.9h0.8v0.8h-0.8zM406.7 277.0h0.8v0.8h-0.8zM394.8 297.1h0.8v0.8h-0.8zM420.2 264.2h0.8v0.8h-0.8zM370.8 278.3h0.8v0.8h-0.8zM416.5 260.5h0.8v0.8h-0.8zM387.2 263.5h0.8v0.8h-0.8zM406.6 257.7h0.8v0.8h-0.8zM348.8 306.3h0.8v0.8h-0.8zM395.1 286.9h0.8v0.8h-0.8zM410.3 301.7h0.8v0.8h-0.8zM423.9 278.4h0.8v0.8h-0.8zM398.2 276.4h0.8v0.8h-0.8zM420.1 295.4h0.8v0.8h-0.8zM422.3 257.7h0.8v0.8h-0.8zM419.4 276.7h0.8v0.8h-0.8zM391.6 268.5h0.8v0.8h-0.8zM432.0 283.1h0.8v0.8h-0.8zM427.0 289.6h0.8v0.8h-0.8zM417.7 255.6h0.8v0.8h-0.8zM407.4 284.5h0.8v0.8h-0.8zM428.3 272.2h0.8v0.8h-0.8zM427.4 269.1h0.8v0.8h-0.8zM431.4 288.3h0.8v0.8h-0.8zM423.3 296.2h0.8v0.8h-0.8zM399.8 298.8h0.8v0.8h-0.8zM393.8 288.7h0.8v0.8h-0.8zM421.6 290.0h0.8v0.8h-0.8zM388.7 266.2h0.8v0.8h-0.8zM419.0 279.7h0.8v0.8h-0.8zM417.4 261.4h0.8v0.8h-0.8zM385.2 268.2h0.8v0.8h-0.8zM406.3 297.7h0.8v0.8h-0.8zM404.9 284.2h0.8v0.8h-0.8zM408.8 291.7h0.8v0.8h-0.8zM362.0 316.7h0.8v0.8h-0.8zM390.0 279.2h0.8v0.8h-0.8zM395.6 310.3h0.8v0.8h-0.8zM386.6 276.8h0.8v0.8h-0.8zM358.9 321.6h0.8v0.8h-0.8zM399.1 302.9h0.8v0.8h-0.8zM419.2 290.5h0.8v0.8h-0.8zM387.5 274.9h0.8v0.8h-0.8zM413.3 298.0h0.8v0.8h-0.8zM397.5 306.3h0.8v0.8h-0.8zM412.2 263.3h0.8v0.8h-0.8zM424.2 301.4h0.8v0.8h-0.8zM388.8 320.3h0.8v0.8h-0.8zM409.4 309.5h0.8v0.8h-0.8zM417.6 295.6h0.8v0.8h-0.8zM418.8 256.7h0.8v0.8h-0.8zM395.8 257.5h0.8v0.8h-0.8zM398.8 267.4h0.8v0.8h-0.8zM399.7 312.7h0.8v0.8h-0.8zM390.4 264.8h0.8v0.8h-0.8zM417.8 290.6h0.8v0.8h-0.8zM413.2 272.1h0.8v0.8h-0.8zM379.4 314.0h0.8v0.8h-0.8zM412.9 289.6h0.8v0.8h-0.8zM376.8 315.6h0.8v0.8h-0.8zM417.3 263.4h0.8v0.8h-0.8zM425.5 280.0h0.8v0.8h-0.8zM385.2 314.3h0.8v0.8h-0.8zM419.9 259.3h0.8v0.8h-0.8zM371.3 286.9h0.8v0.8h-0.8zM397.0 291.6h0.8v0.8h-0.8zM395.4 288.1h0.8v0.8h-0.8zM367.9 326.0h0.8v0.8h-0.8zM430.1 281.5h0.8v0.8h-0.8zM429.5 284.8h0.8v0.8h-0.8zM388.3 256.2h0.8v0.8h-0.8zM407.2 280.5h0.8v0.8h-0.8zM418.9 292.4h0.8v0.8h-0.8zM385.2 262.1h0.8v0.8h-0.8zM403.8 266.1h0.8v0.8h-0.8zM398.6 287.6h0.8v0.8h-0.8zM401.5 317.2h0.8v0.8h-0.8zM401.2 313.6h0.8v0.8h-0.8zM421.6 294.7h0.8v0.8h-0.8zM412.7 253.6h0.8v0.8h-0.8zM426.5 275.9h0.8v0.8h-0.8zM385.7 302.5h0.8v0.8h-0.8zM407.9 255.7h0.8v0.8h-0.8zM377.3 297.6h0.8v0.8h-0.8zM396.6 277.0h0.8v0.8h-0.8zM416.5 260.7h0.8v0.8h-0.8zM427.9 294.6h0.8v0.8h-0.8zM424.4 276.9h0.8v0.8h-0.8zM353.5 293.4h0.8v0.8h-0.8zM360.4 273.6h0.8v0.8h-0.8zM404.0 295.0h0.8v0.8h-0.8zM410.1 301.8h0.8v0.8h-0.8zM434.3 290.2h0.8v0.8h-0.8zM409.9 272.8h0.8v0.8h-0.8zM399.8 294.1h0.8v0.8h-0.8zM402.6 299.2h0.8v0.8h-0.8zM379.1 294.1h0.8v0.8h-0.8zM394.4 277.9h0.8v0.8h-0.8zM433.0 291.7h0.8v0.8h-0.8zM408.3 298.2h0.8v0.8h-0.8zM375.9 292.9h0.8v0.8h-0.8zM416.7 264.5h0.8v0.8h-0.8zM359.6 289.6h0.8v0.8h-0.8zM409.2 285.8h0.8v0.8h-0.8zM349.3 304.5h0.8v0.8h-0.8zM414.6 291.4h0.8v0.8h-0.8zM398.0 261.1h0.8v0.8h-0.8zM407.1 257.8h0.8v0.8h-0.8zM394.0 267.1h0.8v0.8h-0.8zM420.2 303.2h0.8v0.8h-0.8zM368.1 307.8h0.8v0.8h-0.8zM398.3 257.5h0.8v0.8h-0.8zM409.7 292.4h0.8v0.8h-0.8zM393.2 268.4h0.8v0.8h-0.8zM401.4 297.7h0.8v0.8h-0.8zM356.3 284.8h0.8v0.8h-0.8zM368.5 305.9h0.8v0.8h-0.8zM400.0 253.0h0.8v0.8h-0.8zM375.1 262.5h0.8v0.8h-0.8zM406.4 261.3h0.8v0.8h-0.8zM409.1 266.3h0.8v0.8h-0.8zM419.1 301.0h0.8v0.8h-0.8zM409.3 288.7h0.8v0.8h-0.8zM426.5 290.4h0.8v0.8h-0.8zM368.9 292.9h0.8v0.8h-0.8zM422.0 287.4h0.8v0.8h-0.8zM412.2 256.7h0.8v0.8h-0.8zM398.7 264.9h0.8v0.8h-0.8zM419.0 293.8h0.8v0.8h-0.8zM393.8 265.7h0.8v0.8h-0.8zM392.6 277.8h0.8v0.8h-0.8zM434.1 287.3h0.8v0.8h-0.8zM418.4 282.3h0.8v0.8h-0.8zM355.0 296.9h0.8v0.8h-0.8zM356.7 276.4h0.8v0.8h-0.8zM432.7 288.6h0.8v0.8h-0.8zM422.5 275.2h0.8v0.8h-0.8zM394.0 305.2h0.8v0.8h-0.8zM388.8 275.7h0.8v0.8h-0.8zM362.1 279.4h0.8v0.8h-0.8zM405.1 271.7h0.8v0.8h-0.8zM410.3 313.1h0.8v0.8h-0.8zM410.9 256.5h0.8v0.8h-0.8zM416.9 261.9h0.8v0.8h-0.8zM415.5 270.3h0.8v0.8h-0.8zM377.9 261.7h0.8v0.8h-0.8zM422.5 295.5h0.8v0.8h-0.8zM412.4 304.5h0.8v0.8h-0.8zM411.6 290.8h0.8v0.8h-0.8zM393.5 286.8h0.8v0.8h-0.8zM400.3 308.0h0.8v0.8h-0.8zM430.3 297.8h0.8v0.8h-0.8zM412.4 262.4h0.8v0.8h-0.8zM404.6 303.8h0.8v0.8h-0.8zM429.4 295.5h0.8v0.8h-0.8zM419.9 305.3h0.8v0.8h-0.8zM369.2 316.7h0.8v0.8h-0.8zM424.3 295.5h0.8v0.8h-0.8zM426.6 301.0h0.8v0.8h-0.8zM392.4 277.9h0.8v0.8h-0.8zM416.8 307.6h0.8v0.8h-0.8zM403.1 269.8h0.8v0.8h-0.8zM393.5 263.0h0.8v0.8h-0.8zM380.2 282.9h0.8v0.8h-0.8zM422.5 291.6h0.8v0.8h-0.8zM377.5 316.8h0.8v0.8h-0.8zM381.2 264.6h0.8v0.8h-0.8zM416.5 260.7h0.8v0.8h-0.8zM384.0 321.8h0.8v0.8h-0.8zM386.0 265.9h0.8v0.8h-0.8zM396.3 309.8h0.8v0.8h-0.8zM390.8 265.4h0.8v0.8h-0.8zM401.2 272.9h0.8v0.8h-0.8zM389.0 302.6h0.8v0.8h-0.8zM350.5 302.0h0.8v0.8h-0.8zM420.6 287.9h0.8v0.8h-0.8zM426.4 286.8h0.8v0.8h-0.8zM387.4 257.4h0.8v0.8h-0.8zM394.5 281.4h0.8v0.8h-0.8zM433.4 281.6h0.8v0.8h-0.8zM353.1 280.1h0.8v0.8h-0.8zM396.9 257.6h0.8v0.8h-0.8zM372.9 317.0h0.8v0.8h-0.8zM362.4 326.2h0.8v0.8h-0.8zM352.1 315.3h0.8v0.8h-0.8zM356.0 303.4h0.8v0.8h-0.8zM394.5 322.0h0.8v0.8h-0.8zM401.5 297.7h0.8v0.8h-0.8zM427.9 288.5h0.8v0.8h-0.8zM429.9 284.7h0.8v0.8h-0.8zM405.2 290.3h0.8v0.8h-0.8zM367.8 322.3h0.8v0.8h-0.8zM410.5 253.8h0.8v0.8h-0.8zM375.3 270.2h0.8v0.8h-0.8zM416.0 272.1h0.8v0.8h-0.8zM386.3 273.0h0.8v0.8h-0.8zM421.0 292.9h0.8v0.8h-0.8zM384.1 304.5h0.8v0.8h-0.8zM414.8 257.3h0.8v0.8h-0.8zM425.2 270.1h0.8v0.8h-0.8zM400.8 264.8h0.8v0.8h-0.8zM414.7 269.1h0.8v0.8h-0.8zM392.3 269.7h0.8v0.8h-0.8zM386.5 258.4h0.8v0.8h-0.8zM349.9 310.1h0.8v0.8h-0.8zM345.8 288.8h0.8v0.8h-0.8zM358.1 306.1h0.8v0.8h-0.8zM391.0 304.8h0.8v0.8h-0.8zM402.2 266.3h0.8v0.8h-0.8zM422.1 296.0h0.8v0.8h-0.8zM394.2 269.7h0.8v0.8h-0.8zM432.3 279.2h0.8v0.8h-0.8zM371.2 290.4h0.8v0.8h-0.8zM400.3 268.1h0.8v0.8h-0.8zM397.8 287.4h0.8v0.8h-0.8zM401.9 313.4h0.8v0.8h-0.8zM368.8 315.4h0.8v0.8h-0.8zM409.5 267.5h0.8v0.8h-0.8zM403.3 290.1h0.8v0.8h-0.8zM414.9 259.4h0.8v0.8h-0.8zM379.6 326.5h0.8v0.8h-0.8zM413.1 258.5h0.8v0.8h-0.8zM389.7 270.4h0.8v0.8h-0.8zM376.2 288.0h0.8v0.8h-0.8zM399.1 290.8h0.8v0.8h-0.8zM366.5 309.0h0.8v0.8h-0.8zM382.1 304.6h0.8v0.8h-0.8zM412.5 273.1h0.8v0.8h-0.8zM416.7 305.5h0.8v0.8h-0.8zM383.1 259.2h0.8v0.8h-0.8zM402.3 282.2h0.8v0.8h-0.8zM381.9 304.2h0.8v0.8h-0.8zM425.5 280.7h0.8v0.8h-0.8zM405.1 267.5h0.8v0.8h-0.8zM420.1 273.2h0.8v0.8h-0.8zM429.5 288.4h0.8v0.8h-0.8zM352.8 278.1h0.8v0.8h-0.8zM413.7 305.4h0.8v0.8h-0.8zM391.5 277.0h0.8v0.8h-0.8zM407.4 277.8h0.8v0.8h-0.8zM369.8 310.2h0.8v0.8h-0.8zM391.7 257.6h0.8v0.8h-0.8zM420.0 268.8h0.8v0.8h-0.8zM430.5 290.3h0.8v0.8h-0.8zM398.5 286.5h0.8v0.8h-0.8zM408.5 315.8h0.8v0.8h-0.8zM397.2 300.8h0.8v0.8h-0.8zM367.4 292.5h0.8v0.8h-0.8zM351.2 317.6h0.8v0.8h-0.8zM401.9 308.5h0.8v0.8h-0.8zM397.2 253.8h0.8v0.8h-0.8zM376.6 318.0h0.8v0.8h-0.8zM426.1 267.6h0.8v0.8h-0.8zM401.8 288.9h0.8v0.8h-0.8zM430.7 291.6h0.8v0.8h-0.8zM398.4 270.4h0.8v0.8h-0.8zM380.5 294.8h0.8v0.8h-0.8zM377.7 273.3h0.8v0.8h-0.8zM390.1 276.5h0.8v0.8h-0.8zM352.7 301.4h0.8v0.8h-0.8zM398.6 266.7h0.8v0.8h-0.8zM433.3 283.0h0.8v0.8h-0.8zM406.2 261.7h0.8v0.8h-0.8zM383.2 273.3h0.8v0.8h-0.8zM407.7 280.1h0.8v0.8h-0.8zM389.3 303.3h0.8v0.8h-0.8zM406.1 276.5h0.8v0.8h-0.8zM434.5 278.4h0.8v0.8h-0.8zM422.6 281.2h0.8v0.8h-0.8zM399.5 273.2h0.8v0.8h-0.8zM402.6 294.3h0.8v0.8h-0.8zM411.7 267.6h0.8v0.8h-0.8zM432.9 277.4h0.8v0.8h-0.8zM355.7 288.3h0.8v0.8h-0.8zM377.7 272.2h0.8v0.8h-0.8zM389.7 262.6h0.8v0.8h-0.8zM396.4 266.3h0.8v0.8h-0.8zM366.5 312.5h0.8v0.8h-0.8zM364.5 307.4h0.8v0.8h-0.8zM430.3 268.6h0.8v0.8h-0.8zM406.9 295.6h0.8v0.8h-0.8zM396.9 302.3h0.8v0.8h-0.8zM377.1 261.2h0.8v0.8h-0.8zM420.6 267.6h0.8v0.8h-0.8zM400.6 256.2h0.8v0.8h-0.8zM403.8 281.1h0.8v0.8h-0.8zM418.3 284.3h0.8v0.8h-0.8zM399.7 265.0h0.8v0.8h-0.8zM402.0 258.8h0.8v0.8h-0.8zM428.0 297.9h0.8v0.8h-0.8zM404.7 254.5h0.8v0.8h-0.8zM403.2 254.8h0.8v0.8h-0.8zM367.9 283.0h0.8v0.8h-0.8zM351.1 310.0h0.8v0.8h-0.8zM372.1 283.5h0.8v0.8h-0.8zM405.8 265.1h0.8v0.8h-0.8zM387.9 258.1h0.8v0.8h-0.8zM404.3 273.7h0.8v0.8h-0.8zM404.2 304.9h0.8v0.8h-0.8zM400.1 263.3h0.8v0.8h-0.8zM390.4 290.3h0.8v0.8h-0.8zM399.6 269.0h0.8v0.8h-0.8zM409.4 257.9h0.8v0.8h-0.8zM390.5 265.4h0.8v0.8h-0.8zM429.3 282.3h0.8v0.8h-0.8zM410.6 261.2h0.8v0.8h-0.8zM409.2 290.5h0.8v0.8h-0.8zM409.4 274.5h0.8v0.8h-0.8zM377.7 292.2h0.8v0.8h-0.8zM397.2 261.2h0.8v0.8h-0.8zM417.0 301.1h0.8v0.8h-0.8zM415.7 302.3h0.8v0.8h-0.8zM433.0 283.8h0.8v0.8h-0.8zM343.4 301.3h0.8v0.8h-0.8zM408.5 256.9h0.8v0.8h-0.8zM378.1 310.9h0.8v0.8h-0.8zM386.4 260.8h0.8v0.8h-0.8zM392.1 257.0h0.8v0.8h-0.8zM419.3 260.0h0.8v0.8h-0.8zM384.1 266.2h0.8v0.8h-0.8zM406.4 271.3h0.8v0.8h-0.8zM419.9 297.3h0.8v0.8h-0.8zM429.6 286.1h0.8v0.8h-0.8zM408.9 275.8h0.8v0.8h-0.8zM410.5 253.6h0.8v0.8h-0.8zM402.2 313.5h0.8v0.8h-0.8zM405.7 308.3h0.8v0.8h-0.8zM428.0 280.1h0.8v0.8h-0.8zM404.7 276.9h0.8v0.8h-0.8zM407.6 300.3h0.8v0.8h-0.8zM352.4 293.5h0.8v0.8h-0.8zM376.9 261.8h0.8v0.8h-0.8zM402.2 253.0h0.8v0.8h-0.8zM434.3 283.8h0.8v0.8h-0.8zM345.5 285.9h0.8v0.8h-0.8zM395.6 317.2h0.8v0.8h-0.8zM420.5 260.9h0.8v0.8h-0.8zM396.1 304.5h0.8v0.8h-0.8zM420.1 307.2h0.8v0.8h-0.8zM394.5 319.1h0.8v0.8h-0.8zM389.6 291.1h0.8v0.8h-0.8zM428.3 298.9h0.8v0.8h-0.8zM427.6 275.7h0.8v0.8h-0.8zM426.8 262.1h0.8v0.8h-0.8zM412.2 263.3h0.8v0.8h-0.8zM430.6 295.2h0.8v0.8h-0.8zM411.2 305.0h0.8v0.8h-0.8zM407.0 291.0h0.8v0.8h-0.8zM418.5 299.5h0.8v0.8h-0.8zM379.2 308.8h0.8v0.8h-0.8zM379.3 288.3h0.8v0.8h-0.8zM394.4 282.0h0.8v0.8h-0.8zM387.1 272.7h0.8v0.8h-0.8zM373.2 267.2h0.8v0.8h-0.8zM426.0 267.8h0.8v0.8h-0.8zM416.0 292.6h0.8v0.8h-0.8zM396.7 273.0h0.8v0.8h-0.8zM418.9 307.1h0.8v0.8h-0.8zM403.2 292.9h0.8v0.8h-0.8zM411.5 282.0h0.8v0.8h-0.8zM365.1 312.3h0.8v0.8h-0.8zM405.2 301.7h0.8v0.8h-0.8zM429.3 299.0h0.8v0.8h-0.8zM410.5 271.4h0.8v0.8h-0.8zM400.9 264.8h0.8v0.8h-0.8zM386.2 325.0h0.8v0.8h-0.8zM376.3 293.4h0.8v0.8h-0.8zM410.5 314.6h0.8v0.8h-0.8zM433.0 289.6h0.8v0.8h-0.8zM422.5 276.6h0.8v0.8h-0.8zM409.0 293.3h0.8v0.8h-0.8zM395.5 302.5h0.8v0.8h-0.8zM422.6 265.0h0.8v0.8h-0.8zM419.2 265.6h0.8v0.8h-0.8zM430.7 295.2h0.8v0.8h-0.8zM404.3 290.7h0.8v0.8h-0.8zM393.3 300.0h0.8v0.8h-0.8zM429.6 286.5h0.8v0.8h-0.8zM375.7 308.7h0.8v0.8h-0.8zM403.2 290.1h0.8v0.8h-0.8zM405.4 308.6h0.8v0.8h-0.8zM390.8 318.2h0.8v0.8h-0.8zM352.8 303.9h0.8v0.8h-0.8zM405.7 301.2h0.8v0.8h-0.8zM420.3 305.5h0.8v0.8h-0.8zM424.7 263.3h0.8v0.8h-0.8zM391.6 320.6h0.8v0.8h-0.8zM386.2 257.3h0.8v0.8h-0.8zM395.3 263.3h0.8v0.8h-0.8zM368.0 271.7h0.8v0.8h-0.8zM417.8 277.2h0.8v0.8h-0.8zM421.4 270.1h0.8v0.8h-0.8zM421.7 259.3h0.8v0.8h-0.8zM400.6 258.4h0.8v0.8h-0.8zM354.1 296.1h0.8v0.8h-0.8zM363.6 286.2h0.8v0.8h-0.8zM386.8 296.0h0.8v0.8h-0.8zM390.0 260.9h0.8v0.8h-0.8zM411.8 304.7h0.8v0.8h-0.8zM357.5 302.6h0.8v0.8h-0.8zM403.7 255.6h0.8v0.8h-0.8zM408.9 256.3h0.8v0.8h-0.8zM409.5 307.9h0.8v0.8h-0.8zM375.1 269.9h0.8v0.8h-0.8zM410.2 274.4h0.8v0.8h-0.8zM403.3 277.8h0.8v0.8h-0.8zM392.5 254.8h0.8v0.8h-0.8zM412.6 297.3h0.8v0.8h-0.8zM406.2 310.6h0.8v0.8h-0.8zM406.1 256.3h0.8v0.8h-0.8zM412.8 299.2h0.8v0.8h-0.8zM424.0 302.1h0.8v0.8h-0.8zM371.0 290.5h0.8v0.8h-0.8zM426.4 287.1h0.8v0.8h-0.8zM404.0 284.6h0.8v0.8h-0.8zM356.5 308.1h0.8v0.8h-0.8zM379.3 298.4h0.8v0.8h-0.8zM350.1 297.9h0.8v0.8h-0.8zM390.4 278.8h0.8v0.8h-0.8zM430.1 290.5h0.8v0.8h-0.8zM413.0 306.4h0.8v0.8h-0.8zM412.4 304.6h0.8v0.8h-0.8zM404.6 274.1h0.8v0.8h-0.8zM427.8 276.0h0.8v0.8h-0.8zM379.6 264.4h0.8v0.8h-0.8zM387.9 272.9h0.8v0.8h-0.8zM391.1 321.0h0.8v0.8h-0.8zM402.6 279.5h0.8v0.8h-0.8zM427.2 274.0h0.8v0.8h-0.8zM384.3 287.4h0.8v0.8h-0.8zM415.2 306.7h0.8v0.8h-0.8zM429.0 284.3h0.8v0.8h-0.8zM399.3 290.5h0.8v0.8h-0.8zM413.4 300.5h0.8v0.8h-0.8zM412.9 290.0h0.8v0.8h-0.8zM424.8 299.5h0.8v0.8h-0.8zM395.2 312.3h0.8v0.8h-0.8zM390.3 300.1h0.8v0.8h-0.8zM379.3 269.9h0.8v0.8h-0.8zM411.2 300.8h0.8v0.8h-0.8zM407.0 297.5h0.8v0.8h-0.8zM387.4 314.1h0.8v0.8h-0.8zM414.6 309.3h0.8v0.8h-0.8zM418.3 268.4h0.8v0.8h-0.8zM348.1 281.7h0.8v0.8h-0.8zM419.3 273.1h0.8v0.8h-0.8zM407.8 308.5h0.8v0.8h-0.8zM398.0 291.0h0.8v0.8h-0.8zM352.9 284.4h0.8v0.8h-0.8zM407.7 273.1h0.8v0.8h-0.8zM379.0 303.2h0.8v0.8h-0.8zM388.6 286.7h0.8v0.8h-0.8zM423.6 292.4h0.8v0.8h-0.8zM388.9 274.3h0.8v0.8h-0.8zM417.7 307.0h0.8v0.8h-0.8zM402.2 266.4h0.8v0.8h-0.8zM355.8 284.8h0.8v0.8h-0.8zM401.3 302.1h0.8v0.8h-0.8zM410.0 281.7h0.8v0.8h-0.8zM379.9 297.7h0.8v0.8h-0.8zM409.3 256.2h0.8v0.8h-0.8zM420.4 304.7h0.8v0.8h-0.8zM371.5 291.5h0.8v0.8h-0.8zM430.4 290.8h0.8v0.8h-0.8zM405.1 296.3h0.8v0.8h-0.8zM383.9 283.9h0.8v0.8h-0.8zM398.4 318.2h0.8v0.8h-0.8zM412.6 302.6h0.8v0.8h-0.8zM413.0 287.3h0.8v0.8h-0.8zM418.7 307.2h0.8v0.8h-0.8zM353.8 292.6h0.8v0.8h-0.8zM373.6 294.3h0.8v0.8h-0.8zM376.0 264.3h0.8v0.8h-0.8zM414.6 275.3h0.8v0.8h-0.8zM398.8 258.6h0.8v0.8h-0.8zM427.2 297.9h0.8v0.8h-0.8zM404.8 253.0h0.8v0.8h-0.8zM432.3 277.9h0.8v0.8h-0.8zM426.6 272.9h0.8v0.8h-0.8zM430.1 298.0h0.8v0.8h-0.8zM402.8 278.3h0.8v0.8h-0.8zM409.2 278.3h0.8v0.8h-0.8zM386.7 283.9h0.8v0.8h-0.8zM390.1 262.0h0.8v0.8h-0.8zM357.3 323.9h0.8v0.8h-0.8zM411.7 313.0h0.8v0.8h-0.8zM387.5 259.9h0.8v0.8h-0.8zM423.7 286.1h0.8v0.8h-0.8zM393.1 261.9h0.8v0.8h-0.8zM410.3 281.7h0.8v0.8h-0.8zM410.2 314.4h0.8v0.8h-0.8zM396.0 270.2h0.8v0.8h-0.8zM404.7 295.1h0.8v0.8h-0.8zM386.2 262.2h0.8v0.8h-0.8zM410.4 298.3h0.8v0.8h-0.8zM371.1 295.6h0.8v0.8h-0.8zM405.6 263.2h0.8v0.8h-0.8zM419.9 295.1h0.8v0.8h-0.8zM359.0 317.5h0.8v0.8h-0.8zM428.7 295.3h0.8v0.8h-0.8zM434.6 281.8h0.8v0.8h-0.8zM422.2 290.9h0.8v0.8h-0.8zM379.3 260.2h0.8v0.8h-0.8zM428.4 298.4h0.8v0.8h-0.8zM407.3 284.1h0.8v0.8h-0.8zM417.8 305.8h0.8v0.8h-0.8zM381.4 276.3h0.8v0.8h-0.8zM432.6 277.4h0.8v0.8h-0.8zM401.6 276.7h0.8v0.8h-0.8zM413.0 277.2h0.8v0.8h-0.8zM386.8 258.2h0.8v0.8h-0.8zM407.3 261.0h0.8v0.8h-0.8zM361.9 269.6h0.8v0.8h-0.8zM381.8 278.2h0.8v0.8h-0.8zM425.8 296.8h0.8v0.8h-0.8zM410.9 271.1h0.8v0.8h-0.8zM410.3 272.4h0.8v0.8h-0.8zM387.0 273.4h0.8v0.8h-0.8zM368.6 278.6h0.8v0.8h-0.8zM343.2 300.3h0.8v0.8h-0.8zM378.3 294.4h0.8v0.8h-0.8zM380.5 317.9h0.8v0.8h-0.8zM390.9 257.7h0.8v0.8h-0.8zM426.0 302.2h0.8v0.8h-0.8zM423.4 289.2h0.8v0.8h-0.8zM425.5 275.3h0.8v0.8h-0.8zM412.5 268.8h0.8v0.8h-0.8zM415.6 278.1h0.8v0.8h-0.8zM399.9 270.0h0.8v0.8h-0.8zM390.0 318.6h0.8v0.8h-0.8zM382.0 258.3h0.8v0.8h-0.8zM378.9 307.8h0.8v0.8h-0.8zM421.4 271.0h0.8v0.8h-0.8zM375.9 277.6h0.8v0.8h-0.8zM356.9 312.9h0.8v0.8h-0.8zM408.8 276.2h0.8v0.8h-0.8zM426.8 276.3h0.8v0.8h-0.8zM362.4 275.5h0.8v0.8h-0.8zM398.2 279.9h0.8v0.8h-0.8zM426.4 261.5h0.8v0.8h-0.8zM403.8 268.2h0.8v0.8h-0.8zM426.5 267.2h0.8v0.8h-0.8zM398.3 265.0h0.8v0.8h-0.8zM405.7 311.2h0.8v0.8h-0.8zM406.8 315.1h0.8v0.8h-0.8zM405.4 253.4h0.8v0.8h-0.8zM402.4 278.3h0.8v0.8h-0.8zM425.8 291.9h0.8v0.8h-0.8zM417.4 255.2h0.8v0.8h-0.8zM361.8 301.3h0.8v0.8h-0.8zM399.8 262.5h0.8v0.8h-0.8zM397.2 289.3h0.8v0.8h-0.8zM385.3 263.9h0.8v0.8h-0.8zM356.0 313.8h0.8v0.8h-0.8zM415.0 262.3h0.8v0.8h-0.8zM396.0 307.1h0.8v0.8h-0.8zM428.8 278.6h0.8v0.8h-0.8zM401.9 261.6h0.8v0.8h-0.8zM356.8 277.0h0.8v0.8h-0.8zM400.0 281.0h0.8v0.8h-0.8zM435.3 285.1h0.8v0.8h-0.8zM429.3 292.8h0.8v0.8h-0.8zM388.7 303.5h0.8v0.8h-0.8zM367.5 296.8h0.8v0.8h-0.8zM420.2 300.7h0.8v0.8h-0.8zM393.3 287.4h0.8v0.8h-0.8zM376.2 288.7h0.8v0.8h-0.8zM430.8 293.4h0.8v0.8h-0.8zM422.8 262.3h0.8v0.8h-0.8zM421.7 273.4h0.8v0.8h-0.8zM399.4 269.1h0.8v0.8h-0.8zM432.0 271.5h0.8v0.8h-0.8zM349.9 310.1h0.8v0.8h-0.8zM416.7 292.5h0.8v0.8h-0.8zM417.7 255.2h0.8v0.8h-0.8zM416.7 281.5h0.8v0.8h-0.8zM428.2 281.9h0.8v0.8h-0.8zM410.7 309.0h0.8v0.8h-0.8zM398.5 275.6h0.8v0.8h-0.8zM412.7 292.2h0.8v0.8h-0.8zM391.1 312.6h0.8v0.8h-0.8zM406.7 287.8h0.8v0.8h-0.8zM349.4 304.2h0.8v0.8h-0.8zM403.9 286.8h0.8v0.8h-0.8zM370.8 292.6h0.8v0.8h-0.8zM429.6 275.6h0.8v0.8h-0.8zM358.9 295.8h0.8v0.8h-0.8zM368.1 291.2h0.8v0.8h-0.8zM396.8 275.4h0.8v0.8h-0.8zM418.9 303.2h0.8v0.8h-0.8zM397.9 278.6h0.8v0.8h-0.8zM387.0 316.6h0.8v0.8h-0.8zM382.1 264.6h0.8v0.8h-0.8zM395.6 270.8h0.8v0.8h-0.8zM415.6 306.2h0.8v0.8h-0.8zM396.8 284.4h0.8v0.8h-0.8zM409.2 265.8h0.8v0.8h-0.8zM430.8 282.7h0.8v0.8h-0.8zM348.6 310.4h0.8v0.8h-0.8zM378.7 278.9h0.8v0.8h-0.8zM388.2 267.2h0.8v0.8h-0.8zM409.4 310.3h0.8v0.8h-0.8zM344.5 292.4h0.8v0.8h-0.8zM359.4 271.5h0.8v0.8h-0.8zM419.7 257.7h0.8v0.8h-0.8zM425.1 269.5h0.8v0.8h-0.8zM420.2 287.2h0.8v0.8h-0.8zM406.9 284.3h0.8v0.8h-0.8zM385.4 280.1h0.8v0.8h-0.8zM404.0 300.7h0.8v0.8h-0.8zM400.9 295.7h0.8v0.8h-0.8zM425.5 275.0h0.8v0.8h-0.8zM390.0 276.7h0.8v0.8h-0.8zM394.3 297.0h0.8v0.8h-0.8zM427.4 268.6h0.8v0.8h-0.8zM384.7 260.3h0.8v0.8h-0.8zM372.3 282.4h0.8v0.8h-0.8zM387.4 319.7h0.8v0.8h-0.8zM413.0 286.9h0.8v0.8h-0.8zM401.2 304.4h0.8v0.8h-0.8zM359.4 310.3h0.8v0.8h-0.8zM381.4 273.3h0.8v0.8h-0.8zM399.5 290.3h0.8v0.8h-0.8zM404.7 252.8h0.8v0.8h-0.8zM386.8 294.2h0.8v0.8h-0.8zM390.6 314.3h0.8v0.8h-0.8zM425.3 264.5h0.8v0.8h-0.8zM419.3 258.5h0.8v0.8h-0.8zM400.7 273.8h0.8v0.8h-0.8zM389.4 255.5h0.8v0.8h-0.8zM410.9 313.1h0.8v0.8h-0.8zM394.5 285.3h0.8v0.8h-0.8zM396.2 283.5h0.8v0.8h-0.8zM411.1 300.0h0.8v0.8h-0.8zM364.2 279.5h0.8v0.8h-0.8zM397.4 293.5h0.8v0.8h-0.8zM358.7 299.9h0.8v0.8h-0.8zM404.5 276.0h0.8v0.8h-0.8zM363.7 296.0h0.8v0.8h-0.8zM403.3 299.1h0.8v0.8h-0.8zM408.1 314.4h0.8v0.8h-0.8zM368.1 308.0h0.8v0.8h-0.8zM408.0 314.0h0.8v0.8h-0.8zM364.8 268.5h0.8v0.8h-0.8zM431.6 285.0h0.8v0.8h-0.8zM416.3 291.0h0.8v0.8h-0.8zM425.5 289.0h0.8v0.8h-0.8zM413.5 294.9h0.8v0.8h-0.8zM348.9 307.8h0.8v0.8h-0.8zM403.2 281.9h0.8v0.8h-0.8zM397.9 314.4h0.8v0.8h-0.8zM392.8 260.4h0.8v0.8h-0.8zM400.5 277.9h0.8v0.8h-0.8zM424.1 281.6h0.8v0.8h-0.8zM423.4 285.7h0.8v0.8h-0.8zM414.0 264.9h0.8v0.8h-0.8zM389.3 267.7h0.8v0.8h-0.8zM421.1 301.1h0.8v0.8h-0.8zM423.9 299.0h0.8v0.8h-0.8zM358.6 319.9h0.8v0.8h-0.8zM433.3 279.3h0.8v0.8h-0.8zM404.8 300.3h0.8v0.8h-0.8zM394.3 255.4h0.8v0.8h-0.8zM414.2 254.7h0.8v0.8h-0.8zM400.8 302.5h0.8v0.8h-0.8zM413.3 271.8h0.8v0.8h-0.8zM427.0 272.5h0.8v0.8h-0.8zM397.1 256.1h0.8v0.8h-0.8zM398.7 283.5h0.8v0.8h-0.8zM431.7 294.3h0.8v0.8h-0.8zM421.3 287.1h0.8v0.8h-0.8zM393.7 258.6h0.8v0.8h-0.8zM405.2 296.4h0.8v0.8h-0.8zM431.4 289.6h0.8v0.8h-0.8zM417.8 307.1h0.8v0.8h-0.8zM403.5 304.7h0.8v0.8h-0.8zM417.9 261.6h0.8v0.8h-0.8zM401.9 278.7h0.8v0.8h-0.8zM423.7 271.1h0.8v0.8h-0.8zM394.7 262.5h0.8v0.8h-0.8zM378.4 263.6h0.8v0.8h-0.8zM408.6 259.9h0.8v0.8h-0.8zM432.4 290.2h0.8v0.8h-0.8zM391.7 306.1h0.8v0.8h-0.8zM392.7 272.6h0.8v0.8h-0.8zM407.3 262.4h0.8v0.8h-0.8zM349.4 291.7h0.8v0.8h-0.8zM404.2 268.5h0.8v0.8h-0.8zM384.2 262.6h0.8v0.8h-0.8zM425.6 275.3h0.8v0.8h-0.8zM399.2 290.4h0.8v0.8h-0.8zM417.0 266.8h0.8v0.8h-0.8zM414.7 299.9h0.8v0.8h-0.8zM413.6 308.3h0.8v0.8h-0.8zM404.7 267.4h0.8v0.8h-0.8zM412.9 305.7h0.8v0.8h-0.8zM414.7 282.7h0.8v0.8h-0.8zM361.7 311.6h0.8v0.8h-0.8zM391.2 274.5h0.8v0.8h-0.8zM417.0 257.7h0.8v0.8h-0.8zM411.3 278.3h0.8v0.8h-0.8zM427.1 282.0h0.8v0.8h-0.8zM419.3 308.8h0.8v0.8h-0.8zM414.8 284.1h0.8v0.8h-0.8zM415.5 309.8h0.8v0.8h-0.8zM373.2 294.4h0.8v0.8h-0.8zM408.7 306.5h0.8v0.8h-0.8zM384.0 283.9h0.8v0.8h-0.8zM414.9 273.0h0.8v0.8h-0.8zM408.6 315.5h0.8v0.8h-0.8zM363.1 314.9h0.8v0.8h-0.8zM380.1 316.5h0.8v0.8h-0.8zM409.5 263.7h0.8v0.8h-0.8zM408.0 270.5h0.8v0.8h-0.8zM413.3 304.9h0.8v0.8h-0.8zM401.9 298.6h0.8v0.8h-0.8zM416.3 300.7h0.8v0.8h-0.8zM377.8 302.8h0.8v0.8h-0.8zM370.4 289.9h0.8v0.8h-0.8zM413.7 295.1h0.8v0.8h-0.8zM378.5 284.8h0.8v0.8h-0.8zM397.1 291.0h0.8v0.8h-0.8zM387.9 296.7h0.8v0.8h-0.8zM409.0 279.4h0.8v0.8h-0.8zM359.8 310.3h0.8v0.8h-0.8zM401.1 301.8h0.8v0.8h-0.8zM381.4 303.4h0.8v0.8h-0.8zM396.5 257.4h0.8v0.8h-0.8zM411.5 292.1h0.8v0.8h-0.8zM365.9 284.2h0.8v0.8h-0.8zM410.1 266.1h0.8v0.8h-0.8zM378.6 261.9h0.8v0.8h-0.8zM421.9 277.0h0.8v0.8h-0.8zM427.3 298.5h0.8v0.8h-0.8zM381.1 296.3h0.8v0.8h-0.8zM355.9 285.1h0.8v0.8h-0.8zM405.3 285.2h0.8v0.8h-0.8zM358.3 316.4h0.8v0.8h-0.8zM362.7 308.3h0.8v0.8h-0.8zM410.1 302.6h0.8v0.8h-0.8zM425.6 266.5h0.8v0.8h-0.8zM390.0 263.8h0.8v0.8h-0.8zM363.3 314.8h0.8v0.8h-0.8zM420.5 293.7h0.8v0.8h-0.8zM397.8 273.1h0.8v0.8h-0.8zM387.2 263.0h0.8v0.8h-0.8zM428.0 271.8h0.8v0.8h-0.8zM389.4 261.4h0.8v0.8h-0.8zM403.4 264.1h0.8v0.8h-0.8zM387.5 274.7h0.8v0.8h-0.8zM362.3 285.6h0.8v0.8h-0.8zM419.5 273.7h0.8v0.8h-0.8zM422.6 282.3h0.8v0.8h-0.8zM402.7 262.8h0.8v0.8h-0.8zM405.5 297.3h0.8v0.8h-0.8zM399.7 266.4h0.8v0.8h-0.8zM373.3 326.9h0.8v0.8h-0.8zM418.4 263.3h0.8v0.8h-0.8zM415.2 296.1h0.8v0.8h-0.8zM415.1 293.8h0.8v0.8h-0.8zM411.3 311.1h0.8v0.8h-0.8zM427.3 297.3h0.8v0.8h-0.8zM375.8 256.5h0.8v0.8h-0.8zM351.3 270.4h0.8v0.8h-0.8zM350.4 270.1h0.8v0.8h-0.8zM367.1 257.2h0.8v0.8h-0.8zM344.4 269.2h0.8v0.8h-0.8zM361.6 260.3h0.8v0.8h-0.8zM374.3 255.9h0.8v0.8h-0.8zM366.9 260.0h0.8v0.8h-0.8zM364.0 260.2h0.8v0.8h-0.8zM350.5 266.0h0.8v0.8h-0.8zM361.6 263.6h0.8v0.8h-0.8zM363.1 265.0h0.8v0.8h-0.8zM368.2 261.4h0.8v0.8h-0.8zM344.4 274.1h0.8v0.8h-0.8zM342.2 269.6h0.8v0.8h-0.8zM360.9 262.7h0.8v0.8h-0.8zM360.9 262.6h0.8v0.8h-0.8zM358.9 264.7h0.8v0.8h-0.8zM350.2 264.8h0.8v0.8h-0.8zM381.5 255.6h0.8v0.8h-0.8zM344.3 272.0h0.8v0.8h-0.8zM377.4 254.4h0.8v0.8h-0.8zM373.5 256.5h0.8v0.8h-0.8zM360.7 265.3h0.8v0.8h-0.8zM380.4 251.8h0.8v0.8h-0.8zM341.6 271.2h0.8v0.8h-0.8zM379.4 257.7h0.8v0.8h-0.8zM355.5 262.6h0.8v0.8h-0.8zM376.8 257.5h0.8v0.8h-0.8zM373.8 253.8h0.8v0.8h-0.8zM341.9 273.0h0.8v0.8h-0.8zM363.6 261.4h0.8v0.8h-0.8zM365.9 262.8h0.8v0.8h-0.8zM364.4 262.5h0.8v0.8h-0.8zM357.8 262.8h0.8v0.8h-0.8zM376.4 254.0h0.8v0.8h-0.8zM350.3 270.9h0.8v0.8h-0.8zM352.8 267.0h0.8v0.8h-0.8zM381.3 254.5h0.8v0.8h-0.8zM348.1 268.9h0.8v0.8h-0.8zM361.9 264.1h0.8v0.8h-0.8zM371.9 257.0h0.8v0.8h-0.8zM345.1 273.7h0.8v0.8h-0.8zM367.9 258.1h0.8v0.8h-0.8zM381.1 255.0h0.8v0.8h-0.8zM350.0 270.7h0.8v0.8h-0.8zM364.5 258.4h0.8v0.8h-0.8zM369.9 256.2h0.8v0.8h-0.8zM374.7 255.3h0.8v0.8h-0.8zM344.3 274.5h0.8v0.8h-0.8zM373.6 257.4h0.8v0.8h-0.8zM380.3 254.1h0.8v0.8h-0.8zM357.8 263.9h0.8v0.8h-0.8zM340.9 269.7h0.8v0.8h-0.8zM354.6 266.5h0.8v0.8h-0.8zM371.5 261.2h0.8v0.8h-0.8zM352.4 265.7h0.8v0.8h-0.8zM377.7 256.2h0.8v0.8h-0.8zM344.9 270.9h0.8v0.8h-0.8zM368.7 260.4h0.8v0.8h-0.8zM352.3 266.3h0.8v0.8h-0.8zM362.8 261.5h0.8v0.8h-0.8zM342.9 271.2h0.8v0.8h-0.8zM343.7 272.9h0.8v0.8h-0.8zM350.7 268.8h0.8v0.8h-0.8zM359.4 266.7h0.8v0.8h-0.8zM372.6 258.0h0.8v0.8h-0.8zM361.2 261.3h0.8v0.8h-0.8zM356.4 268.4h0.8v0.8h-0.8zM354.2 264.4h0.8v0.8h-0.8zM369.6 262.4h0.8v0.8h-0.8zM368.0 259.0h0.8v0.8h-0.8zM379.6 252.2h0.8v0.8h-0.8zM376.8 255.0h0.8v0.8h-0.8zM376.3 253.2h0.8v0.8h-0.8zM376.8 258.0h0.8v0.8h-0.8zM368.8 260.6h0.8v0.8h-0.8zM346.2 269.4h0.8v0.8h-0.8zM347.5 270.2h0.8v0.8h-0.8zM341.1 271.3h0.8v0.8h-0.8zM358.0 263.1h0.8v0.8h-0.8zM353.1 270.1h0.8v0.8h-0.8zM355.0 268.0h0.8v0.8h-0.8zM352.0 270.4h0.8v0.8h-0.8zM369.7 258.4h0.8v0.8h-0.8zM369.9 258.2h0.8v0.8h-0.8zM377.3 253.1h0.8v0.8h-0.8zM353.7 266.7h0.8v0.8h-0.8zM356.0 267.8h0.8v0.8h-0.8zM345.2 273.7h0.8v0.8h-0.8zM381.1 252.8h0.8v0.8h-0.8zM352.3 269.7h0.8v0.8h-0.8zM355.6 267.9h0.8v0.8h-0.8zM366.9 258.2h0.8v0.8h-0.8zM359.5 263.5h0.8v0.8h-0.8zM359.0 265.7h0.8v0.8h-0.8zM353.4 267.0h0.8v0.8h-0.8zM343.2 270.1h0.8v0.8h-0.8zM358.1 263.5h0.8v0.8h-0.8zM353.7 265.6h0.8v0.8h-0.8zM355.7 268.7h0.8v0.8h-0.8zM373.1 257.0h0.8v0.8h-0.8zM351.8 267.7h0.8v0.8h-0.8zM359.8 266.2h0.8v0.8h-0.8zM349.9 265.5h0.8v0.8h-0.8zM356.1 263.3h0.8v0.8h-0.8zM355.7 267.6h0.8v0.8h-0.8zM364.1 262.7h0.8v0.8h-0.8zM437.7 310.4h0.8v0.8h-0.8zM398.8 329.3h0.8v0.8h-0.8zM399.6 325.8h0.8v0.8h-0.8zM415.9 316.0h0.8v0.8h-0.8zM420.2 316.8h0.8v0.8h-0.8zM404.9 324.8h0.8v0.8h-0.8zM417.5 316.5h0.8v0.8h-0.8zM400.1 326.5h0.8v0.8h-0.8zM430.0 310.0h0.8v0.8h-0.8zM401.1 321.1h0.8v0.8h-0.8zM424.9 309.8h0.8v0.8h-0.8zM398.0 325.5h0.8v0.8h-0.8zM406.5 319.8h0.8v0.8h-0.8zM402.7 325.1h0.8v0.8h-0.8zM401.9 321.9h0.8v0.8h-0.8zM413.0 318.2h0.8v0.8h-0.8zM398.6 324.6h0.8v0.8h-0.8zM413.9 317.2h0.8v0.8h-0.8zM419.3 313.3h0.8v0.8h-0.8zM409.4 317.5h0.8v0.8h-0.8zM434.3 305.6h0.8v0.8h-0.8zM425.6 312.3h0.8v0.8h-0.8zM433.9 308.7h0.8v0.8h-0.8zM436.6 310.2h0.8v0.8h-0.8zM423.8 312.9h0.8v0.8h-0.8zM407.9 321.1h0.8v0.8h-0.8zM405.3 320.0h0.8v0.8h-0.8zM437.2 309.0h0.8v0.8h-0.8zM432.7 306.6h0.8v0.8h-0.8zM409.4 322.7h0.8v0.8h-0.8zM430.5 310.9h0.8v0.8h-0.8zM396.4 324.1h0.8v0.8h-0.8zM398.2 323.2h0.8v0.8h-0.8zM427.3 312.0h0.8v0.8h-0.8zM426.4 311.2h0.8v0.8h-0.8zM416.2 318.9h0.8v0.8h-0.8zM423.0 313.4h0.8v0.8h-0.8zM427.2 314.9h0.8v0.8h-0.8zM435.0 306.6h0.8v0.8h-0.8zM409.0 322.6h0.8v0.8h-0.8zM410.0 323.6h0.8v0.8h-0.8zM416.7 319.5h0.8v0.8h-0.8zM435.1 306.1h0.8v0.8h-0.8zM408.0 321.8h0.8v0.8h-0.8zM399.0 326.6h0.8v0.8h-0.8zM415.1 315.5h0.8v0.8h-0.8zM425.1 311.8h0.8v0.8h-0.8zM433.9 308.0h0.8v0.8h-0.8zM416.8 313.7h0.8v0.8h-0.8zM412.0 317.3h0.8v0.8h-0.8zM409.7 317.0h0.8v0.8h-0.8zM403.0 321.0h0.8v0.8h-0.8zM435.5 311.1h0.8v0.8h-0.8zM423.8 310.8h0.8v0.8h-0.8zM432.3 311.7h0.8v0.8h-0.8zM407.4 323.9h0.8v0.8h-0.8zM419.5 317.8h0.8v0.8h-0.8zM404.7 320.6h0.8v0.8h-0.8zM401.5 321.1h0.8v0.8h-0.8zM419.7 316.9h0.8v0.8h-0.8zM422.0 314.3h0.8v0.8h-0.8zM422.4 312.8h0.8v0.8h-0.8zM419.0 317.6h0.8v0.8h-0.8zM434.2 310.3h0.8v0.8h-0.8zM412.7 319.2h0.8v0.8h-0.8zM419.2 318.8h0.8v0.8h-0.8zM409.6 320.0h0.8v0.8h-0.8zM411.9 321.3h0.8v0.8h-0.8zM418.9 318.3h0.8v0.8h-0.8zM397.6 326.1h0.8v0.8h-0.8zM420.2 316.2h0.8v0.8h-0.8zM402.9 320.9h0.8v0.8h-0.8zM416.1 317.2h0.8v0.8h-0.8zM420.2 313.1h0.8v0.8h-0.8zM430.5 307.2h0.8v0.8h-0.8zM400.1 323.8h0.8v0.8h-0.8zM399.5 323.8h0.8v0.8h-0.8zM431.6 308.4h0.8v0.8h-0.8zM424.8 311.4h0.8v0.8h-0.8zM423.7 312.1h0.8v0.8h-0.8zM421.5 314.9h0.8v0.8h-0.8zM418.9 315.7h0.8v0.8h-0.8zM415.7 319.5h0.8v0.8h-0.8zM411.7 321.0h0.8v0.8h-0.8zM422.8 317.6h0.8v0.8h-0.8zM408.3 318.8h0.8v0.8h-0.8zM427.8 310.8h0.8v0.8h-0.8zM402.7 325.4h0.8v0.8h-0.8zM401.1 323.5h0.8v0.8h-0.8zM411.4 320.5h0.8v0.8h-0.8zM399.8 324.2h0.8v0.8h-0.8zM418.0 315.0h0.8v0.8h-0.8zM407.7 320.8h0.8v0.8h-0.8zM419.2 319.2h0.8v0.8h-0.8zM403.6 324.5h0.8v0.8h-0.8zM429.6 313.6h0.8v0.8h-0.8zM437.6 309.7h0.8v0.8h-0.8zM408.8 319.8h0.8v0.8h-0.8zM427.8 311.5h0.8v0.8h-0.8zM426.7 313.4h0.8v0.8h-0.8zM401.9 323.5h0.8v0.8h-0.8zM433.9 310.8h0.8v0.8h-0.8zM411.6 322.3h0.8v0.8h-0.8zM408.4 323.9h0.8v0.8h-0.8zM423.4 317.0h0.8v0.8h-0.8zM405.0 322.1h0.8v0.8h-0.8zM399.5 324.2h0.8v0.8h-0.8zM428.4 309.3h0.8v0.8h-0.8z" fill="#727272"/><path d="M366.6 155.3h1.0v1.0h-1.0zM372.4 175.3h1.0v1.0h-1.0zM354.6 159.4h1.0v1.0h-1.0zM377.0 174.9h1.0v1.0h-1.0zM373.5 189.9h1.0v1.0h-1.0zM380.1 198.0h1.0v1.0h-1.0zM375.5 184.6h1.0v1.0h-1.0zM365.7 168.1h1.0v1.0h-1.0zM375.6 179.6h1.0v1.0h-1.0zM361.7 177.6h1.0v1.0h-1.0zM380.1 196.7h1.0v1.0h-1.0zM374.9 186.8h1.0v1.0h-1.0zM365.7 184.4h1.0v1.0h-1.0zM358.0 179.1h1.0v1.0h-1.0zM365.0 164.7h1.0v1.0h-1.0zM359.5 194.1h1.0v1.0h-1.0zM379.7 181.7h1.0v1.0h-1.0zM381.7 203.4h1.0v1.0h-1.0zM387.3 201.1h1.0v1.0h-1.0zM358.2 172.7h1.0v1.0h-1.0zM362.0 171.1h1.0v1.0h-1.0zM356.9 173.9h1.0v1.0h-1.0zM361.5 194.2h1.0v1.0h-1.0zM357.2 160.4h1.0v1.0h-1.0zM365.5 183.9h1.0v1.0h-1.0zM363.1 196.1h1.0v1.0h-1.0zM364.6 176.6h1.0v1.0h-1.0zM372.4 177.6h1.0v1.0h-1.0zM368.0 159.9h1.0v1.0h-1.0zM382.7 191.8h1.0v1.0h-1.0zM367.5 196.4h1.0v1.0h-1.0zM369.9 174.3h1.0v1.0h-1.0zM366.9 168.6h1.0v1.0h-1.0zM382.6 185.2h1.0v1.0h-1.0zM360.8 200.0h1.0v1.0h-1.0zM349.5 189.5h1.0v1.0h-1.0zM360.4 164.6h1.0v1.0h-1.0zM360.9 182.0h1.0v1.0h-1.0zM366.3 172.1h1.0v1.0h-1.0zM356.2 178.5h1.0v1.0h-1.0zM353.8 186.2h1.0v1.0h-1.0zM367.2 156.0h1.0v1.0h-1.0zM370.8 183.9h1.0v1.0h-1.0zM374.1 191.4h1.0v1.0h-1.0zM368.7 179.2h1.0v1.0h-1.0zM364.1 189.9h1.0v1.0h-1.0zM376.9 190.9h1.0v1.0h-1.0zM383.0 200.2h1.0v1.0h-1.0zM372.8 185.6h1.0v1.0h-1.0zM357.2 174.1h1.0v1.0h-1.0zM367.6 179.0h1.0v1.0h-1.0zM369.5 192.7h1.0v1.0h-1.0zM371.4 201.2h1.0v1.0h-1.0zM363.3 170.2h1.0v1.0h-1.0zM374.4 202.2h1.0v1.0h-1.0zM375.1 193.1h1.0v1.0h-1.0zM369.4 198.2h1.0v1.0h-1.0zM365.6 171.6h1.0v1.0h-1.0zM361.7 152.0h1.0v1.0h-1.0zM368.1 193.6h1.0v1.0h-1.0zM375.1 181.1h1.0v1.0h-1.0zM361.9 174.9h1.0v1.0h-1.0zM371.0 185.8h1.0v1.0h-1.0zM365.3 178.4h1.0v1.0h-1.0zM366.9 160.9h1.0v1.0h-1.0zM355.6 159.7h1.0v1.0h-1.0zM360.3 169.4h1.0v1.0h-1.0zM359.7 165.3h1.0v1.0h-1.0zM374.0 200.9h1.0v1.0h-1.0zM388.0 197.1h1.0v1.0h-1.0zM371.1 162.8h1.0v1.0h-1.0zM361.2 193.0h1.0v1.0h-1.0zM374.8 201.6h1.0v1.0h-1.0zM351.5 172.2h1.0v1.0h-1.0zM380.3 191.8h1.0v1.0h-1.0zM371.8 171.5h1.0v1.0h-1.0zM373.4 188.7h1.0v1.0h-1.0zM382.8 203.3h1.0v1.0h-1.0zM369.4 195.9h1.0v1.0h-1.0zM371.5 160.2h1.0v1.0h-1.0zM353.7 171.5h1.0v1.0h-1.0zM358.7 170.2h1.0v1.0h-1.0zM373.2 184.0h1.0v1.0h-1.0zM354.5 176.8h1.0v1.0h-1.0zM369.5 182.5h1.0v1.0h-1.0zM365.2 199.4h1.0v1.0h-1.0zM383.0 197.6h1.0v1.0h-1.0zM370.5 172.1h1.0v1.0h-1.0zM382.2 192.2h1.0v1.0h-1.0zM357.9 175.5h1.0v1.0h-1.0zM365.5 173.5h1.0v1.0h-1.0zM372.6 197.0h1.0v1.0h-1.0zM375.1 180.3h1.0v1.0h-1.0zM376.6 192.5h1.0v1.0h-1.0zM375.5 201.4h1.0v1.0h-1.0zM358.0 177.9h1.0v1.0h-1.0zM368.3 185.4h1.0v1.0h-1.0zM355.2 165.2h1.0v1.0h-1.0zM375.1 196.6h1.0v1.0h-1.0zM367.6 161.2h1.0v1.0h-1.0zM376.3 194.0h1.0v1.0h-1.0zM358.4 181.8h1.0v1.0h-1.0zM355.0 165.7h1.0v1.0h-1.0zM360.7 188.9h1.0v1.0h-1.0zM366.6 202.1h1.0v1.0h-1.0zM356.2 167.5h1.0v1.0h-1.0zM381.6 200.3h1.0v1.0h-1.0zM360.2 184.8h1.0v1.0h-1.0zM385.9 198.8h1.0v1.0h-1.0zM358.4 155.9h1.0v1.0h-1.0zM352.1 163.0h1.0v1.0h-1.0zM369.5 186.0h1.0v1.0h-1.0zM359.4 195.2h1.0v1.0h-1.0zM353.1 195.1h1.0v1.0h-1.0zM365.4 187.6h1.0v1.0h-1.0zM362.1 198.4h1.0v1.0h-1.0zM378.1 191.2h1.0v1.0h-1.0zM356.4 190.8h1.0v1.0h-1.0zM363.5 189.4h1.0v1.0h-1.0zM357.8 192.2h1.0v1.0h-1.0zM379.4 203.9h1.0v1.0h-1.0zM377.8 179.1h1.0v1.0h-1.0zM364.9 170.6h1.0v1.0h-1.0zM363.2 174.2h1.0v1.0h-1.0zM360.1 188.9h1.0v1.0h-1.0zM370.7 181.8h1.0v1.0h-1.0zM368.2 163.2h1.0v1.0h-1.0zM361.0 191.6h1.0v1.0h-1.0zM362.7 166.8h1.0v1.0h-1.0zM383.0 190.5h1.0v1.0h-1.0zM359.5 186.8h1.0v1.0h-1.0zM361.4 156.0h1.0v1.0h-1.0zM376.8 193.2h1.0v1.0h-1.0zM352.9 170.9h1.0v1.0h-1.0zM352.8 192.9h1.0v1.0h-1.0zM357.0 172.8h1.0v1.0h-1.0zM361.8 154.4h1.0v1.0h-1.0zM359.7 185.7h1.0v1.0h-1.0zM353.5 187.4h1.0v1.0h-1.0zM384.8 198.4h1.0v1.0h-1.0zM359.2 164.4h1.0v1.0h-1.0zM356.7 187.0h1.0v1.0h-1.0zM362.8 194.4h1.0v1.0h-1.0zM370.9 165.6h1.0v1.0h-1.0zM364.9 174.8h1.0v1.0h-1.0zM356.7 172.1h1.0v1.0h-1.0zM373.6 175.4h1.0v1.0h-1.0zM385.1 200.2h1.0v1.0h-1.0zM370.0 189.7h1.0v1.0h-1.0zM374.3 180.9h1.0v1.0h-1.0zM377.4 200.6h1.0v1.0h-1.0zM367.2 159.3h1.0v1.0h-1.0zM373.4 177.0h1.0v1.0h-1.0zM362.6 193.9h1.0v1.0h-1.0zM374.5 181.8h1.0v1.0h-1.0zM357.9 158.0h1.0v1.0h-1.0zM351.6 165.9h1.0v1.0h-1.0zM359.2 157.1h1.0v1.0h-1.0z" fill="#f07828"/><path d="M394.0 155.4h1.0v1.0h-1.0zM416.4 187.4h1.0v1.0h-1.0zM411.9 175.2h1.0v1.0h-1.0zM397.1 149.4h1.0v1.0h-1.0zM414.5 183.6h1.0v1.0h-1.0zM399.4 133.9h1.0v1.0h-1.0zM394.0 133.2h1.0v1.0h-1.0zM404.8 141.4h1.0v1.0h-1.0zM403.4 168.1h1.0v1.0h-1.0zM392.7 134.4h1.0v1.0h-1.0zM418.7 164.7h1.0v1.0h-1.0zM397.8 143.5h1.0v1.0h-1.0zM406.6 171.4h1.0v1.0h-1.0zM402.8 148.7h1.0v1.0h-1.0zM403.2 167.9h1.0v1.0h-1.0zM416.3 189.3h1.0v1.0h-1.0zM390.8 131.6h1.0v1.0h-1.0zM388.7 144.6h1.0v1.0h-1.0zM386.6 133.1h1.0v1.0h-1.0zM418.7 166.0h1.0v1.0h-1.0zM409.5 165.3h1.0v1.0h-1.0zM407.1 181.8h1.0v1.0h-1.0zM350.0 157.1h1.0v1.0h-1.0zM404.4 143.3h1.0v1.0h-1.0zM388.5 144.4h1.0v1.0h-1.0zM399.2 154.0h1.0v1.0h-1.0zM409.2 143.6h1.0v1.0h-1.0zM399.4 153.3h1.0v1.0h-1.0zM412.3 180.7h1.0v1.0h-1.0zM399.0 143.1h1.0v1.0h-1.0zM414.8 175.0h1.0v1.0h-1.0zM388.2 142.9h1.0v1.0h-1.0zM408.8 165.5h1.0v1.0h-1.0zM406.6 167.6h1.0v1.0h-1.0zM423.3 178.6h1.0v1.0h-1.0zM414.8 180.2h1.0v1.0h-1.0zM398.1 131.6h1.0v1.0h-1.0zM415.6 168.5h1.0v1.0h-1.0zM399.9 131.3h1.0v1.0h-1.0zM403.6 167.0h1.0v1.0h-1.0zM418.2 158.6h1.0v1.0h-1.0zM423.6 184.3h1.0v1.0h-1.0zM384.7 136.4h1.0v1.0h-1.0zM351.8 158.3h1.0v1.0h-1.0zM389.9 133.6h1.0v1.0h-1.0zM414.4 153.6h1.0v1.0h-1.0zM401.6 149.1h1.0v1.0h-1.0zM351.6 160.0h1.0v1.0h-1.0zM418.2 177.0h1.0v1.0h-1.0zM391.6 158.4h1.0v1.0h-1.0zM415.1 176.4h1.0v1.0h-1.0zM396.3 163.9h1.0v1.0h-1.0zM412.2 191.6h1.0v1.0h-1.0zM414.2 174.6h1.0v1.0h-1.0zM420.7 183.4h1.0v1.0h-1.0zM363.9 145.0h1.0v1.0h-1.0zM423.8 183.3h1.0v1.0h-1.0zM412.3 156.4h1.0v1.0h-1.0zM403.5 155.8h1.0v1.0h-1.0zM388.2 134.1h1.0v1.0h-1.0zM391.4 132.0h1.0v1.0h-1.0zM407.0 178.7h1.0v1.0h-1.0zM363.1 144.3h1.0v1.0h-1.0zM407.5 139.0h1.0v1.0h-1.0zM409.2 176.4h1.0v1.0h-1.0zM355.1 151.8h1.0v1.0h-1.0zM413.3 160.0h1.0v1.0h-1.0zM405.8 175.3h1.0v1.0h-1.0zM416.1 150.8h1.0v1.0h-1.0zM420.5 162.7h1.0v1.0h-1.0zM408.6 183.3h1.0v1.0h-1.0zM405.7 160.3h1.0v1.0h-1.0zM410.9 172.7h1.0v1.0h-1.0zM408.3 151.5h1.0v1.0h-1.0zM398.4 131.3h1.0v1.0h-1.0zM390.4 135.6h1.0v1.0h-1.0zM391.0 147.5h1.0v1.0h-1.0zM410.9 150.5h1.0v1.0h-1.0zM402.4 138.1h1.0v1.0h-1.0zM385.6 143.4h1.0v1.0h-1.0zM403.7 175.5h1.0v1.0h-1.0zM382.1 140.0h1.0v1.0h-1.0zM406.9 143.6h1.0v1.0h-1.0zM399.2 139.2h1.0v1.0h-1.0zM403.5 133.7h1.0v1.0h-1.0zM401.1 165.4h1.0v1.0h-1.0zM415.9 163.5h1.0v1.0h-1.0zM410.1 160.8h1.0v1.0h-1.0zM391.9 155.5h1.0v1.0h-1.0zM416.3 158.0h1.0v1.0h-1.0zM391.0 132.3h1.0v1.0h-1.0zM398.3 149.8h1.0v1.0h-1.0zM414.6 171.6h1.0v1.0h-1.0zM395.8 145.4h1.0v1.0h-1.0zM407.2 161.0h1.0v1.0h-1.0zM402.4 130.3h1.0v1.0h-1.0zM420.3 176.6h1.0v1.0h-1.0zM410.3 167.1h1.0v1.0h-1.0zM403.3 129.2h1.0v1.0h-1.0zM408.6 144.9h1.0v1.0h-1.0zM415.2 176.0h1.0v1.0h-1.0zM409.5 188.3h1.0v1.0h-1.0zM417.8 173.6h1.0v1.0h-1.0zM419.9 179.0h1.0v1.0h-1.0zM407.7 176.0h1.0v1.0h-1.0zM400.9 164.2h1.0v1.0h-1.0zM355.3 151.5h1.0v1.0h-1.0zM401.2 136.0h1.0v1.0h-1.0zM413.6 187.5h1.0v1.0h-1.0zM385.7 138.4h1.0v1.0h-1.0zM389.7 142.8h1.0v1.0h-1.0zM361.4 146.4h1.0v1.0h-1.0zM358.2 148.4h1.0v1.0h-1.0zM411.6 192.1h1.0v1.0h-1.0zM414.2 188.9h1.0v1.0h-1.0zM418.8 175.1h1.0v1.0h-1.0zM421.9 181.1h1.0v1.0h-1.0zM415.7 153.4h1.0v1.0h-1.0zM408.3 168.6h1.0v1.0h-1.0zM404.0 155.6h1.0v1.0h-1.0zM394.2 156.9h1.0v1.0h-1.0zM396.9 154.6h1.0v1.0h-1.0zM423.1 174.1h1.0v1.0h-1.0zM412.3 170.6h1.0v1.0h-1.0zM409.9 164.8h1.0v1.0h-1.0zM410.5 191.7h1.0v1.0h-1.0zM416.9 156.1h1.0v1.0h-1.0zM348.4 160.8h1.0v1.0h-1.0zM406.5 165.6h1.0v1.0h-1.0zM411.9 191.8h1.0v1.0h-1.0zM350.6 156.3h1.0v1.0h-1.0zM408.0 148.7h1.0v1.0h-1.0zM407.7 179.3h1.0v1.0h-1.0zM391.8 130.8h1.0v1.0h-1.0zM411.2 155.1h1.0v1.0h-1.0zM406.9 160.6h1.0v1.0h-1.0zM350.5 162.0h1.0v1.0h-1.0zM423.5 183.0h1.0v1.0h-1.0zM399.4 143.1h1.0v1.0h-1.0zM402.5 158.8h1.0v1.0h-1.0zM409.4 162.6h1.0v1.0h-1.0zM420.5 164.5h1.0v1.0h-1.0zM400.7 157.8h1.0v1.0h-1.0zM409.4 169.3h1.0v1.0h-1.0zM393.9 134.7h1.0v1.0h-1.0zM413.1 145.3h1.0v1.0h-1.0zM411.9 183.9h1.0v1.0h-1.0zM394.6 132.6h1.0v1.0h-1.0zM406.0 164.3h1.0v1.0h-1.0zM402.2 141.8h1.0v1.0h-1.0zM402.2 156.3h1.0v1.0h-1.0zM386.9 136.3h1.0v1.0h-1.0zM404.8 171.8h1.0v1.0h-1.0zM418.8 180.1h1.0v1.0h-1.0zM406.4 157.9h1.0v1.0h-1.0zM384.5 137.4h1.0v1.0h-1.0zM390.2 131.6h1.0v1.0h-1.0zM408.0 178.5h1.0v1.0h-1.0zM418.6 169.0h1.0v1.0h-1.0zM415.4 166.8h1.0v1.0h-1.0zM418.7 170.9h1.0v1.0h-1.0zM411.7 176.3h1.0v1.0h-1.0zM407.4 154.5h1.0v1.0h-1.0zM396.7 151.4h1.0v1.0h-1.0zM415.2 176.4h1.0v1.0h-1.0zM385.6 137.5h1.0v1.0h-1.0zM400.4 154.0h1.0v1.0h-1.0zM407.8 162.6h1.0v1.0h-1.0zM410.3 175.6h1.0v1.0h-1.0zM358.8 148.1h1.0v1.0h-1.0zM420.1 161.6h1.0v1.0h-1.0zM356.2 149.9h1.0v1.0h-1.0zM409.9 191.7h1.0v1.0h-1.0zM352.1 153.6h1.0v1.0h-1.0zM389.2 142.9h1.0v1.0h-1.0zM404.9 184.0h1.0v1.0h-1.0zM421.5 177.1h1.0v1.0h-1.0zM415.4 179.6h1.0v1.0h-1.0zM403.3 144.3h1.0v1.0h-1.0zM396.6 143.0h1.0v1.0h-1.0zM384.9 142.3h1.0v1.0h-1.0zM420.1 178.3h1.0v1.0h-1.0zM361.3 148.7h1.0v1.0h-1.0zM423.6 183.5h1.0v1.0h-1.0zM416.5 162.0h1.0v1.0h-1.0zM396.2 139.6h1.0v1.0h-1.0zM400.0 143.4h1.0v1.0h-1.0zM410.0 163.9h1.0v1.0h-1.0zM360.4 149.3h1.0v1.0h-1.0zM403.4 164.6h1.0v1.0h-1.0zM367.7 144.4h1.0v1.0h-1.0zM417.7 179.2h1.0v1.0h-1.0zM403.0 131.4h1.0v1.0h-1.0zM407.2 143.3h1.0v1.0h-1.0zM388.9 140.4h1.0v1.0h-1.0zM403.0 138.1h1.0v1.0h-1.0zM413.6 176.1h1.0v1.0h-1.0zM426.4 175.5h1.0v1.0h-1.0zM404.8 167.2h1.0v1.0h-1.0zM402.1 142.6h1.0v1.0h-1.0zM406.1 168.7h1.0v1.0h-1.0zM400.2 148.0h1.0v1.0h-1.0zM411.1 148.3h1.0v1.0h-1.0zM393.0 136.3h1.0v1.0h-1.0zM406.6 147.9h1.0v1.0h-1.0zM386.9 139.5h1.0v1.0h-1.0zM391.1 137.0h1.0v1.0h-1.0zM404.7 148.7h1.0v1.0h-1.0zM404.2 166.9h1.0v1.0h-1.0zM416.2 175.5h1.0v1.0h-1.0zM392.2 139.4h1.0v1.0h-1.0zM404.3 150.6h1.0v1.0h-1.0zM355.4 150.3h1.0v1.0h-1.0zM415.3 176.3h1.0v1.0h-1.0zM411.9 174.3h1.0v1.0h-1.0zM411.9 167.6h1.0v1.0h-1.0zM416.8 182.8h1.0v1.0h-1.0zM410.2 158.7h1.0v1.0h-1.0zM412.3 163.3h1.0v1.0h-1.0zM365.5 145.0h1.0v1.0h-1.0zM403.1 131.0h1.0v1.0h-1.0zM402.4 137.6h1.0v1.0h-1.0zM360.8 148.4h1.0v1.0h-1.0zM402.6 134.5h1.0v1.0h-1.0zM392.3 155.0h1.0v1.0h-1.0zM388.8 138.7h1.0v1.0h-1.0zM389.8 136.4h1.0v1.0h-1.0zM415.7 159.4h1.0v1.0h-1.0zM416.3 155.5h1.0v1.0h-1.0zM412.6 169.4h1.0v1.0h-1.0zM405.8 154.6h1.0v1.0h-1.0zM419.0 179.1h1.0v1.0h-1.0zM397.8 151.1h1.0v1.0h-1.0zM366.3 136.7h1.0v1.0h-1.0zM359.6 142.5h1.0v1.0h-1.0zM358.4 138.3h1.0v1.0h-1.0zM362.1 137.3h1.0v1.0h-1.0zM373.6 132.6h1.0v1.0h-1.0zM380.2 128.5h1.0v1.0h-1.0zM366.3 132.7h1.0v1.0h-1.0zM374.3 131.6h1.0v1.0h-1.0zM365.7 138.0h1.0v1.0h-1.0zM355.4 139.5h1.0v1.0h-1.0zM354.3 138.7h1.0v1.0h-1.0zM372.6 133.3h1.0v1.0h-1.0zM376.2 133.4h1.0v1.0h-1.0zM356.7 138.1h1.0v1.0h-1.0zM374.9 129.6h1.0v1.0h-1.0zM381.7 130.9h1.0v1.0h-1.0zM343.3 145.2h1.0v1.0h-1.0zM358.8 142.6h1.0v1.0h-1.0zM344.2 144.6h1.0v1.0h-1.0zM343.5 144.9h1.0v1.0h-1.0zM358.2 140.8h1.0v1.0h-1.0zM359.9 139.1h1.0v1.0h-1.0zM344.2 143.9h1.0v1.0h-1.0zM378.9 129.2h1.0v1.0h-1.0zM366.1 133.3h1.0v1.0h-1.0zM366.3 133.7h1.0v1.0h-1.0zM367.0 136.0h1.0v1.0h-1.0zM377.6 128.7h1.0v1.0h-1.0zM371.4 132.8h1.0v1.0h-1.0zM380.8 132.6h1.0v1.0h-1.0zM343.7 150.4h1.0v1.0h-1.0zM363.5 136.2h1.0v1.0h-1.0zM369.8 136.0h1.0v1.0h-1.0zM363.0 141.1h1.0v1.0h-1.0zM376.3 133.0h1.0v1.0h-1.0zM350.9 145.4h1.0v1.0h-1.0zM365.1 137.7h1.0v1.0h-1.0zM365.2 133.7h1.0v1.0h-1.0zM372.8 130.6h1.0v1.0h-1.0zM358.4 141.5h1.0v1.0h-1.0zM346.7 145.3h1.0v1.0h-1.0zM373.8 130.3h1.0v1.0h-1.0zM345.5 148.8h1.0v1.0h-1.0zM351.5 144.4h1.0v1.0h-1.0zM351.5 145.6h1.0v1.0h-1.0zM361.6 140.4h1.0v1.0h-1.0zM381.9 127.0h1.0v1.0h-1.0zM377.4 128.1h1.0v1.0h-1.0zM383.0 130.9h1.0v1.0h-1.0zM378.8 128.8h1.0v1.0h-1.0zM379.8 127.9h1.0v1.0h-1.0zM357.6 139.1h1.0v1.0h-1.0zM373.1 134.9h1.0v1.0h-1.0zM377.5 132.0h1.0v1.0h-1.0zM370.4 137.3h1.0v1.0h-1.0zM382.0 129.0h1.0v1.0h-1.0zM348.2 148.2h1.0v1.0h-1.0zM373.2 130.3h1.0v1.0h-1.0zM371.7 134.7h1.0v1.0h-1.0zM357.2 138.2h1.0v1.0h-1.0zM375.1 134.3h1.0v1.0h-1.0zM347.1 147.5h1.0v1.0h-1.0zM341.7 146.3h1.0v1.0h-1.0zM347.2 146.0h1.0v1.0h-1.0zM343.4 145.4h1.0v1.0h-1.0zM362.0 138.3h1.0v1.0h-1.0zM365.9 138.6h1.0v1.0h-1.0zM364.8 139.9h1.0v1.0h-1.0zM348.9 141.4h1.0v1.0h-1.0zM345.4 143.8h1.0v1.0h-1.0zM363.9 139.0h1.0v1.0h-1.0zM350.4 145.5h1.0v1.0h-1.0zM373.0 132.7h1.0v1.0h-1.0zM373.1 132.2h1.0v1.0h-1.0zM373.6 132.7h1.0v1.0h-1.0zM370.5 137.1h1.0v1.0h-1.0zM347.0 147.0h1.0v1.0h-1.0zM380.8 126.0h1.0v1.0h-1.0zM350.9 142.2h1.0v1.0h-1.0zM378.5 132.1h1.0v1.0h-1.0zM375.7 132.5h1.0v1.0h-1.0zM375.1 132.1h1.0v1.0h-1.0zM354.0 144.0h1.0v1.0h-1.0zM360.8 141.3h1.0v1.0h-1.0zM363.1 139.9h1.0v1.0h-1.0zM382.9 131.7h1.0v1.0h-1.0zM379.6 131.0h1.0v1.0h-1.0zM363.3 140.9h1.0v1.0h-1.0zM371.2 136.2h1.0v1.0h-1.0zM352.5 144.8h1.0v1.0h-1.0zM364.4 134.5h1.0v1.0h-1.0zM355.6 142.7h1.0v1.0h-1.0zM366.4 137.4h1.0v1.0h-1.0zM366.2 138.5h1.0v1.0h-1.0zM367.0 132.8h1.0v1.0h-1.0zM372.7 132.0h1.0v1.0h-1.0zM344.3 150.0h1.0v1.0h-1.0zM371.6 134.1h1.0v1.0h-1.0zM366.5 135.6h1.0v1.0h-1.0zM436.8 184.8h1.0v1.0h-1.0zM411.6 198.2h1.0v1.0h-1.0zM416.2 195.7h1.0v1.0h-1.0zM406.3 203.0h1.0v1.0h-1.0zM426.7 191.3h1.0v1.0h-1.0zM436.7 185.5h1.0v1.0h-1.0zM406.2 197.8h1.0v1.0h-1.0zM424.8 194.4h1.0v1.0h-1.0zM412.9 197.3h1.0v1.0h-1.0zM435.8 190.0h1.0v1.0h-1.0zM411.7 198.5h1.0v1.0h-1.0zM430.6 187.7h1.0v1.0h-1.0zM438.1 188.7h1.0v1.0h-1.0zM405.1 200.0h1.0v1.0h-1.0zM418.8 191.7h1.0v1.0h-1.0zM412.8 197.4h1.0v1.0h-1.0zM427.1 191.2h1.0v1.0h-1.0zM425.4 189.1h1.0v1.0h-1.0zM433.4 189.9h1.0v1.0h-1.0zM423.3 190.5h1.0v1.0h-1.0zM413.7 197.5h1.0v1.0h-1.0zM428.8 188.9h1.0v1.0h-1.0zM424.6 191.2h1.0v1.0h-1.0zM418.2 194.0h1.0v1.0h-1.0zM423.1 194.8h1.0v1.0h-1.0zM415.2 193.7h1.0v1.0h-1.0zM410.5 195.3h1.0v1.0h-1.0zM432.2 184.6h1.0v1.0h-1.0zM429.7 191.5h1.0v1.0h-1.0zM415.4 199.3h1.0v1.0h-1.0zM417.6 193.2h1.0v1.0h-1.0zM416.0 194.6h1.0v1.0h-1.0zM415.0 193.4h1.0v1.0h-1.0zM399.0 203.2h1.0v1.0h-1.0zM418.9 195.2h1.0v1.0h-1.0zM415.7 193.2h1.0v1.0h-1.0zM399.0 201.4h1.0v1.0h-1.0zM406.1 203.6h1.0v1.0h-1.0zM398.9 203.0h1.0v1.0h-1.0zM418.6 191.5h1.0v1.0h-1.0zM430.5 188.0h1.0v1.0h-1.0zM431.5 186.0h1.0v1.0h-1.0zM432.8 186.8h1.0v1.0h-1.0zM439.4 188.0h1.0v1.0h-1.0zM399.5 206.2h1.0v1.0h-1.0zM414.5 193.0h1.0v1.0h-1.0zM430.9 191.3h1.0v1.0h-1.0zM397.1 201.5h1.0v1.0h-1.0zM399.5 204.9h1.0v1.0h-1.0zM425.7 190.5h1.0v1.0h-1.0zM412.1 196.4h1.0v1.0h-1.0zM424.4 192.9h1.0v1.0h-1.0zM426.2 193.4h1.0v1.0h-1.0zM436.5 186.2h1.0v1.0h-1.0zM429.5 189.8h1.0v1.0h-1.0zM423.7 193.3h1.0v1.0h-1.0zM438.1 188.3h1.0v1.0h-1.0zM414.0 194.9h1.0v1.0h-1.0zM417.2 196.1h1.0v1.0h-1.0zM416.2 192.3h1.0v1.0h-1.0zM429.2 192.7h1.0v1.0h-1.0zM414.3 200.0h1.0v1.0h-1.0zM408.8 200.8h1.0v1.0h-1.0zM435.9 188.9h1.0v1.0h-1.0zM438.1 184.8h1.0v1.0h-1.0zM422.6 190.8h1.0v1.0h-1.0zM399.4 200.8h1.0v1.0h-1.0zM399.2 204.5h1.0v1.0h-1.0zM434.2 186.8h1.0v1.0h-1.0zM425.8 190.6h1.0v1.0h-1.0zM414.3 200.4h1.0v1.0h-1.0zM426.9 190.6h1.0v1.0h-1.0zM427.0 192.7h1.0v1.0h-1.0zM426.9 191.7h1.0v1.0h-1.0z" fill="#28c8f0"/><path d="M435.6 159.8h1.0v1.0h-1.0zM405.8 133.7h1.0v1.0h-1.0zM420.2 168.3h1.0v1.0h-1.0zM435.8 163.9h1.0v1.0h-1.0zM422.8 135.5h1.0v1.0h-1.0zM417.1 168.1h1.0v1.0h-1.0zM428.3 155.1h1.0v1.0h-1.0zM413.6 169.5h1.0v1.0h-1.0zM414.3 163.0h1.0v1.0h-1.0zM422.1 150.8h1.0v1.0h-1.0zM411.9 162.8h1.0v1.0h-1.0zM420.7 131.5h1.0v1.0h-1.0zM414.9 176.1h1.0v1.0h-1.0zM429.9 166.9h1.0v1.0h-1.0zM433.1 160.2h1.0v1.0h-1.0zM433.5 150.8h1.0v1.0h-1.0zM405.6 153.1h1.0v1.0h-1.0zM424.2 170.9h1.0v1.0h-1.0zM407.1 143.0h1.0v1.0h-1.0zM429.4 143.9h1.0v1.0h-1.0zM432.2 157.3h1.0v1.0h-1.0zM428.7 175.3h1.0v1.0h-1.0zM419.8 148.5h1.0v1.0h-1.0zM417.7 149.9h1.0v1.0h-1.0zM426.6 160.0h1.0v1.0h-1.0zM411.4 137.3h1.0v1.0h-1.0zM409.8 148.9h1.0v1.0h-1.0zM404.3 138.8h1.0v1.0h-1.0zM363.6 144.9h1.0v1.0h-1.0zM422.4 177.3h1.0v1.0h-1.0zM410.7 152.1h1.0v1.0h-1.0zM404.5 142.2h1.0v1.0h-1.0zM422.7 138.1h1.0v1.0h-1.0zM411.9 161.8h1.0v1.0h-1.0zM425.1 165.0h1.0v1.0h-1.0zM429.7 151.4h1.0v1.0h-1.0zM429.5 165.7h1.0v1.0h-1.0zM430.2 149.7h1.0v1.0h-1.0zM426.7 156.5h1.0v1.0h-1.0zM425.1 171.8h1.0v1.0h-1.0zM432.6 164.9h1.0v1.0h-1.0zM431.1 159.1h1.0v1.0h-1.0zM414.2 141.2h1.0v1.0h-1.0zM435.4 166.5h1.0v1.0h-1.0zM436.0 167.3h1.0v1.0h-1.0zM420.5 159.9h1.0v1.0h-1.0zM419.9 143.8h1.0v1.0h-1.0zM408.6 138.2h1.0v1.0h-1.0zM415.0 178.8h1.0v1.0h-1.0zM426.0 151.3h1.0v1.0h-1.0zM409.0 146.2h1.0v1.0h-1.0zM411.2 156.5h1.0v1.0h-1.0zM428.1 147.4h1.0v1.0h-1.0zM423.4 161.7h1.0v1.0h-1.0zM430.5 168.4h1.0v1.0h-1.0zM415.4 135.0h1.0v1.0h-1.0zM418.5 143.9h1.0v1.0h-1.0zM431.6 171.9h1.0v1.0h-1.0zM425.4 158.8h1.0v1.0h-1.0zM424.0 163.0h1.0v1.0h-1.0zM429.3 165.4h1.0v1.0h-1.0zM428.8 176.8h1.0v1.0h-1.0zM428.5 148.0h1.0v1.0h-1.0zM433.8 172.0h1.0v1.0h-1.0zM433.0 172.6h1.0v1.0h-1.0zM416.7 144.0h1.0v1.0h-1.0zM408.3 131.3h1.0v1.0h-1.0zM424.2 156.1h1.0v1.0h-1.0zM426.0 154.7h1.0v1.0h-1.0zM418.7 168.3h1.0v1.0h-1.0zM408.4 132.3h1.0v1.0h-1.0zM426.6 150.9h1.0v1.0h-1.0zM424.9 138.3h1.0v1.0h-1.0zM409.1 136.9h1.0v1.0h-1.0zM413.7 165.0h1.0v1.0h-1.0zM418.0 163.4h1.0v1.0h-1.0zM425.8 148.8h1.0v1.0h-1.0zM421.3 156.5h1.0v1.0h-1.0zM429.2 141.0h1.0v1.0h-1.0zM426.1 135.4h1.0v1.0h-1.0zM395.9 131.4h1.0v1.0h-1.0zM426.3 169.2h1.0v1.0h-1.0zM422.3 158.5h1.0v1.0h-1.0zM425.3 166.6h1.0v1.0h-1.0zM410.1 138.1h1.0v1.0h-1.0zM418.3 147.0h1.0v1.0h-1.0zM395.9 131.6h1.0v1.0h-1.0zM402.9 152.1h1.0v1.0h-1.0zM434.1 157.2h1.0v1.0h-1.0zM432.2 154.8h1.0v1.0h-1.0zM424.7 144.5h1.0v1.0h-1.0zM435.1 168.3h1.0v1.0h-1.0zM430.1 165.2h1.0v1.0h-1.0zM413.8 146.3h1.0v1.0h-1.0zM420.3 146.6h1.0v1.0h-1.0zM412.4 132.2h1.0v1.0h-1.0zM394.7 131.3h1.0v1.0h-1.0zM413.0 155.3h1.0v1.0h-1.0zM427.1 150.0h1.0v1.0h-1.0zM410.3 168.6h1.0v1.0h-1.0zM421.5 135.1h1.0v1.0h-1.0zM429.8 143.6h1.0v1.0h-1.0zM419.8 131.7h1.0v1.0h-1.0zM405.8 147.4h1.0v1.0h-1.0zM428.9 150.4h1.0v1.0h-1.0zM420.7 185.9h1.0v1.0h-1.0zM423.8 146.4h1.0v1.0h-1.0zM425.5 143.2h1.0v1.0h-1.0zM434.7 151.1h1.0v1.0h-1.0zM430.2 157.9h1.0v1.0h-1.0zM416.0 137.5h1.0v1.0h-1.0zM416.6 176.1h1.0v1.0h-1.0zM426.4 150.5h1.0v1.0h-1.0zM436.8 161.5h1.0v1.0h-1.0zM433.8 154.9h1.0v1.0h-1.0zM422.8 152.0h1.0v1.0h-1.0zM417.9 152.1h1.0v1.0h-1.0zM422.3 178.6h1.0v1.0h-1.0zM423.0 152.1h1.0v1.0h-1.0zM425.6 176.2h1.0v1.0h-1.0zM430.3 142.2h1.0v1.0h-1.0zM396.6 132.1h1.0v1.0h-1.0zM411.9 154.3h1.0v1.0h-1.0zM414.1 149.0h1.0v1.0h-1.0zM430.8 172.5h1.0v1.0h-1.0zM423.3 149.1h1.0v1.0h-1.0zM406.7 130.0h1.0v1.0h-1.0zM429.0 160.7h1.0v1.0h-1.0zM420.3 145.8h1.0v1.0h-1.0zM417.8 142.2h1.0v1.0h-1.0zM419.2 186.7h1.0v1.0h-1.0zM418.4 156.6h1.0v1.0h-1.0zM426.2 141.2h1.0v1.0h-1.0zM427.7 137.5h1.0v1.0h-1.0zM432.0 151.4h1.0v1.0h-1.0zM423.5 145.6h1.0v1.0h-1.0zM416.4 138.5h1.0v1.0h-1.0zM421.7 141.4h1.0v1.0h-1.0zM424.4 159.7h1.0v1.0h-1.0zM421.9 176.0h1.0v1.0h-1.0zM417.6 172.8h1.0v1.0h-1.0zM410.3 139.7h1.0v1.0h-1.0zM407.6 128.8h1.0v1.0h-1.0zM422.9 169.4h1.0v1.0h-1.0zM411.4 170.6h1.0v1.0h-1.0zM430.6 142.5h1.0v1.0h-1.0zM436.1 156.1h1.0v1.0h-1.0zM430.5 170.6h1.0v1.0h-1.0zM419.2 145.7h1.0v1.0h-1.0zM420.1 184.9h1.0v1.0h-1.0zM416.2 138.9h1.0v1.0h-1.0zM417.5 152.2h1.0v1.0h-1.0zM426.9 162.7h1.0v1.0h-1.0zM430.9 166.4h1.0v1.0h-1.0zM412.2 144.3h1.0v1.0h-1.0zM431.3 147.5h1.0v1.0h-1.0zM416.4 139.4h1.0v1.0h-1.0zM424.2 167.2h1.0v1.0h-1.0zM434.9 153.3h1.0v1.0h-1.0zM434.5 165.6h1.0v1.0h-1.0zM426.6 137.8h1.0v1.0h-1.0zM420.8 143.6h1.0v1.0h-1.0zM410.9 135.0h1.0v1.0h-1.0zM430.1 148.9h1.0v1.0h-1.0zM410.6 148.1h1.0v1.0h-1.0zM415.4 139.3h1.0v1.0h-1.0zM432.6 165.5h1.0v1.0h-1.0zM413.4 146.0h1.0v1.0h-1.0zM426.8 158.2h1.0v1.0h-1.0zM418.3 157.3h1.0v1.0h-1.0zM410.3 149.3h1.0v1.0h-1.0zM423.8 135.9h1.0v1.0h-1.0zM418.1 156.6h1.0v1.0h-1.0zM419.1 155.8h1.0v1.0h-1.0zM422.2 136.9h1.0v1.0h-1.0zM418.5 134.3h1.0v1.0h-1.0zM419.5 144.2h1.0v1.0h-1.0zM423.6 170.3h1.0v1.0h-1.0zM419.5 173.1h1.0v1.0h-1.0zM415.5 145.6h1.0v1.0h-1.0zM423.1 165.2h1.0v1.0h-1.0zM410.4 153.4h1.0v1.0h-1.0zM421.0 165.1h1.0v1.0h-1.0zM427.4 149.0h1.0v1.0h-1.0zM398.6 133.7h1.0v1.0h-1.0zM433.5 164.9h1.0v1.0h-1.0zM410.9 169.6h1.0v1.0h-1.0zM413.9 130.8h1.0v1.0h-1.0zM400.7 133.9h1.0v1.0h-1.0zM431.5 153.3h1.0v1.0h-1.0zM417.1 164.6h1.0v1.0h-1.0zM431.0 149.4h1.0v1.0h-1.0zM409.4 147.1h1.0v1.0h-1.0zM422.2 167.5h1.0v1.0h-1.0zM403.8 139.0h1.0v1.0h-1.0zM430.1 173.3h1.0v1.0h-1.0zM413.7 133.8h1.0v1.0h-1.0zM426.0 139.7h1.0v1.0h-1.0zM423.4 183.0h1.0v1.0h-1.0zM418.9 159.1h1.0v1.0h-1.0zM428.4 175.9h1.0v1.0h-1.0zM432.9 165.8h1.0v1.0h-1.0zM425.8 168.3h1.0v1.0h-1.0zM422.5 161.7h1.0v1.0h-1.0zM428.3 175.4h1.0v1.0h-1.0zM419.4 146.8h1.0v1.0h-1.0zM408.0 145.2h1.0v1.0h-1.0zM424.8 136.3h1.0v1.0h-1.0zM423.7 136.1h1.0v1.0h-1.0zM423.4 165.6h1.0v1.0h-1.0zM417.6 138.7h1.0v1.0h-1.0zM419.7 158.1h1.0v1.0h-1.0zM405.4 133.2h1.0v1.0h-1.0zM433.2 156.7h1.0v1.0h-1.0zM397.6 132.4h1.0v1.0h-1.0zM419.9 158.6h1.0v1.0h-1.0zM433.3 172.7h1.0v1.0h-1.0zM433.6 159.0h1.0v1.0h-1.0zM409.6 134.6h1.0v1.0h-1.0zM406.0 133.4h1.0v1.0h-1.0zM420.9 160.3h1.0v1.0h-1.0zM428.4 151.5h1.0v1.0h-1.0zM412.5 146.0h1.0v1.0h-1.0zM415.5 154.1h1.0v1.0h-1.0zM421.0 136.2h1.0v1.0h-1.0zM420.5 138.1h1.0v1.0h-1.0zM428.0 163.2h1.0v1.0h-1.0zM422.3 181.0h1.0v1.0h-1.0zM408.0 140.2h1.0v1.0h-1.0zM423.9 164.6h1.0v1.0h-1.0zM423.1 145.5h1.0v1.0h-1.0zM426.4 174.6h1.0v1.0h-1.0zM404.0 142.5h1.0v1.0h-1.0zM422.1 139.3h1.0v1.0h-1.0zM426.8 140.8h1.0v1.0h-1.0zM416.3 151.9h1.0v1.0h-1.0zM417.3 141.1h1.0v1.0h-1.0zM433.5 160.4h1.0v1.0h-1.0zM406.6 148.3h1.0v1.0h-1.0zM428.4 173.2h1.0v1.0h-1.0zM417.0 145.5h1.0v1.0h-1.0zM411.4 169.1h1.0v1.0h-1.0zM416.3 143.4h1.0v1.0h-1.0zM428.9 163.8h1.0v1.0h-1.0zM416.0 167.0h1.0v1.0h-1.0zM413.9 149.5h1.0v1.0h-1.0zM429.0 145.3h1.0v1.0h-1.0zM425.0 169.0h1.0v1.0h-1.0zM399.1 131.8h1.0v1.0h-1.0zM421.0 137.1h1.0v1.0h-1.0zM415.9 146.8h1.0v1.0h-1.0zM430.3 163.6h1.0v1.0h-1.0zM429.6 143.9h1.0v1.0h-1.0zM435.9 162.7h1.0v1.0h-1.0zM415.5 146.2h1.0v1.0h-1.0zM416.0 145.9h1.0v1.0h-1.0zM422.7 135.4h1.0v1.0h-1.0zM412.6 167.4h1.0v1.0h-1.0zM417.0 146.4h1.0v1.0h-1.0zM424.5 164.9h1.0v1.0h-1.0zM432.0 155.8h1.0v1.0h-1.0zM424.4 155.3h1.0v1.0h-1.0zM431.7 167.4h1.0v1.0h-1.0zM425.2 173.8h1.0v1.0h-1.0zM405.2 143.4h1.0v1.0h-1.0zM413.2 149.4h1.0v1.0h-1.0zM422.8 149.3h1.0v1.0h-1.0zM428.5 149.8h1.0v1.0h-1.0zM407.9 135.0h1.0v1.0h-1.0zM428.7 163.2h1.0v1.0h-1.0zM398.4 136.9h1.0v1.0h-1.0zM434.5 165.8h1.0v1.0h-1.0zM421.3 132.9h1.0v1.0h-1.0zM430.5 152.4h1.0v1.0h-1.0zM431.8 157.0h1.0v1.0h-1.0zM415.7 161.2h1.0v1.0h-1.0zM414.5 152.6h1.0v1.0h-1.0zM415.6 147.3h1.0v1.0h-1.0zM426.3 144.5h1.0v1.0h-1.0zM414.7 132.9h1.0v1.0h-1.0zM431.1 147.9h1.0v1.0h-1.0zM419.9 132.6h1.0v1.0h-1.0zM419.4 131.3h1.0v1.0h-1.0zM425.0 175.6h1.0v1.0h-1.0zM420.5 182.9h1.0v1.0h-1.0zM427.6 176.7h1.0v1.0h-1.0zM400.9 130.9h1.0v1.0h-1.0zM432.3 170.3h1.0v1.0h-1.0zM424.5 173.9h1.0v1.0h-1.0zM427.8 149.9h1.0v1.0h-1.0zM424.7 164.0h1.0v1.0h-1.0zM431.5 165.4h1.0v1.0h-1.0zM407.9 143.7h1.0v1.0h-1.0zM418.7 159.6h1.0v1.0h-1.0zM424.5 155.9h1.0v1.0h-1.0zM408.5 167.4h1.0v1.0h-1.0zM426.4 179.0h1.0v1.0h-1.0zM412.7 141.1h1.0v1.0h-1.0zM420.9 174.2h1.0v1.0h-1.0zM427.3 142.8h1.0v1.0h-1.0zM424.7 167.5h1.0v1.0h-1.0zM426.0 152.6h1.0v1.0h-1.0zM420.9 147.6h1.0v1.0h-1.0zM423.9 174.2h1.0v1.0h-1.0zM420.8 141.9h1.0v1.0h-1.0zM407.1 143.3h1.0v1.0h-1.0zM429.2 142.0h1.0v1.0h-1.0zM415.4 143.3h1.0v1.0h-1.0zM425.9 141.4h1.0v1.0h-1.0zM427.5 177.3h1.0v1.0h-1.0zM431.6 144.7h1.0v1.0h-1.0zM432.7 155.2h1.0v1.0h-1.0zM425.4 163.7h1.0v1.0h-1.0zM408.9 164.6h1.0v1.0h-1.0zM427.1 145.0h1.0v1.0h-1.0zM423.7 139.8h1.0v1.0h-1.0zM426.0 160.6h1.0v1.0h-1.0zM417.1 144.7h1.0v1.0h-1.0zM415.3 176.8h1.0v1.0h-1.0zM414.9 183.5h1.0v1.0h-1.0zM430.2 154.8h1.0v1.0h-1.0zM425.3 150.4h1.0v1.0h-1.0zM406.8 132.4h1.0v1.0h-1.0zM415.7 158.6h1.0v1.0h-1.0zM422.3 153.4h1.0v1.0h-1.0zM433.8 151.6h1.0v1.0h-1.0zM404.7 133.3h1.0v1.0h-1.0zM419.2 131.1h1.0v1.0h-1.0zM414.6 130.2h1.0v1.0h-1.0zM424.0 137.2h1.0v1.0h-1.0zM422.9 162.7h1.0v1.0h-1.0zM399.7 140.7h1.0v1.0h-1.0zM417.6 144.7h1.0v1.0h-1.0zM398.8 131.3h1.0v1.0h-1.0zM410.9 144.1h1.0v1.0h-1.0zM431.6 162.0h1.0v1.0h-1.0zM429.3 176.9h1.0v1.0h-1.0zM410.4 136.7h1.0v1.0h-1.0zM418.2 179.5h1.0v1.0h-1.0zM419.9 137.0h1.0v1.0h-1.0zM402.3 134.8h1.0v1.0h-1.0zM407.1 149.0h1.0v1.0h-1.0zM428.2 180.0h1.0v1.0h-1.0zM425.8 173.3h1.0v1.0h-1.0zM407.5 159.9h1.0v1.0h-1.0zM425.1 142.4h1.0v1.0h-1.0zM425.9 157.9h1.0v1.0h-1.0zM425.3 142.1h1.0v1.0h-1.0zM425.6 165.7h1.0v1.0h-1.0zM420.1 157.2h1.0v1.0h-1.0zM429.6 143.2h1.0v1.0h-1.0zM430.3 144.0h1.0v1.0h-1.0zM436.6 165.2h1.0v1.0h-1.0zM423.1 136.8h1.0v1.0h-1.0zM400.3 145.6h1.0v1.0h-1.0zM421.4 143.8h1.0v1.0h-1.0zM429.3 177.5h1.0v1.0h-1.0zM429.9 167.6h1.0v1.0h-1.0zM423.1 156.8h1.0v1.0h-1.0zM400.2 149.8h1.0v1.0h-1.0zM435.1 155.9h1.0v1.0h-1.0zM418.3 130.7h1.0v1.0h-1.0zM423.6 152.3h1.0v1.0h-1.0zM428.1 179.3h1.0v1.0h-1.0zM415.7 133.6h1.0v1.0h-1.0zM423.3 163.2h1.0v1.0h-1.0zM420.9 134.3h1.0v1.0h-1.0zM403.2 144.3h1.0v1.0h-1.0zM429.7 155.5h1.0v1.0h-1.0zM428.2 147.6h1.0v1.0h-1.0zM404.0 147.8h1.0v1.0h-1.0zM415.1 153.2h1.0v1.0h-1.0zM419.7 177.7h1.0v1.0h-1.0zM435.8 156.2h1.0v1.0h-1.0zM408.4 143.7h1.0v1.0h-1.0zM407.0 147.7h1.0v1.0h-1.0zM422.3 138.8h1.0v1.0h-1.0zM429.3 148.3h1.0v1.0h-1.0zM420.6 162.8h1.0v1.0h-1.0zM424.9 171.0h1.0v1.0h-1.0zM406.4 146.1h1.0v1.0h-1.0zM425.6 174.6h1.0v1.0h-1.0zM418.8 163.4h1.0v1.0h-1.0zM412.8 139.7h1.0v1.0h-1.0zM431.8 167.3h1.0v1.0h-1.0zM416.0 173.3h1.0v1.0h-1.0zM433.1 150.5h1.0v1.0h-1.0zM418.7 143.2h1.0v1.0h-1.0zM411.3 154.1h1.0v1.0h-1.0zM403.8 130.2h1.0v1.0h-1.0zM408.7 148.6h1.0v1.0h-1.0zM420.1 135.4h1.0v1.0h-1.0zM425.5 145.5h1.0v1.0h-1.0zM413.6 133.5h1.0v1.0h-1.0zM425.4 167.2h1.0v1.0h-1.0zM431.0 149.2h1.0v1.0h-1.0zM409.0 160.5h1.0v1.0h-1.0zM426.1 142.2h1.0v1.0h-1.0zM436.3 160.6h1.0v1.0h-1.0zM424.0 146.7h1.0v1.0h-1.0zM424.3 134.9h1.0v1.0h-1.0zM430.1 162.5h1.0v1.0h-1.0zM430.9 147.5h1.0v1.0h-1.0zM430.3 150.3h1.0v1.0h-1.0zM422.4 173.1h1.0v1.0h-1.0zM423.6 136.5h1.0v1.0h-1.0zM426.6 147.7h1.0v1.0h-1.0zM424.3 149.2h1.0v1.0h-1.0zM428.3 172.6h1.0v1.0h-1.0zM436.9 162.4h1.0v1.0h-1.0zM427.1 149.6h1.0v1.0h-1.0zM421.1 138.6h1.0v1.0h-1.0zM418.2 177.3h1.0v1.0h-1.0zM423.2 161.0h1.0v1.0h-1.0zM418.1 162.5h1.0v1.0h-1.0zM417.6 134.9h1.0v1.0h-1.0zM413.2 169.3h1.0v1.0h-1.0zM428.8 164.1h1.0v1.0h-1.0zM417.8 148.8h1.0v1.0h-1.0zM407.1 144.9h1.0v1.0h-1.0zM403.9 148.2h1.0v1.0h-1.0zM428.8 152.7h1.0v1.0h-1.0zM426.4 174.2h1.0v1.0h-1.0zM422.7 145.3h1.0v1.0h-1.0zM393.2 133.0h1.0v1.0h-1.0zM423.2 143.0h1.0v1.0h-1.0zM415.4 144.4h1.0v1.0h-1.0zM420.8 134.8h1.0v1.0h-1.0zM418.0 156.0h1.0v1.0h-1.0zM425.0 136.7h1.0v1.0h-1.0zM427.7 173.5h1.0v1.0h-1.0zM419.5 145.4h1.0v1.0h-1.0zM423.2 145.3h1.0v1.0h-1.0zM430.2 145.5h1.0v1.0h-1.0zM423.7 164.8h1.0v1.0h-1.0zM397.2 135.7h1.0v1.0h-1.0zM421.0 144.4h1.0v1.0h-1.0zM412.4 151.0h1.0v1.0h-1.0zM414.9 147.4h1.0v1.0h-1.0zM422.2 161.4h1.0v1.0h-1.0zM426.7 157.1h1.0v1.0h-1.0zM422.2 172.8h1.0v1.0h-1.0zM404.1 129.0h1.0v1.0h-1.0zM420.1 161.2h1.0v1.0h-1.0zM414.3 176.2h1.0v1.0h-1.0zM434.8 155.1h1.0v1.0h-1.0zM423.0 160.0h1.0v1.0h-1.0zM424.4 146.9h1.0v1.0h-1.0zM407.3 144.0h1.0v1.0h-1.0zM427.9 175.7h1.0v1.0h-1.0zM433.1 163.9h1.0v1.0h-1.0zM425.2 146.3h1.0v1.0h-1.0zM431.3 171.3h1.0v1.0h-1.0zM402.6 129.6h1.0v1.0h-1.0zM404.8 146.7h1.0v1.0h-1.0zM422.6 157.2h1.0v1.0h-1.0zM415.7 141.4h1.0v1.0h-1.0zM418.0 150.3h1.0v1.0h-1.0zM428.6 142.4h1.0v1.0h-1.0zM430.6 148.2h1.0v1.0h-1.0zM431.1 174.2h1.0v1.0h-1.0zM421.6 184.2h1.0v1.0h-1.0zM417.4 151.3h1.0v1.0h-1.0zM431.2 167.6h1.0v1.0h-1.0zM435.3 158.4h1.0v1.0h-1.0zM430.9 169.0h1.0v1.0h-1.0zM413.7 149.8h1.0v1.0h-1.0zM414.6 171.0h1.0v1.0h-1.0zM413.3 134.3h1.0v1.0h-1.0zM423.3 149.0h1.0v1.0h-1.0zM429.5 174.2h1.0v1.0h-1.0zM416.7 132.8h1.0v1.0h-1.0zM435.6 153.4h1.0v1.0h-1.0zM428.1 155.6h1.0v1.0h-1.0zM422.1 151.2h1.0v1.0h-1.0zM434.3 154.0h1.0v1.0h-1.0zM430.1 154.2h1.0v1.0h-1.0zM416.7 136.3h1.0v1.0h-1.0zM430.0 150.6h1.0v1.0h-1.0zM430.7 161.0h1.0v1.0h-1.0zM430.4 174.3h1.0v1.0h-1.0zM435.0 152.8h1.0v1.0h-1.0zM404.1 134.7h1.0v1.0h-1.0zM423.3 156.5h1.0v1.0h-1.0zM411.4 141.2h1.0v1.0h-1.0zM405.1 130.6h1.0v1.0h-1.0zM434.7 163.7h1.0v1.0h-1.0zM425.6 136.6h1.0v1.0h-1.0zM409.0 129.0h1.0v1.0h-1.0zM419.2 146.3h1.0v1.0h-1.0zM396.5 135.9h1.0v1.0h-1.0zM431.6 168.7h1.0v1.0h-1.0zM411.7 134.0h1.0v1.0h-1.0zM428.7 165.9h1.0v1.0h-1.0zM431.6 175.7h1.0v1.0h-1.0zM429.0 154.6h1.0v1.0h-1.0zM411.1 150.4h1.0v1.0h-1.0zM416.5 129.8h1.0v1.0h-1.0zM432.3 147.2h1.0v1.0h-1.0zM435.5 159.5h1.0v1.0h-1.0zM427.3 138.9h1.0v1.0h-1.0zM421.2 170.1h1.0v1.0h-1.0zM418.1 134.8h1.0v1.0h-1.0zM431.3 167.8h1.0v1.0h-1.0zM429.5 140.0h1.0v1.0h-1.0zM408.1 135.2h1.0v1.0h-1.0zM414.6 154.2h1.0v1.0h-1.0zM413.1 169.2h1.0v1.0h-1.0zM430.5 146.9h1.0v1.0h-1.0zM417.6 167.0h1.0v1.0h-1.0zM413.0 156.5h1.0v1.0h-1.0zM417.9 136.1h1.0v1.0h-1.0zM427.3 138.6h1.0v1.0h-1.0zM418.8 135.7h1.0v1.0h-1.0zM430.1 168.6h1.0v1.0h-1.0zM418.3 171.5h1.0v1.0h-1.0zM421.1 153.1h1.0v1.0h-1.0zM429.9 178.3h1.0v1.0h-1.0zM431.7 152.3h1.0v1.0h-1.0zM421.7 155.7h1.0v1.0h-1.0zM414.7 152.5h1.0v1.0h-1.0zM430.9 163.9h1.0v1.0h-1.0zM433.9 163.2h1.0v1.0h-1.0zM429.7 141.6h1.0v1.0h-1.0zM415.9 166.9h1.0v1.0h-1.0zM425.4 137.9h1.0v1.0h-1.0zM414.1 133.8h1.0v1.0h-1.0zM423.5 135.9h1.0v1.0h-1.0zM415.9 132.9h1.0v1.0h-1.0zM411.0 158.4h1.0v1.0h-1.0zM412.9 169.4h1.0v1.0h-1.0zM429.4 168.8h1.0v1.0h-1.0zM434.0 151.7h1.0v1.0h-1.0zM421.9 164.9h1.0v1.0h-1.0zM401.2 138.8h1.0v1.0h-1.0zM424.2 166.3h1.0v1.0h-1.0zM415.5 136.3h1.0v1.0h-1.0zM412.2 172.2h1.0v1.0h-1.0zM395.7 130.4h1.0v1.0h-1.0zM410.5 135.6h1.0v1.0h-1.0zM428.9 166.0h1.0v1.0h-1.0zM413.1 149.0h1.0v1.0h-1.0zM412.8 132.7h1.0v1.0h-1.0zM433.1 168.1h1.0v1.0h-1.0zM427.0 167.6h1.0v1.0h-1.0zM426.7 137.8h1.0v1.0h-1.0zM418.0 130.6h1.0v1.0h-1.0zM426.2 142.6h1.0v1.0h-1.0zM422.5 184.5h1.0v1.0h-1.0zM413.9 138.6h1.0v1.0h-1.0zM420.9 134.0h1.0v1.0h-1.0zM402.1 135.7h1.0v1.0h-1.0zM408.6 149.2h1.0v1.0h-1.0zM435.9 155.3h1.0v1.0h-1.0zM424.9 165.8h1.0v1.0h-1.0zM417.2 159.5h1.0v1.0h-1.0zM423.3 135.5h1.0v1.0h-1.0zM414.1 136.0h1.0v1.0h-1.0zM418.0 146.6h1.0v1.0h-1.0zM416.1 153.0h1.0v1.0h-1.0zM426.2 155.3h1.0v1.0h-1.0zM414.3 158.9h1.0v1.0h-1.0zM423.5 155.8h1.0v1.0h-1.0zM430.9 146.3h1.0v1.0h-1.0zM408.9 135.9h1.0v1.0h-1.0zM410.6 139.9h1.0v1.0h-1.0zM430.7 153.5h1.0v1.0h-1.0zM417.2 161.7h1.0v1.0h-1.0zM416.1 158.1h1.0v1.0h-1.0zM404.1 130.7h1.0v1.0h-1.0zM422.3 150.0h1.0v1.0h-1.0zM418.0 136.0h1.0v1.0h-1.0zM430.3 151.3h1.0v1.0h-1.0zM431.8 175.0h1.0v1.0h-1.0zM423.2 138.2h1.0v1.0h-1.0zM429.9 163.3h1.0v1.0h-1.0zM397.6 134.5h1.0v1.0h-1.0zM408.6 145.1h1.0v1.0h-1.0zM411.4 145.1h1.0v1.0h-1.0zM417.1 155.0h1.0v1.0h-1.0zM403.2 143.9h1.0v1.0h-1.0zM421.8 152.0h1.0v1.0h-1.0zM410.6 152.6h1.0v1.0h-1.0zM410.1 154.2h1.0v1.0h-1.0zM432.8 160.9h1.0v1.0h-1.0zM425.2 167.1h1.0v1.0h-1.0zM423.8 134.8h1.0v1.0h-1.0zM408.4 142.5h1.0v1.0h-1.0zM424.3 160.9h1.0v1.0h-1.0zM428.0 161.2h1.0v1.0h-1.0zM421.7 177.7h1.0v1.0h-1.0zM423.8 175.3h1.0v1.0h-1.0zM417.9 155.5h1.0v1.0h-1.0zM415.9 176.0h1.0v1.0h-1.0zM421.3 159.0h1.0v1.0h-1.0zM418.2 132.4h1.0v1.0h-1.0zM436.0 163.5h1.0v1.0h-1.0zM415.2 143.6h1.0v1.0h-1.0zM421.4 149.3h1.0v1.0h-1.0zM419.0 185.6h1.0v1.0h-1.0zM431.7 158.1h1.0v1.0h-1.0zM404.3 153.9h1.0v1.0h-1.0zM415.5 137.8h1.0v1.0h-1.0zM400.5 133.7h1.0v1.0h-1.0zM413.1 133.2h1.0v1.0h-1.0zM430.7 143.2h1.0v1.0h-1.0zM411.1 136.5h1.0v1.0h-1.0zM418.4 145.4h1.0v1.0h-1.0zM422.3 150.0h1.0v1.0h-1.0zM431.8 158.8h1.0v1.0h-1.0zM422.5 165.1h1.0v1.0h-1.0zM396.7 134.4h1.0v1.0h-1.0zM415.2 148.9h1.0v1.0h-1.0zM417.0 176.0h1.0v1.0h-1.0zM436.5 161.9h1.0v1.0h-1.0zM358.6 137.8h1.0v1.0h-1.0zM346.5 144.4h1.0v1.0h-1.0zM351.8 146.4h1.0v1.0h-1.0zM345.7 148.3h1.0v1.0h-1.0zM362.7 136.6h1.0v1.0h-1.0zM342.6 145.3h1.0v1.0h-1.0zM364.0 139.2h1.0v1.0h-1.0zM352.8 139.9h1.0v1.0h-1.0zM358.8 139.1h1.0v1.0h-1.0zM344.7 149.3h1.0v1.0h-1.0zM354.3 140.8h1.0v1.0h-1.0zM355.7 143.7h1.0v1.0h-1.0zM352.2 140.8h1.0v1.0h-1.0zM363.4 140.6h1.0v1.0h-1.0zM362.8 136.7h1.0v1.0h-1.0zM344.3 144.2h1.0v1.0h-1.0zM343.2 144.0h1.0v1.0h-1.0zM343.7 145.8h1.0v1.0h-1.0zM356.4 137.9h1.0v1.0h-1.0zM360.1 139.4h1.0v1.0h-1.0zM342.8 145.6h1.0v1.0h-1.0zM349.5 142.9h1.0v1.0h-1.0zM351.9 141.5h1.0v1.0h-1.0zM357.2 143.6h1.0v1.0h-1.0zM344.8 149.3h1.0v1.0h-1.0zM358.3 139.1h1.0v1.0h-1.0zM354.0 139.4h1.0v1.0h-1.0zM351.6 146.0h1.0v1.0h-1.0zM352.1 141.9h1.0v1.0h-1.0zM355.3 140.4h1.0v1.0h-1.0zM353.7 139.6h1.0v1.0h-1.0zM344.1 148.2h1.0v1.0h-1.0zM357.0 143.3h1.0v1.0h-1.0zM353.9 144.0h1.0v1.0h-1.0zM355.4 143.3h1.0v1.0h-1.0zM345.4 149.3h1.0v1.0h-1.0zM349.2 143.6h1.0v1.0h-1.0zM357.2 139.7h1.0v1.0h-1.0zM346.7 144.6h1.0v1.0h-1.0zM363.8 134.0h1.0v1.0h-1.0zM360.9 142.4h1.0v1.0h-1.0zM342.4 146.9h1.0v1.0h-1.0zM359.4 140.0h1.0v1.0h-1.0zM366.3 139.3h1.0v1.0h-1.0zM344.9 146.4h1.0v1.0h-1.0zM352.2 141.6h1.0v1.0h-1.0zM348.0 148.4h1.0v1.0h-1.0zM350.9 145.7h1.0v1.0h-1.0zM364.5 135.9h1.0v1.0h-1.0zM359.9 136.3h1.0v1.0h-1.0zM347.8 148.5h1.0v1.0h-1.0zM355.4 143.1h1.0v1.0h-1.0zM362.3 138.9h1.0v1.0h-1.0zM356.8 144.1h1.0v1.0h-1.0zM349.0 147.4h1.0v1.0h-1.0zM360.2 138.1h1.0v1.0h-1.0zM358.4 140.1h1.0v1.0h-1.0zM362.5 140.9h1.0v1.0h-1.0zM362.4 138.9h1.0v1.0h-1.0zM359.2 141.2h1.0v1.0h-1.0zM347.5 147.2h1.0v1.0h-1.0zM360.6 141.0h1.0v1.0h-1.0zM362.1 138.8h1.0v1.0h-1.0zM350.0 143.4h1.0v1.0h-1.0zM360.7 137.8h1.0v1.0h-1.0zM363.2 140.2h1.0v1.0h-1.0zM361.2 136.5h1.0v1.0h-1.0zM349.8 143.8h1.0v1.0h-1.0zM346.9 147.0h1.0v1.0h-1.0zM363.5 141.1h1.0v1.0h-1.0zM361.5 136.2h1.0v1.0h-1.0zM355.3 139.8h1.0v1.0h-1.0zM343.3 145.5h1.0v1.0h-1.0zM357.6 139.9h1.0v1.0h-1.0zM355.5 140.3h1.0v1.0h-1.0zM343.8 150.3h1.0v1.0h-1.0zM359.4 137.6h1.0v1.0h-1.0zM362.8 141.2h1.0v1.0h-1.0zM355.1 139.6h1.0v1.0h-1.0zM360.2 136.2h1.0v1.0h-1.0zM352.4 139.7h1.0v1.0h-1.0zM342.5 148.0h1.0v1.0h-1.0zM352.2 143.4h1.0v1.0h-1.0zM344.5 148.2h1.0v1.0h-1.0zM352.3 142.0h1.0v1.0h-1.0zM359.9 140.1h1.0v1.0h-1.0zM351.3 143.8h1.0v1.0h-1.0zM349.9 145.7h1.0v1.0h-1.0zM354.5 143.9h1.0v1.0h-1.0zM345.6 143.8h1.0v1.0h-1.0zM355.3 138.5h1.0v1.0h-1.0zM349.5 147.3h1.0v1.0h-1.0zM354.4 140.5h1.0v1.0h-1.0zM353.5 140.8h1.0v1.0h-1.0zM343.2 146.4h1.0v1.0h-1.0zM347.6 148.2h1.0v1.0h-1.0zM358.1 139.9h1.0v1.0h-1.0zM361.7 138.5h1.0v1.0h-1.0zM355.5 143.8h1.0v1.0h-1.0zM353.1 140.8h1.0v1.0h-1.0zM358.3 138.7h1.0v1.0h-1.0zM346.3 147.2h1.0v1.0h-1.0zM351.3 140.5h1.0v1.0h-1.0zM350.0 145.8h1.0v1.0h-1.0zM356.9 138.1h1.0v1.0h-1.0zM360.2 137.6h1.0v1.0h-1.0zM363.4 137.0h1.0v1.0h-1.0zM349.0 143.2h1.0v1.0h-1.0zM352.1 143.2h1.0v1.0h-1.0zM349.7 141.8h1.0v1.0h-1.0zM351.6 141.4h1.0v1.0h-1.0zM409.4 199.2h1.0v1.0h-1.0zM412.6 198.3h1.0v1.0h-1.0zM414.9 197.2h1.0v1.0h-1.0zM413.8 194.8h1.0v1.0h-1.0zM426.9 189.9h1.0v1.0h-1.0zM429.8 191.7h1.0v1.0h-1.0zM433.8 188.4h1.0v1.0h-1.0zM416.0 194.4h1.0v1.0h-1.0zM404.4 197.9h1.0v1.0h-1.0zM399.1 201.9h1.0v1.0h-1.0zM399.2 201.3h1.0v1.0h-1.0zM419.5 195.6h1.0v1.0h-1.0zM423.8 192.1h1.0v1.0h-1.0zM400.5 202.8h1.0v1.0h-1.0zM404.1 203.6h1.0v1.0h-1.0zM427.0 189.4h1.0v1.0h-1.0zM414.0 200.4h1.0v1.0h-1.0zM397.8 201.1h1.0v1.0h-1.0zM403.5 198.7h1.0v1.0h-1.0zM413.2 195.9h1.0v1.0h-1.0zM404.6 199.8h1.0v1.0h-1.0zM417.8 192.5h1.0v1.0h-1.0zM414.5 198.5h1.0v1.0h-1.0zM438.5 186.7h1.0v1.0h-1.0zM414.7 196.0h1.0v1.0h-1.0zM400.2 205.4h1.0v1.0h-1.0zM404.3 201.1h1.0v1.0h-1.0zM404.2 201.9h1.0v1.0h-1.0zM415.5 197.9h1.0v1.0h-1.0zM437.4 188.7h1.0v1.0h-1.0zM419.9 195.2h1.0v1.0h-1.0zM409.5 200.5h1.0v1.0h-1.0zM403.8 201.4h1.0v1.0h-1.0zM408.6 199.0h1.0v1.0h-1.0zM422.9 190.0h1.0v1.0h-1.0zM415.4 199.0h1.0v1.0h-1.0zM415.8 196.7h1.0v1.0h-1.0zM410.1 198.0h1.0v1.0h-1.0zM427.7 192.1h1.0v1.0h-1.0zM425.3 188.0h1.0v1.0h-1.0zM408.9 200.8h1.0v1.0h-1.0zM437.3 183.2h1.0v1.0h-1.0zM437.4 183.7h1.0v1.0h-1.0zM438.0 187.1h1.0v1.0h-1.0zM420.9 193.4h1.0v1.0h-1.0zM424.4 195.2h1.0v1.0h-1.0zM417.3 197.2h1.0v1.0h-1.0zM436.8 184.9h1.0v1.0h-1.0zM425.7 191.4h1.0v1.0h-1.0zM425.5 190.5h1.0v1.0h-1.0zM414.5 199.6h1.0v1.0h-1.0zM420.0 191.3h1.0v1.0h-1.0zM415.2 194.9h1.0v1.0h-1.0zM421.7 190.0h1.0v1.0h-1.0zM410.5 198.4h1.0v1.0h-1.0zM430.7 186.8h1.0v1.0h-1.0zM414.9 196.1h1.0v1.0h-1.0zM402.3 203.6h1.0v1.0h-1.0zM419.4 190.9h1.0v1.0h-1.0zM404.2 205.0h1.0v1.0h-1.0zM419.0 197.9h1.0v1.0h-1.0zM427.9 193.7h1.0v1.0h-1.0zM435.4 185.7h1.0v1.0h-1.0zM413.9 194.0h1.0v1.0h-1.0zM404.3 200.3h1.0v1.0h-1.0zM428.0 187.9h1.0v1.0h-1.0zM397.2 201.5h1.0v1.0h-1.0zM415.7 198.1h1.0v1.0h-1.0zM422.2 191.4h1.0v1.0h-1.0zM429.4 187.7h1.0v1.0h-1.0zM427.4 190.4h1.0v1.0h-1.0zM412.1 194.8h1.0v1.0h-1.0zM426.0 192.5h1.0v1.0h-1.0zM425.2 191.7h1.0v1.0h-1.0zM425.0 192.8h1.0v1.0h-1.0zM402.9 202.5h1.0v1.0h-1.0zM420.6 191.3h1.0v1.0h-1.0zM402.3 205.0h1.0v1.0h-1.0zM426.7 189.2h1.0v1.0h-1.0zM412.9 199.4h1.0v1.0h-1.0zM421.2 191.5h1.0v1.0h-1.0zM403.8 200.8h1.0v1.0h-1.0zM412.4 194.2h1.0v1.0h-1.0zM424.9 189.3h1.0v1.0h-1.0zM407.3 200.5h1.0v1.0h-1.0zM407.0 201.7h1.0v1.0h-1.0zM417.9 192.2h1.0v1.0h-1.0zM425.9 190.0h1.0v1.0h-1.0z" fill="#2878f0"/><path d="M390.8 177.4h1.0v1.0h-1.0zM383.6 196.7h1.0v1.0h-1.0zM389.8 166.7h1.0v1.0h-1.0zM350.5 191.0h1.0v1.0h-1.0zM394.6 193.9h1.0v1.0h-1.0zM389.1 185.8h1.0v1.0h-1.0zM394.1 168.9h1.0v1.0h-1.0zM344.7 172.1h1.0v1.0h-1.0zM382.3 170.4h1.0v1.0h-1.0zM397.4 191.8h1.0v1.0h-1.0zM368.2 150.9h1.0v1.0h-1.0zM383.8 155.2h1.0v1.0h-1.0zM384.2 183.0h1.0v1.0h-1.0zM392.5 170.7h1.0v1.0h-1.0zM349.3 186.2h1.0v1.0h-1.0zM347.9 174.4h1.0v1.0h-1.0zM388.9 180.3h1.0v1.0h-1.0zM385.2 186.0h1.0v1.0h-1.0zM386.1 165.1h1.0v1.0h-1.0zM385.7 183.0h1.0v1.0h-1.0zM387.7 197.8h1.0v1.0h-1.0zM350.9 185.5h1.0v1.0h-1.0zM368.4 161.8h1.0v1.0h-1.0zM353.0 190.4h1.0v1.0h-1.0zM390.8 197.9h1.0v1.0h-1.0zM386.2 162.1h1.0v1.0h-1.0zM393.5 188.8h1.0v1.0h-1.0zM384.7 182.6h1.0v1.0h-1.0zM392.1 182.8h1.0v1.0h-1.0zM377.4 180.2h1.0v1.0h-1.0zM384.8 153.0h1.0v1.0h-1.0zM396.9 197.2h1.0v1.0h-1.0zM349.5 185.7h1.0v1.0h-1.0zM396.8 198.5h1.0v1.0h-1.0zM383.4 154.1h1.0v1.0h-1.0zM394.4 174.1h1.0v1.0h-1.0zM382.0 163.8h1.0v1.0h-1.0zM375.4 148.3h1.0v1.0h-1.0zM380.7 170.6h1.0v1.0h-1.0zM389.4 179.2h1.0v1.0h-1.0zM391.3 185.6h1.0v1.0h-1.0zM385.9 199.0h1.0v1.0h-1.0zM387.8 176.1h1.0v1.0h-1.0zM397.0 180.0h1.0v1.0h-1.0zM384.5 161.6h1.0v1.0h-1.0zM395.6 185.1h1.0v1.0h-1.0zM391.4 197.0h1.0v1.0h-1.0zM383.7 196.7h1.0v1.0h-1.0zM388.6 157.8h1.0v1.0h-1.0zM350.6 190.0h1.0v1.0h-1.0zM385.0 195.8h1.0v1.0h-1.0zM396.4 184.7h1.0v1.0h-1.0zM384.4 181.4h1.0v1.0h-1.0zM382.7 189.0h1.0v1.0h-1.0zM385.9 202.1h1.0v1.0h-1.0zM381.9 181.7h1.0v1.0h-1.0zM374.3 173.6h1.0v1.0h-1.0zM347.7 184.0h1.0v1.0h-1.0zM401.9 192.1h1.0v1.0h-1.0zM372.5 160.2h1.0v1.0h-1.0zM375.3 143.4h1.0v1.0h-1.0zM379.4 150.4h1.0v1.0h-1.0zM375.7 138.4h1.0v1.0h-1.0zM382.4 170.1h1.0v1.0h-1.0zM380.2 177.9h1.0v1.0h-1.0zM383.4 184.0h1.0v1.0h-1.0zM380.0 189.0h1.0v1.0h-1.0zM384.4 189.6h1.0v1.0h-1.0zM389.2 201.4h1.0v1.0h-1.0zM384.2 185.3h1.0v1.0h-1.0zM388.6 168.3h1.0v1.0h-1.0zM374.2 155.0h1.0v1.0h-1.0zM378.9 137.2h1.0v1.0h-1.0zM391.5 171.0h1.0v1.0h-1.0zM381.9 151.5h1.0v1.0h-1.0zM361.6 155.7h1.0v1.0h-1.0zM395.5 183.7h1.0v1.0h-1.0zM379.0 168.4h1.0v1.0h-1.0zM387.9 180.2h1.0v1.0h-1.0zM402.6 195.7h1.0v1.0h-1.0zM378.8 170.5h1.0v1.0h-1.0zM371.6 153.9h1.0v1.0h-1.0zM387.7 192.3h1.0v1.0h-1.0zM380.9 153.5h1.0v1.0h-1.0zM373.4 174.7h1.0v1.0h-1.0zM376.2 169.6h1.0v1.0h-1.0zM391.1 173.4h1.0v1.0h-1.0zM376.9 163.5h1.0v1.0h-1.0zM387.4 181.0h1.0v1.0h-1.0zM383.5 198.0h1.0v1.0h-1.0zM381.8 177.1h1.0v1.0h-1.0zM383.1 163.6h1.0v1.0h-1.0zM391.7 188.1h1.0v1.0h-1.0zM378.1 181.1h1.0v1.0h-1.0zM377.0 187.7h1.0v1.0h-1.0zM386.6 171.3h1.0v1.0h-1.0zM384.6 203.1h1.0v1.0h-1.0zM373.0 158.0h1.0v1.0h-1.0zM378.9 166.0h1.0v1.0h-1.0zM381.9 158.2h1.0v1.0h-1.0zM349.8 184.8h1.0v1.0h-1.0zM345.5 177.5h1.0v1.0h-1.0zM375.7 148.4h1.0v1.0h-1.0zM362.1 154.9h1.0v1.0h-1.0zM405.0 193.5h1.0v1.0h-1.0zM381.7 189.4h1.0v1.0h-1.0zM382.3 159.5h1.0v1.0h-1.0zM380.7 162.1h1.0v1.0h-1.0zM379.9 164.6h1.0v1.0h-1.0zM395.7 188.5h1.0v1.0h-1.0zM376.6 181.2h1.0v1.0h-1.0zM382.0 157.8h1.0v1.0h-1.0zM368.3 151.5h1.0v1.0h-1.0zM380.1 194.3h1.0v1.0h-1.0zM354.2 190.0h1.0v1.0h-1.0zM387.3 179.6h1.0v1.0h-1.0zM384.2 155.2h1.0v1.0h-1.0zM368.4 141.5h1.0v1.0h-1.0z" fill="#f0f050"/><path d="M389.0 199.3h1.0v1.0h-1.0zM372.0 185.6h1.0v1.0h-1.0zM382.1 175.7h1.0v1.0h-1.0zM362.3 167.5h1.0v1.0h-1.0zM379.8 175.9h1.0v1.0h-1.0zM381.7 200.0h1.0v1.0h-1.0zM360.1 153.9h1.0v1.0h-1.0zM385.4 199.5h1.0v1.0h-1.0zM367.2 167.8h1.0v1.0h-1.0zM379.7 181.3h1.0v1.0h-1.0zM383.9 173.3h1.0v1.0h-1.0zM371.8 189.5h1.0v1.0h-1.0zM372.6 173.3h1.0v1.0h-1.0zM373.6 199.1h1.0v1.0h-1.0zM390.3 191.9h1.0v1.0h-1.0zM379.0 195.7h1.0v1.0h-1.0zM376.8 191.4h1.0v1.0h-1.0zM383.0 181.0h1.0v1.0h-1.0zM384.1 195.6h1.0v1.0h-1.0zM390.8 201.4h1.0v1.0h-1.0zM377.4 160.4h1.0v1.0h-1.0zM384.3 171.8h1.0v1.0h-1.0zM360.8 164.8h1.0v1.0h-1.0zM373.1 181.4h1.0v1.0h-1.0zM367.6 162.9h1.0v1.0h-1.0zM373.5 167.4h1.0v1.0h-1.0zM364.0 167.1h1.0v1.0h-1.0zM372.1 186.0h1.0v1.0h-1.0zM382.6 185.2h1.0v1.0h-1.0zM379.1 179.6h1.0v1.0h-1.0zM380.0 191.6h1.0v1.0h-1.0zM371.5 167.7h1.0v1.0h-1.0zM372.3 177.0h1.0v1.0h-1.0zM376.5 186.3h1.0v1.0h-1.0zM367.4 149.9h1.0v1.0h-1.0zM382.3 203.2h1.0v1.0h-1.0zM381.6 169.2h1.0v1.0h-1.0zM379.6 156.9h1.0v1.0h-1.0zM367.8 176.1h1.0v1.0h-1.0zM346.8 183.9h1.0v1.0h-1.0zM374.1 155.9h1.0v1.0h-1.0zM394.1 197.9h1.0v1.0h-1.0zM393.2 198.3h1.0v1.0h-1.0zM357.6 163.5h1.0v1.0h-1.0zM381.1 164.4h1.0v1.0h-1.0zM375.7 196.9h1.0v1.0h-1.0zM391.6 193.8h1.0v1.0h-1.0zM380.8 182.2h1.0v1.0h-1.0zM372.4 165.6h1.0v1.0h-1.0zM377.9 157.8h1.0v1.0h-1.0zM362.3 166.6h1.0v1.0h-1.0zM377.2 154.5h1.0v1.0h-1.0zM364.5 167.6h1.0v1.0h-1.0zM347.3 183.6h1.0v1.0h-1.0zM379.9 203.0h1.0v1.0h-1.0zM379.2 179.4h1.0v1.0h-1.0zM368.1 169.7h1.0v1.0h-1.0zM373.3 193.6h1.0v1.0h-1.0zM382.0 202.1h1.0v1.0h-1.0zM367.8 168.6h1.0v1.0h-1.0zM372.6 180.4h1.0v1.0h-1.0zM382.8 172.3h1.0v1.0h-1.0zM371.0 140.5h1.0v1.0h-1.0zM383.6 175.2h1.0v1.0h-1.0zM379.4 154.7h1.0v1.0h-1.0zM353.5 188.6h1.0v1.0h-1.0zM369.9 142.5h1.0v1.0h-1.0zM388.9 199.5h1.0v1.0h-1.0zM375.1 166.8h1.0v1.0h-1.0zM353.0 193.5h1.0v1.0h-1.0zM384.4 171.7h1.0v1.0h-1.0zM375.4 169.6h1.0v1.0h-1.0zM381.2 204.1h1.0v1.0h-1.0zM385.4 169.8h1.0v1.0h-1.0zM393.8 195.7h1.0v1.0h-1.0zM362.6 149.8h1.0v1.0h-1.0zM364.0 150.1h1.0v1.0h-1.0zM386.4 197.3h1.0v1.0h-1.0zM346.5 182.8h1.0v1.0h-1.0zM369.3 178.3h1.0v1.0h-1.0zM357.2 166.1h1.0v1.0h-1.0zM358.3 162.8h1.0v1.0h-1.0zM376.9 202.5h1.0v1.0h-1.0zM376.2 174.2h1.0v1.0h-1.0zM360.4 154.0h1.0v1.0h-1.0zM367.5 184.3h1.0v1.0h-1.0zM386.1 170.0h1.0v1.0h-1.0zM382.9 171.5h1.0v1.0h-1.0zM371.2 160.4h1.0v1.0h-1.0zM376.9 171.3h1.0v1.0h-1.0zM374.7 154.7h1.0v1.0h-1.0zM382.6 202.1h1.0v1.0h-1.0zM372.9 178.2h1.0v1.0h-1.0zM376.4 163.6h1.0v1.0h-1.0zM382.9 175.6h1.0v1.0h-1.0zM369.9 181.2h1.0v1.0h-1.0zM367.2 153.0h1.0v1.0h-1.0zM379.0 175.5h1.0v1.0h-1.0zM384.7 173.8h1.0v1.0h-1.0zM354.6 161.7h1.0v1.0h-1.0zM349.0 187.8h1.0v1.0h-1.0zM372.0 187.0h1.0v1.0h-1.0zM368.3 155.0h1.0v1.0h-1.0zM375.7 196.4h1.0v1.0h-1.0zM365.5 150.7h1.0v1.0h-1.0zM371.0 190.5h1.0v1.0h-1.0zM365.1 158.8h1.0v1.0h-1.0zM373.4 170.1h1.0v1.0h-1.0zM363.1 170.1h1.0v1.0h-1.0zM368.8 168.8h1.0v1.0h-1.0zM348.2 183.8h1.0v1.0h-1.0zM394.6 191.4h1.0v1.0h-1.0zM364.7 163.0h1.0v1.0h-1.0zM378.0 159.3h1.0v1.0h-1.0zM387.1 180.0h1.0v1.0h-1.0zM371.4 191.0h1.0v1.0h-1.0zM351.3 188.7h1.0v1.0h-1.0zM361.1 167.1h1.0v1.0h-1.0zM352.9 192.6h1.0v1.0h-1.0zM352.7 190.8h1.0v1.0h-1.0zM380.4 190.6h1.0v1.0h-1.0zM394.4 191.0h1.0v1.0h-1.0zM375.4 177.4h1.0v1.0h-1.0zM389.9 199.8h1.0v1.0h-1.0zM367.7 182.7h1.0v1.0h-1.0zM384.3 188.7h1.0v1.0h-1.0zM372.8 175.9h1.0v1.0h-1.0zM390.8 201.6h1.0v1.0h-1.0zM368.2 160.1h1.0v1.0h-1.0zM349.8 182.6h1.0v1.0h-1.0zM366.9 182.6h1.0v1.0h-1.0zM369.0 151.2h1.0v1.0h-1.0zM387.1 193.6h1.0v1.0h-1.0zM377.1 154.1h1.0v1.0h-1.0zM375.5 156.5h1.0v1.0h-1.0zM360.1 157.6h1.0v1.0h-1.0zM372.1 185.8h1.0v1.0h-1.0zM356.7 164.1h1.0v1.0h-1.0zM362.7 149.7h1.0v1.0h-1.0zM365.5 172.7h1.0v1.0h-1.0zM378.2 156.7h1.0v1.0h-1.0zM362.1 174.6h1.0v1.0h-1.0zM383.4 186.6h1.0v1.0h-1.0zM380.0 203.3h1.0v1.0h-1.0zM366.8 169.4h1.0v1.0h-1.0zM371.3 150.6h1.0v1.0h-1.0zM385.8 176.1h1.0v1.0h-1.0zM370.4 148.2h1.0v1.0h-1.0zM389.6 202.1h1.0v1.0h-1.0zM375.1 176.1h1.0v1.0h-1.0zM352.4 188.9h1.0v1.0h-1.0zM370.2 182.0h1.0v1.0h-1.0zM366.3 155.2h1.0v1.0h-1.0zM367.8 147.4h1.0v1.0h-1.0zM349.2 185.1h1.0v1.0h-1.0zM369.2 161.7h1.0v1.0h-1.0zM370.6 170.6h1.0v1.0h-1.0zM371.2 169.0h1.0v1.0h-1.0zM376.1 194.0h1.0v1.0h-1.0zM390.7 181.6h1.0v1.0h-1.0zM361.5 165.8h1.0v1.0h-1.0zM382.6 176.7h1.0v1.0h-1.0zM352.0 188.7h1.0v1.0h-1.0zM367.8 164.1h1.0v1.0h-1.0zM363.4 149.6h1.0v1.0h-1.0zM387.2 201.2h1.0v1.0h-1.0zM371.4 153.0h1.0v1.0h-1.0zM399.0 197.4h1.0v1.0h-1.0zM375.4 157.6h1.0v1.0h-1.0zM373.9 174.2h1.0v1.0h-1.0zM369.2 158.6h1.0v1.0h-1.0z" fill="#f0c828"/><path d="M384.3 190.2h1.0v1.0h-1.0zM373.4 170.7h1.0v1.0h-1.0zM347.7 171.6h1.0v1.0h-1.0zM395.2 168.9h1.0v1.0h-1.0zM395.2 172.8h1.0v1.0h-1.0zM389.6 164.2h1.0v1.0h-1.0zM374.8 141.5h1.0v1.0h-1.0zM385.4 186.4h1.0v1.0h-1.0zM379.4 146.0h1.0v1.0h-1.0zM396.5 184.6h1.0v1.0h-1.0zM373.6 162.1h1.0v1.0h-1.0zM390.3 189.8h1.0v1.0h-1.0zM392.6 198.7h1.0v1.0h-1.0zM371.7 160.6h1.0v1.0h-1.0zM376.6 168.8h1.0v1.0h-1.0zM387.1 162.9h1.0v1.0h-1.0zM355.6 188.2h1.0v1.0h-1.0zM385.7 179.3h1.0v1.0h-1.0zM383.3 163.4h1.0v1.0h-1.0zM348.6 180.7h1.0v1.0h-1.0zM385.1 160.4h1.0v1.0h-1.0zM384.1 147.3h1.0v1.0h-1.0zM383.1 172.7h1.0v1.0h-1.0zM374.1 150.9h1.0v1.0h-1.0zM378.3 178.1h1.0v1.0h-1.0zM371.1 143.0h1.0v1.0h-1.0zM390.4 160.6h1.0v1.0h-1.0zM403.7 191.8h1.0v1.0h-1.0zM388.2 177.3h1.0v1.0h-1.0zM347.9 177.5h1.0v1.0h-1.0zM388.6 171.7h1.0v1.0h-1.0zM386.9 191.3h1.0v1.0h-1.0zM385.0 168.0h1.0v1.0h-1.0zM368.3 141.8h1.0v1.0h-1.0zM384.8 174.4h1.0v1.0h-1.0zM372.9 164.4h1.0v1.0h-1.0zM399.5 186.0h1.0v1.0h-1.0zM375.1 145.3h1.0v1.0h-1.0zM388.7 184.1h1.0v1.0h-1.0zM367.2 159.0h1.0v1.0h-1.0zM392.2 176.0h1.0v1.0h-1.0zM404.2 192.2h1.0v1.0h-1.0zM369.2 160.2h1.0v1.0h-1.0zM379.3 160.1h1.0v1.0h-1.0zM392.3 185.3h1.0v1.0h-1.0zM387.0 152.8h1.0v1.0h-1.0zM395.4 199.9h1.0v1.0h-1.0zM377.2 174.3h1.0v1.0h-1.0zM368.7 160.8h1.0v1.0h-1.0zM397.3 176.4h1.0v1.0h-1.0zM383.8 195.4h1.0v1.0h-1.0zM385.3 179.6h1.0v1.0h-1.0zM371.8 152.3h1.0v1.0h-1.0zM392.0 176.6h1.0v1.0h-1.0zM372.5 163.0h1.0v1.0h-1.0zM382.6 176.6h1.0v1.0h-1.0zM372.1 141.0h1.0v1.0h-1.0zM391.2 197.2h1.0v1.0h-1.0zM381.7 149.6h1.0v1.0h-1.0zM374.3 154.2h1.0v1.0h-1.0zM383.2 185.6h1.0v1.0h-1.0zM366.7 156.5h1.0v1.0h-1.0zM383.6 168.1h1.0v1.0h-1.0zM401.0 195.4h1.0v1.0h-1.0zM390.3 160.7h1.0v1.0h-1.0z" fill="#c8f050"/><path d="M402.0 170.2h1.0v1.0h-1.0zM395.5 174.0h1.0v1.0h-1.0zM408.6 158.1h1.0v1.0h-1.0zM397.2 178.8h1.0v1.0h-1.0zM405.4 149.8h1.0v1.0h-1.0zM386.6 152.3h1.0v1.0h-1.0zM405.2 189.6h1.0v1.0h-1.0zM401.7 181.2h1.0v1.0h-1.0zM389.6 136.2h1.0v1.0h-1.0zM415.2 179.9h1.0v1.0h-1.0zM403.4 153.1h1.0v1.0h-1.0zM408.9 165.2h1.0v1.0h-1.0zM414.8 188.3h1.0v1.0h-1.0zM397.2 147.0h1.0v1.0h-1.0zM398.6 152.6h1.0v1.0h-1.0zM416.6 169.9h1.0v1.0h-1.0zM397.8 136.8h1.0v1.0h-1.0zM354.6 156.6h1.0v1.0h-1.0zM367.7 143.7h1.0v1.0h-1.0zM349.2 170.1h1.0v1.0h-1.0zM386.9 153.1h1.0v1.0h-1.0zM409.0 158.2h1.0v1.0h-1.0zM401.1 163.6h1.0v1.0h-1.0zM396.7 166.7h1.0v1.0h-1.0zM399.2 185.8h1.0v1.0h-1.0zM379.2 137.3h1.0v1.0h-1.0zM401.6 188.8h1.0v1.0h-1.0zM405.6 190.5h1.0v1.0h-1.0zM413.8 181.3h1.0v1.0h-1.0zM345.5 169.7h1.0v1.0h-1.0zM409.2 178.4h1.0v1.0h-1.0zM417.2 183.8h1.0v1.0h-1.0zM395.7 149.3h1.0v1.0h-1.0zM366.7 144.1h1.0v1.0h-1.0zM399.3 186.8h1.0v1.0h-1.0zM389.7 148.9h1.0v1.0h-1.0zM402.1 167.8h1.0v1.0h-1.0zM400.8 148.5h1.0v1.0h-1.0zM386.2 145.2h1.0v1.0h-1.0zM361.1 149.0h1.0v1.0h-1.0zM418.1 187.5h1.0v1.0h-1.0zM345.6 175.2h1.0v1.0h-1.0zM349.0 157.9h1.0v1.0h-1.0zM380.8 146.2h1.0v1.0h-1.0zM405.4 153.5h1.0v1.0h-1.0zM393.3 170.7h1.0v1.0h-1.0zM355.3 151.6h1.0v1.0h-1.0zM407.5 173.7h1.0v1.0h-1.0zM419.0 180.2h1.0v1.0h-1.0zM397.3 178.5h1.0v1.0h-1.0zM416.2 188.0h1.0v1.0h-1.0zM357.1 149.9h1.0v1.0h-1.0zM349.0 165.9h1.0v1.0h-1.0zM407.7 164.6h1.0v1.0h-1.0zM405.5 178.5h1.0v1.0h-1.0zM419.0 182.2h1.0v1.0h-1.0zM389.2 152.2h1.0v1.0h-1.0zM386.2 135.4h1.0v1.0h-1.0zM390.1 152.4h1.0v1.0h-1.0zM389.0 137.7h1.0v1.0h-1.0zM406.7 149.4h1.0v1.0h-1.0zM399.3 136.2h1.0v1.0h-1.0zM382.4 141.9h1.0v1.0h-1.0zM397.1 162.1h1.0v1.0h-1.0zM421.4 183.9h1.0v1.0h-1.0zM407.6 159.1h1.0v1.0h-1.0zM398.9 139.2h1.0v1.0h-1.0zM412.1 172.7h1.0v1.0h-1.0zM390.4 161.1h1.0v1.0h-1.0zM353.6 154.1h1.0v1.0h-1.0zM402.1 182.0h1.0v1.0h-1.0zM402.9 159.8h1.0v1.0h-1.0zM394.7 134.8h1.0v1.0h-1.0zM346.1 163.4h1.0v1.0h-1.0zM413.0 173.9h1.0v1.0h-1.0zM350.0 157.9h1.0v1.0h-1.0zM396.7 177.8h1.0v1.0h-1.0zM394.1 154.0h1.0v1.0h-1.0zM389.5 158.3h1.0v1.0h-1.0zM394.2 174.4h1.0v1.0h-1.0zM408.3 173.2h1.0v1.0h-1.0zM392.4 165.7h1.0v1.0h-1.0zM391.9 158.0h1.0v1.0h-1.0zM409.5 191.2h1.0v1.0h-1.0zM412.7 167.8h1.0v1.0h-1.0zM401.9 150.0h1.0v1.0h-1.0zM403.4 195.8h1.0v1.0h-1.0zM417.5 189.1h1.0v1.0h-1.0zM398.3 147.0h1.0v1.0h-1.0zM417.1 177.4h1.0v1.0h-1.0zM391.0 141.8h1.0v1.0h-1.0zM386.7 144.2h1.0v1.0h-1.0zM390.5 163.3h1.0v1.0h-1.0zM383.0 144.0h1.0v1.0h-1.0zM416.9 178.6h1.0v1.0h-1.0zM409.0 187.6h1.0v1.0h-1.0zM352.1 155.2h1.0v1.0h-1.0zM386.0 133.1h1.0v1.0h-1.0zM395.7 171.4h1.0v1.0h-1.0zM394.0 132.1h1.0v1.0h-1.0zM384.9 140.8h1.0v1.0h-1.0zM391.6 161.2h1.0v1.0h-1.0zM394.0 136.1h1.0v1.0h-1.0zM387.1 160.3h1.0v1.0h-1.0zM404.5 156.8h1.0v1.0h-1.0zM397.6 144.9h1.0v1.0h-1.0zM395.9 131.8h1.0v1.0h-1.0zM389.8 153.7h1.0v1.0h-1.0zM403.1 191.6h1.0v1.0h-1.0zM382.9 134.4h1.0v1.0h-1.0zM387.5 141.3h1.0v1.0h-1.0zM380.0 148.3h1.0v1.0h-1.0zM384.1 145.5h1.0v1.0h-1.0zM396.1 162.8h1.0v1.0h-1.0zM381.6 135.6h1.0v1.0h-1.0zM390.6 171.5h1.0v1.0h-1.0zM401.1 167.9h1.0v1.0h-1.0zM407.6 192.1h1.0v1.0h-1.0zM380.5 148.4h1.0v1.0h-1.0zM403.3 160.5h1.0v1.0h-1.0zM375.8 140.3h1.0v1.0h-1.0zM400.2 143.4h1.0v1.0h-1.0zM390.4 133.6h1.0v1.0h-1.0zM392.7 142.1h1.0v1.0h-1.0zM402.1 180.9h1.0v1.0h-1.0zM393.7 164.6h1.0v1.0h-1.0zM415.6 172.5h1.0v1.0h-1.0zM390.3 134.5h1.0v1.0h-1.0zM396.0 136.7h1.0v1.0h-1.0zM395.6 172.0h1.0v1.0h-1.0zM408.5 193.0h1.0v1.0h-1.0zM346.6 172.3h1.0v1.0h-1.0zM401.6 153.1h1.0v1.0h-1.0zM411.4 185.0h1.0v1.0h-1.0zM406.0 188.5h1.0v1.0h-1.0zM385.0 150.3h1.0v1.0h-1.0zM392.8 153.0h1.0v1.0h-1.0zM386.8 137.9h1.0v1.0h-1.0zM407.5 160.0h1.0v1.0h-1.0zM378.5 130.2h1.0v1.0h-1.0zM375.4 129.3h1.0v1.0h-1.0zM382.0 132.2h1.0v1.0h-1.0zM382.8 132.0h1.0v1.0h-1.0zM382.2 130.9h1.0v1.0h-1.0zM371.2 136.7h1.0v1.0h-1.0zM367.4 133.9h1.0v1.0h-1.0zM373.9 135.3h1.0v1.0h-1.0zM367.1 137.6h1.0v1.0h-1.0zM374.3 136.1h1.0v1.0h-1.0zM366.5 134.9h1.0v1.0h-1.0zM374.2 134.7h1.0v1.0h-1.0zM372.9 132.9h1.0v1.0h-1.0zM368.1 136.2h1.0v1.0h-1.0zM378.0 132.7h1.0v1.0h-1.0zM371.5 132.9h1.0v1.0h-1.0zM377.3 128.5h1.0v1.0h-1.0zM432.6 190.8h1.0v1.0h-1.0zM423.1 195.1h1.0v1.0h-1.0zM421.1 196.5h1.0v1.0h-1.0zM411.4 196.9h1.0v1.0h-1.0zM418.3 191.6h1.0v1.0h-1.0zM415.2 196.6h1.0v1.0h-1.0zM424.7 190.9h1.0v1.0h-1.0zM422.0 196.4h1.0v1.0h-1.0zM403.4 205.0h1.0v1.0h-1.0zM433.1 185.6h1.0v1.0h-1.0zM406.6 197.2h1.0v1.0h-1.0zM405.5 202.4h1.0v1.0h-1.0zM416.5 196.5h1.0v1.0h-1.0zM398.5 201.6h1.0v1.0h-1.0zM425.8 189.3h1.0v1.0h-1.0zM429.8 189.5h1.0v1.0h-1.0zM407.0 201.8h1.0v1.0h-1.0zM415.5 193.9h1.0v1.0h-1.0zM409.8 196.4h1.0v1.0h-1.0zM422.1 192.0h1.0v1.0h-1.0zM412.9 197.7h1.0v1.0h-1.0zM430.3 188.6h1.0v1.0h-1.0zM398.9 201.4h1.0v1.0h-1.0zM424.0 189.1h1.0v1.0h-1.0zM416.3 193.8h1.0v1.0h-1.0zM433.5 189.9h1.0v1.0h-1.0zM423.4 191.1h1.0v1.0h-1.0zM415.1 192.8h1.0v1.0h-1.0zM424.1 195.1h1.0v1.0h-1.0zM398.6 201.6h1.0v1.0h-1.0zM430.3 190.5h1.0v1.0h-1.0zM430.7 188.2h1.0v1.0h-1.0zM404.0 200.4h1.0v1.0h-1.0zM412.1 197.4h1.0v1.0h-1.0zM404.3 203.8h1.0v1.0h-1.0zM413.3 196.5h1.0v1.0h-1.0zM406.9 197.2h1.0v1.0h-1.0zM415.4 198.2h1.0v1.0h-1.0zM432.0 189.2h1.0v1.0h-1.0zM423.6 193.2h1.0v1.0h-1.0zM428.6 192.9h1.0v1.0h-1.0zM426.1 192.8h1.0v1.0h-1.0zM428.6 191.1h1.0v1.0h-1.0zM405.0 201.6h1.0v1.0h-1.0zM432.6 189.7h1.0v1.0h-1.0zM416.3 194.1h1.0v1.0h-1.0zM420.7 192.2h1.0v1.0h-1.0zM413.8 195.9h1.0v1.0h-1.0zM419.9 195.9h1.0v1.0h-1.0zM414.8 194.7h1.0v1.0h-1.0zM418.4 192.8h1.0v1.0h-1.0zM401.1 203.8h1.0v1.0h-1.0zM403.3 202.6h1.0v1.0h-1.0z" fill="#50f0f0"/><path d="M374.0 179.6h1.0v1.0h-1.0zM351.9 188.3h1.0v1.0h-1.0zM355.8 191.3h1.0v1.0h-1.0zM383.8 199.9h1.0v1.0h-1.0zM368.0 157.6h1.0v1.0h-1.0zM366.3 189.5h1.0v1.0h-1.0zM378.6 181.3h1.0v1.0h-1.0zM367.5 162.5h1.0v1.0h-1.0zM349.0 185.4h1.0v1.0h-1.0zM353.2 187.1h1.0v1.0h-1.0zM368.5 181.9h1.0v1.0h-1.0zM394.3 198.6h1.0v1.0h-1.0zM373.1 200.5h1.0v1.0h-1.0zM359.2 158.0h1.0v1.0h-1.0zM367.9 185.8h1.0v1.0h-1.0zM351.4 179.7h1.0v1.0h-1.0zM353.6 192.8h1.0v1.0h-1.0zM376.3 203.9h1.0v1.0h-1.0zM358.7 172.4h1.0v1.0h-1.0zM368.1 173.0h1.0v1.0h-1.0zM359.9 162.3h1.0v1.0h-1.0zM359.1 174.2h1.0v1.0h-1.0zM374.9 158.3h1.0v1.0h-1.0zM373.6 202.9h1.0v1.0h-1.0zM356.3 193.9h1.0v1.0h-1.0zM358.9 175.8h1.0v1.0h-1.0zM368.0 181.8h1.0v1.0h-1.0zM369.9 199.5h1.0v1.0h-1.0zM367.3 197.2h1.0v1.0h-1.0zM355.2 159.2h1.0v1.0h-1.0zM367.1 190.4h1.0v1.0h-1.0zM371.1 198.5h1.0v1.0h-1.0zM367.0 149.7h1.0v1.0h-1.0zM365.2 153.1h1.0v1.0h-1.0zM369.8 185.2h1.0v1.0h-1.0zM373.7 171.3h1.0v1.0h-1.0zM371.8 151.2h1.0v1.0h-1.0zM374.3 171.1h1.0v1.0h-1.0zM382.0 201.2h1.0v1.0h-1.0zM364.8 178.0h1.0v1.0h-1.0zM371.5 155.8h1.0v1.0h-1.0zM357.8 192.8h1.0v1.0h-1.0zM372.1 158.9h1.0v1.0h-1.0zM361.5 182.9h1.0v1.0h-1.0zM360.9 159.8h1.0v1.0h-1.0zM391.0 198.7h1.0v1.0h-1.0zM370.3 198.7h1.0v1.0h-1.0zM358.3 169.4h1.0v1.0h-1.0zM368.9 194.0h1.0v1.0h-1.0zM373.6 183.7h1.0v1.0h-1.0zM365.0 149.6h1.0v1.0h-1.0zM388.7 199.8h1.0v1.0h-1.0zM378.4 189.8h1.0v1.0h-1.0zM368.5 176.0h1.0v1.0h-1.0zM365.7 160.5h1.0v1.0h-1.0zM375.1 180.9h1.0v1.0h-1.0zM377.7 177.8h1.0v1.0h-1.0zM373.0 171.9h1.0v1.0h-1.0zM371.2 199.1h1.0v1.0h-1.0zM378.5 176.6h1.0v1.0h-1.0zM373.2 198.0h1.0v1.0h-1.0zM372.8 194.5h1.0v1.0h-1.0zM390.4 190.0h1.0v1.0h-1.0zM370.6 172.4h1.0v1.0h-1.0zM371.6 173.4h1.0v1.0h-1.0zM364.3 191.8h1.0v1.0h-1.0zM372.9 179.8h1.0v1.0h-1.0zM384.1 182.1h1.0v1.0h-1.0zM362.0 180.0h1.0v1.0h-1.0zM355.8 164.0h1.0v1.0h-1.0zM360.3 165.2h1.0v1.0h-1.0zM378.1 196.7h1.0v1.0h-1.0zM382.6 184.0h1.0v1.0h-1.0zM368.7 160.0h1.0v1.0h-1.0zM371.5 169.8h1.0v1.0h-1.0zM377.9 173.3h1.0v1.0h-1.0zM369.1 151.1h1.0v1.0h-1.0zM369.2 188.0h1.0v1.0h-1.0zM377.8 191.5h1.0v1.0h-1.0zM376.1 159.9h1.0v1.0h-1.0zM368.2 166.7h1.0v1.0h-1.0zM364.3 154.7h1.0v1.0h-1.0zM380.2 171.9h1.0v1.0h-1.0zM364.4 166.7h1.0v1.0h-1.0zM365.5 189.1h1.0v1.0h-1.0zM368.3 165.1h1.0v1.0h-1.0zM372.7 201.5h1.0v1.0h-1.0zM377.3 188.7h1.0v1.0h-1.0zM367.6 157.0h1.0v1.0h-1.0zM372.9 182.6h1.0v1.0h-1.0zM358.8 173.8h1.0v1.0h-1.0zM374.5 160.0h1.0v1.0h-1.0zM363.9 172.9h1.0v1.0h-1.0zM376.0 180.7h1.0v1.0h-1.0zM370.1 146.3h1.0v1.0h-1.0zM369.2 143.1h1.0v1.0h-1.0zM373.0 158.7h1.0v1.0h-1.0zM380.3 177.8h1.0v1.0h-1.0zM377.3 180.4h1.0v1.0h-1.0zM352.4 189.0h1.0v1.0h-1.0zM366.6 186.7h1.0v1.0h-1.0zM383.3 189.5h1.0v1.0h-1.0zM376.9 201.0h1.0v1.0h-1.0zM385.6 195.8h1.0v1.0h-1.0zM373.1 161.0h1.0v1.0h-1.0zM361.2 184.8h1.0v1.0h-1.0zM386.0 185.4h1.0v1.0h-1.0zM365.9 165.4h1.0v1.0h-1.0zM378.9 196.5h1.0v1.0h-1.0zM382.9 193.3h1.0v1.0h-1.0zM381.4 187.4h1.0v1.0h-1.0zM370.7 180.1h1.0v1.0h-1.0zM367.7 162.3h1.0v1.0h-1.0zM384.2 183.5h1.0v1.0h-1.0zM355.1 193.2h1.0v1.0h-1.0zM389.2 189.5h1.0v1.0h-1.0zM371.6 190.6h1.0v1.0h-1.0zM352.9 164.4h1.0v1.0h-1.0zM369.9 161.9h1.0v1.0h-1.0zM348.9 187.9h1.0v1.0h-1.0zM388.7 200.0h1.0v1.0h-1.0zM372.7 166.1h1.0v1.0h-1.0zM363.5 152.9h1.0v1.0h-1.0zM375.4 191.8h1.0v1.0h-1.0zM380.4 202.4h1.0v1.0h-1.0zM357.4 192.5h1.0v1.0h-1.0zM358.0 154.8h1.0v1.0h-1.0zM366.5 167.1h1.0v1.0h-1.0zM359.2 152.4h1.0v1.0h-1.0zM364.6 169.0h1.0v1.0h-1.0zM380.1 200.8h1.0v1.0h-1.0zM387.4 199.7h1.0v1.0h-1.0zM358.9 179.2h1.0v1.0h-1.0zM369.7 160.9h1.0v1.0h-1.0zM365.0 149.4h1.0v1.0h-1.0zM351.7 189.5h1.0v1.0h-1.0zM369.4 164.1h1.0v1.0h-1.0zM368.8 180.8h1.0v1.0h-1.0zM370.5 167.5h1.0v1.0h-1.0zM356.0 193.4h1.0v1.0h-1.0zM367.0 169.7h1.0v1.0h-1.0zM356.9 161.2h1.0v1.0h-1.0zM351.4 191.7h1.0v1.0h-1.0zM374.3 169.9h1.0v1.0h-1.0zM376.1 197.1h1.0v1.0h-1.0zM372.3 187.6h1.0v1.0h-1.0zM379.3 180.0h1.0v1.0h-1.0zM357.0 172.3h1.0v1.0h-1.0zM350.2 184.0h1.0v1.0h-1.0zM370.0 176.3h1.0v1.0h-1.0zM352.2 187.3h1.0v1.0h-1.0zM363.7 155.2h1.0v1.0h-1.0zM357.5 167.3h1.0v1.0h-1.0zM376.4 185.5h1.0v1.0h-1.0zM369.7 145.9h1.0v1.0h-1.0zM373.0 163.7h1.0v1.0h-1.0zM367.5 163.8h1.0v1.0h-1.0zM380.4 198.1h1.0v1.0h-1.0zM368.4 171.9h1.0v1.0h-1.0zM352.9 187.0h1.0v1.0h-1.0zM359.2 168.0h1.0v1.0h-1.0zM381.4 187.7h1.0v1.0h-1.0zM374.1 195.7h1.0v1.0h-1.0zM366.8 194.9h1.0v1.0h-1.0zM367.6 191.6h1.0v1.0h-1.0zM353.6 192.9h1.0v1.0h-1.0zM371.5 171.0h1.0v1.0h-1.0zM360.9 174.2h1.0v1.0h-1.0zM355.6 169.9h1.0v1.0h-1.0zM384.8 188.3h1.0v1.0h-1.0zM387.0 188.3h1.0v1.0h-1.0zM372.1 161.4h1.0v1.0h-1.0zM367.7 167.6h1.0v1.0h-1.0zM394.1 196.9h1.0v1.0h-1.0zM351.3 183.9h1.0v1.0h-1.0z" fill="#f0a028"/><path d="M362.1 159.8h1.0v1.0h-1.0zM349.8 175.8h1.0v1.0h-1.0zM384.8 159.5h1.0v1.0h-1.0zM382.2 165.5h1.0v1.0h-1.0zM384.1 182.8h1.0v1.0h-1.0zM368.7 162.9h1.0v1.0h-1.0zM380.1 154.8h1.0v1.0h-1.0zM384.0 180.6h1.0v1.0h-1.0zM390.6 200.5h1.0v1.0h-1.0zM377.3 176.6h1.0v1.0h-1.0zM397.2 196.4h1.0v1.0h-1.0zM375.2 146.2h1.0v1.0h-1.0zM345.9 181.4h1.0v1.0h-1.0zM393.9 185.1h1.0v1.0h-1.0zM382.9 157.7h1.0v1.0h-1.0zM377.8 165.8h1.0v1.0h-1.0zM353.6 195.3h1.0v1.0h-1.0zM348.0 182.2h1.0v1.0h-1.0zM400.4 192.5h1.0v1.0h-1.0zM367.6 169.8h1.0v1.0h-1.0zM379.4 176.2h1.0v1.0h-1.0zM368.5 147.8h1.0v1.0h-1.0zM388.2 200.3h1.0v1.0h-1.0zM348.6 173.4h1.0v1.0h-1.0zM380.9 178.9h1.0v1.0h-1.0zM378.0 174.1h1.0v1.0h-1.0zM345.1 179.3h1.0v1.0h-1.0zM380.0 186.2h1.0v1.0h-1.0zM371.4 172.4h1.0v1.0h-1.0zM371.4 174.5h1.0v1.0h-1.0zM367.8 152.4h1.0v1.0h-1.0zM351.1 190.8h1.0v1.0h-1.0zM382.4 170.5h1.0v1.0h-1.0zM349.7 185.8h1.0v1.0h-1.0zM381.8 165.8h1.0v1.0h-1.0zM379.3 186.2h1.0v1.0h-1.0zM369.8 161.8h1.0v1.0h-1.0zM373.9 161.7h1.0v1.0h-1.0zM378.3 173.5h1.0v1.0h-1.0zM365.0 163.2h1.0v1.0h-1.0zM393.3 189.3h1.0v1.0h-1.0zM390.7 170.2h1.0v1.0h-1.0zM393.2 186.2h1.0v1.0h-1.0zM375.6 185.4h1.0v1.0h-1.0zM364.1 148.9h1.0v1.0h-1.0zM375.6 157.2h1.0v1.0h-1.0zM366.9 175.7h1.0v1.0h-1.0zM370.0 141.0h1.0v1.0h-1.0zM353.1 193.5h1.0v1.0h-1.0zM369.1 160.4h1.0v1.0h-1.0zM349.5 178.0h1.0v1.0h-1.0zM374.5 141.8h1.0v1.0h-1.0zM369.1 175.2h1.0v1.0h-1.0zM374.0 138.8h1.0v1.0h-1.0zM379.4 162.4h1.0v1.0h-1.0zM392.3 192.1h1.0v1.0h-1.0zM398.0 191.7h1.0v1.0h-1.0zM349.0 184.3h1.0v1.0h-1.0zM386.9 185.0h1.0v1.0h-1.0zM394.9 178.4h1.0v1.0h-1.0zM375.5 153.6h1.0v1.0h-1.0zM365.2 158.8h1.0v1.0h-1.0zM396.1 198.1h1.0v1.0h-1.0zM379.8 188.4h1.0v1.0h-1.0zM365.9 160.1h1.0v1.0h-1.0zM381.3 152.2h1.0v1.0h-1.0zM378.4 162.6h1.0v1.0h-1.0zM350.2 179.1h1.0v1.0h-1.0zM379.9 196.5h1.0v1.0h-1.0zM370.8 147.7h1.0v1.0h-1.0zM364.5 157.3h1.0v1.0h-1.0zM382.8 195.0h1.0v1.0h-1.0zM384.4 175.9h1.0v1.0h-1.0zM376.4 174.7h1.0v1.0h-1.0zM383.8 167.8h1.0v1.0h-1.0zM377.8 158.0h1.0v1.0h-1.0zM374.2 170.5h1.0v1.0h-1.0zM397.4 186.4h1.0v1.0h-1.0zM382.5 164.0h1.0v1.0h-1.0zM348.4 173.3h1.0v1.0h-1.0zM382.2 199.3h1.0v1.0h-1.0zM377.6 159.2h1.0v1.0h-1.0zM388.3 169.6h1.0v1.0h-1.0zM367.3 167.6h1.0v1.0h-1.0zM387.7 182.3h1.0v1.0h-1.0zM386.7 194.9h1.0v1.0h-1.0zM381.5 175.4h1.0v1.0h-1.0zM373.4 158.8h1.0v1.0h-1.0zM366.4 174.2h1.0v1.0h-1.0zM398.9 197.3h1.0v1.0h-1.0zM387.2 181.7h1.0v1.0h-1.0zM366.2 147.4h1.0v1.0h-1.0zM349.7 184.7h1.0v1.0h-1.0zM388.7 169.4h1.0v1.0h-1.0zM374.6 165.5h1.0v1.0h-1.0zM380.8 150.8h1.0v1.0h-1.0zM386.3 173.7h1.0v1.0h-1.0zM377.9 152.6h1.0v1.0h-1.0zM372.1 140.9h1.0v1.0h-1.0zM359.1 154.9h1.0v1.0h-1.0zM377.9 171.9h1.0v1.0h-1.0zM374.1 173.7h1.0v1.0h-1.0zM389.1 197.1h1.0v1.0h-1.0zM365.0 168.9h1.0v1.0h-1.0zM396.9 184.0h1.0v1.0h-1.0zM383.4 189.7h1.0v1.0h-1.0zM398.3 198.2h1.0v1.0h-1.0zM381.3 176.4h1.0v1.0h-1.0zM385.9 166.5h1.0v1.0h-1.0zM394.5 196.2h1.0v1.0h-1.0zM362.0 150.9h1.0v1.0h-1.0zM374.1 142.0h1.0v1.0h-1.0zM351.3 182.1h1.0v1.0h-1.0zM365.2 155.3h1.0v1.0h-1.0zM384.8 170.0h1.0v1.0h-1.0zM366.6 161.8h1.0v1.0h-1.0z" fill="#f0f028"/><path d="M412.7 183.3h1.0v1.0h-1.0zM389.4 170.7h1.0v1.0h-1.0zM349.3 164.9h1.0v1.0h-1.0zM407.9 193.3h1.0v1.0h-1.0zM371.6 139.8h1.0v1.0h-1.0zM387.9 167.5h1.0v1.0h-1.0zM378.9 155.5h1.0v1.0h-1.0zM392.9 169.0h1.0v1.0h-1.0zM390.2 183.7h1.0v1.0h-1.0zM415.2 190.3h1.0v1.0h-1.0zM397.4 178.4h1.0v1.0h-1.0zM386.1 160.6h1.0v1.0h-1.0zM383.8 142.2h1.0v1.0h-1.0zM378.7 154.8h1.0v1.0h-1.0zM349.0 167.1h1.0v1.0h-1.0zM408.9 180.5h1.0v1.0h-1.0zM375.3 142.0h1.0v1.0h-1.0zM380.9 139.1h1.0v1.0h-1.0zM390.9 140.4h1.0v1.0h-1.0zM402.0 165.9h1.0v1.0h-1.0zM383.2 161.9h1.0v1.0h-1.0zM377.9 149.4h1.0v1.0h-1.0zM400.4 189.6h1.0v1.0h-1.0zM385.3 164.9h1.0v1.0h-1.0zM378.9 149.3h1.0v1.0h-1.0zM390.7 175.0h1.0v1.0h-1.0zM390.1 142.5h1.0v1.0h-1.0zM392.7 148.6h1.0v1.0h-1.0zM355.5 155.6h1.0v1.0h-1.0zM383.7 156.7h1.0v1.0h-1.0zM404.9 168.0h1.0v1.0h-1.0zM398.7 164.1h1.0v1.0h-1.0zM358.4 152.8h1.0v1.0h-1.0zM371.0 143.0h1.0v1.0h-1.0zM399.4 183.2h1.0v1.0h-1.0zM383.6 161.7h1.0v1.0h-1.0zM393.1 182.0h1.0v1.0h-1.0zM384.0 149.6h1.0v1.0h-1.0zM408.8 181.4h1.0v1.0h-1.0zM383.2 164.3h1.0v1.0h-1.0zM388.7 170.6h1.0v1.0h-1.0zM347.7 173.6h1.0v1.0h-1.0zM386.7 140.7h1.0v1.0h-1.0zM351.8 155.4h1.0v1.0h-1.0zM405.4 194.4h1.0v1.0h-1.0zM347.5 162.2h1.0v1.0h-1.0zM382.7 147.1h1.0v1.0h-1.0zM384.8 145.3h1.0v1.0h-1.0zM385.9 141.5h1.0v1.0h-1.0zM379.7 150.1h1.0v1.0h-1.0zM410.3 179.4h1.0v1.0h-1.0zM390.7 171.9h1.0v1.0h-1.0zM409.4 176.1h1.0v1.0h-1.0zM379.4 142.9h1.0v1.0h-1.0zM412.8 182.7h1.0v1.0h-1.0zM380.4 149.7h1.0v1.0h-1.0zM380.8 159.9h1.0v1.0h-1.0zM392.6 180.7h1.0v1.0h-1.0zM405.5 168.2h1.0v1.0h-1.0zM395.4 172.8h1.0v1.0h-1.0zM408.3 173.6h1.0v1.0h-1.0zM386.7 173.0h1.0v1.0h-1.0zM383.4 152.0h1.0v1.0h-1.0zM378.9 145.7h1.0v1.0h-1.0zM387.9 144.1h1.0v1.0h-1.0zM389.8 177.7h1.0v1.0h-1.0zM344.0 171.4h1.0v1.0h-1.0zM397.1 177.6h1.0v1.0h-1.0zM392.4 147.4h1.0v1.0h-1.0zM403.3 171.1h1.0v1.0h-1.0zM395.5 177.8h1.0v1.0h-1.0zM393.8 147.6h1.0v1.0h-1.0zM390.9 164.4h1.0v1.0h-1.0zM411.5 182.8h1.0v1.0h-1.0zM394.8 151.6h1.0v1.0h-1.0zM395.9 162.1h1.0v1.0h-1.0zM381.6 167.1h1.0v1.0h-1.0zM407.1 193.7h1.0v1.0h-1.0zM397.1 196.1h1.0v1.0h-1.0zM400.2 187.7h1.0v1.0h-1.0zM381.3 131.7h1.0v1.0h-1.0zM377.3 133.8h1.0v1.0h-1.0zM366.7 137.5h1.0v1.0h-1.0zM375.4 133.6h1.0v1.0h-1.0zM372.5 134.3h1.0v1.0h-1.0zM373.8 132.6h1.0v1.0h-1.0zM365.0 133.5h1.0v1.0h-1.0zM380.8 132.6h1.0v1.0h-1.0zM374.6 129.9h1.0v1.0h-1.0zM376.2 131.5h1.0v1.0h-1.0zM373.1 132.1h1.0v1.0h-1.0zM369.5 136.0h1.0v1.0h-1.0zM374.1 132.4h1.0v1.0h-1.0zM380.5 128.3h1.0v1.0h-1.0zM379.8 127.8h1.0v1.0h-1.0zM380.0 131.2h1.0v1.0h-1.0zM375.9 130.6h1.0v1.0h-1.0zM368.8 138.7h1.0v1.0h-1.0z" fill="#78f0a0"/><path d="M368.7 145.1h1.0v1.0h-1.0zM392.2 141.7h1.0v1.0h-1.0zM398.8 158.5h1.0v1.0h-1.0zM398.2 154.9h1.0v1.0h-1.0zM392.3 133.1h1.0v1.0h-1.0zM364.4 145.4h1.0v1.0h-1.0zM403.1 168.0h1.0v1.0h-1.0zM390.8 156.1h1.0v1.0h-1.0zM402.6 166.3h1.0v1.0h-1.0zM354.1 157.1h1.0v1.0h-1.0zM395.4 151.8h1.0v1.0h-1.0zM404.2 194.6h1.0v1.0h-1.0zM346.3 173.6h1.0v1.0h-1.0zM395.5 169.5h1.0v1.0h-1.0zM349.0 168.5h1.0v1.0h-1.0zM402.6 174.1h1.0v1.0h-1.0zM396.8 167.1h1.0v1.0h-1.0zM394.9 159.3h1.0v1.0h-1.0zM401.5 168.2h1.0v1.0h-1.0zM404.7 162.5h1.0v1.0h-1.0zM415.0 182.2h1.0v1.0h-1.0zM388.9 138.1h1.0v1.0h-1.0zM393.6 157.1h1.0v1.0h-1.0zM385.2 140.4h1.0v1.0h-1.0zM406.6 165.6h1.0v1.0h-1.0zM366.3 146.5h1.0v1.0h-1.0zM414.3 179.0h1.0v1.0h-1.0zM402.1 187.0h1.0v1.0h-1.0zM347.6 166.6h1.0v1.0h-1.0zM400.2 181.0h1.0v1.0h-1.0zM399.0 149.4h1.0v1.0h-1.0zM376.6 138.9h1.0v1.0h-1.0zM393.5 151.6h1.0v1.0h-1.0zM382.5 140.6h1.0v1.0h-1.0zM419.8 186.3h1.0v1.0h-1.0zM396.4 140.1h1.0v1.0h-1.0zM351.3 155.7h1.0v1.0h-1.0zM405.7 162.6h1.0v1.0h-1.0zM410.6 172.8h1.0v1.0h-1.0zM377.0 145.2h1.0v1.0h-1.0zM414.9 184.5h1.0v1.0h-1.0zM404.8 191.8h1.0v1.0h-1.0zM392.4 139.3h1.0v1.0h-1.0zM356.4 153.2h1.0v1.0h-1.0zM347.5 166.4h1.0v1.0h-1.0zM405.7 166.6h1.0v1.0h-1.0zM409.9 185.0h1.0v1.0h-1.0zM384.7 148.8h1.0v1.0h-1.0zM396.3 152.4h1.0v1.0h-1.0zM418.1 183.0h1.0v1.0h-1.0zM409.0 180.5h1.0v1.0h-1.0zM406.0 184.5h1.0v1.0h-1.0zM390.7 152.9h1.0v1.0h-1.0zM374.7 137.7h1.0v1.0h-1.0zM381.6 143.3h1.0v1.0h-1.0zM401.3 176.7h1.0v1.0h-1.0zM395.9 140.1h1.0v1.0h-1.0zM386.5 158.0h1.0v1.0h-1.0zM409.7 184.6h1.0v1.0h-1.0zM397.9 159.1h1.0v1.0h-1.0zM387.4 147.9h1.0v1.0h-1.0zM392.5 174.6h1.0v1.0h-1.0zM387.5 146.6h1.0v1.0h-1.0zM390.9 151.2h1.0v1.0h-1.0zM399.4 178.4h1.0v1.0h-1.0zM397.4 151.4h1.0v1.0h-1.0zM401.1 159.3h1.0v1.0h-1.0zM399.5 171.1h1.0v1.0h-1.0zM347.9 159.2h1.0v1.0h-1.0zM385.8 155.2h1.0v1.0h-1.0zM397.3 158.4h1.0v1.0h-1.0zM390.9 158.7h1.0v1.0h-1.0zM378.0 138.6h1.0v1.0h-1.0zM364.5 145.3h1.0v1.0h-1.0zM383.2 138.6h1.0v1.0h-1.0zM400.3 160.2h1.0v1.0h-1.0zM351.2 155.2h1.0v1.0h-1.0zM386.2 138.6h1.0v1.0h-1.0zM412.3 169.6h1.0v1.0h-1.0zM365.4 133.6h1.0v1.0h-1.0zM378.7 131.7h1.0v1.0h-1.0zM375.4 128.9h1.0v1.0h-1.0zM370.4 137.6h1.0v1.0h-1.0zM369.2 131.5h1.0v1.0h-1.0zM378.7 129.4h1.0v1.0h-1.0zM373.7 131.4h1.0v1.0h-1.0zM369.2 135.1h1.0v1.0h-1.0zM369.1 135.3h1.0v1.0h-1.0zM370.9 135.8h1.0v1.0h-1.0zM376.6 134.6h1.0v1.0h-1.0zM430.3 190.3h1.0v1.0h-1.0zM406.1 200.1h1.0v1.0h-1.0zM431.8 190.8h1.0v1.0h-1.0zM416.4 198.4h1.0v1.0h-1.0zM408.8 196.7h1.0v1.0h-1.0zM420.2 190.6h1.0v1.0h-1.0zM427.2 193.7h1.0v1.0h-1.0zM410.2 197.7h1.0v1.0h-1.0zM404.1 201.6h1.0v1.0h-1.0zM416.4 193.5h1.0v1.0h-1.0zM431.4 189.6h1.0v1.0h-1.0zM417.1 196.5h1.0v1.0h-1.0zM410.2 195.6h1.0v1.0h-1.0zM411.8 195.2h1.0v1.0h-1.0z" fill="#50f0c8"/><path d="M407.7 189.6h1.0v1.0h-1.0zM415.8 186.9h1.0v1.0h-1.0zM406.1 194.9h1.0v1.0h-1.0zM395.5 173.9h1.0v1.0h-1.0zM406.4 164.6h1.0v1.0h-1.0zM394.5 163.8h1.0v1.0h-1.0zM411.1 187.1h1.0v1.0h-1.0zM394.0 155.2h1.0v1.0h-1.0zM403.2 194.5h1.0v1.0h-1.0zM398.9 174.4h1.0v1.0h-1.0zM385.6 155.6h1.0v1.0h-1.0zM399.2 198.3h1.0v1.0h-1.0zM416.6 185.1h1.0v1.0h-1.0zM345.0 173.6h1.0v1.0h-1.0zM388.5 144.6h1.0v1.0h-1.0zM401.5 161.0h1.0v1.0h-1.0zM416.8 186.7h1.0v1.0h-1.0zM407.6 166.7h1.0v1.0h-1.0zM390.1 134.2h1.0v1.0h-1.0zM385.9 132.6h1.0v1.0h-1.0zM390.7 169.3h1.0v1.0h-1.0zM395.8 181.9h1.0v1.0h-1.0zM389.1 132.7h1.0v1.0h-1.0zM392.9 147.1h1.0v1.0h-1.0zM412.5 189.2h1.0v1.0h-1.0zM353.8 155.6h1.0v1.0h-1.0zM388.8 133.0h1.0v1.0h-1.0zM403.9 193.3h1.0v1.0h-1.0zM406.6 186.9h1.0v1.0h-1.0zM405.6 188.0h1.0v1.0h-1.0zM384.5 143.3h1.0v1.0h-1.0zM387.2 152.3h1.0v1.0h-1.0zM348.3 170.0h1.0v1.0h-1.0zM347.2 161.5h1.0v1.0h-1.0zM394.9 147.9h1.0v1.0h-1.0zM404.8 185.7h1.0v1.0h-1.0zM405.4 185.8h1.0v1.0h-1.0zM401.1 195.9h1.0v1.0h-1.0zM409.8 193.0h1.0v1.0h-1.0zM390.8 160.9h1.0v1.0h-1.0zM410.9 182.7h1.0v1.0h-1.0zM348.1 164.3h1.0v1.0h-1.0zM395.1 170.0h1.0v1.0h-1.0zM382.4 139.5h1.0v1.0h-1.0zM391.7 136.7h1.0v1.0h-1.0zM411.0 178.1h1.0v1.0h-1.0zM406.5 194.1h1.0v1.0h-1.0zM399.6 173.2h1.0v1.0h-1.0zM415.6 188.3h1.0v1.0h-1.0zM411.6 186.2h1.0v1.0h-1.0zM405.7 167.6h1.0v1.0h-1.0zM399.0 182.0h1.0v1.0h-1.0zM348.6 168.7h1.0v1.0h-1.0zM383.9 163.8h1.0v1.0h-1.0zM392.9 154.4h1.0v1.0h-1.0zM374.6 138.1h1.0v1.0h-1.0zM399.4 193.5h1.0v1.0h-1.0zM344.3 169.7h1.0v1.0h-1.0zM412.2 187.6h1.0v1.0h-1.0zM347.3 170.6h1.0v1.0h-1.0zM347.6 163.4h1.0v1.0h-1.0zM401.5 189.9h1.0v1.0h-1.0zM381.3 153.1h1.0v1.0h-1.0zM405.2 168.1h1.0v1.0h-1.0zM402.5 175.9h1.0v1.0h-1.0zM409.9 188.4h1.0v1.0h-1.0zM386.5 169.2h1.0v1.0h-1.0zM414.2 180.0h1.0v1.0h-1.0zM389.2 163.9h1.0v1.0h-1.0zM404.1 171.2h1.0v1.0h-1.0zM387.7 161.4h1.0v1.0h-1.0zM379.9 153.8h1.0v1.0h-1.0zM397.0 160.0h1.0v1.0h-1.0zM355.3 154.4h1.0v1.0h-1.0zM388.9 149.4h1.0v1.0h-1.0zM389.3 168.0h1.0v1.0h-1.0zM359.0 151.7h1.0v1.0h-1.0zM395.5 175.6h1.0v1.0h-1.0zM381.7 151.6h1.0v1.0h-1.0zM386.5 135.7h1.0v1.0h-1.0zM345.4 170.5h1.0v1.0h-1.0zM387.5 140.0h1.0v1.0h-1.0zM393.1 163.8h1.0v1.0h-1.0zM397.2 193.3h1.0v1.0h-1.0zM387.3 151.8h1.0v1.0h-1.0zM393.9 172.9h1.0v1.0h-1.0zM408.1 190.2h1.0v1.0h-1.0zM399.2 148.0h1.0v1.0h-1.0zM349.0 163.4h1.0v1.0h-1.0zM410.4 192.2h1.0v1.0h-1.0zM380.0 149.2h1.0v1.0h-1.0zM389.2 145.3h1.0v1.0h-1.0zM403.9 179.3h1.0v1.0h-1.0zM377.5 154.7h1.0v1.0h-1.0zM352.9 152.7h1.0v1.0h-1.0zM399.7 149.4h1.0v1.0h-1.0zM379.5 157.5h1.0v1.0h-1.0zM392.7 132.2h1.0v1.0h-1.0zM345.4 174.1h1.0v1.0h-1.0zM407.0 186.0h1.0v1.0h-1.0zM387.8 143.7h1.0v1.0h-1.0zM391.5 148.2h1.0v1.0h-1.0zM390.1 154.4h1.0v1.0h-1.0zM411.3 171.4h1.0v1.0h-1.0zM391.6 162.6h1.0v1.0h-1.0zM402.5 164.4h1.0v1.0h-1.0zM375.2 140.0h1.0v1.0h-1.0zM418.1 187.4h1.0v1.0h-1.0zM394.9 159.5h1.0v1.0h-1.0zM393.3 146.5h1.0v1.0h-1.0zM381.8 135.1h1.0v1.0h-1.0zM398.8 168.5h1.0v1.0h-1.0zM405.3 194.3h1.0v1.0h-1.0zM384.2 134.5h1.0v1.0h-1.0zM394.5 167.5h1.0v1.0h-1.0zM384.3 164.3h1.0v1.0h-1.0zM402.4 182.6h1.0v1.0h-1.0zM401.5 192.7h1.0v1.0h-1.0zM391.9 151.4h1.0v1.0h-1.0zM348.9 164.7h1.0v1.0h-1.0zM357.4 150.9h1.0v1.0h-1.0zM347.3 175.6h1.0v1.0h-1.0zM413.0 179.7h1.0v1.0h-1.0zM354.4 155.0h1.0v1.0h-1.0zM402.0 171.7h1.0v1.0h-1.0zM381.0 161.5h1.0v1.0h-1.0zM345.3 165.7h1.0v1.0h-1.0zM386.9 150.4h1.0v1.0h-1.0zM391.1 172.7h1.0v1.0h-1.0zM409.7 172.4h1.0v1.0h-1.0zM384.6 136.5h1.0v1.0h-1.0zM399.6 188.9h1.0v1.0h-1.0zM391.3 134.6h1.0v1.0h-1.0zM350.2 162.6h1.0v1.0h-1.0zM408.5 170.6h1.0v1.0h-1.0zM394.5 182.0h1.0v1.0h-1.0zM393.8 158.1h1.0v1.0h-1.0zM398.9 186.0h1.0v1.0h-1.0zM383.1 146.1h1.0v1.0h-1.0zM387.3 139.9h1.0v1.0h-1.0zM404.7 188.3h1.0v1.0h-1.0zM411.1 191.3h1.0v1.0h-1.0zM388.6 150.2h1.0v1.0h-1.0zM354.3 154.0h1.0v1.0h-1.0zM400.1 193.7h1.0v1.0h-1.0zM404.4 175.9h1.0v1.0h-1.0zM392.5 155.2h1.0v1.0h-1.0zM389.2 139.3h1.0v1.0h-1.0zM388.5 168.4h1.0v1.0h-1.0zM373.0 132.9h1.0v1.0h-1.0zM372.2 136.6h1.0v1.0h-1.0zM369.4 132.6h1.0v1.0h-1.0zM374.5 128.9h1.0v1.0h-1.0zM375.7 133.9h1.0v1.0h-1.0zM367.4 134.4h1.0v1.0h-1.0zM372.8 131.1h1.0v1.0h-1.0zM365.4 135.4h1.0v1.0h-1.0zM366.7 138.7h1.0v1.0h-1.0zM381.3 128.0h1.0v1.0h-1.0zM368.0 136.3h1.0v1.0h-1.0zM379.4 133.0h1.0v1.0h-1.0zM380.0 130.2h1.0v1.0h-1.0zM367.8 136.8h1.0v1.0h-1.0zM380.1 132.4h1.0v1.0h-1.0zM366.9 136.3h1.0v1.0h-1.0zM368.5 137.1h1.0v1.0h-1.0zM373.9 136.1h1.0v1.0h-1.0zM377.5 129.2h1.0v1.0h-1.0zM380.8 128.8h1.0v1.0h-1.0zM378.3 132.4h1.0v1.0h-1.0zM368.8 137.5h1.0v1.0h-1.0z" fill="#78f0c8"/><path d="M377.1 173.4h1.0v1.0h-1.0zM388.4 171.5h1.0v1.0h-1.0zM378.8 166.1h1.0v1.0h-1.0zM377.7 163.9h1.0v1.0h-1.0zM348.0 174.8h1.0v1.0h-1.0zM397.8 189.6h1.0v1.0h-1.0zM382.4 150.6h1.0v1.0h-1.0zM402.3 178.1h1.0v1.0h-1.0zM379.6 139.6h1.0v1.0h-1.0zM398.4 198.0h1.0v1.0h-1.0zM386.6 182.0h1.0v1.0h-1.0zM379.7 166.3h1.0v1.0h-1.0zM374.1 163.4h1.0v1.0h-1.0zM346.6 168.7h1.0v1.0h-1.0zM383.2 181.1h1.0v1.0h-1.0zM383.0 180.1h1.0v1.0h-1.0zM384.6 145.5h1.0v1.0h-1.0zM372.0 142.8h1.0v1.0h-1.0zM389.3 197.3h1.0v1.0h-1.0zM377.3 174.6h1.0v1.0h-1.0zM370.7 159.7h1.0v1.0h-1.0zM387.9 171.8h1.0v1.0h-1.0zM388.8 196.4h1.0v1.0h-1.0zM381.1 145.9h1.0v1.0h-1.0zM380.2 147.8h1.0v1.0h-1.0zM348.4 180.5h1.0v1.0h-1.0zM394.9 186.7h1.0v1.0h-1.0zM384.7 164.3h1.0v1.0h-1.0zM401.5 190.9h1.0v1.0h-1.0zM350.7 177.7h1.0v1.0h-1.0zM365.0 149.0h1.0v1.0h-1.0zM399.4 186.5h1.0v1.0h-1.0zM383.2 176.8h1.0v1.0h-1.0zM389.4 191.5h1.0v1.0h-1.0zM378.4 165.9h1.0v1.0h-1.0zM402.8 190.5h1.0v1.0h-1.0zM396.1 178.0h1.0v1.0h-1.0zM386.9 190.5h1.0v1.0h-1.0zM345.4 168.7h1.0v1.0h-1.0zM391.5 160.1h1.0v1.0h-1.0zM369.5 155.2h1.0v1.0h-1.0zM400.7 177.9h1.0v1.0h-1.0zM381.1 184.3h1.0v1.0h-1.0zM397.7 168.2h1.0v1.0h-1.0zM373.8 161.9h1.0v1.0h-1.0zM353.3 184.0h1.0v1.0h-1.0zM351.6 181.7h1.0v1.0h-1.0zM394.1 187.8h1.0v1.0h-1.0zM376.0 144.8h1.0v1.0h-1.0zM382.7 182.2h1.0v1.0h-1.0zM348.9 185.0h1.0v1.0h-1.0zM379.5 182.5h1.0v1.0h-1.0zM375.8 157.1h1.0v1.0h-1.0zM389.8 180.4h1.0v1.0h-1.0zM389.1 163.8h1.0v1.0h-1.0zM374.8 159.1h1.0v1.0h-1.0zM398.4 187.7h1.0v1.0h-1.0zM371.5 142.2h1.0v1.0h-1.0zM384.5 143.7h1.0v1.0h-1.0zM351.7 183.5h1.0v1.0h-1.0zM390.3 201.9h1.0v1.0h-1.0zM393.0 159.9h1.0v1.0h-1.0zM379.5 147.7h1.0v1.0h-1.0zM399.8 183.3h1.0v1.0h-1.0zM384.5 148.8h1.0v1.0h-1.0zM379.5 160.6h1.0v1.0h-1.0zM370.6 141.6h1.0v1.0h-1.0zM393.0 192.1h1.0v1.0h-1.0zM387.3 166.7h1.0v1.0h-1.0zM398.0 192.7h1.0v1.0h-1.0zM372.0 156.4h1.0v1.0h-1.0zM376.3 144.0h1.0v1.0h-1.0zM354.3 186.7h1.0v1.0h-1.0zM387.5 189.9h1.0v1.0h-1.0zM371.4 154.3h1.0v1.0h-1.0zM378.7 167.7h1.0v1.0h-1.0zM403.5 183.1h1.0v1.0h-1.0zM397.5 180.5h1.0v1.0h-1.0zM393.3 197.6h1.0v1.0h-1.0zM398.7 197.2h1.0v1.0h-1.0zM381.6 140.5h1.0v1.0h-1.0zM399.2 178.4h1.0v1.0h-1.0zM382.0 168.6h1.0v1.0h-1.0zM384.6 193.5h1.0v1.0h-1.0zM380.4 183.1h1.0v1.0h-1.0zM380.6 176.4h1.0v1.0h-1.0zM383.7 153.5h1.0v1.0h-1.0zM345.4 173.2h1.0v1.0h-1.0zM400.0 187.0h1.0v1.0h-1.0zM384.6 187.3h1.0v1.0h-1.0zM397.8 181.4h1.0v1.0h-1.0zM378.6 159.4h1.0v1.0h-1.0zM384.5 190.7h1.0v1.0h-1.0zM393.9 177.3h1.0v1.0h-1.0zM368.7 141.1h1.0v1.0h-1.0zM390.7 167.9h1.0v1.0h-1.0zM347.4 173.0h1.0v1.0h-1.0zM386.1 143.2h1.0v1.0h-1.0zM387.2 191.0h1.0v1.0h-1.0zM383.8 145.3h1.0v1.0h-1.0zM378.3 139.1h1.0v1.0h-1.0zM396.2 198.3h1.0v1.0h-1.0zM386.1 170.0h1.0v1.0h-1.0zM376.7 147.5h1.0v1.0h-1.0zM392.5 186.8h1.0v1.0h-1.0zM386.4 193.7h1.0v1.0h-1.0zM397.3 192.4h1.0v1.0h-1.0zM382.3 142.6h1.0v1.0h-1.0zM376.4 172.5h1.0v1.0h-1.0zM381.4 183.2h1.0v1.0h-1.0zM386.7 184.4h1.0v1.0h-1.0zM371.6 152.6h1.0v1.0h-1.0zM378.3 136.7h1.0v1.0h-1.0zM369.6 140.9h1.0v1.0h-1.0zM376.6 174.0h1.0v1.0h-1.0zM374.0 149.1h1.0v1.0h-1.0zM369.1 160.9h1.0v1.0h-1.0z" fill="#c8f078"/><path d="M415.0 167.1h1.0v1.0h-1.0zM391.4 132.2h1.0v1.0h-1.0zM409.0 175.6h1.0v1.0h-1.0zM352.0 157.2h1.0v1.0h-1.0zM402.7 137.1h1.0v1.0h-1.0zM379.3 138.9h1.0v1.0h-1.0zM353.2 156.8h1.0v1.0h-1.0zM393.2 132.3h1.0v1.0h-1.0zM391.2 137.0h1.0v1.0h-1.0zM395.8 135.1h1.0v1.0h-1.0zM400.3 129.6h1.0v1.0h-1.0zM421.2 182.5h1.0v1.0h-1.0zM389.9 155.6h1.0v1.0h-1.0zM417.0 183.8h1.0v1.0h-1.0zM350.9 156.1h1.0v1.0h-1.0zM361.5 147.1h1.0v1.0h-1.0zM397.7 136.4h1.0v1.0h-1.0zM418.6 180.6h1.0v1.0h-1.0zM405.6 161.0h1.0v1.0h-1.0zM394.2 147.2h1.0v1.0h-1.0zM406.3 157.2h1.0v1.0h-1.0zM420.4 182.2h1.0v1.0h-1.0zM366.7 145.4h1.0v1.0h-1.0zM407.4 160.4h1.0v1.0h-1.0zM407.2 168.0h1.0v1.0h-1.0zM402.3 176.7h1.0v1.0h-1.0zM349.1 157.6h1.0v1.0h-1.0zM381.4 142.7h1.0v1.0h-1.0zM406.9 145.4h1.0v1.0h-1.0zM404.6 145.1h1.0v1.0h-1.0zM409.3 188.2h1.0v1.0h-1.0zM410.5 177.4h1.0v1.0h-1.0zM424.3 180.0h1.0v1.0h-1.0zM396.2 141.5h1.0v1.0h-1.0zM402.7 188.8h1.0v1.0h-1.0zM411.7 176.8h1.0v1.0h-1.0zM397.3 137.2h1.0v1.0h-1.0zM406.3 157.0h1.0v1.0h-1.0zM385.1 144.8h1.0v1.0h-1.0zM392.7 156.7h1.0v1.0h-1.0zM392.7 138.4h1.0v1.0h-1.0zM385.1 140.5h1.0v1.0h-1.0zM406.5 144.8h1.0v1.0h-1.0zM400.4 150.8h1.0v1.0h-1.0zM353.6 152.5h1.0v1.0h-1.0zM396.4 168.6h1.0v1.0h-1.0zM401.1 154.8h1.0v1.0h-1.0zM420.2 181.1h1.0v1.0h-1.0zM392.3 139.2h1.0v1.0h-1.0zM407.7 156.6h1.0v1.0h-1.0zM350.0 161.5h1.0v1.0h-1.0zM403.8 152.4h1.0v1.0h-1.0zM393.7 163.0h1.0v1.0h-1.0zM408.3 187.3h1.0v1.0h-1.0zM381.0 135.1h1.0v1.0h-1.0zM404.7 184.6h1.0v1.0h-1.0zM407.4 188.4h1.0v1.0h-1.0zM393.2 142.4h1.0v1.0h-1.0zM404.8 139.7h1.0v1.0h-1.0zM394.1 153.2h1.0v1.0h-1.0zM359.6 149.1h1.0v1.0h-1.0zM357.3 152.5h1.0v1.0h-1.0zM411.6 169.7h1.0v1.0h-1.0zM389.5 144.9h1.0v1.0h-1.0zM409.7 169.2h1.0v1.0h-1.0zM403.8 163.7h1.0v1.0h-1.0zM391.4 142.1h1.0v1.0h-1.0zM406.6 167.9h1.0v1.0h-1.0zM362.9 144.6h1.0v1.0h-1.0zM413.3 189.2h1.0v1.0h-1.0zM414.3 189.0h1.0v1.0h-1.0zM410.8 192.4h1.0v1.0h-1.0zM422.3 183.4h1.0v1.0h-1.0zM404.2 180.2h1.0v1.0h-1.0zM385.9 136.3h1.0v1.0h-1.0zM412.1 166.7h1.0v1.0h-1.0zM412.9 190.3h1.0v1.0h-1.0zM393.4 165.4h1.0v1.0h-1.0zM382.0 136.7h1.0v1.0h-1.0zM405.4 177.7h1.0v1.0h-1.0zM397.7 129.6h1.0v1.0h-1.0zM359.8 151.2h1.0v1.0h-1.0zM417.2 176.1h1.0v1.0h-1.0zM399.5 139.8h1.0v1.0h-1.0zM378.1 138.1h1.0v1.0h-1.0zM385.7 134.9h1.0v1.0h-1.0zM394.5 141.7h1.0v1.0h-1.0zM404.9 177.4h1.0v1.0h-1.0zM415.4 172.3h1.0v1.0h-1.0zM399.9 181.2h1.0v1.0h-1.0zM408.7 171.7h1.0v1.0h-1.0zM407.7 169.0h1.0v1.0h-1.0zM412.9 160.4h1.0v1.0h-1.0zM410.6 179.9h1.0v1.0h-1.0zM399.6 145.3h1.0v1.0h-1.0zM385.1 133.1h1.0v1.0h-1.0zM401.1 150.6h1.0v1.0h-1.0zM400.5 183.7h1.0v1.0h-1.0zM401.6 158.7h1.0v1.0h-1.0zM369.7 137.0h1.0v1.0h-1.0zM373.3 131.7h1.0v1.0h-1.0zM378.4 130.8h1.0v1.0h-1.0zM353.2 146.0h1.0v1.0h-1.0zM382.2 132.3h1.0v1.0h-1.0zM360.0 136.0h1.0v1.0h-1.0zM373.1 134.8h1.0v1.0h-1.0zM366.1 137.1h1.0v1.0h-1.0zM373.2 132.9h1.0v1.0h-1.0zM369.4 134.5h1.0v1.0h-1.0zM370.3 134.8h1.0v1.0h-1.0zM372.8 129.7h1.0v1.0h-1.0zM413.4 193.8h1.0v1.0h-1.0zM437.8 188.2h1.0v1.0h-1.0zM437.3 189.3h1.0v1.0h-1.0zM435.3 183.5h1.0v1.0h-1.0zM397.7 202.5h1.0v1.0h-1.0zM412.1 197.1h1.0v1.0h-1.0zM431.5 186.8h1.0v1.0h-1.0zM430.0 189.7h1.0v1.0h-1.0zM402.7 200.8h1.0v1.0h-1.0zM423.1 193.5h1.0v1.0h-1.0zM408.6 196.6h1.0v1.0h-1.0zM409.2 202.1h1.0v1.0h-1.0zM413.9 199.8h1.0v1.0h-1.0zM425.4 187.8h1.0v1.0h-1.0zM399.4 205.4h1.0v1.0h-1.0zM411.9 196.8h1.0v1.0h-1.0zM424.7 191.2h1.0v1.0h-1.0zM400.0 202.3h1.0v1.0h-1.0zM401.7 200.8h1.0v1.0h-1.0zM398.8 204.6h1.0v1.0h-1.0zM421.8 195.5h1.0v1.0h-1.0zM403.0 201.6h1.0v1.0h-1.0zM432.5 185.9h1.0v1.0h-1.0zM436.9 186.7h1.0v1.0h-1.0zM409.5 200.3h1.0v1.0h-1.0zM400.5 201.5h1.0v1.0h-1.0zM429.7 187.9h1.0v1.0h-1.0zM437.3 183.1h1.0v1.0h-1.0zM410.0 197.0h1.0v1.0h-1.0zM428.6 192.1h1.0v1.0h-1.0zM409.3 201.8h1.0v1.0h-1.0zM403.9 201.4h1.0v1.0h-1.0zM410.0 198.7h1.0v1.0h-1.0zM429.4 187.2h1.0v1.0h-1.0zM428.0 189.2h1.0v1.0h-1.0zM402.3 202.0h1.0v1.0h-1.0zM417.7 194.2h1.0v1.0h-1.0zM398.0 201.4h1.0v1.0h-1.0zM419.2 194.6h1.0v1.0h-1.0zM431.0 188.8h1.0v1.0h-1.0zM409.0 201.7h1.0v1.0h-1.0zM403.0 205.1h1.0v1.0h-1.0zM434.1 187.7h1.0v1.0h-1.0zM417.4 198.8h1.0v1.0h-1.0zM400.7 206.7h1.0v1.0h-1.0zM406.1 198.1h1.0v1.0h-1.0z" fill="#28f0f0"/><path d="M360.0 187.1h1.0v1.0h-1.0zM355.5 171.5h1.0v1.0h-1.0zM364.3 194.2h1.0v1.0h-1.0zM356.9 198.7h1.0v1.0h-1.0zM360.9 194.2h1.0v1.0h-1.0zM352.9 166.8h1.0v1.0h-1.0zM360.0 200.5h1.0v1.0h-1.0zM351.4 175.6h1.0v1.0h-1.0zM354.8 182.2h1.0v1.0h-1.0zM357.7 198.8h1.0v1.0h-1.0zM361.8 185.2h1.0v1.0h-1.0zM357.9 200.1h1.0v1.0h-1.0zM353.0 176.8h1.0v1.0h-1.0zM358.0 197.3h1.0v1.0h-1.0zM359.4 194.2h1.0v1.0h-1.0zM359.5 199.6h1.0v1.0h-1.0zM364.1 199.3h1.0v1.0h-1.0zM356.5 187.9h1.0v1.0h-1.0zM361.7 192.1h1.0v1.0h-1.0zM355.8 179.8h1.0v1.0h-1.0zM358.8 179.6h1.0v1.0h-1.0zM356.3 186.4h1.0v1.0h-1.0zM359.5 184.3h1.0v1.0h-1.0zM354.6 197.1h1.0v1.0h-1.0zM356.5 194.8h1.0v1.0h-1.0zM368.1 202.2h1.0v1.0h-1.0zM355.9 177.0h1.0v1.0h-1.0zM366.7 203.1h1.0v1.0h-1.0zM361.7 199.6h1.0v1.0h-1.0zM353.8 174.7h1.0v1.0h-1.0zM360.9 198.7h1.0v1.0h-1.0zM356.8 198.0h1.0v1.0h-1.0z" fill="#a05028"/><path d="M363.8 191.7h1.0v1.0h-1.0zM354.9 177.2h1.0v1.0h-1.0zM373.1 203.9h1.0v1.0h-1.0zM359.4 184.0h1.0v1.0h-1.0zM361.0 198.3h1.0v1.0h-1.0zM355.7 196.7h1.0v1.0h-1.0zM350.2 167.0h1.0v1.0h-1.0zM367.4 190.7h1.0v1.0h-1.0zM368.8 190.3h1.0v1.0h-1.0zM361.2 194.4h1.0v1.0h-1.0zM369.6 200.5h1.0v1.0h-1.0zM353.0 167.3h1.0v1.0h-1.0zM353.3 195.6h1.0v1.0h-1.0zM356.3 194.9h1.0v1.0h-1.0zM363.1 179.3h1.0v1.0h-1.0zM350.3 167.6h1.0v1.0h-1.0zM362.6 190.4h1.0v1.0h-1.0zM354.7 166.0h1.0v1.0h-1.0zM359.8 173.3h1.0v1.0h-1.0zM358.6 174.8h1.0v1.0h-1.0zM364.4 197.7h1.0v1.0h-1.0zM361.2 198.5h1.0v1.0h-1.0zM362.6 202.6h1.0v1.0h-1.0zM371.2 196.1h1.0v1.0h-1.0zM365.0 203.1h1.0v1.0h-1.0zM361.1 197.3h1.0v1.0h-1.0zM359.0 185.9h1.0v1.0h-1.0zM364.8 203.4h1.0v1.0h-1.0zM368.5 200.6h1.0v1.0h-1.0zM375.0 200.1h1.0v1.0h-1.0zM366.5 199.1h1.0v1.0h-1.0zM365.3 181.3h1.0v1.0h-1.0zM356.8 195.7h1.0v1.0h-1.0zM362.8 196.3h1.0v1.0h-1.0zM359.1 188.5h1.0v1.0h-1.0zM358.6 189.7h1.0v1.0h-1.0zM375.6 203.9h1.0v1.0h-1.0zM359.0 194.5h1.0v1.0h-1.0zM353.1 172.9h1.0v1.0h-1.0zM353.4 161.5h1.0v1.0h-1.0zM364.9 185.3h1.0v1.0h-1.0zM365.2 179.1h1.0v1.0h-1.0zM365.8 191.0h1.0v1.0h-1.0zM353.4 182.5h1.0v1.0h-1.0zM359.2 200.7h1.0v1.0h-1.0zM360.8 201.9h1.0v1.0h-1.0zM372.3 202.2h1.0v1.0h-1.0zM351.3 163.2h1.0v1.0h-1.0zM373.3 203.5h1.0v1.0h-1.0zM354.8 173.2h1.0v1.0h-1.0zM365.2 196.6h1.0v1.0h-1.0zM365.9 202.9h1.0v1.0h-1.0zM356.9 188.7h1.0v1.0h-1.0zM364.4 191.9h1.0v1.0h-1.0zM356.1 184.7h1.0v1.0h-1.0zM371.2 201.3h1.0v1.0h-1.0zM365.3 187.2h1.0v1.0h-1.0zM366.1 189.5h1.0v1.0h-1.0zM355.2 183.5h1.0v1.0h-1.0zM361.2 183.6h1.0v1.0h-1.0zM375.1 201.4h1.0v1.0h-1.0zM353.3 176.3h1.0v1.0h-1.0zM360.9 189.3h1.0v1.0h-1.0zM355.5 184.9h1.0v1.0h-1.0zM353.9 181.1h1.0v1.0h-1.0zM358.0 173.8h1.0v1.0h-1.0zM356.7 166.5h1.0v1.0h-1.0zM367.8 191.7h1.0v1.0h-1.0zM358.1 176.0h1.0v1.0h-1.0zM367.9 191.8h1.0v1.0h-1.0zM356.2 194.6h1.0v1.0h-1.0zM365.0 192.5h1.0v1.0h-1.0zM353.3 166.9h1.0v1.0h-1.0zM365.8 194.4h1.0v1.0h-1.0zM367.9 188.7h1.0v1.0h-1.0zM360.7 177.0h1.0v1.0h-1.0zM370.8 197.7h1.0v1.0h-1.0z" fill="#c85028"/><path d="M389.7 147.1h1.0v1.0h-1.0zM399.8 177.5h1.0v1.0h-1.0zM386.7 147.2h1.0v1.0h-1.0zM385.2 182.3h1.0v1.0h-1.0zM412.5 188.5h1.0v1.0h-1.0zM394.8 185.5h1.0v1.0h-1.0zM379.6 160.0h1.0v1.0h-1.0zM403.1 169.3h1.0v1.0h-1.0zM370.3 150.7h1.0v1.0h-1.0zM379.6 151.5h1.0v1.0h-1.0zM384.1 165.4h1.0v1.0h-1.0zM385.0 152.5h1.0v1.0h-1.0zM403.4 183.1h1.0v1.0h-1.0zM377.6 159.5h1.0v1.0h-1.0zM385.6 163.4h1.0v1.0h-1.0zM391.7 158.1h1.0v1.0h-1.0zM393.4 169.6h1.0v1.0h-1.0zM376.2 144.3h1.0v1.0h-1.0zM406.3 190.5h1.0v1.0h-1.0zM372.1 144.0h1.0v1.0h-1.0zM344.7 169.8h1.0v1.0h-1.0zM345.6 170.2h1.0v1.0h-1.0zM397.4 189.6h1.0v1.0h-1.0zM395.9 171.9h1.0v1.0h-1.0zM374.5 140.0h1.0v1.0h-1.0zM400.0 181.0h1.0v1.0h-1.0zM396.4 199.8h1.0v1.0h-1.0zM383.8 161.5h1.0v1.0h-1.0zM389.9 145.2h1.0v1.0h-1.0zM373.6 146.0h1.0v1.0h-1.0zM379.7 136.2h1.0v1.0h-1.0zM404.7 173.5h1.0v1.0h-1.0zM390.4 142.7h1.0v1.0h-1.0zM382.4 171.6h1.0v1.0h-1.0zM399.3 159.1h1.0v1.0h-1.0zM378.3 159.1h1.0v1.0h-1.0zM393.6 199.1h1.0v1.0h-1.0zM350.3 183.1h1.0v1.0h-1.0zM389.0 139.5h1.0v1.0h-1.0zM392.1 192.5h1.0v1.0h-1.0zM412.6 189.1h1.0v1.0h-1.0zM394.2 163.9h1.0v1.0h-1.0zM344.7 167.7h1.0v1.0h-1.0zM346.8 181.3h1.0v1.0h-1.0zM400.4 172.8h1.0v1.0h-1.0zM377.6 161.6h1.0v1.0h-1.0zM373.0 138.8h1.0v1.0h-1.0zM405.5 180.7h1.0v1.0h-1.0zM404.1 195.8h1.0v1.0h-1.0zM386.6 141.5h1.0v1.0h-1.0zM347.3 176.6h1.0v1.0h-1.0zM380.6 145.3h1.0v1.0h-1.0zM387.9 161.7h1.0v1.0h-1.0zM376.6 156.7h1.0v1.0h-1.0zM384.8 161.3h1.0v1.0h-1.0zM389.4 159.3h1.0v1.0h-1.0zM386.3 152.5h1.0v1.0h-1.0zM392.6 188.7h1.0v1.0h-1.0zM392.5 179.2h1.0v1.0h-1.0zM403.2 191.4h1.0v1.0h-1.0zM400.3 162.9h1.0v1.0h-1.0zM398.2 196.2h1.0v1.0h-1.0zM404.7 177.8h1.0v1.0h-1.0zM388.0 134.5h1.0v1.0h-1.0zM399.5 177.9h1.0v1.0h-1.0zM401.0 165.1h1.0v1.0h-1.0zM399.4 191.3h1.0v1.0h-1.0zM397.0 164.9h1.0v1.0h-1.0zM390.1 184.3h1.0v1.0h-1.0zM391.8 189.4h1.0v1.0h-1.0zM399.5 187.1h1.0v1.0h-1.0zM382.1 135.7h1.0v1.0h-1.0zM380.9 167.0h1.0v1.0h-1.0zM385.7 159.3h1.0v1.0h-1.0zM397.7 176.4h1.0v1.0h-1.0zM370.7 147.1h1.0v1.0h-1.0zM385.4 175.4h1.0v1.0h-1.0zM399.5 169.5h1.0v1.0h-1.0zM387.0 156.2h1.0v1.0h-1.0zM403.1 171.5h1.0v1.0h-1.0zM400.1 194.4h1.0v1.0h-1.0zM347.3 165.1h1.0v1.0h-1.0zM378.4 155.2h1.0v1.0h-1.0zM379.4 137.4h1.0v1.0h-1.0zM404.2 180.2h1.0v1.0h-1.0zM388.3 140.4h1.0v1.0h-1.0zM401.5 193.4h1.0v1.0h-1.0zM393.5 155.1h1.0v1.0h-1.0zM400.4 175.2h1.0v1.0h-1.0zM398.8 188.1h1.0v1.0h-1.0zM383.6 175.3h1.0v1.0h-1.0zM371.8 140.6h1.0v1.0h-1.0zM396.3 180.2h1.0v1.0h-1.0zM380.2 165.1h1.0v1.0h-1.0zM387.6 149.3h1.0v1.0h-1.0zM401.3 188.1h1.0v1.0h-1.0zM406.1 186.8h1.0v1.0h-1.0zM382.6 175.2h1.0v1.0h-1.0zM350.4 159.2h1.0v1.0h-1.0zM409.7 177.8h1.0v1.0h-1.0zM379.3 162.1h1.0v1.0h-1.0zM391.8 148.0h1.0v1.0h-1.0zM405.5 187.1h1.0v1.0h-1.0zM391.4 187.3h1.0v1.0h-1.0zM352.5 160.4h1.0v1.0h-1.0zM348.9 167.5h1.0v1.0h-1.0zM372.6 155.5h1.0v1.0h-1.0zM348.9 181.0h1.0v1.0h-1.0zM406.4 189.7h1.0v1.0h-1.0zM394.3 162.8h1.0v1.0h-1.0zM387.0 157.0h1.0v1.0h-1.0zM345.4 178.3h1.0v1.0h-1.0zM400.9 186.1h1.0v1.0h-1.0zM399.4 176.4h1.0v1.0h-1.0zM382.3 166.4h1.0v1.0h-1.0zM380.5 131.2h1.0v1.0h-1.0zM372.5 135.6h1.0v1.0h-1.0zM376.3 131.7h1.0v1.0h-1.0zM377.1 133.0h1.0v1.0h-1.0zM381.4 128.1h1.0v1.0h-1.0zM367.4 137.7h1.0v1.0h-1.0zM373.4 132.7h1.0v1.0h-1.0zM369.8 137.7h1.0v1.0h-1.0zM366.6 138.2h1.0v1.0h-1.0z" fill="#a0f0a0"/><path d="M362.3 198.0h1.0v1.0h-1.0zM363.0 186.5h1.0v1.0h-1.0zM377.3 202.4h1.0v1.0h-1.0zM351.4 168.0h1.0v1.0h-1.0zM358.5 196.2h1.0v1.0h-1.0zM369.1 191.5h1.0v1.0h-1.0zM351.1 178.0h1.0v1.0h-1.0zM355.4 196.9h1.0v1.0h-1.0zM361.0 179.4h1.0v1.0h-1.0zM375.0 202.4h1.0v1.0h-1.0zM351.7 179.9h1.0v1.0h-1.0zM367.1 179.0h1.0v1.0h-1.0zM350.9 170.3h1.0v1.0h-1.0zM357.8 185.2h1.0v1.0h-1.0zM351.5 166.5h1.0v1.0h-1.0zM375.6 202.3h1.0v1.0h-1.0zM350.6 171.8h1.0v1.0h-1.0zM358.3 195.0h1.0v1.0h-1.0zM371.0 189.0h1.0v1.0h-1.0zM358.6 178.1h1.0v1.0h-1.0zM361.1 188.2h1.0v1.0h-1.0zM368.9 180.2h1.0v1.0h-1.0zM350.9 168.6h1.0v1.0h-1.0zM359.6 190.0h1.0v1.0h-1.0zM372.7 203.1h1.0v1.0h-1.0zM376.1 204.6h1.0v1.0h-1.0zM377.7 185.5h1.0v1.0h-1.0zM366.0 181.9h1.0v1.0h-1.0zM352.4 166.6h1.0v1.0h-1.0zM379.6 197.5h1.0v1.0h-1.0zM364.7 201.7h1.0v1.0h-1.0zM363.6 199.8h1.0v1.0h-1.0zM365.5 188.9h1.0v1.0h-1.0zM357.1 196.5h1.0v1.0h-1.0zM365.3 193.6h1.0v1.0h-1.0zM361.4 200.8h1.0v1.0h-1.0zM368.3 201.3h1.0v1.0h-1.0zM371.0 201.7h1.0v1.0h-1.0zM361.1 156.5h1.0v1.0h-1.0zM362.1 183.1h1.0v1.0h-1.0zM356.0 179.5h1.0v1.0h-1.0zM361.4 196.6h1.0v1.0h-1.0zM363.2 198.8h1.0v1.0h-1.0zM353.0 161.8h1.0v1.0h-1.0zM363.3 179.7h1.0v1.0h-1.0zM373.5 202.7h1.0v1.0h-1.0zM371.1 179.3h1.0v1.0h-1.0zM365.3 198.5h1.0v1.0h-1.0zM361.3 187.4h1.0v1.0h-1.0zM359.1 162.7h1.0v1.0h-1.0zM370.0 188.8h1.0v1.0h-1.0zM352.9 177.5h1.0v1.0h-1.0zM358.3 169.9h1.0v1.0h-1.0zM359.3 165.8h1.0v1.0h-1.0zM364.6 199.4h1.0v1.0h-1.0zM355.3 176.6h1.0v1.0h-1.0zM352.3 161.5h1.0v1.0h-1.0zM356.3 176.9h1.0v1.0h-1.0zM367.9 187.9h1.0v1.0h-1.0zM361.8 198.8h1.0v1.0h-1.0zM373.4 203.0h1.0v1.0h-1.0zM373.0 195.9h1.0v1.0h-1.0zM366.6 200.1h1.0v1.0h-1.0zM361.1 193.2h1.0v1.0h-1.0zM372.5 193.1h1.0v1.0h-1.0zM373.6 203.0h1.0v1.0h-1.0zM361.5 181.5h1.0v1.0h-1.0zM351.9 175.6h1.0v1.0h-1.0zM352.7 175.3h1.0v1.0h-1.0zM368.7 183.2h1.0v1.0h-1.0zM377.8 195.1h1.0v1.0h-1.0zM357.1 181.6h1.0v1.0h-1.0zM357.7 191.6h1.0v1.0h-1.0zM372.2 203.3h1.0v1.0h-1.0zM356.0 173.2h1.0v1.0h-1.0zM360.6 172.3h1.0v1.0h-1.0zM351.7 169.2h1.0v1.0h-1.0zM363.3 192.0h1.0v1.0h-1.0zM381.6 201.7h1.0v1.0h-1.0zM359.6 178.0h1.0v1.0h-1.0zM361.3 171.3h1.0v1.0h-1.0zM355.4 163.7h1.0v1.0h-1.0zM356.0 167.4h1.0v1.0h-1.0zM368.5 199.4h1.0v1.0h-1.0zM356.9 169.6h1.0v1.0h-1.0zM359.4 158.9h1.0v1.0h-1.0zM366.2 195.8h1.0v1.0h-1.0zM365.7 198.8h1.0v1.0h-1.0zM366.7 194.1h1.0v1.0h-1.0zM364.3 184.0h1.0v1.0h-1.0zM353.1 164.3h1.0v1.0h-1.0zM356.1 170.4h1.0v1.0h-1.0zM364.3 197.5h1.0v1.0h-1.0zM351.2 171.5h1.0v1.0h-1.0zM362.0 173.5h1.0v1.0h-1.0zM363.3 172.7h1.0v1.0h-1.0zM360.1 172.7h1.0v1.0h-1.0zM359.5 172.8h1.0v1.0h-1.0zM356.5 181.6h1.0v1.0h-1.0zM354.2 160.0h1.0v1.0h-1.0zM360.3 161.6h1.0v1.0h-1.0zM365.7 198.6h1.0v1.0h-1.0zM378.3 202.8h1.0v1.0h-1.0zM363.0 198.1h1.0v1.0h-1.0zM371.2 202.6h1.0v1.0h-1.0zM364.8 176.9h1.0v1.0h-1.0zM362.6 176.2h1.0v1.0h-1.0zM364.5 177.7h1.0v1.0h-1.0zM354.0 192.0h1.0v1.0h-1.0zM353.7 171.5h1.0v1.0h-1.0zM377.1 202.2h1.0v1.0h-1.0zM361.9 160.9h1.0v1.0h-1.0zM365.4 200.7h1.0v1.0h-1.0zM358.0 158.0h1.0v1.0h-1.0zM365.9 169.5h1.0v1.0h-1.0zM360.9 201.2h1.0v1.0h-1.0zM369.7 201.8h1.0v1.0h-1.0zM362.3 189.5h1.0v1.0h-1.0zM356.1 175.3h1.0v1.0h-1.0zM356.8 196.0h1.0v1.0h-1.0zM351.6 171.5h1.0v1.0h-1.0zM374.5 194.0h1.0v1.0h-1.0zM361.4 184.1h1.0v1.0h-1.0zM361.5 164.2h1.0v1.0h-1.0zM352.3 193.9h1.0v1.0h-1.0zM357.1 189.8h1.0v1.0h-1.0zM359.3 184.3h1.0v1.0h-1.0zM369.0 202.9h1.0v1.0h-1.0zM367.9 190.3h1.0v1.0h-1.0zM352.2 163.5h1.0v1.0h-1.0zM361.4 193.4h1.0v1.0h-1.0zM354.6 191.3h1.0v1.0h-1.0zM362.3 199.9h1.0v1.0h-1.0zM357.6 157.3h1.0v1.0h-1.0zM356.1 175.1h1.0v1.0h-1.0zM375.3 193.1h1.0v1.0h-1.0zM359.1 191.7h1.0v1.0h-1.0zM362.9 186.3h1.0v1.0h-1.0zM359.1 156.1h1.0v1.0h-1.0zM351.7 169.2h1.0v1.0h-1.0zM361.4 178.2h1.0v1.0h-1.0zM357.4 162.9h1.0v1.0h-1.0zM364.5 169.1h1.0v1.0h-1.0zM369.0 202.0h1.0v1.0h-1.0zM374.6 204.3h1.0v1.0h-1.0zM360.1 194.3h1.0v1.0h-1.0zM355.1 180.1h1.0v1.0h-1.0zM351.8 165.9h1.0v1.0h-1.0zM359.4 194.6h1.0v1.0h-1.0zM372.6 203.5h1.0v1.0h-1.0zM377.3 203.3h1.0v1.0h-1.0zM361.0 167.6h1.0v1.0h-1.0zM359.6 175.8h1.0v1.0h-1.0zM359.1 196.6h1.0v1.0h-1.0zM357.2 196.2h1.0v1.0h-1.0zM357.2 190.3h1.0v1.0h-1.0zM350.5 169.6h1.0v1.0h-1.0zM357.4 186.1h1.0v1.0h-1.0zM362.4 178.0h1.0v1.0h-1.0zM370.3 200.6h1.0v1.0h-1.0zM359.4 168.7h1.0v1.0h-1.0zM363.2 200.9h1.0v1.0h-1.0zM376.3 193.9h1.0v1.0h-1.0zM356.3 171.6h1.0v1.0h-1.0zM357.5 189.4h1.0v1.0h-1.0zM360.4 201.0h1.0v1.0h-1.0zM378.8 203.2h1.0v1.0h-1.0zM367.6 199.6h1.0v1.0h-1.0zM357.4 184.4h1.0v1.0h-1.0zM354.5 177.6h1.0v1.0h-1.0zM359.3 192.2h1.0v1.0h-1.0zM368.0 184.4h1.0v1.0h-1.0zM362.7 177.7h1.0v1.0h-1.0zM361.9 191.4h1.0v1.0h-1.0zM360.1 173.3h1.0v1.0h-1.0zM353.0 181.3h1.0v1.0h-1.0zM372.8 193.9h1.0v1.0h-1.0zM361.3 198.4h1.0v1.0h-1.0zM361.9 171.9h1.0v1.0h-1.0zM359.5 158.6h1.0v1.0h-1.0zM364.0 191.3h1.0v1.0h-1.0zM375.6 192.8h1.0v1.0h-1.0z" fill="#f05028"/><path d="M407.4 139.8h1.0v1.0h-1.0zM419.0 168.3h1.0v1.0h-1.0zM413.1 164.7h1.0v1.0h-1.0zM416.4 177.1h1.0v1.0h-1.0zM415.5 166.3h1.0v1.0h-1.0zM418.4 164.8h1.0v1.0h-1.0zM405.0 142.5h1.0v1.0h-1.0zM417.8 187.5h1.0v1.0h-1.0zM408.5 181.9h1.0v1.0h-1.0zM410.3 136.8h1.0v1.0h-1.0zM396.3 143.3h1.0v1.0h-1.0zM404.2 144.5h1.0v1.0h-1.0zM417.8 153.9h1.0v1.0h-1.0zM414.3 148.4h1.0v1.0h-1.0zM422.2 167.7h1.0v1.0h-1.0zM397.6 133.3h1.0v1.0h-1.0zM414.8 145.8h1.0v1.0h-1.0zM405.0 137.7h1.0v1.0h-1.0zM390.2 136.8h1.0v1.0h-1.0zM405.5 146.8h1.0v1.0h-1.0zM410.8 134.4h1.0v1.0h-1.0zM410.2 162.6h1.0v1.0h-1.0zM422.5 184.2h1.0v1.0h-1.0zM400.0 157.5h1.0v1.0h-1.0zM404.6 131.8h1.0v1.0h-1.0zM405.9 164.1h1.0v1.0h-1.0zM411.5 182.1h1.0v1.0h-1.0zM417.0 144.3h1.0v1.0h-1.0zM409.3 169.8h1.0v1.0h-1.0zM395.1 136.6h1.0v1.0h-1.0zM400.5 157.5h1.0v1.0h-1.0zM398.5 149.2h1.0v1.0h-1.0zM393.1 150.6h1.0v1.0h-1.0zM406.9 144.4h1.0v1.0h-1.0zM415.7 141.2h1.0v1.0h-1.0zM408.4 170.6h1.0v1.0h-1.0zM399.9 153.8h1.0v1.0h-1.0zM409.7 146.6h1.0v1.0h-1.0zM389.8 140.4h1.0v1.0h-1.0zM422.9 151.4h1.0v1.0h-1.0zM403.1 157.1h1.0v1.0h-1.0zM398.8 139.5h1.0v1.0h-1.0zM398.4 147.1h1.0v1.0h-1.0zM417.2 156.0h1.0v1.0h-1.0zM415.7 179.8h1.0v1.0h-1.0zM392.6 145.1h1.0v1.0h-1.0zM397.1 149.6h1.0v1.0h-1.0zM404.6 147.6h1.0v1.0h-1.0zM406.9 155.3h1.0v1.0h-1.0zM357.8 150.8h1.0v1.0h-1.0zM414.4 177.7h1.0v1.0h-1.0zM359.9 150.4h1.0v1.0h-1.0zM426.0 177.1h1.0v1.0h-1.0zM403.1 163.2h1.0v1.0h-1.0zM418.4 175.4h1.0v1.0h-1.0zM417.4 168.6h1.0v1.0h-1.0zM418.4 154.5h1.0v1.0h-1.0zM423.5 176.5h1.0v1.0h-1.0zM417.8 159.8h1.0v1.0h-1.0zM410.5 165.7h1.0v1.0h-1.0zM409.7 172.0h1.0v1.0h-1.0zM417.3 184.6h1.0v1.0h-1.0zM425.3 181.5h1.0v1.0h-1.0zM417.0 158.7h1.0v1.0h-1.0zM425.6 166.5h1.0v1.0h-1.0zM398.1 131.0h1.0v1.0h-1.0zM404.8 166.6h1.0v1.0h-1.0zM418.4 170.6h1.0v1.0h-1.0zM409.2 176.7h1.0v1.0h-1.0zM389.5 139.7h1.0v1.0h-1.0zM425.3 167.5h1.0v1.0h-1.0zM361.2 149.2h1.0v1.0h-1.0zM411.7 168.6h1.0v1.0h-1.0zM404.0 140.1h1.0v1.0h-1.0zM426.8 180.6h1.0v1.0h-1.0zM410.8 152.4h1.0v1.0h-1.0zM406.0 131.0h1.0v1.0h-1.0zM400.3 130.5h1.0v1.0h-1.0zM407.1 135.3h1.0v1.0h-1.0zM398.8 141.2h1.0v1.0h-1.0zM422.3 185.3h1.0v1.0h-1.0zM396.0 149.3h1.0v1.0h-1.0zM406.1 140.5h1.0v1.0h-1.0zM421.4 183.6h1.0v1.0h-1.0zM397.3 143.0h1.0v1.0h-1.0zM404.3 156.5h1.0v1.0h-1.0zM415.5 147.8h1.0v1.0h-1.0zM393.2 148.7h1.0v1.0h-1.0zM417.7 172.3h1.0v1.0h-1.0zM404.6 145.4h1.0v1.0h-1.0zM413.7 176.5h1.0v1.0h-1.0zM404.6 156.7h1.0v1.0h-1.0zM356.8 153.0h1.0v1.0h-1.0zM420.9 152.5h1.0v1.0h-1.0zM406.9 154.2h1.0v1.0h-1.0zM418.4 183.0h1.0v1.0h-1.0zM418.6 158.5h1.0v1.0h-1.0zM426.1 174.1h1.0v1.0h-1.0zM413.5 167.0h1.0v1.0h-1.0zM412.6 184.3h1.0v1.0h-1.0zM362.6 144.9h1.0v1.0h-1.0zM416.6 183.3h1.0v1.0h-1.0zM403.2 166.1h1.0v1.0h-1.0zM409.1 135.7h1.0v1.0h-1.0zM415.8 177.1h1.0v1.0h-1.0zM413.1 167.4h1.0v1.0h-1.0zM416.3 170.0h1.0v1.0h-1.0zM402.2 130.5h1.0v1.0h-1.0zM361.7 145.2h1.0v1.0h-1.0zM351.8 154.6h1.0v1.0h-1.0zM414.5 177.1h1.0v1.0h-1.0zM414.2 137.6h1.0v1.0h-1.0zM400.6 154.0h1.0v1.0h-1.0zM396.9 131.1h1.0v1.0h-1.0zM425.8 159.5h1.0v1.0h-1.0zM397.6 130.0h1.0v1.0h-1.0zM405.1 145.3h1.0v1.0h-1.0zM404.8 154.1h1.0v1.0h-1.0zM349.9 156.3h1.0v1.0h-1.0zM351.4 158.4h1.0v1.0h-1.0zM415.5 138.9h1.0v1.0h-1.0zM409.0 139.8h1.0v1.0h-1.0zM417.0 166.5h1.0v1.0h-1.0zM414.7 174.8h1.0v1.0h-1.0zM418.2 158.8h1.0v1.0h-1.0zM404.1 129.6h1.0v1.0h-1.0zM403.4 135.0h1.0v1.0h-1.0zM410.0 151.0h1.0v1.0h-1.0zM413.6 179.5h1.0v1.0h-1.0zM399.9 155.9h1.0v1.0h-1.0zM423.3 180.6h1.0v1.0h-1.0zM413.9 143.5h1.0v1.0h-1.0zM402.4 135.2h1.0v1.0h-1.0zM425.6 178.7h1.0v1.0h-1.0zM393.6 143.5h1.0v1.0h-1.0zM413.1 171.1h1.0v1.0h-1.0zM402.4 133.2h1.0v1.0h-1.0zM390.9 137.3h1.0v1.0h-1.0zM409.4 131.8h1.0v1.0h-1.0zM403.1 146.7h1.0v1.0h-1.0zM407.1 141.4h1.0v1.0h-1.0zM396.2 144.2h1.0v1.0h-1.0zM411.4 161.7h1.0v1.0h-1.0zM418.3 172.6h1.0v1.0h-1.0zM418.2 175.5h1.0v1.0h-1.0zM407.9 133.5h1.0v1.0h-1.0zM403.7 134.2h1.0v1.0h-1.0zM427.7 176.0h1.0v1.0h-1.0zM402.3 146.5h1.0v1.0h-1.0zM406.4 128.3h1.0v1.0h-1.0zM425.2 162.4h1.0v1.0h-1.0zM400.1 146.6h1.0v1.0h-1.0zM413.6 131.9h1.0v1.0h-1.0zM417.5 164.9h1.0v1.0h-1.0zM408.5 142.2h1.0v1.0h-1.0zM411.3 168.4h1.0v1.0h-1.0zM419.7 151.6h1.0v1.0h-1.0zM417.8 152.7h1.0v1.0h-1.0zM396.7 137.4h1.0v1.0h-1.0zM415.8 172.9h1.0v1.0h-1.0zM351.0 155.2h1.0v1.0h-1.0zM430.3 174.6h1.0v1.0h-1.0zM357.3 151.2h1.0v1.0h-1.0zM387.2 132.5h1.0v1.0h-1.0zM405.0 148.8h1.0v1.0h-1.0zM414.3 162.5h1.0v1.0h-1.0zM417.4 173.2h1.0v1.0h-1.0zM403.4 159.6h1.0v1.0h-1.0zM403.6 154.3h1.0v1.0h-1.0zM407.2 152.5h1.0v1.0h-1.0zM418.5 175.1h1.0v1.0h-1.0zM418.6 165.2h1.0v1.0h-1.0zM404.0 139.6h1.0v1.0h-1.0zM416.8 175.3h1.0v1.0h-1.0zM414.1 186.3h1.0v1.0h-1.0zM417.5 182.7h1.0v1.0h-1.0zM418.9 171.8h1.0v1.0h-1.0zM413.2 174.5h1.0v1.0h-1.0zM419.9 179.5h1.0v1.0h-1.0zM414.1 170.7h1.0v1.0h-1.0zM419.4 155.2h1.0v1.0h-1.0zM415.7 157.0h1.0v1.0h-1.0zM419.7 166.5h1.0v1.0h-1.0zM407.3 162.6h1.0v1.0h-1.0zM357.9 150.6h1.0v1.0h-1.0zM411.4 141.5h1.0v1.0h-1.0zM420.2 175.7h1.0v1.0h-1.0zM412.9 185.7h1.0v1.0h-1.0zM405.4 135.9h1.0v1.0h-1.0zM399.3 158.5h1.0v1.0h-1.0zM409.9 178.2h1.0v1.0h-1.0zM421.4 164.9h1.0v1.0h-1.0zM409.1 173.6h1.0v1.0h-1.0zM410.7 159.0h1.0v1.0h-1.0zM415.7 169.9h1.0v1.0h-1.0zM408.9 178.5h1.0v1.0h-1.0zM418.0 170.1h1.0v1.0h-1.0zM401.5 158.2h1.0v1.0h-1.0zM406.9 169.2h1.0v1.0h-1.0zM428.1 166.3h1.0v1.0h-1.0zM408.2 159.3h1.0v1.0h-1.0zM419.2 167.5h1.0v1.0h-1.0zM413.6 149.5h1.0v1.0h-1.0zM358.7 141.2h1.0v1.0h-1.0zM374.9 132.1h1.0v1.0h-1.0zM359.9 142.9h1.0v1.0h-1.0zM359.6 138.1h1.0v1.0h-1.0zM345.6 143.4h1.0v1.0h-1.0zM362.1 141.2h1.0v1.0h-1.0zM367.3 133.5h1.0v1.0h-1.0zM364.2 139.0h1.0v1.0h-1.0zM379.0 130.5h1.0v1.0h-1.0zM345.2 145.4h1.0v1.0h-1.0zM368.0 139.2h1.0v1.0h-1.0zM359.6 142.8h1.0v1.0h-1.0zM346.4 144.6h1.0v1.0h-1.0zM378.6 133.3h1.0v1.0h-1.0zM346.8 149.2h1.0v1.0h-1.0zM375.0 130.6h1.0v1.0h-1.0zM344.2 145.2h1.0v1.0h-1.0zM372.4 135.9h1.0v1.0h-1.0zM374.9 130.0h1.0v1.0h-1.0zM354.5 145.7h1.0v1.0h-1.0zM375.4 130.1h1.0v1.0h-1.0zM345.0 147.9h1.0v1.0h-1.0zM349.3 147.3h1.0v1.0h-1.0zM346.2 143.9h1.0v1.0h-1.0zM351.5 142.7h1.0v1.0h-1.0zM374.5 130.9h1.0v1.0h-1.0zM349.3 144.3h1.0v1.0h-1.0zM347.3 144.5h1.0v1.0h-1.0zM352.4 144.5h1.0v1.0h-1.0zM379.7 128.2h1.0v1.0h-1.0zM367.4 133.5h1.0v1.0h-1.0zM342.6 144.7h1.0v1.0h-1.0zM343.4 143.9h1.0v1.0h-1.0zM349.9 141.1h1.0v1.0h-1.0zM350.6 146.4h1.0v1.0h-1.0zM351.8 140.5h1.0v1.0h-1.0zM375.1 133.5h1.0v1.0h-1.0zM356.1 141.6h1.0v1.0h-1.0zM343.8 149.2h1.0v1.0h-1.0zM349.6 143.8h1.0v1.0h-1.0zM343.9 149.3h1.0v1.0h-1.0zM373.2 135.7h1.0v1.0h-1.0zM346.6 143.0h1.0v1.0h-1.0zM364.2 139.1h1.0v1.0h-1.0zM354.4 140.4h1.0v1.0h-1.0zM373.1 135.6h1.0v1.0h-1.0zM357.1 137.8h1.0v1.0h-1.0zM379.8 132.5h1.0v1.0h-1.0zM344.6 148.7h1.0v1.0h-1.0zM359.4 138.1h1.0v1.0h-1.0zM348.6 146.3h1.0v1.0h-1.0zM371.6 130.4h1.0v1.0h-1.0zM359.9 142.4h1.0v1.0h-1.0zM348.5 141.7h1.0v1.0h-1.0zM358.1 141.3h1.0v1.0h-1.0zM370.3 136.6h1.0v1.0h-1.0zM379.6 129.6h1.0v1.0h-1.0zM369.5 133.1h1.0v1.0h-1.0zM378.0 131.8h1.0v1.0h-1.0zM365.2 140.1h1.0v1.0h-1.0zM375.2 134.9h1.0v1.0h-1.0zM401.4 203.5h1.0v1.0h-1.0zM401.3 204.9h1.0v1.0h-1.0zM407.2 197.5h1.0v1.0h-1.0zM437.6 183.2h1.0v1.0h-1.0zM436.2 188.4h1.0v1.0h-1.0zM403.2 205.4h1.0v1.0h-1.0zM424.9 195.0h1.0v1.0h-1.0zM413.1 198.2h1.0v1.0h-1.0zM403.9 203.3h1.0v1.0h-1.0zM432.0 185.6h1.0v1.0h-1.0zM405.5 203.0h1.0v1.0h-1.0zM412.4 197.5h1.0v1.0h-1.0zM416.2 193.1h1.0v1.0h-1.0zM409.1 197.7h1.0v1.0h-1.0zM405.1 200.5h1.0v1.0h-1.0zM416.5 194.5h1.0v1.0h-1.0zM400.4 202.0h1.0v1.0h-1.0zM437.8 184.6h1.0v1.0h-1.0zM433.3 185.2h1.0v1.0h-1.0zM434.2 185.4h1.0v1.0h-1.0zM424.6 194.9h1.0v1.0h-1.0zM416.7 195.8h1.0v1.0h-1.0zM418.5 191.7h1.0v1.0h-1.0zM429.0 189.3h1.0v1.0h-1.0zM436.2 187.8h1.0v1.0h-1.0zM431.6 186.4h1.0v1.0h-1.0zM434.6 185.1h1.0v1.0h-1.0zM432.2 187.8h1.0v1.0h-1.0zM434.0 187.6h1.0v1.0h-1.0zM414.2 193.1h1.0v1.0h-1.0zM427.2 193.4h1.0v1.0h-1.0zM407.6 199.6h1.0v1.0h-1.0zM417.3 193.8h1.0v1.0h-1.0zM420.3 196.3h1.0v1.0h-1.0zM432.4 189.1h1.0v1.0h-1.0zM424.6 190.9h1.0v1.0h-1.0zM420.4 191.2h1.0v1.0h-1.0zM418.9 196.4h1.0v1.0h-1.0zM433.7 183.8h1.0v1.0h-1.0zM417.6 192.1h1.0v1.0h-1.0zM411.7 200.3h1.0v1.0h-1.0zM425.9 189.5h1.0v1.0h-1.0zM433.4 189.1h1.0v1.0h-1.0zM430.6 188.9h1.0v1.0h-1.0zM424.6 194.1h1.0v1.0h-1.0zM401.9 202.6h1.0v1.0h-1.0zM427.0 187.2h1.0v1.0h-1.0zM423.4 194.8h1.0v1.0h-1.0zM435.5 189.8h1.0v1.0h-1.0zM410.0 195.7h1.0v1.0h-1.0zM412.2 196.6h1.0v1.0h-1.0zM438.6 187.1h1.0v1.0h-1.0zM406.2 202.5h1.0v1.0h-1.0zM404.3 201.9h1.0v1.0h-1.0zM411.7 199.6h1.0v1.0h-1.0zM401.5 203.0h1.0v1.0h-1.0zM423.5 192.0h1.0v1.0h-1.0zM409.4 200.0h1.0v1.0h-1.0zM413.5 197.9h1.0v1.0h-1.0zM415.4 192.9h1.0v1.0h-1.0zM415.4 199.3h1.0v1.0h-1.0zM437.1 188.6h1.0v1.0h-1.0zM420.7 192.1h1.0v1.0h-1.0zM400.0 201.4h1.0v1.0h-1.0zM437.4 184.5h1.0v1.0h-1.0zM426.0 188.9h1.0v1.0h-1.0zM418.4 193.2h1.0v1.0h-1.0zM430.3 191.4h1.0v1.0h-1.0zM419.3 197.6h1.0v1.0h-1.0zM407.2 201.7h1.0v1.0h-1.0zM425.1 190.7h1.0v1.0h-1.0zM402.1 204.4h1.0v1.0h-1.0zM417.0 193.0h1.0v1.0h-1.0zM399.8 204.9h1.0v1.0h-1.0zM432.7 188.4h1.0v1.0h-1.0zM404.2 201.4h1.0v1.0h-1.0zM436.7 189.4h1.0v1.0h-1.0zM434.8 189.9h1.0v1.0h-1.0zM425.7 188.6h1.0v1.0h-1.0zM425.0 190.3h1.0v1.0h-1.0zM424.5 193.5h1.0v1.0h-1.0zM411.2 195.5h1.0v1.0h-1.0zM426.5 189.4h1.0v1.0h-1.0zM402.5 205.2h1.0v1.0h-1.0zM424.8 191.2h1.0v1.0h-1.0z" fill="#28a0f0"/><path d="M386.4 185.7h1.0v1.0h-1.0zM395.9 174.5h1.0v1.0h-1.0zM383.0 134.7h1.0v1.0h-1.0zM406.5 189.8h1.0v1.0h-1.0zM388.3 154.6h1.0v1.0h-1.0zM344.7 169.0h1.0v1.0h-1.0zM388.3 180.3h1.0v1.0h-1.0zM349.3 167.8h1.0v1.0h-1.0zM388.7 146.5h1.0v1.0h-1.0zM401.8 193.9h1.0v1.0h-1.0zM377.8 148.2h1.0v1.0h-1.0zM372.7 140.6h1.0v1.0h-1.0zM406.9 190.0h1.0v1.0h-1.0zM389.7 157.1h1.0v1.0h-1.0zM411.9 191.2h1.0v1.0h-1.0zM369.5 144.1h1.0v1.0h-1.0zM375.1 144.2h1.0v1.0h-1.0zM382.0 167.0h1.0v1.0h-1.0zM390.9 160.1h1.0v1.0h-1.0zM410.0 189.1h1.0v1.0h-1.0zM373.4 148.9h1.0v1.0h-1.0zM388.6 150.5h1.0v1.0h-1.0zM378.2 149.6h1.0v1.0h-1.0zM408.5 185.2h1.0v1.0h-1.0zM400.0 196.3h1.0v1.0h-1.0zM389.3 180.7h1.0v1.0h-1.0zM347.4 166.6h1.0v1.0h-1.0zM387.2 158.3h1.0v1.0h-1.0zM370.9 153.3h1.0v1.0h-1.0zM390.8 185.7h1.0v1.0h-1.0zM404.1 182.5h1.0v1.0h-1.0zM375.3 166.1h1.0v1.0h-1.0zM396.3 162.9h1.0v1.0h-1.0zM375.1 162.5h1.0v1.0h-1.0zM381.1 145.9h1.0v1.0h-1.0zM392.8 196.1h1.0v1.0h-1.0zM380.2 147.6h1.0v1.0h-1.0zM379.9 173.2h1.0v1.0h-1.0zM383.7 150.9h1.0v1.0h-1.0zM348.4 161.6h1.0v1.0h-1.0zM382.0 156.4h1.0v1.0h-1.0zM403.2 187.4h1.0v1.0h-1.0zM402.8 190.2h1.0v1.0h-1.0zM391.7 155.8h1.0v1.0h-1.0zM395.4 180.5h1.0v1.0h-1.0zM392.8 183.5h1.0v1.0h-1.0zM403.2 194.5h1.0v1.0h-1.0zM395.9 197.5h1.0v1.0h-1.0zM388.2 148.2h1.0v1.0h-1.0zM399.8 168.2h1.0v1.0h-1.0zM345.9 164.1h1.0v1.0h-1.0zM387.3 164.9h1.0v1.0h-1.0zM381.4 170.7h1.0v1.0h-1.0zM404.5 186.7h1.0v1.0h-1.0zM383.0 173.7h1.0v1.0h-1.0zM409.5 190.3h1.0v1.0h-1.0zM376.4 151.0h1.0v1.0h-1.0zM346.6 182.4h1.0v1.0h-1.0zM380.1 171.4h1.0v1.0h-1.0zM384.5 184.3h1.0v1.0h-1.0zM346.0 171.9h1.0v1.0h-1.0zM394.8 167.4h1.0v1.0h-1.0zM401.9 197.3h1.0v1.0h-1.0zM394.3 156.4h1.0v1.0h-1.0zM399.8 190.2h1.0v1.0h-1.0zM388.6 156.1h1.0v1.0h-1.0zM388.1 175.3h1.0v1.0h-1.0zM391.5 160.8h1.0v1.0h-1.0zM369.6 148.5h1.0v1.0h-1.0zM402.0 186.7h1.0v1.0h-1.0zM349.7 168.5h1.0v1.0h-1.0zM349.4 162.3h1.0v1.0h-1.0zM407.6 186.1h1.0v1.0h-1.0zM405.8 192.4h1.0v1.0h-1.0zM407.4 193.0h1.0v1.0h-1.0zM391.1 180.1h1.0v1.0h-1.0zM398.8 183.7h1.0v1.0h-1.0z" fill="#a0f078"/><path d="M272.9 183.2h1.7v1.7h-1.7zM265.4 167.2h1.7v1.7h-1.7zM230.2 132.6h1.7v1.7h-1.7zM250.4 189.5h1.7v1.7h-1.7zM260.1 171.8h1.7v1.7h-1.7zM252.6 153.0h1.7v1.7h-1.7zM268.0 142.8h1.7v1.7h-1.7zM250.2 179.9h1.7v1.7h-1.7zM235.4 146.2h1.7v1.7h-1.7zM243.5 144.1h1.7v1.7h-1.7zM250.0 201.8h1.7v1.7h-1.7zM256.1 127.8h1.7v1.7h-1.7zM267.7 185.5h1.7v1.7h-1.7zM246.1 175.8h1.7v1.7h-1.7zM256.3 147.8h1.7v1.7h-1.7zM258.2 144.6h1.7v1.7h-1.7zM256.3 172.4h1.7v1.7h-1.7zM262.2 148.6h1.7v1.7h-1.7zM263.6 132.1h1.7v1.7h-1.7zM231.7 138.8h1.7v1.7h-1.7zM294.1 130.5h1.7v1.7h-1.7zM255.1 173.3h1.7v1.7h-1.7zM291.0 149.8h1.7v1.7h-1.7zM264.1 182.4h1.7v1.7h-1.7zM253.8 147.3h1.7v1.7h-1.7zM259.8 123.6h1.7v1.7h-1.7zM255.0 174.4h1.7v1.7h-1.7zM225.6 159.9h1.7v1.7h-1.7zM275.5 149.2h1.7v1.7h-1.7zM236.3 165.6h1.7v1.7h-1.7zM263.9 164.6h1.7v1.7h-1.7zM270.0 175.9h1.7v1.7h-1.7zM244.6 145.6h1.7v1.7h-1.7zM228.0 187.4h1.7v1.7h-1.7zM243.4 139.3h1.7v1.7h-1.7zM254.4 177.6h1.7v1.7h-1.7zM271.1 146.1h1.7v1.7h-1.7zM247.0 190.2h1.7v1.7h-1.7zM223.3 144.1h1.7v1.7h-1.7zM286.8 140.0h1.7v1.7h-1.7zM281.8 132.4h1.7v1.7h-1.7zM282.9 147.1h1.7v1.7h-1.7zM230.5 173.5h1.7v1.7h-1.7zM260.2 168.9h1.7v1.7h-1.7zM260.5 182.2h1.7v1.7h-1.7zM242.8 142.8h1.7v1.7h-1.7zM254.8 197.4h1.7v1.7h-1.7zM231.9 138.9h1.7v1.7h-1.7zM262.5 172.1h1.7v1.7h-1.7zM281.3 143.9h1.7v1.7h-1.7zM282.2 132.3h1.7v1.7h-1.7zM283.2 142.6h1.7v1.7h-1.7zM249.1 159.5h1.7v1.7h-1.7zM253.5 182.9h1.7v1.7h-1.7zM228.2 144.0h1.7v1.7h-1.7zM245.4 191.7h1.7v1.7h-1.7zM255.1 161.2h1.7v1.7h-1.7zM244.2 199.7h1.7v1.7h-1.7zM241.7 149.3h1.7v1.7h-1.7zM243.9 159.7h1.7v1.7h-1.7zM281.3 151.1h1.7v1.7h-1.7zM234.5 156.9h1.7v1.7h-1.7zM261.8 147.2h1.7v1.7h-1.7zM267.7 119.1h1.7v1.7h-1.7zM231.4 133.6h1.7v1.7h-1.7zM218.6 170.2h1.7v1.7h-1.7zM230.5 168.1h1.7v1.7h-1.7zM268.7 186.8h1.7v1.7h-1.7zM256.3 176.1h1.7v1.7h-1.7zM243.8 177.1h1.7v1.7h-1.7zM262.1 204.2h1.7v1.7h-1.7zM253.1 179.0h1.7v1.7h-1.7zM234.4 145.3h1.7v1.7h-1.7zM279.1 135.1h1.7v1.7h-1.7zM292.6 145.9h1.7v1.7h-1.7zM271.8 181.4h1.7v1.7h-1.7zM230.7 164.1h1.7v1.7h-1.7zM228.1 133.7h1.7v1.7h-1.7zM241.4 178.3h1.7v1.7h-1.7zM268.4 142.7h1.7v1.7h-1.7zM260.0 162.2h1.7v1.7h-1.7zM223.7 166.2h1.7v1.7h-1.7zM288.7 153.6h1.7v1.7h-1.7zM266.4 169.6h1.7v1.7h-1.7zM287.6 140.1h1.7v1.7h-1.7zM247.4 152.7h1.7v1.7h-1.7zM259.7 193.5h1.7v1.7h-1.7zM281.9 166.9h1.7v1.7h-1.7zM229.4 153.3h1.7v1.7h-1.7zM255.1 200.2h1.7v1.7h-1.7zM272.0 150.3h1.7v1.7h-1.7zM221.4 152.4h1.7v1.7h-1.7zM285.3 146.8h1.7v1.7h-1.7zM270.3 135.6h1.7v1.7h-1.7zM245.1 138.2h1.7v1.7h-1.7zM247.7 141.7h1.7v1.7h-1.7zM273.6 177.9h1.7v1.7h-1.7zM262.3 146.8h1.7v1.7h-1.7zM274.2 152.4h1.7v1.7h-1.7zM255.4 133.3h1.7v1.7h-1.7zM233.0 149.3h1.7v1.7h-1.7zM253.2 183.2h1.7v1.7h-1.7zM259.6 172.8h1.7v1.7h-1.7zM265.7 181.1h1.7v1.7h-1.7zM246.5 176.3h1.7v1.7h-1.7zM304.3 137.9h1.7v1.7h-1.7zM288.9 129.3h1.7v1.7h-1.7zM240.0 145.9h1.7v1.7h-1.7zM251.2 144.4h1.7v1.7h-1.7zM288.4 149.2h1.7v1.7h-1.7zM229.0 165.3h1.7v1.7h-1.7zM256.4 161.2h1.7v1.7h-1.7zM234.6 159.5h1.7v1.7h-1.7z" fill="#e65a3c"/><path d="M269.3 207.5h1.7v1.7h-1.7zM284.7 197.0h1.7v1.7h-1.7zM278.1 209.4h1.7v1.7h-1.7zM269.0 204.4h1.7v1.7h-1.7zM297.7 182.4h1.7v1.7h-1.7zM297.0 186.1h1.7v1.7h-1.7zM306.1 186.2h1.7v1.7h-1.7zM265.3 201.9h1.7v1.7h-1.7zM297.9 156.5h1.7v1.7h-1.7zM303.6 197.3h1.7v1.7h-1.7zM288.0 182.0h1.7v1.7h-1.7zM276.6 194.7h1.7v1.7h-1.7zM297.3 172.6h1.7v1.7h-1.7zM315.6 180.3h1.7v1.7h-1.7zM295.1 204.5h1.7v1.7h-1.7zM300.5 160.6h1.7v1.7h-1.7zM292.6 165.2h1.7v1.7h-1.7zM282.9 180.2h1.7v1.7h-1.7zM292.1 206.4h1.7v1.7h-1.7zM301.3 189.7h1.7v1.7h-1.7zM277.7 207.8h1.7v1.7h-1.7zM292.6 178.0h1.7v1.7h-1.7zM304.1 189.5h1.7v1.7h-1.7zM307.9 195.2h1.7v1.7h-1.7zM302.4 156.8h1.7v1.7h-1.7zM267.0 202.0h1.7v1.7h-1.7zM293.3 182.9h1.7v1.7h-1.7zM291.0 207.9h1.7v1.7h-1.7zM308.5 177.3h1.7v1.7h-1.7zM279.8 202.5h1.7v1.7h-1.7zM282.7 205.1h1.7v1.7h-1.7zM274.9 198.1h1.7v1.7h-1.7zM282.0 201.0h1.7v1.7h-1.7zM294.5 202.8h1.7v1.7h-1.7zM298.3 165.5h1.7v1.7h-1.7zM304.9 143.3h1.7v1.7h-1.7zM293.2 166.7h1.7v1.7h-1.7z" fill="#6c62e0"/><path d="M311.2 161.1h1.7v1.7h-1.7zM291.8 208.5h1.7v1.7h-1.7zM304.8 162.5h1.7v1.7h-1.7z" fill="#5ec8e0"/><path d="M168.7 133.7h1.5v1.5h-1.5zM131.7 193.8h1.5v1.5h-1.5zM133.8 151.0h1.5v1.5h-1.5zM127.5 187.0h1.5v1.5h-1.5zM165.1 142.2h1.5v1.5h-1.5zM146.2 159.5h1.5v1.5h-1.5zM128.8 173.0h1.5v1.5h-1.5zM123.0 160.3h1.5v1.5h-1.5zM141.0 167.3h1.5v1.5h-1.5zM127.9 145.5h1.5v1.5h-1.5zM149.9 165.7h1.5v1.5h-1.5zM153.3 147.7h1.5v1.5h-1.5zM117.4 195.6h1.5v1.5h-1.5zM137.2 151.2h1.5v1.5h-1.5zM124.3 161.4h1.5v1.5h-1.5zM166.7 150.7h1.5v1.5h-1.5zM173.1 143.3h1.5v1.5h-1.5zM124.6 143.2h1.5v1.5h-1.5zM115.7 189.0h1.5v1.5h-1.5zM141.8 174.6h1.5v1.5h-1.5zM135.8 188.1h1.5v1.5h-1.5zM115.8 132.2h1.5v1.5h-1.5zM162.4 156.3h1.5v1.5h-1.5zM159.0 149.3h1.5v1.5h-1.5zM156.5 150.8h1.5v1.5h-1.5zM166.3 134.7h1.5v1.5h-1.5zM171.3 153.2h1.5v1.5h-1.5zM101.8 183.7h1.5v1.5h-1.5zM166.3 145.0h1.5v1.5h-1.5zM161.3 159.4h1.5v1.5h-1.5zM107.3 196.5h1.5v1.5h-1.5zM166.3 149.4h1.5v1.5h-1.5zM115.4 175.2h1.5v1.5h-1.5zM125.3 181.6h1.5v1.5h-1.5zM133.1 182.4h1.5v1.5h-1.5zM136.5 179.6h1.5v1.5h-1.5zM145.3 170.8h1.5v1.5h-1.5zM155.8 159.7h1.5v1.5h-1.5zM134.7 132.2h1.5v1.5h-1.5zM133.2 154.5h1.5v1.5h-1.5zM148.2 155.3h1.5v1.5h-1.5zM109.9 146.9h1.5v1.5h-1.5zM168.7 147.1h1.5v1.5h-1.5zM160.9 150.7h1.5v1.5h-1.5zM122.7 178.1h1.5v1.5h-1.5zM146.2 137.3h1.5v1.5h-1.5zM134.7 160.9h1.5v1.5h-1.5zM125.2 189.4h1.5v1.5h-1.5zM146.9 166.6h1.5v1.5h-1.5zM128.9 134.8h1.5v1.5h-1.5zM145.2 159.7h1.5v1.5h-1.5zM145.4 167.5h1.5v1.5h-1.5zM115.3 180.0h1.5v1.5h-1.5zM158.0 162.2h1.5v1.5h-1.5zM181.4 147.5h1.5v1.5h-1.5zM119.4 187.3h1.5v1.5h-1.5zM166.2 160.0h1.5v1.5h-1.5zM147.9 152.2h1.5v1.5h-1.5zM124.9 188.1h1.5v1.5h-1.5zM124.3 189.5h1.5v1.5h-1.5zM126.4 181.8h1.5v1.5h-1.5zM145.9 190.9h1.5v1.5h-1.5zM110.3 188.1h1.5v1.5h-1.5zM129.3 147.2h1.5v1.5h-1.5zM147.4 182.5h1.5v1.5h-1.5zM141.6 165.0h1.5v1.5h-1.5zM147.9 165.3h1.5v1.5h-1.5zM134.4 177.8h1.5v1.5h-1.5zM164.2 147.4h1.5v1.5h-1.5zM105.9 189.8h1.5v1.5h-1.5zM153.4 162.5h1.5v1.5h-1.5zM166.6 145.9h1.5v1.5h-1.5zM141.5 133.4h1.5v1.5h-1.5zM155.2 165.4h1.5v1.5h-1.5zM144.7 161.6h1.5v1.5h-1.5zM115.6 184.8h1.5v1.5h-1.5zM170.4 137.7h1.5v1.5h-1.5zM141.7 147.8h1.5v1.5h-1.5zM164.4 145.9h1.5v1.5h-1.5zM167.3 146.0h1.5v1.5h-1.5zM119.4 202.0h1.5v1.5h-1.5zM130.9 145.4h1.5v1.5h-1.5zM150.5 165.0h1.5v1.5h-1.5zM130.2 181.6h1.5v1.5h-1.5zM124.2 166.0h1.5v1.5h-1.5zM166.3 147.0h1.5v1.5h-1.5zM163.5 147.6h1.5v1.5h-1.5zM144.2 168.0h1.5v1.5h-1.5zM113.3 154.1h1.5v1.5h-1.5zM152.3 147.6h1.5v1.5h-1.5zM115.3 203.7h1.5v1.5h-1.5zM110.5 173.4h1.5v1.5h-1.5zM121.9 175.8h1.5v1.5h-1.5zM140.2 166.0h1.5v1.5h-1.5zM122.2 180.1h1.5v1.5h-1.5zM115.5 157.4h1.5v1.5h-1.5zM127.6 182.6h1.5v1.5h-1.5zM141.9 164.6h1.5v1.5h-1.5zM159.8 142.2h1.5v1.5h-1.5zM153.8 148.2h1.5v1.5h-1.5zM154.1 147.0h1.5v1.5h-1.5zM129.5 182.6h1.5v1.5h-1.5zM171.8 140.8h1.5v1.5h-1.5zM148.1 144.2h1.5v1.5h-1.5zM125.4 188.4h1.5v1.5h-1.5zM134.7 173.9h1.5v1.5h-1.5zM129.8 193.3h1.5v1.5h-1.5zM165.2 154.3h1.5v1.5h-1.5zM171.8 143.9h1.5v1.5h-1.5zM160.9 157.7h1.5v1.5h-1.5zM137.6 170.6h1.5v1.5h-1.5zM173.7 142.1h1.5v1.5h-1.5zM132.3 185.9h1.5v1.5h-1.5zM141.6 164.5h1.5v1.5h-1.5zM162.6 156.6h1.5v1.5h-1.5zM172.4 153.1h1.5v1.5h-1.5zM138.8 181.7h1.5v1.5h-1.5zM127.4 185.5h1.5v1.5h-1.5zM123.4 157.3h1.5v1.5h-1.5zM124.0 179.3h1.5v1.5h-1.5zM127.0 183.0h1.5v1.5h-1.5zM120.5 191.8h1.5v1.5h-1.5zM110.3 199.1h1.5v1.5h-1.5zM125.2 165.3h1.5v1.5h-1.5zM171.4 146.6h1.5v1.5h-1.5zM127.3 174.0h1.5v1.5h-1.5zM142.5 176.0h1.5v1.5h-1.5zM155.6 143.7h1.5v1.5h-1.5zM126.1 190.4h1.5v1.5h-1.5zM110.3 146.0h1.5v1.5h-1.5zM135.8 173.3h1.5v1.5h-1.5zM150.8 160.4h1.5v1.5h-1.5zM172.2 146.6h1.5v1.5h-1.5zM166.2 148.2h1.5v1.5h-1.5zM169.3 132.2h1.5v1.5h-1.5zM151.7 169.0h1.5v1.5h-1.5zM135.6 146.0h1.5v1.5h-1.5zM152.6 145.7h1.5v1.5h-1.5zM139.2 176.6h1.5v1.5h-1.5zM139.7 134.9h1.5v1.5h-1.5zM143.5 178.0h1.5v1.5h-1.5zM121.3 206.5h1.5v1.5h-1.5zM162.5 152.4h1.5v1.5h-1.5zM142.0 169.9h1.5v1.5h-1.5zM134.4 177.8h1.5v1.5h-1.5zM112.6 136.1h1.5v1.5h-1.5zM121.2 185.7h1.5v1.5h-1.5zM167.3 145.9h1.5v1.5h-1.5zM123.2 173.7h1.5v1.5h-1.5zM147.9 149.2h1.5v1.5h-1.5zM161.9 147.3h1.5v1.5h-1.5zM178.0 142.6h1.5v1.5h-1.5zM146.5 163.2h1.5v1.5h-1.5zM122.3 183.0h1.5v1.5h-1.5zM157.6 151.9h1.5v1.5h-1.5zM148.7 146.4h1.5v1.5h-1.5zM156.9 155.6h1.5v1.5h-1.5zM159.8 149.0h1.5v1.5h-1.5zM144.8 165.5h1.5v1.5h-1.5zM120.9 191.7h1.5v1.5h-1.5zM127.8 191.6h1.5v1.5h-1.5zM112.1 196.4h1.5v1.5h-1.5zM126.5 191.4h1.5v1.5h-1.5zM160.2 159.4h1.5v1.5h-1.5zM161.2 161.4h1.5v1.5h-1.5zM154.3 164.2h1.5v1.5h-1.5zM135.2 172.2h1.5v1.5h-1.5zM154.1 161.3h1.5v1.5h-1.5zM148.6 141.0h1.5v1.5h-1.5zM146.9 190.8h1.5v1.5h-1.5z" fill="#8e5ce6"/><text x="144.0" y="234.4" font-size="11.2" fill="#1a1a1a" text-anchor="middle">Observation</text><text x="267.0" y="234.4" font-size="11.2" fill="#1a1a1a" text-anchor="middle">Coarse sample</text><text x="390.3" y="234.4" font-size="11.2" fill="#1a1a1a" text-anchor="middle">Interpolation</text><text x="143.8" y="368.6" font-size="11.2" fill="#1a1a1a" text-anchor="middle">Full sample</text><text x="267.0" y="368.6" font-size="11.2" fill="#1a1a1a" text-anchor="middle">Uniform Dense</text><text x="267.0" y="382.1" font-size="11.2" fill="#1a1a1a" text-anchor="middle">sample</text><text x="390.4" y="368.6" font-size="11.2" fill="#1a1a1a" text-anchor="middle">Dynamic Dense</text><text x="390.4" y="382.1" font-size="11.2" fill="#1a1a1a" text-anchor="middle">sample</text></svg></div>
<div style="position:absolute;left:3708px;top:0;width:927px;height:600px"><svg style="position:absolute;left:0;top:0" width="927" height="600" viewBox="0 0 927 600" font-family="Liberation Sans, sans-serif"><defs><linearGradient id="vg" x1="0.35" y1="0.35" x2="1" y2="1"><stop offset="0" stop-color="#3b528b"/><stop offset="0.45" stop-color="#2c728e"/><stop offset="0.75" stop-color="#29af7f"/><stop offset="1" stop-color="#fde725"/></linearGradient><linearGradient id="vg2" x1="0.35" y1="0.35" x2="1" y2="1"><stop offset="0" stop-color="#3e5a8c"/><stop offset="0.5" stop-color="#2f7a8d"/><stop offset="0.8" stop-color="#3bb27a"/><stop offset="1" stop-color="#c9df3a"/></linearGradient><clipPath id="c1"><rect x="0" y="0" width="169.6" height="126.5"/></clipPath></defs><g transform="translate(481.1,109.1)" clip-path="url(#c1)"><rect width="169.6" height="126.5" fill="url(#vg)"/><path d="M0 0 L101 0 L0 66 Z" fill="#440d5a"/><path d="M0 66 L101 0 L135 0 L38 64 Z" fill="#355f8d"/><path d="M0 70 L25 53 Q40 90 36 126.5 L0 126.5 Z" fill="#472d7b"/><path d="M36 64 L135 0 L169.6 0 L169.6 60 Q150 90 120 80 Q110 105 95 95 L60 110 L45 90 Z" fill="#3f4a8a"/><circle cx="45" cy="60" r="16" fill="#3f4a8a"/><circle cx="107" cy="98" r="19" fill="#3f4a8a"/><circle cx="150" cy="30" r="22" fill="#3f4a8a"/><path d="M50 95 L70 88 L80 110 L60 126.5 L45 126.5 Z" fill="#31688e"/></g><g transform="translate(666.8,109.1)" clip-path="url(#c1)"><rect width="169.6" height="126.5" fill="url(#vg2)"/><path d="M0 0 L101 0 L0 66 Z" fill="#45357f"/><path d="M0 66 L101 0 L135 0 L38 64 Z" fill="#3b5a8c"/><path d="M0 70 L25 53 Q40 90 36 126.5 L0 126.5 Z" fill="#3f4c88"/><path d="M36 64 L135 0 L169.6 0 L169.6 60 Q150 90 120 80 Q110 105 95 95 L60 110 L45 90 Z" fill="#36648c"/><circle cx="45" cy="60" r="16" fill="#36648c"/><circle cx="107" cy="98" r="19" fill="#36648c"/><circle cx="150" cy="30" r="22" fill="#36648c"/><path d="M50 95 L70 88 L80 110 L60 126.5 L45 126.5 Z" fill="#357490"/><circle cx="103.4" cy="90.3" r="1.6" fill="#1a0f2e"/><circle cx="151.4" cy="90.1" r="1.7" fill="#1a0f2e"/><circle cx="14.4" cy="58.5" r="1.7" fill="#1a0f2e"/><circle cx="107.3" cy="108.6" r="0.9" fill="#1a0f2e"/><circle cx="80.4" cy="33.4" r="1.3" fill="#1a0f2e"/><circle cx="96.1" cy="6.5" r="1.0" fill="#1a0f2e"/><circle cx="51.9" cy="110.4" r="1.6" fill="#1a0f2e"/><circle cx="33.9" cy="96.7" r="0.9" fill="#1a0f2e"/><circle cx="102.6" cy="19.6" r="0.8" fill="#1a0f2e"/><path d="M147.3 26.4h1v1h-1zM36.4 123.8h1v1h-1zM147.4 36.5h1v1h-1zM162.5 67.9h1v1h-1zM114.6 25.8h1v1h-1zM159.0 87.0h1v1h-1zM163.3 112.6h1v1h-1zM50.5 45.5h1v1h-1zM28.0 18.4h1v1h-1zM11.0 38.0h1v1h-1zM101.9 0.4h1v1h-1zM114.6 42.6h1v1h-1zM52.4 103.1h1v1h-1zM81.2 39.8h1v1h-1zM81.3 88.8h1v1h-1zM9.6 122.9h1v1h-1zM3.9 94.5h1v1h-1zM142.8 2.3h1v1h-1zM133.1 46.1h1v1h-1zM97.8 1.1h1v1h-1zM7.9 22.8h1v1h-1zM161.4 24.8h1v1h-1zM127.7 117.1h1v1h-1zM159.2 43.4h1v1h-1zM60.0 66.1h1v1h-1zM131.1 13.6h1v1h-1zM126.5 100.5h1v1h-1zM145.3 4.6h1v1h-1zM159.8 11.5h1v1h-1zM57.6 77.0h1v1h-1zM155.2 42.8h1v1h-1zM156.2 68.7h1v1h-1zM52.8 39.9h1v1h-1zM30.0 9.9h1v1h-1zM25.2 86.8h1v1h-1zM168.4 20.4h1v1h-1zM8.2 124.3h1v1h-1zM90.2 51.1h1v1h-1zM40.1 74.8h1v1h-1zM139.6 57.4h1v1h-1zM71.3 7.0h1v1h-1zM154.8 4.1h1v1h-1zM83.4 105.6h1v1h-1zM22.1 92.2h1v1h-1zM160.5 79.4h1v1h-1zM133.2 13.4h1v1h-1zM73.4 18.8h1v1h-1zM142.8 37.1h1v1h-1zM76.6 125.9h1v1h-1zM144.0 123.0h1v1h-1zM76.6 61.5h1v1h-1zM123.3 60.4h1v1h-1zM49.2 50.9h1v1h-1zM24.8 47.5h1v1h-1zM167.0 120.9h1v1h-1zM106.0 62.9h1v1h-1zM57.2 11.2h1v1h-1zM46.0 98.5h1v1h-1zM146.6 45.5h1v1h-1zM132.8 97.6h1v1h-1zM117.4 83.7h1v1h-1zM128.4 45.8h1v1h-1zM119.1 35.4h1v1h-1zM82.1 97.0h1v1h-1zM116.8 37.0h1v1h-1zM159.8 81.9h1v1h-1zM98.1 1.5h1v1h-1zM92.4 31.6h1v1h-1zM113.5 58.3h1v1h-1zM138.0 81.6h1v1h-1zM134.8 43.8h1v1h-1zM108.8 93.0h1v1h-1zM140.0 44.1h1v1h-1zM142.4 109.6h1v1h-1zM116.3 123.0h1v1h-1zM161.7 65.3h1v1h-1zM89.5 20.9h1v1h-1zM141.4 118.1h1v1h-1zM80.7 87.1h1v1h-1zM121.6 92.0h1v1h-1zM29.0 98.3h1v1h-1zM98.2 83.9h1v1h-1zM71.1 78.6h1v1h-1zM130.9 80.2h1v1h-1zM121.8 3.5h1v1h-1zM27.0 55.6h1v1h-1zM109.9 27.6h1v1h-1zM115.9 79.5h1v1h-1zM7.1 59.4h1v1h-1zM38.2 6.8h1v1h-1zM22.6 40.0h1v1h-1zM30.7 24.4h1v1h-1zM6.0 58.6h1v1h-1zM64.3 77.1h1v1h-1zM99.7 30.0h1v1h-1zM152.6 0.1h1v1h-1zM68.5 35.1h1v1h-1zM69.3 14.5h1v1h-1zM140.5 47.1h1v1h-1zM6.1 77.3h1v1h-1zM16.0 68.7h1v1h-1zM57.4 73.2h1v1h-1zM162.0 103.1h1v1h-1zM70.8 102.4h1v1h-1zM108.5 46.5h1v1h-1zM24.0 75.1h1v1h-1zM95.3 120.6h1v1h-1zM163.6 76.7h1v1h-1zM59.3 112.6h1v1h-1zM0.2 13.6h1v1h-1zM95.6 77.5h1v1h-1zM23.8 79.3h1v1h-1zM150.6 47.4h1v1h-1zM73.0 28.5h1v1h-1zM49.3 122.5h1v1h-1zM64.2 121.1h1v1h-1zM154.4 75.1h1v1h-1zM43.9 123.6h1v1h-1zM83.9 52.4h1v1h-1zM53.9 124.0h1v1h-1zM83.1 36.1h1v1h-1zM80.6 15.4h1v1h-1zM105.1 55.9h1v1h-1zM49.5 98.5h1v1h-1zM139.7 1.7h1v1h-1zM90.0 34.5h1v1h-1zM158.1 98.5h1v1h-1zM41.5 33.7h1v1h-1zM26.2 124.6h1v1h-1zM49.5 76.6h1v1h-1zM80.2 81.3h1v1h-1zM102.1 93.7h1v1h-1zM20.0 95.8h1v1h-1zM50.8 67.2h1v1h-1zM56.8 37.4h1v1h-1zM89.5 58.5h1v1h-1zM61.0 93.9h1v1h-1zM99.8 4.6h1v1h-1zM42.7 57.4h1v1h-1zM154.9 111.9h1v1h-1zM92.2 1.8h1v1h-1zM131.5 53.9h1v1h-1zM97.3 89.2h1v1h-1zM106.8 60.7h1v1h-1zM154.1 48.6h1v1h-1zM66.2 107.3h1v1h-1zM33.2 37.4h1v1h-1zM140.3 8.3h1v1h-1zM141.3 87.5h1v1h-1zM73.1 36.1h1v1h-1zM131.9 114.7h1v1h-1zM24.1 60.3h1v1h-1zM92.8 62.7h1v1h-1zM55.9 19.3h1v1h-1zM99.0 102.3h1v1h-1zM11.6 29.0h1v1h-1zM138.5 99.8h1v1h-1zM112.1 3.2h1v1h-1zM122.1 123.3h1v1h-1zM168.7 88.4h1v1h-1zM8.3 106.1h1v1h-1zM37.1 81.4h1v1h-1zM160.9 89.8h1v1h-1zM22.8 36.9h1v1h-1zM155.1 18.9h1v1h-1zM103.2 52.2h1v1h-1zM27.2 78.4h1v1h-1zM7.4 13.6h1v1h-1zM64.1 9.1h1v1h-1zM9.7 72.5h1v1h-1zM125.5 110.7h1v1h-1zM22.7 54.4h1v1h-1zM53.2 75.6h1v1h-1zM82.7 118.3h1v1h-1zM63.2 7.0h1v1h-1zM117.8 19.0h1v1h-1zM106.7 63.7h1v1h-1zM153.9 69.9h1v1h-1zM104.9 33.2h1v1h-1zM93.2 32.0h1v1h-1zM126.8 65.1h1v1h-1zM22.6 29.5h1v1h-1zM62.7 92.8h1v1h-1zM30.3 89.9h1v1h-1zM110.7 10.7h1v1h-1zM112.9 11.5h1v1h-1zM21.1 74.8h1v1h-1zM40.3 110.5h1v1h-1zM81.2 40.7h1v1h-1zM134.6 3.7h1v1h-1zM122.5 6.8h1v1h-1zM25.5 120.0h1v1h-1zM115.1 28.1h1v1h-1zM19.6 122.6h1v1h-1zM112.4 103.4h1v1h-1zM23.6 78.7h1v1h-1zM59.9 29.6h1v1h-1zM56.3 77.3h1v1h-1zM58.9 48.6h1v1h-1zM23.1 104.7h1v1h-1zM109.5 101.4h1v1h-1zM73.2 107.3h1v1h-1zM87.5 74.7h1v1h-1zM96.9 93.3h1v1h-1zM66.8 12.2h1v1h-1zM5.6 25.5h1v1h-1zM6.7 112.0h1v1h-1zM81.3 95.8h1v1h-1zM0.1 59.2h1v1h-1zM150.4 78.1h1v1h-1zM72.4 58.7h1v1h-1zM16.9 19.5h1v1h-1zM26.9 47.2h1v1h-1zM65.2 110.9h1v1h-1zM25.7 32.0h1v1h-1zM46.9 20.4h1v1h-1zM48.5 29.6h1v1h-1zM81.5 4.0h1v1h-1zM156.2 46.5h1v1h-1zM158.5 86.7h1v1h-1zM113.9 59.4h1v1h-1zM159.8 14.9h1v1h-1zM113.0 36.7h1v1h-1zM114.0 91.9h1v1h-1zM27.6 25.3h1v1h-1zM4.2 29.0h1v1h-1zM13.2 50.5h1v1h-1zM164.5 45.9h1v1h-1zM52.7 59.0h1v1h-1zM47.9 92.3h1v1h-1zM121.3 20.6h1v1h-1zM40.7 84.7h1v1h-1zM158.9 81.4h1v1h-1zM72.8 122.9h1v1h-1zM1.1 7.7h1v1h-1zM131.7 51.7h1v1h-1zM7.6 69.1h1v1h-1zM167.2 65.4h1v1h-1zM59.2 11.8h1v1h-1zM12.0 113.2h1v1h-1zM83.0 117.9h1v1h-1zM9.1 30.7h1v1h-1zM8.5 50.1h1v1h-1zM10.2 32.2h1v1h-1zM68.9 38.5h1v1h-1zM8.7 4.7h1v1h-1zM164.2 22.6h1v1h-1zM86.0 50.7h1v1h-1zM89.8 10.6h1v1h-1zM53.0 13.6h1v1h-1zM91.6 116.1h1v1h-1zM101.1 108.0h1v1h-1zM36.2 2.2h1v1h-1zM91.2 61.3h1v1h-1zM96.6 47.5h1v1h-1zM105.6 91.4h1v1h-1zM154.3 38.8h1v1h-1zM75.9 104.1h1v1h-1zM37.9 14.6h1v1h-1zM52.7 11.0h1v1h-1zM130.5 103.2h1v1h-1zM52.9 16.4h1v1h-1zM13.9 30.9h1v1h-1zM14.3 54.0h1v1h-1zM97.5 30.9h1v1h-1zM10.4 88.3h1v1h-1zM8.1 25.2h1v1h-1zM48.3 47.1h1v1h-1zM16.7 53.0h1v1h-1zM53.1 94.8h1v1h-1zM94.0 112.9h1v1h-1zM110.5 95.7h1v1h-1zM97.1 55.7h1v1h-1zM138.0 82.6h1v1h-1zM161.4 91.7h1v1h-1zM118.5 33.7h1v1h-1zM137.2 48.2h1v1h-1zM22.0 8.3h1v1h-1zM28.6 33.1h1v1h-1zM114.2 36.0h1v1h-1zM10.7 96.2h1v1h-1zM94.2 3.5h1v1h-1zM8.6 16.4h1v1h-1zM60.4 108.3h1v1h-1zM160.4 77.1h1v1h-1zM39.1 54.0h1v1h-1zM61.2 41.6h1v1h-1zM2.1 73.6h1v1h-1zM139.7 91.6h1v1h-1zM16.1 66.8h1v1h-1zM28.9 89.4h1v1h-1zM75.4 118.3h1v1h-1zM134.3 14.9h1v1h-1zM53.6 115.3h1v1h-1zM77.9 54.7h1v1h-1zM74.6 96.7h1v1h-1zM158.2 67.1h1v1h-1zM163.9 75.1h1v1h-1zM17.5 102.6h1v1h-1zM70.9 6.6h1v1h-1zM165.3 4.1h1v1h-1zM97.5 60.7h1v1h-1zM149.0 49.5h1v1h-1zM36.4 34.9h1v1h-1zM34.0 70.9h1v1h-1zM60.3 94.6h1v1h-1zM40.8 44.3h1v1h-1zM42.0 123.8h1v1h-1zM142.0 107.1h1v1h-1zM104.5 50.5h1v1h-1zM24.2 104.8h1v1h-1zM82.8 4.8h1v1h-1zM28.7 12.4h1v1h-1zM121.3 113.4h1v1h-1zM33.7 100.4h1v1h-1zM54.8 86.0h1v1h-1zM145.9 78.5h1v1h-1zM135.3 47.4h1v1h-1zM1.7 64.5h1v1h-1zM99.1 23.3h1v1h-1zM65.8 40.0h1v1h-1zM4.6 39.3h1v1h-1zM64.7 60.0h1v1h-1zM118.9 50.3h1v1h-1zM166.0 102.8h1v1h-1zM156.1 87.3h1v1h-1zM113.3 67.6h1v1h-1zM135.0 45.7h1v1h-1zM100.3 85.6h1v1h-1zM88.3 35.8h1v1h-1zM13.1 11.0h1v1h-1zM60.1 73.1h1v1h-1zM128.4 90.0h1v1h-1zM51.8 117.1h1v1h-1zM46.4 90.2h1v1h-1zM12.2 94.9h1v1h-1zM113.2 120.6h1v1h-1zM151.6 86.6h1v1h-1zM141.7 93.1h1v1h-1zM103.3 26.3h1v1h-1zM87.3 112.9h1v1h-1zM40.4 122.8h1v1h-1zM91.9 49.6h1v1h-1zM0.5 49.2h1v1h-1zM30.1 82.3h1v1h-1zM152.0 114.7h1v1h-1zM103.7 48.7h1v1h-1zM18.4 86.8h1v1h-1zM93.5 90.1h1v1h-1zM63.2 111.7h1v1h-1zM35.9 38.5h1v1h-1zM45.2 78.4h1v1h-1zM151.6 21.1h1v1h-1zM106.9 96.6h1v1h-1zM38.0 7.9h1v1h-1zM95.6 104.6h1v1h-1zM148.5 91.7h1v1h-1zM70.4 53.6h1v1h-1zM89.4 114.0h1v1h-1zM51.1 35.4h1v1h-1zM102.3 121.8h1v1h-1zM31.6 3.8h1v1h-1zM19.5 70.9h1v1h-1zM102.0 23.2h1v1h-1zM32.2 74.9h1v1h-1zM109.2 87.0h1v1h-1zM123.2 7.7h1v1h-1zM81.9 105.2h1v1h-1zM161.8 40.1h1v1h-1zM143.7 81.3h1v1h-1zM156.6 28.9h1v1h-1zM117.8 105.9h1v1h-1zM80.6 12.7h1v1h-1zM32.7 19.7h1v1h-1zM15.7 19.1h1v1h-1zM104.1 13.2h1v1h-1zM128.1 92.8h1v1h-1zM138.0 101.3h1v1h-1zM120.5 116.4h1v1h-1zM161.7 78.8h1v1h-1zM163.1 13.0h1v1h-1zM17.4 8.1h1v1h-1zM34.9 47.2h1v1h-1zM77.5 85.7h1v1h-1zM125.6 10.6h1v1h-1zM68.1 68.5h1v1h-1zM63.4 14.8h1v1h-1zM100.9 47.2h1v1h-1zM115.5 62.4h1v1h-1zM162.7 119.1h1v1h-1zM12.2 95.7h1v1h-1zM121.9 37.3h1v1h-1zM19.7 60.4h1v1h-1zM59.8 92.9h1v1h-1zM155.2 48.1h1v1h-1zM49.1 62.8h1v1h-1zM117.8 99.4h1v1h-1zM97.3 37.3h1v1h-1zM56.9 106.8h1v1h-1zM87.8 6.3h1v1h-1zM71.1 30.0h1v1h-1zM112.6 9.2h1v1h-1zM45.8 12.1h1v1h-1zM80.7 124.1h1v1h-1zM91.5 48.7h1v1h-1zM157.8 11.6h1v1h-1zM60.1 102.2h1v1h-1zM0.9 96.5h1v1h-1zM61.0 2.1h1v1h-1zM42.4 57.7h1v1h-1zM64.7 65.1h1v1h-1zM9.0 27.5h1v1h-1zM164.7 55.8h1v1h-1zM79.7 10.8h1v1h-1zM47.2 120.3h1v1h-1zM116.1 64.0h1v1h-1zM9.0 49.5h1v1h-1zM131.6 54.8h1v1h-1zM100.3 113.7h1v1h-1zM109.0 80.1h1v1h-1zM6.1 3.0h1v1h-1zM130.1 52.1h1v1h-1zM147.7 104.0h1v1h-1zM154.7 47.7h1v1h-1zM168.8 95.3h1v1h-1zM150.7 18.7h1v1h-1zM132.0 53.2h1v1h-1zM164.3 125.3h1v1h-1zM36.6 53.1h1v1h-1zM45.8 59.2h1v1h-1zM48.4 84.0h1v1h-1zM20.8 21.3h1v1h-1zM77.3 9.3h1v1h-1zM64.4 113.1h1v1h-1zM149.6 24.8h1v1h-1zM3.1 104.4h1v1h-1zM162.4 75.5h1v1h-1zM23.0 29.8h1v1h-1zM155.5 118.1h1v1h-1zM5.3 23.3h1v1h-1zM72.5 33.6h1v1h-1zM127.4 47.0h1v1h-1zM131.0 19.1h1v1h-1zM87.6 122.8h1v1h-1zM118.6 11.3h1v1h-1zM18.8 81.1h1v1h-1zM63.4 46.5h1v1h-1zM80.7 73.3h1v1h-1zM163.2 30.4h1v1h-1zM96.1 33.1h1v1h-1zM92.2 92.2h1v1h-1zM22.6 60.6h1v1h-1zM119.3 1.0h1v1h-1zM130.3 52.8h1v1h-1zM85.2 76.9h1v1h-1zM134.0 7.1h1v1h-1zM84.6 4.8h1v1h-1zM65.1 43.6h1v1h-1zM3.6 37.5h1v1h-1zM76.1 82.5h1v1h-1zM156.3 46.7h1v1h-1zM89.6 89.9h1v1h-1zM158.4 119.7h1v1h-1zM167.0 38.0h1v1h-1zM28.2 117.4h1v1h-1zM13.1 56.5h1v1h-1zM124.4 66.6h1v1h-1zM65.7 116.5h1v1h-1zM50.6 69.5h1v1h-1zM140.2 17.4h1v1h-1zM59.3 62.3h1v1h-1zM95.6 26.1h1v1h-1zM76.7 7.5h1v1h-1zM14.9 43.1h1v1h-1zM24.3 121.9h1v1h-1zM44.5 34.7h1v1h-1zM132.4 93.4h1v1h-1zM44.3 104.5h1v1h-1zM105.7 49.0h1v1h-1zM106.3 31.0h1v1h-1zM44.5 110.4h1v1h-1zM74.1 113.1h1v1h-1zM29.9 17.3h1v1h-1zM8.8 93.2h1v1h-1zM94.8 1.2h1v1h-1zM7.3 103.8h1v1h-1zM83.5 109.8h1v1h-1zM6.7 74.2h1v1h-1zM19.8 90.9h1v1h-1zM103.3 77.1h1v1h-1zM37.4 119.6h1v1h-1zM18.8 8.1h1v1h-1zM115.6 11.7h1v1h-1zM11.3 58.0h1v1h-1zM109.7 112.4h1v1h-1zM121.8 8.7h1v1h-1zM108.7 106.3h1v1h-1zM20.4 95.1h1v1h-1zM43.7 37.6h1v1h-1zM0.3 95.5h1v1h-1z" fill="#7cc8a0" opacity="0.18"/><path d="M87.2 113.6h1v1h-1zM78.7 19.6h1v1h-1zM36.6 33.2h1v1h-1zM160.0 25.9h1v1h-1zM14.9 44.4h1v1h-1zM13.4 53.6h1v1h-1zM105.1 82.0h1v1h-1zM29.5 17.5h1v1h-1zM83.0 86.6h1v1h-1zM75.6 72.2h1v1h-1zM154.1 18.3h1v1h-1zM45.3 62.2h1v1h-1zM90.6 113.4h1v1h-1zM93.8 83.5h1v1h-1zM70.9 98.8h1v1h-1zM141.3 37.0h1v1h-1zM18.2 32.7h1v1h-1zM60.4 112.1h1v1h-1zM44.7 79.3h1v1h-1zM108.3 120.5h1v1h-1zM19.7 97.0h1v1h-1zM56.9 13.0h1v1h-1zM106.8 106.4h1v1h-1zM98.4 6.3h1v1h-1zM164.3 48.4h1v1h-1zM107.5 91.2h1v1h-1zM44.1 51.5h1v1h-1zM55.7 12.1h1v1h-1zM10.9 90.3h1v1h-1zM69.4 109.6h1v1h-1zM10.6 38.0h1v1h-1zM30.4 118.9h1v1h-1zM133.6 112.9h1v1h-1zM85.6 13.1h1v1h-1zM70.3 28.5h1v1h-1zM4.5 71.2h1v1h-1zM49.0 13.6h1v1h-1zM86.5 117.6h1v1h-1zM159.9 58.7h1v1h-1zM17.4 96.9h1v1h-1zM19.4 67.7h1v1h-1zM14.1 124.4h1v1h-1zM91.7 55.1h1v1h-1zM46.0 69.4h1v1h-1zM164.4 53.9h1v1h-1zM35.4 64.8h1v1h-1zM155.2 48.1h1v1h-1zM107.1 115.8h1v1h-1zM55.0 102.2h1v1h-1zM89.4 17.6h1v1h-1zM9.1 118.3h1v1h-1zM78.8 55.8h1v1h-1zM155.1 72.3h1v1h-1zM84.5 35.8h1v1h-1zM125.8 32.3h1v1h-1zM79.5 95.6h1v1h-1zM102.2 16.9h1v1h-1zM34.3 87.6h1v1h-1zM123.2 12.9h1v1h-1zM168.6 16.8h1v1h-1zM28.3 11.3h1v1h-1zM75.4 78.1h1v1h-1zM144.9 20.6h1v1h-1zM118.1 13.3h1v1h-1zM98.1 31.7h1v1h-1zM60.2 6.6h1v1h-1zM121.8 15.4h1v1h-1zM129.1 42.4h1v1h-1zM100.0 80.5h1v1h-1zM82.6 110.1h1v1h-1zM155.4 35.5h1v1h-1zM56.4 110.5h1v1h-1zM22.4 52.9h1v1h-1zM70.1 123.0h1v1h-1zM21.7 82.5h1v1h-1zM127.9 91.8h1v1h-1zM0.2 118.9h1v1h-1zM52.8 107.5h1v1h-1zM111.8 53.0h1v1h-1zM141.6 85.1h1v1h-1zM57.4 92.2h1v1h-1zM85.4 89.7h1v1h-1zM103.8 100.3h1v1h-1zM26.9 62.3h1v1h-1zM0.2 99.6h1v1h-1zM130.4 105.5h1v1h-1zM7.3 67.4h1v1h-1zM80.9 15.1h1v1h-1zM34.2 122.8h1v1h-1zM144.1 30.0h1v1h-1zM140.1 82.0h1v1h-1zM65.0 81.2h1v1h-1zM38.7 34.5h1v1h-1zM1.7 82.7h1v1h-1zM98.3 93.7h1v1h-1zM85.1 54.8h1v1h-1zM51.8 92.6h1v1h-1zM63.0 75.2h1v1h-1zM128.0 56.0h1v1h-1zM116.0 7.8h1v1h-1zM44.0 105.9h1v1h-1zM24.9 7.2h1v1h-1zM2.4 96.5h1v1h-1zM18.0 57.7h1v1h-1zM74.1 101.2h1v1h-1zM80.5 65.7h1v1h-1zM4.2 100.2h1v1h-1zM129.7 78.6h1v1h-1zM141.1 77.4h1v1h-1zM121.0 107.2h1v1h-1zM104.3 2.6h1v1h-1zM149.5 124.7h1v1h-1zM34.0 8.3h1v1h-1zM57.5 12.6h1v1h-1zM62.4 11.2h1v1h-1zM37.2 0.4h1v1h-1zM72.4 37.8h1v1h-1zM123.2 49.0h1v1h-1zM28.1 120.1h1v1h-1zM151.2 86.8h1v1h-1zM36.7 50.7h1v1h-1zM76.2 51.5h1v1h-1zM4.4 57.4h1v1h-1zM129.7 87.4h1v1h-1zM145.4 86.0h1v1h-1zM128.9 109.7h1v1h-1zM155.0 99.9h1v1h-1zM70.3 83.1h1v1h-1zM111.2 111.2h1v1h-1zM120.6 55.9h1v1h-1zM32.2 41.3h1v1h-1zM42.3 85.9h1v1h-1zM130.0 24.2h1v1h-1zM90.2 105.9h1v1h-1zM61.8 11.9h1v1h-1zM102.3 45.7h1v1h-1zM24.3 36.3h1v1h-1zM1.2 18.8h1v1h-1zM71.9 13.2h1v1h-1zM1.0 69.3h1v1h-1zM161.9 105.1h1v1h-1zM55.1 116.5h1v1h-1zM13.5 19.0h1v1h-1zM1.1 7.4h1v1h-1zM101.7 95.4h1v1h-1zM80.7 101.2h1v1h-1zM76.3 115.8h1v1h-1zM102.8 67.7h1v1h-1zM28.8 53.7h1v1h-1zM74.4 103.7h1v1h-1zM38.8 37.1h1v1h-1zM138.0 8.9h1v1h-1zM90.7 27.7h1v1h-1zM112.4 74.9h1v1h-1zM15.9 92.0h1v1h-1zM68.8 40.4h1v1h-1zM144.8 98.1h1v1h-1zM52.3 85.4h1v1h-1zM20.9 65.4h1v1h-1zM13.9 80.7h1v1h-1zM154.8 80.2h1v1h-1zM6.9 64.7h1v1h-1zM79.3 55.8h1v1h-1zM25.5 35.1h1v1h-1zM76.0 9.0h1v1h-1zM114.0 30.7h1v1h-1zM49.1 11.4h1v1h-1zM51.1 117.3h1v1h-1zM49.3 12.1h1v1h-1zM58.4 119.1h1v1h-1zM14.9 43.2h1v1h-1zM35.3 85.9h1v1h-1zM78.0 12.4h1v1h-1zM145.7 41.3h1v1h-1zM115.9 57.1h1v1h-1zM147.3 7.3h1v1h-1zM38.5 36.0h1v1h-1zM44.7 103.6h1v1h-1zM84.9 43.7h1v1h-1zM85.7 106.6h1v1h-1zM96.3 56.9h1v1h-1zM111.0 77.5h1v1h-1zM68.5 53.7h1v1h-1zM22.3 55.3h1v1h-1zM148.5 38.6h1v1h-1zM61.7 76.0h1v1h-1zM99.8 22.1h1v1h-1zM75.4 92.5h1v1h-1zM7.0 13.7h1v1h-1zM127.7 114.1h1v1h-1zM11.4 10.3h1v1h-1zM105.9 35.8h1v1h-1zM111.0 4.3h1v1h-1zM77.2 20.4h1v1h-1zM56.1 87.4h1v1h-1zM86.2 107.5h1v1h-1zM142.3 78.0h1v1h-1zM143.2 22.4h1v1h-1zM80.2 40.3h1v1h-1zM105.6 14.0h1v1h-1zM149.6 46.7h1v1h-1zM132.5 118.8h1v1h-1zM158.9 49.2h1v1h-1zM144.8 125.6h1v1h-1zM22.0 94.2h1v1h-1zM122.9 57.7h1v1h-1zM47.0 21.8h1v1h-1zM69.6 117.4h1v1h-1zM67.9 32.2h1v1h-1zM104.7 55.1h1v1h-1zM103.7 57.3h1v1h-1zM48.4 4.5h1v1h-1zM138.3 83.0h1v1h-1zM41.2 62.9h1v1h-1zM98.2 63.5h1v1h-1zM152.3 98.1h1v1h-1zM51.8 42.7h1v1h-1zM103.4 20.5h1v1h-1zM157.9 5.7h1v1h-1zM84.4 34.4h1v1h-1zM88.9 5.7h1v1h-1zM37.9 124.6h1v1h-1zM133.2 27.8h1v1h-1zM77.1 4.1h1v1h-1zM20.6 24.2h1v1h-1zM166.3 39.3h1v1h-1zM41.9 8.2h1v1h-1zM18.6 125.4h1v1h-1zM125.1 116.0h1v1h-1zM141.2 98.6h1v1h-1zM43.1 21.3h1v1h-1zM45.6 8.2h1v1h-1zM29.6 90.7h1v1h-1zM83.0 1.3h1v1h-1zM51.5 107.0h1v1h-1zM143.8 91.9h1v1h-1zM123.6 114.9h1v1h-1zM94.2 48.3h1v1h-1zM96.9 35.6h1v1h-1zM6.2 32.8h1v1h-1zM77.3 15.1h1v1h-1zM13.6 31.2h1v1h-1zM62.2 120.6h1v1h-1zM82.3 105.5h1v1h-1zM125.8 74.6h1v1h-1zM54.5 49.5h1v1h-1zM53.6 79.9h1v1h-1zM144.5 99.6h1v1h-1zM49.9 18.8h1v1h-1zM1.5 73.6h1v1h-1zM38.5 0.7h1v1h-1zM51.0 28.8h1v1h-1zM34.7 83.7h1v1h-1zM98.8 35.5h1v1h-1zM123.5 26.0h1v1h-1zM155.7 15.0h1v1h-1zM100.0 88.8h1v1h-1zM123.8 61.4h1v1h-1zM147.3 79.3h1v1h-1zM116.7 10.0h1v1h-1zM31.6 58.7h1v1h-1zM92.1 12.0h1v1h-1zM125.3 43.7h1v1h-1zM80.3 65.8h1v1h-1zM141.8 38.1h1v1h-1zM94.6 76.3h1v1h-1zM110.8 39.3h1v1h-1zM47.2 59.3h1v1h-1zM101.6 81.2h1v1h-1zM22.6 56.2h1v1h-1zM94.7 24.5h1v1h-1zM17.3 117.0h1v1h-1zM3.5 62.8h1v1h-1zM49.8 3.9h1v1h-1zM45.6 20.3h1v1h-1zM67.6 114.6h1v1h-1zM13.4 44.3h1v1h-1zM117.4 78.7h1v1h-1zM3.5 28.8h1v1h-1zM47.5 112.8h1v1h-1zM74.7 32.5h1v1h-1zM81.2 61.1h1v1h-1zM25.3 84.1h1v1h-1zM121.8 60.1h1v1h-1zM90.8 97.1h1v1h-1zM161.6 77.2h1v1h-1zM7.5 63.6h1v1h-1zM111.9 41.7h1v1h-1zM115.6 46.3h1v1h-1zM104.2 77.4h1v1h-1zM113.2 116.6h1v1h-1zM119.6 89.4h1v1h-1zM119.0 29.1h1v1h-1zM103.8 78.2h1v1h-1zM10.3 95.0h1v1h-1zM38.3 62.0h1v1h-1zM88.5 91.0h1v1h-1zM129.3 59.0h1v1h-1zM158.8 55.8h1v1h-1zM95.7 124.9h1v1h-1zM54.7 90.0h1v1h-1zM161.6 10.6h1v1h-1zM131.3 82.1h1v1h-1zM91.2 99.5h1v1h-1zM145.3 18.5h1v1h-1zM82.2 77.5h1v1h-1zM118.1 120.8h1v1h-1zM135.7 104.4h1v1h-1zM10.9 53.7h1v1h-1zM154.4 119.2h1v1h-1zM127.8 42.0h1v1h-1zM130.1 67.0h1v1h-1zM112.8 80.3h1v1h-1zM146.2 90.0h1v1h-1zM164.0 62.2h1v1h-1zM83.4 82.8h1v1h-1zM94.9 6.2h1v1h-1zM162.1 40.2h1v1h-1zM84.4 5.3h1v1h-1zM32.2 117.0h1v1h-1zM46.9 37.6h1v1h-1zM137.2 30.4h1v1h-1zM112.8 71.6h1v1h-1zM151.5 60.1h1v1h-1zM55.5 32.6h1v1h-1zM61.5 0.0h1v1h-1zM20.2 18.7h1v1h-1zM53.2 96.8h1v1h-1zM159.2 44.6h1v1h-1zM42.2 37.0h1v1h-1zM106.3 60.3h1v1h-1zM19.9 66.0h1v1h-1zM45.5 18.1h1v1h-1zM132.7 13.3h1v1h-1zM74.2 96.5h1v1h-1zM91.7 110.1h1v1h-1zM53.6 119.2h1v1h-1zM7.4 112.8h1v1h-1zM71.7 0.4h1v1h-1zM43.8 124.6h1v1h-1zM121.1 92.9h1v1h-1zM137.1 0.8h1v1h-1zM51.9 58.7h1v1h-1zM153.7 114.4h1v1h-1zM25.3 124.4h1v1h-1zM93.7 38.4h1v1h-1zM14.0 53.8h1v1h-1zM88.0 57.1h1v1h-1zM52.5 119.4h1v1h-1zM80.3 38.8h1v1h-1zM131.4 30.8h1v1h-1zM71.5 13.1h1v1h-1zM40.2 125.6h1v1h-1zM105.0 66.0h1v1h-1zM113.8 84.7h1v1h-1zM88.1 46.2h1v1h-1zM24.9 3.7h1v1h-1zM20.4 51.1h1v1h-1zM1.7 85.0h1v1h-1zM57.0 29.4h1v1h-1zM53.0 62.1h1v1h-1zM35.4 107.4h1v1h-1zM81.6 8.6h1v1h-1zM14.4 112.2h1v1h-1zM97.7 36.7h1v1h-1zM120.5 5.8h1v1h-1zM150.2 118.0h1v1h-1zM112.3 6.4h1v1h-1zM72.0 105.4h1v1h-1zM100.3 26.3h1v1h-1zM39.6 8.0h1v1h-1zM88.2 22.9h1v1h-1zM75.3 112.8h1v1h-1zM152.2 62.0h1v1h-1zM132.5 16.9h1v1h-1zM160.2 109.1h1v1h-1zM81.6 111.6h1v1h-1zM50.2 123.5h1v1h-1zM54.6 116.5h1v1h-1zM141.5 117.8h1v1h-1zM122.9 9.2h1v1h-1zM47.2 82.6h1v1h-1zM153.6 85.8h1v1h-1zM6.6 43.8h1v1h-1zM58.3 21.6h1v1h-1zM38.0 65.0h1v1h-1zM63.0 33.6h1v1h-1zM69.6 119.4h1v1h-1zM100.8 94.7h1v1h-1zM157.6 3.9h1v1h-1zM148.8 12.0h1v1h-1zM33.2 93.2h1v1h-1zM127.2 77.5h1v1h-1zM80.5 91.0h1v1h-1zM72.3 24.5h1v1h-1zM37.1 14.2h1v1h-1zM6.2 119.9h1v1h-1zM160.6 43.9h1v1h-1zM69.7 35.1h1v1h-1zM132.0 62.0h1v1h-1zM28.8 111.4h1v1h-1zM156.9 5.9h1v1h-1zM77.6 27.8h1v1h-1zM108.0 45.2h1v1h-1zM50.3 38.1h1v1h-1zM102.6 63.4h1v1h-1zM82.4 85.8h1v1h-1zM80.0 119.3h1v1h-1zM74.1 99.8h1v1h-1zM157.3 78.3h1v1h-1zM99.6 99.5h1v1h-1zM120.3 24.4h1v1h-1zM70.4 19.8h1v1h-1zM3.6 86.6h1v1h-1zM55.6 32.1h1v1h-1zM4.4 2.8h1v1h-1zM113.5 45.1h1v1h-1zM73.7 85.2h1v1h-1zM153.4 88.3h1v1h-1zM37.1 124.6h1v1h-1zM31.0 73.2h1v1h-1zM108.8 36.2h1v1h-1zM150.2 76.9h1v1h-1zM120.0 17.5h1v1h-1zM140.7 36.2h1v1h-1zM104.5 92.9h1v1h-1zM54.5 33.4h1v1h-1zM55.8 123.3h1v1h-1zM111.1 59.4h1v1h-1zM95.0 82.6h1v1h-1zM44.3 9.6h1v1h-1zM18.4 73.3h1v1h-1zM101.2 123.2h1v1h-1zM104.9 107.5h1v1h-1zM166.8 62.6h1v1h-1zM71.3 59.4h1v1h-1zM62.8 95.8h1v1h-1zM97.2 15.4h1v1h-1zM161.5 66.3h1v1h-1zM126.5 69.0h1v1h-1zM99.5 72.6h1v1h-1zM19.4 16.5h1v1h-1zM123.5 44.0h1v1h-1zM21.8 102.7h1v1h-1zM126.4 96.2h1v1h-1zM65.4 16.6h1v1h-1zM128.4 27.2h1v1h-1zM112.9 87.8h1v1h-1zM46.2 0.3h1v1h-1zM99.8 99.6h1v1h-1zM99.4 124.0h1v1h-1zM38.6 92.1h1v1h-1zM73.6 73.1h1v1h-1zM51.1 29.0h1v1h-1zM92.7 76.5h1v1h-1zM153.7 76.1h1v1h-1zM84.4 82.0h1v1h-1zM106.1 51.4h1v1h-1zM45.1 86.0h1v1h-1zM65.4 4.7h1v1h-1zM28.7 45.2h1v1h-1zM116.0 82.7h1v1h-1zM82.8 102.9h1v1h-1zM55.2 44.2h1v1h-1zM126.9 85.6h1v1h-1zM72.0 112.1h1v1h-1zM4.5 67.6h1v1h-1zM145.1 110.8h1v1h-1zM32.6 101.7h1v1h-1zM90.1 117.8h1v1h-1zM55.5 83.7h1v1h-1zM108.5 124.8h1v1h-1zM57.3 49.1h1v1h-1zM21.1 86.1h1v1h-1zM11.9 107.0h1v1h-1zM24.7 24.0h1v1h-1zM160.5 62.8h1v1h-1zM127.6 43.5h1v1h-1zM41.0 46.4h1v1h-1zM166.1 24.2h1v1h-1zM152.9 111.2h1v1h-1zM115.0 33.5h1v1h-1zM123.5 114.0h1v1h-1zM100.2 27.7h1v1h-1zM103.1 120.5h1v1h-1zM99.8 18.8h1v1h-1zM34.2 79.4h1v1h-1zM8.1 0.2h1v1h-1zM63.2 32.4h1v1h-1zM83.4 9.3h1v1h-1zM94.6 85.1h1v1h-1zM53.6 73.3h1v1h-1zM89.1 99.4h1v1h-1zM97.4 80.4h1v1h-1zM95.3 103.7h1v1h-1zM16.3 14.4h1v1h-1zM146.3 105.1h1v1h-1zM1.4 112.7h1v1h-1zM102.9 107.9h1v1h-1zM118.5 47.4h1v1h-1z" fill="#2a1b4a" opacity="0.2"/></g><text x="565.6" y="247.5" font-size="13" fill="#1a1a1a" text-anchor="middle">Original</text><text x="752.2" y="247.5" font-size="13" fill="#1a1a1a" text-anchor="middle">Augmented</text><text x="565.6" y="415.1" font-size="13" fill="#1a1a1a" text-anchor="middle">Original</text><text x="752.2" y="415.1" font-size="13" fill="#1a1a1a" text-anchor="middle">Augmented</text><rect x="481.3" y="274.2" width="169.8" height="125.7" fill="#000"/><rect x="666.6" y="274.2" width="171" height="125.7" fill="#000"/><path d="M540.0 328 L562.6 330 L561.5 350.5 L539.5 349 Z" fill="#fff"/><path d="M725.0 327 L748.5 327.5 L737.0 351 L726.0 350.5 Z" fill="#e8e8e8"/><path d="M728.2 344.3h1v1h-1zM739.5 338.4h1v1h-1zM731.1 336.3h1v1h-1zM743.8 338.3h1v1h-1zM730.0 348.7h1v1h-1zM744.6 332.5h1v1h-1zM729.7 343.6h1v1h-1zM733.4 338.5h1v1h-1zM739.0 334.5h1v1h-1zM737.3 333.1h1v1h-1zM730.2 339.9h1v1h-1zM734.1 346.9h1v1h-1zM728.7 347.3h1v1h-1zM731.0 335.9h1v1h-1zM728.0 335.3h1v1h-1zM744.6 336.2h1v1h-1zM741.9 348.5h1v1h-1zM739.2 332.7h1v1h-1zM734.2 332.3h1v1h-1zM730.7 335.7h1v1h-1zM729.2 342.6h1v1h-1zM735.9 334.8h1v1h-1zM730.8 331.8h1v1h-1zM728.2 337.8h1v1h-1zM727.4 339.5h1v1h-1zM730.9 344.4h1v1h-1zM731.1 346.1h1v1h-1zM744.0 347.6h1v1h-1zM730.3 347.6h1v1h-1zM735.0 346.7h1v1h-1zM734.8 339.8h1v1h-1zM730.9 344.1h1v1h-1zM733.0 346.7h1v1h-1zM739.4 337.6h1v1h-1zM726.6 334.4h1v1h-1zM733.9 336.4h1v1h-1zM737.1 329.1h1v1h-1zM734.9 346.9h1v1h-1zM744.1 342.8h1v1h-1zM739.0 341.1h1v1h-1zM745.0 344.8h1v1h-1zM734.7 338.9h1v1h-1zM743.9 340.0h1v1h-1zM737.4 335.2h1v1h-1zM738.6 338.8h1v1h-1zM743.9 349.0h1v1h-1zM744.9 348.0h1v1h-1zM726.8 330.5h1v1h-1zM732.4 345.5h1v1h-1zM736.6 334.1h1v1h-1zM727.9 334.0h1v1h-1zM728.4 331.9h1v1h-1zM740.2 332.9h1v1h-1zM729.2 341.4h1v1h-1zM728.5 345.7h1v1h-1zM738.4 346.6h1v1h-1zM739.8 343.6h1v1h-1zM731.1 337.5h1v1h-1zM733.2 336.8h1v1h-1zM743.3 337.7h1v1h-1z" fill="#222"/><rect x="480.4" y="439.1" width="68.4" height="67.7" fill="#dce8f5"/><g transform="translate(514.6,473.1) scale(1.12) translate(-514.6,-473.1)"><rect x="509.6" y="451.1" width="10" height="26" rx="4" fill="#2a7d50"/><rect x="512.6" y="458.1" width="4" height="12" fill="#4a2380"/><rect x="506.6" y="476.1" width="16" height="15" rx="4" fill="#b39ae8"/></g><rect x="552.9" y="439.1" width="68.4" height="67.7" fill="#dce8f5"/><g transform="translate(587.1,473.1) scale(1.12) translate(-587.1,-473.1)"><ellipse cx="587.1" cy="471.1" rx="6" ry="18" fill="#2a7d50"/><ellipse cx="587.1" cy="459.1" rx="4" ry="7" fill="#4a2380"/></g><rect x="625.0" y="439.1" width="68.4" height="67.7" fill="#dce8f5"/><g transform="translate(659.2,473.1) scale(1.0) translate(-659.2,-473.1)"><path d="M639.2 453.1 L673.2 465.1 L673.2 471.1 L641.2 461.1 Z" fill="#4a2380"/><path d="M653.2 459.1 L677.2 465.1 L675.2 473.1 L651.2 467.1 Z" fill="#2a7d50"/><path d="M659.2 469.1 L667.2 471.1 L667.2 493.1 L655.2 493.1 Z" fill="#2a7d50"/><rect x="651.2" y="492.1" width="16" height="5" rx="2" fill="#4a8f5a"/></g><rect x="697.5" y="439.1" width="68.4" height="67.7" fill="#dce8f5"/><g transform="translate(731.7,473.1) scale(1.12) translate(-731.7,-473.1)"><ellipse cx="731.7" cy="471.1" rx="6" ry="18" fill="#2a7d50"/><ellipse cx="731.7" cy="481.1" rx="4" ry="7" fill="#4a2380"/></g><rect x="770.0" y="439.1" width="68.4" height="67.7" fill="#dce8f5"/><g transform="translate(804.2,473.1) scale(1.0) translate(-804.2,-473.1)"><path d="M784.2 453.1 L818.2 465.1 L818.2 471.1 L786.2 461.1 Z" fill="#4a2380"/><path d="M798.2 459.1 L822.2 465.1 L820.2 473.1 L796.2 467.1 Z" fill="#2a7d50"/><path d="M804.2 469.1 L812.2 471.1 L812.2 493.1 L800.2 493.1 Z" fill="#2a7d50"/><rect x="796.2" y="492.1" width="16" height="5" rx="2" fill="#4a8f5a"/></g><rect x="480.4" y="511.1" width="68.4" height="67.7" fill="#dce8f5"/><g transform="translate(514.6,545.1) scale(1.12) translate(-514.6,-545.1)"><ellipse cx="514.6" cy="543.1" rx="6" ry="18" fill="#2a7d50"/><ellipse cx="514.6" cy="531.1" rx="4" ry="7" fill="#4a2380"/><circle cx="514.6" cy="529.1" r="7" fill="#4a2380"/></g><rect x="552.9" y="511.1" width="68.4" height="67.7" fill="#dce8f5"/><g transform="translate(587.1,545.1) scale(1.12) translate(-587.1,-545.1)"><circle cx="587.1" cy="529.1" r="5.5" fill="#2a7d50"/><rect x="583.1" y="533.1" width="8" height="26" rx="3" fill="#2a7d50"/><rect x="585.6" y="537.1" width="3" height="18" fill="#8a2f4a"/><rect x="580.1" y="558.1" width="14" height="7" rx="2.5" fill="#b39ae8"/></g><rect x="625.0" y="511.1" width="68.4" height="67.7" fill="#dce8f5"/><g transform="translate(659.2,545.1) scale(1.0) translate(-659.2,-545.1)"><rect x="633.2" y="539.1" width="48" height="12" rx="6" fill="#2a7d50"/><rect x="665.2" y="539.6" width="18" height="11" rx="5" fill="#4a2380"/></g><rect x="697.5" y="511.1" width="68.4" height="67.7" fill="#dce8f5"/><g transform="translate(731.7,545.1) scale(1.12) translate(-731.7,-545.1)"><ellipse cx="731.7" cy="545.1" rx="18" ry="5" fill="#2a7d50"/><rect x="721.7" y="537.6" width="20" height="15" rx="4" fill="#b39ae8"/><ellipse cx="715.7" cy="545.1" rx="5" ry="4" fill="#4a2380"/></g><rect x="770.0" y="511.1" width="68.4" height="67.7" fill="#dce8f5"/><g transform="translate(804.2,545.1) scale(1.12) translate(-804.2,-545.1)"><ellipse cx="804.2" cy="531.1" rx="4.5" ry="11" fill="#4a2380"/><rect x="799.7" y="541.1" width="9" height="24" rx="3" fill="#2a7d50"/><rect x="796.7" y="563.1" width="15" height="8" rx="2.5" fill="#b39ae8"/></g></svg></div></body></html>
